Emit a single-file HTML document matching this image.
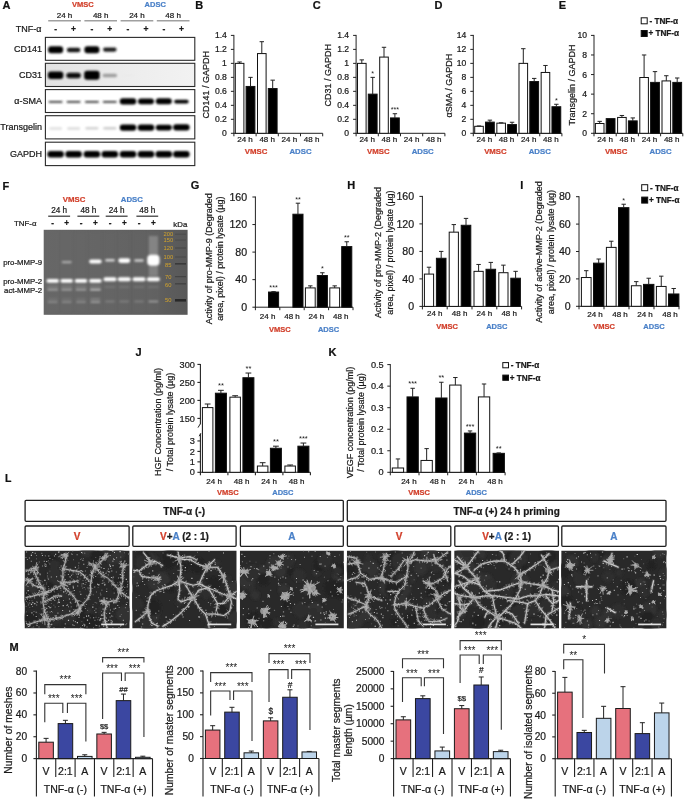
<!DOCTYPE html>
<html><head><meta charset="utf-8"><style>
html,body{margin:0;padding:0;background:#fff;}
svg{display:block;font-family:"Liberation Sans", Arial, sans-serif;}
</style></head><body>
<svg width="685" height="800" viewBox="0 0 685 800">
<defs>
<linearGradient id="gelbg" x1="0" y1="0" x2="1" y2="0"><stop offset="0" stop-color="#666666"/><stop offset="0.75" stop-color="#606060"/><stop offset="1" stop-color="#585858"/></linearGradient>
<filter id="blur1" x="-20%" y="-50%" width="140%" height="200%"><feGaussianBlur stdDeviation="0.9"/></filter>
<filter id="blur2" x="-30%" y="-80%" width="160%" height="260%"><feGaussianBlur stdDeviation="1.2"/></filter>
<filter id="blur05" x="-30%" y="-80%" width="160%" height="260%"><feGaussianBlur stdDeviation="0.5"/></filter>
<linearGradient id="cd31bg" x1="0" y1="0" x2="1" y2="0">
<stop offset="0" stop-color="#e2e2e2"/><stop offset="0.5" stop-color="#ececec"/><stop offset="1" stop-color="#f2f2f2"/></linearGradient>
</defs>
<rect width="685" height="800" fill="#fff"/>
<text x="2.60" y="9.39" font-size="11" text-anchor="start" font-weight="bold" fill="#111" stroke="#111" stroke-width="0.22">A</text>
<text x="82.90" y="6.49" font-size="7.5" text-anchor="middle" font-weight="bold" fill="#d2402c" stroke="#d2402c" stroke-width="0.22">VMSC</text>
<text x="155.20" y="6.49" font-size="7.5" text-anchor="middle" font-weight="bold" fill="#4a80c8" stroke="#4a80c8" stroke-width="0.22">ADSC</text>
<text x="64.55" y="18.16" font-size="8" text-anchor="middle" fill="#1a1a1a" stroke="#1a1a1a" stroke-width="0.22">24 h</text>
<line x1="48.20" y1="20.70" x2="80.90" y2="20.70" stroke="#a0a0a0" stroke-width="1.6"/>
<text x="100.70" y="18.16" font-size="8" text-anchor="middle" fill="#1a1a1a" stroke="#1a1a1a" stroke-width="0.22">48 h</text>
<line x1="84.40" y1="20.70" x2="117.00" y2="20.70" stroke="#a0a0a0" stroke-width="1.6"/>
<text x="136.95" y="18.16" font-size="8" text-anchor="middle" fill="#1a1a1a" stroke="#1a1a1a" stroke-width="0.22">24 h</text>
<line x1="120.60" y1="20.70" x2="153.30" y2="20.70" stroke="#a0a0a0" stroke-width="1.6"/>
<text x="173.15" y="18.16" font-size="8" text-anchor="middle" fill="#1a1a1a" stroke="#1a1a1a" stroke-width="0.22">48 h</text>
<line x1="156.80" y1="20.70" x2="189.50" y2="20.70" stroke="#a0a0a0" stroke-width="1.6"/>
<text x="41.50" y="31.91" font-size="9" text-anchor="end" fill="#1a1a1a" stroke="#1a1a1a" stroke-width="0.22">TNF-α</text>
<text x="55.60" y="31.53" font-size="8.5" text-anchor="middle" font-weight="bold" fill="#1a1a1a" stroke="#1a1a1a" stroke-width="0.22">-</text>
<text x="73.60" y="31.53" font-size="8.5" text-anchor="middle" font-weight="bold" fill="#1a1a1a" stroke="#1a1a1a" stroke-width="0.22">+</text>
<text x="91.90" y="31.53" font-size="8.5" text-anchor="middle" font-weight="bold" fill="#1a1a1a" stroke="#1a1a1a" stroke-width="0.22">-</text>
<text x="109.80" y="31.53" font-size="8.5" text-anchor="middle" font-weight="bold" fill="#1a1a1a" stroke="#1a1a1a" stroke-width="0.22">+</text>
<text x="128.00" y="31.53" font-size="8.5" text-anchor="middle" font-weight="bold" fill="#1a1a1a" stroke="#1a1a1a" stroke-width="0.22">-</text>
<text x="146.00" y="31.53" font-size="8.5" text-anchor="middle" font-weight="bold" fill="#1a1a1a" stroke="#1a1a1a" stroke-width="0.22">+</text>
<text x="163.80" y="31.53" font-size="8.5" text-anchor="middle" font-weight="bold" fill="#1a1a1a" stroke="#1a1a1a" stroke-width="0.22">-</text>
<text x="181.40" y="31.53" font-size="8.5" text-anchor="middle" font-weight="bold" fill="#1a1a1a" stroke="#1a1a1a" stroke-width="0.22">+</text>
<rect x="45.40" y="37.40" width="149.40" height="22.90" fill="#fff"/>
<g filter="url(#blur1)">
<rect x="48.10" y="46.25" width="15.00" height="7.00" rx="3.00" fill="rgb(0,0,0)"/>
<rect x="66.85" y="47.75" width="13.50" height="4.40" rx="2.20" fill="rgb(20,20,20)"/>
<rect x="84.40" y="46.25" width="15.00" height="7.00" rx="3.00" fill="rgb(0,0,0)"/>
<rect x="103.05" y="47.45" width="13.50" height="4.20" rx="2.10" fill="rgb(31,31,31)"/>
</g>
<rect x="45.40" y="37.40" width="149.40" height="22.90" fill="none" stroke="#2a2a2a" stroke-width="1.1"/>
<text x="42.00" y="51.95" font-size="9" text-anchor="end" fill="#1a1a1a" stroke="#1a1a1a" stroke-width="0.22">CD141</text>
<rect x="45.40" y="63.30" width="149.40" height="23.20" fill="#fff"/>
<rect x="45.40" y="63.30" width="149.40" height="23.20" fill="url(#cd31bg)"/>
<g filter="url(#blur1)">
<rect x="47.85" y="71.45" width="15.50" height="7.50" rx="3.00" fill="rgb(0,0,0)"/>
<rect x="66.35" y="72.75" width="14.50" height="5.50" rx="2.75" fill="rgb(13,13,13)"/>
<rect x="84.15" y="70.70" width="15.50" height="9.00" rx="3.00" fill="rgb(0,0,0)"/>
<rect x="102.55" y="73.70" width="14.50" height="3.60" rx="1.80" fill="rgb(158,158,158)"/>
<rect x="122.00" y="73.95" width="12.00" height="2.50" rx="1.25" fill="rgb(235,235,235)"/>
</g>
<rect x="45.40" y="63.30" width="149.40" height="23.20" fill="none" stroke="#2a2a2a" stroke-width="1.1"/>
<text x="42.00" y="78.01" font-size="9" text-anchor="end" fill="#1a1a1a" stroke="#1a1a1a" stroke-width="0.22">CD31</text>
<rect x="45.40" y="89.60" width="149.40" height="22.90" fill="#fff"/>
<g filter="url(#blur1)">
<rect x="48.60" y="101.00" width="14.00" height="1.70" rx="0.85" fill="rgb(51,51,51)"/>
<rect x="66.60" y="101.00" width="14.00" height="1.70" rx="0.85" fill="rgb(51,51,51)"/>
<rect x="84.90" y="101.00" width="14.00" height="1.70" rx="0.85" fill="rgb(51,51,51)"/>
<rect x="102.80" y="101.00" width="14.00" height="1.70" rx="0.85" fill="rgb(51,51,51)"/>
<rect x="119.75" y="98.25" width="16.50" height="6.20" rx="3.00" fill="rgb(0,0,0)"/>
<rect x="138.00" y="98.45" width="16.00" height="5.80" rx="2.90" fill="rgb(0,0,0)"/>
<rect x="155.80" y="98.35" width="16.00" height="6.00" rx="3.00" fill="rgb(0,0,0)"/>
<rect x="174.15" y="99.65" width="14.50" height="3.80" rx="1.90" fill="rgb(0,0,0)"/>
</g>
<rect x="45.40" y="89.60" width="149.40" height="22.90" fill="none" stroke="#2a2a2a" stroke-width="1.1"/>
<text x="42.00" y="104.16" font-size="9" text-anchor="end" fill="#1a1a1a" stroke="#1a1a1a" stroke-width="0.22">α-SMA</text>
<rect x="45.40" y="115.70" width="149.40" height="23.20" fill="#fff"/>
<g filter="url(#blur1)">
<rect x="49.10" y="127.15" width="13.00" height="2.50" rx="1.25" fill="rgb(224,224,224)"/>
<rect x="67.10" y="127.15" width="13.00" height="2.50" rx="1.25" fill="rgb(219,219,219)"/>
<rect x="85.40" y="126.95" width="13.00" height="2.50" rx="1.25" fill="rgb(209,209,209)"/>
<rect x="103.30" y="126.95" width="13.00" height="2.50" rx="1.25" fill="rgb(204,204,204)"/>
<rect x="119.75" y="124.50" width="16.50" height="6.20" rx="3.00" fill="rgb(0,0,0)"/>
<rect x="137.75" y="124.50" width="16.50" height="6.20" rx="3.00" fill="rgb(0,0,0)"/>
<rect x="155.80" y="124.80" width="16.00" height="5.60" rx="2.80" fill="rgb(0,0,0)"/>
<rect x="173.15" y="124.20" width="16.50" height="6.20" rx="3.00" fill="rgb(0,0,0)"/>
</g>
<rect x="45.40" y="115.70" width="149.40" height="23.20" fill="none" stroke="#2a2a2a" stroke-width="1.1"/>
<text x="42.00" y="130.41" font-size="9" text-anchor="end" fill="#1a1a1a" stroke="#1a1a1a" stroke-width="0.22">Transgelin</text>
<rect x="45.40" y="142.20" width="149.40" height="23.40" fill="#fff"/>
<g filter="url(#blur1)">
<rect x="47.35" y="150.90" width="16.50" height="6.60" rx="3.00" fill="rgb(0,0,0)"/>
<rect x="65.35" y="150.90" width="16.50" height="6.60" rx="3.00" fill="rgb(0,0,0)"/>
<rect x="83.65" y="150.90" width="16.50" height="6.60" rx="3.00" fill="rgb(0,0,0)"/>
<rect x="101.55" y="150.90" width="16.50" height="6.60" rx="3.00" fill="rgb(0,0,0)"/>
<rect x="119.75" y="150.90" width="16.50" height="6.60" rx="3.00" fill="rgb(0,0,0)"/>
<rect x="137.75" y="150.90" width="16.50" height="6.60" rx="3.00" fill="rgb(0,0,0)"/>
<rect x="155.55" y="150.90" width="16.50" height="6.60" rx="3.00" fill="rgb(0,0,0)"/>
<rect x="173.15" y="150.90" width="16.50" height="6.60" rx="3.00" fill="rgb(0,0,0)"/>
</g>
<rect x="45.40" y="142.20" width="149.40" height="23.40" fill="none" stroke="#2a2a2a" stroke-width="1.1"/>
<text x="42.00" y="157.00" font-size="9" text-anchor="end" fill="#1a1a1a" stroke="#1a1a1a" stroke-width="0.22">GAPDH</text>
<text x="195.30" y="9.39" font-size="11" text-anchor="start" font-weight="bold" fill="#111" stroke="#111" stroke-width="0.22">B</text>
<text x="312.80" y="9.39" font-size="11" text-anchor="start" font-weight="bold" fill="#111" stroke="#111" stroke-width="0.22">C</text>
<text x="434.60" y="9.39" font-size="11" text-anchor="start" font-weight="bold" fill="#111" stroke="#111" stroke-width="0.22">D</text>
<text x="558.70" y="9.39" font-size="11" text-anchor="start" font-weight="bold" fill="#111" stroke="#111" stroke-width="0.22">E</text>
<line x1="233.90" y1="34.90" x2="233.90" y2="136.30" stroke="#222" stroke-width="1.0"/>
<line x1="230.90" y1="133.30" x2="233.90" y2="133.30" stroke="#222" stroke-width="1.0"/>
<text x="226.90" y="136.27" font-size="8.6" text-anchor="end" fill="#1a1a1a" stroke="#1a1a1a" stroke-width="0.22">0</text>
<line x1="230.90" y1="119.31" x2="233.90" y2="119.31" stroke="#222" stroke-width="1.0"/>
<text x="226.90" y="122.28" font-size="8.6" text-anchor="end" fill="#1a1a1a" stroke="#1a1a1a" stroke-width="0.22">0.2</text>
<line x1="230.90" y1="105.33" x2="233.90" y2="105.33" stroke="#222" stroke-width="1.0"/>
<text x="226.90" y="108.30" font-size="8.6" text-anchor="end" fill="#1a1a1a" stroke="#1a1a1a" stroke-width="0.22">0.4</text>
<line x1="230.90" y1="91.34" x2="233.90" y2="91.34" stroke="#222" stroke-width="1.0"/>
<text x="226.90" y="94.31" font-size="8.6" text-anchor="end" fill="#1a1a1a" stroke="#1a1a1a" stroke-width="0.22">0.6</text>
<line x1="230.90" y1="77.36" x2="233.90" y2="77.36" stroke="#222" stroke-width="1.0"/>
<text x="226.90" y="80.32" font-size="8.6" text-anchor="end" fill="#1a1a1a" stroke="#1a1a1a" stroke-width="0.22">0.8</text>
<line x1="230.90" y1="63.37" x2="233.90" y2="63.37" stroke="#222" stroke-width="1.0"/>
<text x="226.90" y="66.34" font-size="8.6" text-anchor="end" fill="#1a1a1a" stroke="#1a1a1a" stroke-width="0.22">1</text>
<line x1="230.90" y1="49.39" x2="233.90" y2="49.39" stroke="#222" stroke-width="1.0"/>
<text x="226.90" y="52.35" font-size="8.6" text-anchor="end" fill="#1a1a1a" stroke="#1a1a1a" stroke-width="0.22">1.2</text>
<line x1="230.90" y1="35.40" x2="233.90" y2="35.40" stroke="#222" stroke-width="1.0"/>
<text x="226.90" y="38.37" font-size="8.6" text-anchor="end" fill="#1a1a1a" stroke="#1a1a1a" stroke-width="0.22">1.4</text>
<line x1="233.40" y1="133.30" x2="322.70" y2="133.30" stroke="#222" stroke-width="1.0"/>
<line x1="256.10" y1="133.30" x2="256.10" y2="136.30" stroke="#222" stroke-width="1.0"/>
<line x1="278.30" y1="133.30" x2="278.30" y2="136.30" stroke="#222" stroke-width="1.0"/>
<line x1="300.50" y1="133.30" x2="300.50" y2="136.30" stroke="#222" stroke-width="1.0"/>
<line x1="322.70" y1="133.30" x2="322.70" y2="136.30" stroke="#222" stroke-width="1.0"/>
<rect x="235.30" y="63.37" width="8.60" height="69.93" fill="#fff" stroke="#111" stroke-width="1"/>
<line x1="239.60" y1="63.37" x2="239.60" y2="61.97" stroke="#222" stroke-width="1.0"/>
<line x1="237.40" y1="61.97" x2="241.80" y2="61.97" stroke="#222" stroke-width="1.0"/>
<rect x="246.10" y="86.45" width="8.80" height="46.85" fill="#000" stroke="#111" stroke-width="1"/>
<line x1="250.50" y1="86.45" x2="250.50" y2="77.36" stroke="#222" stroke-width="1.0"/>
<line x1="248.30" y1="77.36" x2="252.70" y2="77.36" stroke="#222" stroke-width="1.0"/>
<rect x="257.50" y="53.58" width="8.60" height="79.72" fill="#fff" stroke="#111" stroke-width="1"/>
<line x1="261.80" y1="53.58" x2="261.80" y2="41.69" stroke="#222" stroke-width="1.0"/>
<line x1="259.60" y1="41.69" x2="264.00" y2="41.69" stroke="#222" stroke-width="1.0"/>
<rect x="268.30" y="88.55" width="8.80" height="44.75" fill="#000" stroke="#111" stroke-width="1"/>
<line x1="272.70" y1="88.55" x2="272.70" y2="80.15" stroke="#222" stroke-width="1.0"/>
<line x1="270.50" y1="80.15" x2="274.90" y2="80.15" stroke="#222" stroke-width="1.0"/>
<text transform="translate(205.40,84.80) rotate(-90)" x="0" y="3.10" font-size="9" text-anchor="middle" fill="#1a1a1a" stroke="#1a1a1a" stroke-width="0.22">CD141 / GAPDH</text>
<text x="245.00" y="142.46" font-size="8" text-anchor="middle" fill="#1a1a1a" stroke="#1a1a1a" stroke-width="0.22">24 h</text>
<text x="267.20" y="142.46" font-size="8" text-anchor="middle" fill="#1a1a1a" stroke="#1a1a1a" stroke-width="0.22">48 h</text>
<text x="289.40" y="142.46" font-size="8" text-anchor="middle" fill="#1a1a1a" stroke="#1a1a1a" stroke-width="0.22">24 h</text>
<text x="311.60" y="142.46" font-size="8" text-anchor="middle" fill="#1a1a1a" stroke="#1a1a1a" stroke-width="0.22">48 h</text>
<text x="256.10" y="153.69" font-size="7.8" text-anchor="middle" font-weight="bold" fill="#d2402c" stroke="#d2402c" stroke-width="0.22">VMSC</text>
<text x="300.50" y="153.69" font-size="7.8" text-anchor="middle" font-weight="bold" fill="#4a80c8" stroke="#4a80c8" stroke-width="0.22">ADSC</text>
<line x1="356.10" y1="34.90" x2="356.10" y2="136.30" stroke="#222" stroke-width="1.0"/>
<line x1="353.10" y1="133.30" x2="356.10" y2="133.30" stroke="#222" stroke-width="1.0"/>
<text x="349.10" y="136.27" font-size="8.6" text-anchor="end" fill="#1a1a1a" stroke="#1a1a1a" stroke-width="0.22">0</text>
<line x1="353.10" y1="119.31" x2="356.10" y2="119.31" stroke="#222" stroke-width="1.0"/>
<text x="349.10" y="122.28" font-size="8.6" text-anchor="end" fill="#1a1a1a" stroke="#1a1a1a" stroke-width="0.22">0.2</text>
<line x1="353.10" y1="105.33" x2="356.10" y2="105.33" stroke="#222" stroke-width="1.0"/>
<text x="349.10" y="108.30" font-size="8.6" text-anchor="end" fill="#1a1a1a" stroke="#1a1a1a" stroke-width="0.22">0.4</text>
<line x1="353.10" y1="91.34" x2="356.10" y2="91.34" stroke="#222" stroke-width="1.0"/>
<text x="349.10" y="94.31" font-size="8.6" text-anchor="end" fill="#1a1a1a" stroke="#1a1a1a" stroke-width="0.22">0.6</text>
<line x1="353.10" y1="77.36" x2="356.10" y2="77.36" stroke="#222" stroke-width="1.0"/>
<text x="349.10" y="80.32" font-size="8.6" text-anchor="end" fill="#1a1a1a" stroke="#1a1a1a" stroke-width="0.22">0.8</text>
<line x1="353.10" y1="63.37" x2="356.10" y2="63.37" stroke="#222" stroke-width="1.0"/>
<text x="349.10" y="66.34" font-size="8.6" text-anchor="end" fill="#1a1a1a" stroke="#1a1a1a" stroke-width="0.22">1</text>
<line x1="353.10" y1="49.39" x2="356.10" y2="49.39" stroke="#222" stroke-width="1.0"/>
<text x="349.10" y="52.35" font-size="8.6" text-anchor="end" fill="#1a1a1a" stroke="#1a1a1a" stroke-width="0.22">1.2</text>
<line x1="353.10" y1="35.40" x2="356.10" y2="35.40" stroke="#222" stroke-width="1.0"/>
<text x="349.10" y="38.37" font-size="8.6" text-anchor="end" fill="#1a1a1a" stroke="#1a1a1a" stroke-width="0.22">1.4</text>
<line x1="355.60" y1="133.30" x2="444.90" y2="133.30" stroke="#222" stroke-width="1.0"/>
<line x1="378.30" y1="133.30" x2="378.30" y2="136.30" stroke="#222" stroke-width="1.0"/>
<line x1="400.50" y1="133.30" x2="400.50" y2="136.30" stroke="#222" stroke-width="1.0"/>
<line x1="422.70" y1="133.30" x2="422.70" y2="136.30" stroke="#222" stroke-width="1.0"/>
<line x1="444.90" y1="133.30" x2="444.90" y2="136.30" stroke="#222" stroke-width="1.0"/>
<rect x="357.50" y="63.37" width="8.60" height="69.93" fill="#fff" stroke="#111" stroke-width="1"/>
<line x1="361.80" y1="63.37" x2="361.80" y2="59.88" stroke="#222" stroke-width="1.0"/>
<line x1="359.60" y1="59.88" x2="364.00" y2="59.88" stroke="#222" stroke-width="1.0"/>
<rect x="368.30" y="94.14" width="8.80" height="39.16" fill="#000" stroke="#111" stroke-width="1"/>
<line x1="372.70" y1="94.14" x2="372.70" y2="77.36" stroke="#222" stroke-width="1.0"/>
<line x1="370.50" y1="77.36" x2="374.90" y2="77.36" stroke="#222" stroke-width="1.0"/>
<rect x="379.70" y="57.08" width="8.60" height="76.22" fill="#fff" stroke="#111" stroke-width="1"/>
<line x1="384.00" y1="57.08" x2="384.00" y2="47.29" stroke="#222" stroke-width="1.0"/>
<line x1="381.80" y1="47.29" x2="386.20" y2="47.29" stroke="#222" stroke-width="1.0"/>
<rect x="390.50" y="117.92" width="8.80" height="15.38" fill="#000" stroke="#111" stroke-width="1"/>
<line x1="394.90" y1="117.92" x2="394.90" y2="113.72" stroke="#222" stroke-width="1.0"/>
<line x1="392.70" y1="113.72" x2="397.10" y2="113.72" stroke="#222" stroke-width="1.0"/>
<text x="372.70" y="76.08" font-size="7.2" text-anchor="middle" fill="#1a1a1a">*</text>
<text x="394.90" y="112.45" font-size="7.2" text-anchor="middle" fill="#1a1a1a">***</text>
<text transform="translate(328.00,75.30) rotate(-90)" x="0" y="3.10" font-size="9" text-anchor="middle" fill="#1a1a1a" stroke="#1a1a1a" stroke-width="0.22">CD31 / GAPDH</text>
<text x="367.20" y="142.46" font-size="8" text-anchor="middle" fill="#1a1a1a" stroke="#1a1a1a" stroke-width="0.22">24 h</text>
<text x="389.40" y="142.46" font-size="8" text-anchor="middle" fill="#1a1a1a" stroke="#1a1a1a" stroke-width="0.22">48 h</text>
<text x="411.60" y="142.46" font-size="8" text-anchor="middle" fill="#1a1a1a" stroke="#1a1a1a" stroke-width="0.22">24 h</text>
<text x="433.80" y="142.46" font-size="8" text-anchor="middle" fill="#1a1a1a" stroke="#1a1a1a" stroke-width="0.22">48 h</text>
<text x="378.30" y="153.69" font-size="7.8" text-anchor="middle" font-weight="bold" fill="#d2402c" stroke="#d2402c" stroke-width="0.22">VMSC</text>
<text x="422.70" y="153.69" font-size="7.8" text-anchor="middle" font-weight="bold" fill="#4a80c8" stroke="#4a80c8" stroke-width="0.22">ADSC</text>
<line x1="473.30" y1="34.90" x2="473.30" y2="136.30" stroke="#222" stroke-width="1.0"/>
<line x1="470.30" y1="133.30" x2="473.30" y2="133.30" stroke="#222" stroke-width="1.0"/>
<text x="466.30" y="136.27" font-size="8.6" text-anchor="end" fill="#1a1a1a" stroke="#1a1a1a" stroke-width="0.22">0</text>
<line x1="470.30" y1="119.31" x2="473.30" y2="119.31" stroke="#222" stroke-width="1.0"/>
<text x="466.30" y="122.28" font-size="8.6" text-anchor="end" fill="#1a1a1a" stroke="#1a1a1a" stroke-width="0.22">2</text>
<line x1="470.30" y1="105.33" x2="473.30" y2="105.33" stroke="#222" stroke-width="1.0"/>
<text x="466.30" y="108.30" font-size="8.6" text-anchor="end" fill="#1a1a1a" stroke="#1a1a1a" stroke-width="0.22">4</text>
<line x1="470.30" y1="91.34" x2="473.30" y2="91.34" stroke="#222" stroke-width="1.0"/>
<text x="466.30" y="94.31" font-size="8.6" text-anchor="end" fill="#1a1a1a" stroke="#1a1a1a" stroke-width="0.22">6</text>
<line x1="470.30" y1="77.36" x2="473.30" y2="77.36" stroke="#222" stroke-width="1.0"/>
<text x="466.30" y="80.32" font-size="8.6" text-anchor="end" fill="#1a1a1a" stroke="#1a1a1a" stroke-width="0.22">8</text>
<line x1="470.30" y1="63.37" x2="473.30" y2="63.37" stroke="#222" stroke-width="1.0"/>
<text x="466.30" y="66.34" font-size="8.6" text-anchor="end" fill="#1a1a1a" stroke="#1a1a1a" stroke-width="0.22">10</text>
<line x1="470.30" y1="49.39" x2="473.30" y2="49.39" stroke="#222" stroke-width="1.0"/>
<text x="466.30" y="52.35" font-size="8.6" text-anchor="end" fill="#1a1a1a" stroke="#1a1a1a" stroke-width="0.22">12</text>
<line x1="470.30" y1="35.40" x2="473.30" y2="35.40" stroke="#222" stroke-width="1.0"/>
<text x="466.30" y="38.37" font-size="8.6" text-anchor="end" fill="#1a1a1a" stroke="#1a1a1a" stroke-width="0.22">14</text>
<line x1="472.80" y1="133.30" x2="561.90" y2="133.30" stroke="#222" stroke-width="1.0"/>
<line x1="495.45" y1="133.30" x2="495.45" y2="136.30" stroke="#222" stroke-width="1.0"/>
<line x1="517.60" y1="133.30" x2="517.60" y2="136.30" stroke="#222" stroke-width="1.0"/>
<line x1="539.75" y1="133.30" x2="539.75" y2="136.30" stroke="#222" stroke-width="1.0"/>
<line x1="561.90" y1="133.30" x2="561.90" y2="136.30" stroke="#222" stroke-width="1.0"/>
<rect x="474.70" y="126.31" width="8.60" height="6.99" fill="#fff" stroke="#111" stroke-width="1"/>
<line x1="479.00" y1="126.31" x2="479.00" y2="125.96" stroke="#222" stroke-width="1.0"/>
<line x1="476.80" y1="125.96" x2="481.20" y2="125.96" stroke="#222" stroke-width="1.0"/>
<rect x="485.50" y="122.11" width="8.80" height="11.19" fill="#000" stroke="#111" stroke-width="1"/>
<line x1="489.90" y1="122.11" x2="489.90" y2="120.15" stroke="#222" stroke-width="1.0"/>
<line x1="487.70" y1="120.15" x2="492.10" y2="120.15" stroke="#222" stroke-width="1.0"/>
<rect x="496.85" y="123.16" width="8.60" height="10.14" fill="#fff" stroke="#111" stroke-width="1"/>
<line x1="501.15" y1="123.16" x2="501.15" y2="122.81" stroke="#222" stroke-width="1.0"/>
<line x1="498.95" y1="122.81" x2="503.35" y2="122.81" stroke="#222" stroke-width="1.0"/>
<rect x="507.65" y="124.56" width="8.80" height="8.74" fill="#000" stroke="#111" stroke-width="1"/>
<line x1="512.05" y1="124.56" x2="512.05" y2="122.25" stroke="#222" stroke-width="1.0"/>
<line x1="509.85" y1="122.25" x2="514.25" y2="122.25" stroke="#222" stroke-width="1.0"/>
<rect x="519.00" y="63.37" width="8.60" height="69.93" fill="#fff" stroke="#111" stroke-width="1"/>
<line x1="523.30" y1="63.37" x2="523.30" y2="48.69" stroke="#222" stroke-width="1.0"/>
<line x1="521.10" y1="48.69" x2="525.50" y2="48.69" stroke="#222" stroke-width="1.0"/>
<rect x="529.80" y="81.55" width="8.80" height="51.75" fill="#000" stroke="#111" stroke-width="1"/>
<line x1="534.20" y1="81.55" x2="534.20" y2="78.41" stroke="#222" stroke-width="1.0"/>
<line x1="532.00" y1="78.41" x2="536.40" y2="78.41" stroke="#222" stroke-width="1.0"/>
<rect x="541.15" y="72.46" width="8.60" height="60.84" fill="#fff" stroke="#111" stroke-width="1"/>
<line x1="545.45" y1="72.46" x2="545.45" y2="65.47" stroke="#222" stroke-width="1.0"/>
<line x1="543.25" y1="65.47" x2="547.65" y2="65.47" stroke="#222" stroke-width="1.0"/>
<rect x="551.95" y="106.73" width="8.80" height="26.57" fill="#000" stroke="#111" stroke-width="1"/>
<line x1="556.35" y1="106.73" x2="556.35" y2="104.28" stroke="#222" stroke-width="1.0"/>
<line x1="554.15" y1="104.28" x2="558.55" y2="104.28" stroke="#222" stroke-width="1.0"/>
<text x="556.35" y="103.01" font-size="7.2" text-anchor="middle" fill="#1a1a1a">*</text>
<text transform="translate(449.00,85.70) rotate(-90)" x="0" y="3.10" font-size="9" text-anchor="middle" fill="#1a1a1a" stroke="#1a1a1a" stroke-width="0.22">αSMA / GAPDH</text>
<text x="484.38" y="142.46" font-size="8" text-anchor="middle" fill="#1a1a1a" stroke="#1a1a1a" stroke-width="0.22">24 h</text>
<text x="506.52" y="142.46" font-size="8" text-anchor="middle" fill="#1a1a1a" stroke="#1a1a1a" stroke-width="0.22">48 h</text>
<text x="528.67" y="142.46" font-size="8" text-anchor="middle" fill="#1a1a1a" stroke="#1a1a1a" stroke-width="0.22">24 h</text>
<text x="550.83" y="142.46" font-size="8" text-anchor="middle" fill="#1a1a1a" stroke="#1a1a1a" stroke-width="0.22">48 h</text>
<text x="495.45" y="153.69" font-size="7.8" text-anchor="middle" font-weight="bold" fill="#d2402c" stroke="#d2402c" stroke-width="0.22">VMSC</text>
<text x="539.75" y="153.69" font-size="7.8" text-anchor="middle" font-weight="bold" fill="#4a80c8" stroke="#4a80c8" stroke-width="0.22">ADSC</text>
<line x1="594.00" y1="34.90" x2="594.00" y2="136.30" stroke="#222" stroke-width="1.0"/>
<line x1="591.00" y1="133.30" x2="594.00" y2="133.30" stroke="#222" stroke-width="1.0"/>
<text x="587.00" y="136.27" font-size="8.6" text-anchor="end" fill="#1a1a1a" stroke="#1a1a1a" stroke-width="0.22">0</text>
<line x1="591.00" y1="113.72" x2="594.00" y2="113.72" stroke="#222" stroke-width="1.0"/>
<text x="587.00" y="116.69" font-size="8.6" text-anchor="end" fill="#1a1a1a" stroke="#1a1a1a" stroke-width="0.22">2</text>
<line x1="591.00" y1="94.14" x2="594.00" y2="94.14" stroke="#222" stroke-width="1.0"/>
<text x="587.00" y="97.11" font-size="8.6" text-anchor="end" fill="#1a1a1a" stroke="#1a1a1a" stroke-width="0.22">4</text>
<line x1="591.00" y1="74.56" x2="594.00" y2="74.56" stroke="#222" stroke-width="1.0"/>
<text x="587.00" y="77.53" font-size="8.6" text-anchor="end" fill="#1a1a1a" stroke="#1a1a1a" stroke-width="0.22">6</text>
<line x1="591.00" y1="54.98" x2="594.00" y2="54.98" stroke="#222" stroke-width="1.0"/>
<text x="587.00" y="57.95" font-size="8.6" text-anchor="end" fill="#1a1a1a" stroke="#1a1a1a" stroke-width="0.22">8</text>
<line x1="591.00" y1="35.40" x2="594.00" y2="35.40" stroke="#222" stroke-width="1.0"/>
<text x="587.00" y="38.37" font-size="8.6" text-anchor="end" fill="#1a1a1a" stroke="#1a1a1a" stroke-width="0.22">10</text>
<line x1="593.50" y1="133.30" x2="682.80" y2="133.30" stroke="#222" stroke-width="1.0"/>
<line x1="616.20" y1="133.30" x2="616.20" y2="136.30" stroke="#222" stroke-width="1.0"/>
<line x1="638.40" y1="133.30" x2="638.40" y2="136.30" stroke="#222" stroke-width="1.0"/>
<line x1="660.60" y1="133.30" x2="660.60" y2="136.30" stroke="#222" stroke-width="1.0"/>
<line x1="682.80" y1="133.30" x2="682.80" y2="136.30" stroke="#222" stroke-width="1.0"/>
<rect x="595.40" y="123.51" width="8.60" height="9.79" fill="#fff" stroke="#111" stroke-width="1"/>
<line x1="599.70" y1="123.51" x2="599.70" y2="121.36" stroke="#222" stroke-width="1.0"/>
<line x1="597.50" y1="121.36" x2="601.90" y2="121.36" stroke="#222" stroke-width="1.0"/>
<rect x="606.20" y="118.62" width="8.80" height="14.69" fill="#000" stroke="#111" stroke-width="1"/>
<rect x="617.60" y="117.44" width="8.60" height="15.86" fill="#fff" stroke="#111" stroke-width="1"/>
<line x1="621.90" y1="117.44" x2="621.90" y2="115.48" stroke="#222" stroke-width="1.0"/>
<line x1="619.70" y1="115.48" x2="624.10" y2="115.48" stroke="#222" stroke-width="1.0"/>
<rect x="628.40" y="120.87" width="8.80" height="12.43" fill="#000" stroke="#111" stroke-width="1"/>
<line x1="632.80" y1="120.87" x2="632.80" y2="117.93" stroke="#222" stroke-width="1.0"/>
<line x1="630.60" y1="117.93" x2="635.00" y2="117.93" stroke="#222" stroke-width="1.0"/>
<rect x="639.80" y="77.50" width="8.60" height="55.80" fill="#fff" stroke="#111" stroke-width="1"/>
<line x1="644.10" y1="77.50" x2="644.10" y2="54.98" stroke="#222" stroke-width="1.0"/>
<line x1="641.90" y1="54.98" x2="646.30" y2="54.98" stroke="#222" stroke-width="1.0"/>
<rect x="650.60" y="82.39" width="8.80" height="50.91" fill="#000" stroke="#111" stroke-width="1"/>
<line x1="655.00" y1="82.39" x2="655.00" y2="71.62" stroke="#222" stroke-width="1.0"/>
<line x1="652.80" y1="71.62" x2="657.20" y2="71.62" stroke="#222" stroke-width="1.0"/>
<rect x="662.00" y="80.92" width="8.60" height="52.38" fill="#fff" stroke="#111" stroke-width="1"/>
<line x1="666.30" y1="80.92" x2="666.30" y2="75.73" stroke="#222" stroke-width="1.0"/>
<line x1="664.10" y1="75.73" x2="668.50" y2="75.73" stroke="#222" stroke-width="1.0"/>
<rect x="672.80" y="82.39" width="8.80" height="50.91" fill="#000" stroke="#111" stroke-width="1"/>
<line x1="677.20" y1="82.39" x2="677.20" y2="77.99" stroke="#222" stroke-width="1.0"/>
<line x1="675.00" y1="77.99" x2="679.40" y2="77.99" stroke="#222" stroke-width="1.0"/>
<text transform="translate(572.00,85.00) rotate(-90)" x="0" y="3.10" font-size="9" text-anchor="middle" fill="#1a1a1a" stroke="#1a1a1a" stroke-width="0.22">Transgelin / GAPDH</text>
<text x="605.10" y="142.46" font-size="8" text-anchor="middle" fill="#1a1a1a" stroke="#1a1a1a" stroke-width="0.22">24 h</text>
<text x="627.30" y="142.46" font-size="8" text-anchor="middle" fill="#1a1a1a" stroke="#1a1a1a" stroke-width="0.22">48 h</text>
<text x="649.50" y="142.46" font-size="8" text-anchor="middle" fill="#1a1a1a" stroke="#1a1a1a" stroke-width="0.22">24 h</text>
<text x="671.70" y="142.46" font-size="8" text-anchor="middle" fill="#1a1a1a" stroke="#1a1a1a" stroke-width="0.22">48 h</text>
<text x="616.20" y="153.69" font-size="7.8" text-anchor="middle" font-weight="bold" fill="#d2402c" stroke="#d2402c" stroke-width="0.22">VMSC</text>
<text x="660.60" y="153.69" font-size="7.8" text-anchor="middle" font-weight="bold" fill="#4a80c8" stroke="#4a80c8" stroke-width="0.22">ADSC</text>
<rect x="641.20" y="17.80" width="6.00" height="6.00" fill="#fff" stroke="#111" stroke-width="1"/>
<rect x="641.20" y="30.50" width="6.00" height="6.00" fill="#000" stroke="#111" stroke-width="1"/>
<text x="649.40" y="23.63" font-size="8.2" text-anchor="start" font-weight="bold" fill="#1a1a1a" stroke="#1a1a1a" stroke-width="0.22">- TNF-α</text>
<text x="648.40" y="36.33" font-size="8.2" text-anchor="start" font-weight="bold" fill="#1a1a1a" stroke="#1a1a1a" stroke-width="0.22">+ TNF-α</text>
<text x="2.60" y="189.59" font-size="11" text-anchor="start" font-weight="bold" fill="#111" stroke="#111" stroke-width="0.22">F</text>
<text x="74.00" y="202.29" font-size="7.8" text-anchor="middle" font-weight="bold" fill="#d2402c" stroke="#d2402c" stroke-width="0.22">VMSC</text>
<text x="131.80" y="202.29" font-size="7.8" text-anchor="middle" font-weight="bold" fill="#4a80c8" stroke="#4a80c8" stroke-width="0.22">ADSC</text>
<text x="59.15" y="212.83" font-size="8.2" text-anchor="middle" fill="#1a1a1a" stroke="#1a1a1a" stroke-width="0.22">24 h</text>
<line x1="48.20" y1="216.20" x2="70.10" y2="216.20" stroke="#333" stroke-width="1.2"/>
<text x="88.35" y="212.83" font-size="8.2" text-anchor="middle" fill="#1a1a1a" stroke="#1a1a1a" stroke-width="0.22">48 h</text>
<line x1="77.40" y1="216.20" x2="99.30" y2="216.20" stroke="#333" stroke-width="1.2"/>
<text x="116.65" y="212.83" font-size="8.2" text-anchor="middle" fill="#1a1a1a" stroke="#1a1a1a" stroke-width="0.22">24 h</text>
<line x1="105.70" y1="216.20" x2="127.60" y2="216.20" stroke="#333" stroke-width="1.2"/>
<text x="147.30" y="212.83" font-size="8.2" text-anchor="middle" fill="#1a1a1a" stroke="#1a1a1a" stroke-width="0.22">48 h</text>
<line x1="136.40" y1="216.20" x2="158.20" y2="216.20" stroke="#333" stroke-width="1.2"/>
<text x="36.50" y="226.33" font-size="7.9" text-anchor="end" fill="#1a1a1a" stroke="#1a1a1a" stroke-width="0.22">TNF-α</text>
<text x="52.70" y="226.23" font-size="8.2" text-anchor="middle" font-weight="bold" fill="#1a1a1a" stroke="#1a1a1a" stroke-width="0.22">-</text>
<text x="66.70" y="226.23" font-size="8.2" text-anchor="middle" font-weight="bold" fill="#1a1a1a" stroke="#1a1a1a" stroke-width="0.22">+</text>
<text x="81.00" y="226.23" font-size="8.2" text-anchor="middle" font-weight="bold" fill="#1a1a1a" stroke="#1a1a1a" stroke-width="0.22">-</text>
<text x="95.40" y="226.23" font-size="8.2" text-anchor="middle" font-weight="bold" fill="#1a1a1a" stroke="#1a1a1a" stroke-width="0.22">+</text>
<text x="110.00" y="226.23" font-size="8.2" text-anchor="middle" font-weight="bold" fill="#1a1a1a" stroke="#1a1a1a" stroke-width="0.22">-</text>
<text x="124.30" y="226.23" font-size="8.2" text-anchor="middle" font-weight="bold" fill="#1a1a1a" stroke="#1a1a1a" stroke-width="0.22">+</text>
<text x="139.00" y="226.23" font-size="8.2" text-anchor="middle" font-weight="bold" fill="#1a1a1a" stroke="#1a1a1a" stroke-width="0.22">-</text>
<text x="153.40" y="226.23" font-size="8.2" text-anchor="middle" font-weight="bold" fill="#1a1a1a" stroke="#1a1a1a" stroke-width="0.22">+</text>
<text x="180.30" y="226.69" font-size="7.8" text-anchor="middle" fill="#1a1a1a" stroke="#1a1a1a" stroke-width="0.22">kDa</text>
<rect x="43.70" y="229.80" width="143.90" height="85.00" fill="url(#gelbg)"/>
<g filter="url(#blur2)">
<rect x="46.70" y="231.80" width="12.00" height="81.00" fill="#6a6a6a" opacity="0.18"/>
<rect x="60.70" y="231.80" width="12.00" height="81.00" fill="#6a6a6a" opacity="0.18"/>
<rect x="75.00" y="231.80" width="12.00" height="81.00" fill="#6a6a6a" opacity="0.18"/>
<rect x="89.40" y="231.80" width="12.00" height="81.00" fill="#6a6a6a" opacity="0.18"/>
<rect x="104.00" y="231.80" width="12.00" height="81.00" fill="#6a6a6a" opacity="0.18"/>
<rect x="118.30" y="231.80" width="12.00" height="81.00" fill="#6a6a6a" opacity="0.18"/>
<rect x="133.00" y="231.80" width="12.00" height="81.00" fill="#6a6a6a" opacity="0.18"/>
<rect x="147.40" y="231.80" width="12.00" height="81.00" fill="#6a6a6a" opacity="0.18"/>
</g>
<g filter="url(#blur05)">
<rect x="175" y="233.80" width="11" height="1.00" fill="#222" opacity="0.25"/>
<rect x="175" y="239.70" width="11" height="1.00" fill="#222" opacity="0.25"/>
<rect x="175" y="247.50" width="11" height="1.00" fill="#222" opacity="0.25"/>
<rect x="175" y="256.40" width="11" height="1.20" fill="#222" opacity="0.3"/>
<rect x="175" y="263.00" width="11" height="1.60" fill="#222" opacity="0.55"/>
<rect x="175" y="276.00" width="11" height="1.20" fill="#222" opacity="0.35"/>
<rect x="175" y="283.10" width="11" height="1.20" fill="#222" opacity="0.45"/>
<rect x="175" y="299.00" width="11" height="2.60" fill="#222" opacity="0.85"/>
</g>
<g filter="url(#blur1)">
<rect x="46.45" y="279.10" width="12.50" height="3.60" rx="1.80" fill="#fff" opacity="1.0"/>
<rect x="60.45" y="279.10" width="12.50" height="3.60" rx="1.80" fill="#fff" opacity="1.0"/>
<rect x="74.75" y="279.10" width="12.50" height="3.60" rx="1.80" fill="#fff" opacity="1.0"/>
<rect x="89.15" y="279.10" width="12.50" height="3.60" rx="1.80" fill="#fff" opacity="1.0"/>
<rect x="103.50" y="277.20" width="13.00" height="4.00" rx="2.00" fill="#fff" opacity="1.0"/>
<rect x="117.80" y="277.20" width="13.00" height="4.00" rx="2.00" fill="#fff" opacity="1.0"/>
<rect x="132.50" y="277.20" width="13.00" height="4.00" rx="2.00" fill="#fff" opacity="1.0"/>
<rect x="146.90" y="277.20" width="13.00" height="4.00" rx="2.00" fill="#fff" opacity="1.0"/>
<rect x="61.70" y="261.10" width="10.00" height="2.20" rx="1.10" fill="#fff" opacity="0.45"/>
<rect x="89.15" y="259.60" width="12.50" height="4.00" rx="2.00" fill="#fff" opacity="1.0"/>
<rect x="105.25" y="259.00" width="9.50" height="2.60" rx="1.30" fill="#fff" opacity="0.75"/>
<rect x="118.30" y="258.20" width="12.00" height="4.80" rx="2.40" fill="#fff" opacity="1.0"/>
<rect x="134.25" y="259.20" width="9.50" height="2.60" rx="1.30" fill="#fff" opacity="0.7"/>
<rect x="47.20" y="288.90" width="11.00" height="1.40" rx="0.70" fill="#fff" opacity="0.55"/>
<rect x="47.20" y="286.30" width="11.00" height="1.00" rx="0.50" fill="#fff" opacity="0.3"/>
<rect x="47.70" y="301.20" width="10.00" height="1.60" rx="0.80" fill="#fff" opacity="0.3"/>
<rect x="47.70" y="298.40" width="10.00" height="1.20" rx="0.60" fill="#fff" opacity="0.15"/>
<rect x="61.20" y="288.90" width="11.00" height="1.40" rx="0.70" fill="#fff" opacity="0.55"/>
<rect x="61.20" y="286.30" width="11.00" height="1.00" rx="0.50" fill="#fff" opacity="0.3"/>
<rect x="61.70" y="301.20" width="10.00" height="1.60" rx="0.80" fill="#fff" opacity="0.3"/>
<rect x="61.70" y="298.40" width="10.00" height="1.20" rx="0.60" fill="#fff" opacity="0.15"/>
<rect x="75.50" y="288.90" width="11.00" height="1.40" rx="0.70" fill="#fff" opacity="0.55"/>
<rect x="75.50" y="286.30" width="11.00" height="1.00" rx="0.50" fill="#fff" opacity="0.3"/>
<rect x="76.00" y="301.20" width="10.00" height="1.60" rx="0.80" fill="#fff" opacity="0.3"/>
<rect x="76.00" y="298.40" width="10.00" height="1.20" rx="0.60" fill="#fff" opacity="0.15"/>
<rect x="89.90" y="288.90" width="11.00" height="1.40" rx="0.70" fill="#fff" opacity="0.8"/>
<rect x="89.90" y="286.30" width="11.00" height="1.00" rx="0.50" fill="#fff" opacity="0.3"/>
<rect x="90.40" y="301.20" width="10.00" height="1.60" rx="0.80" fill="#fff" opacity="0.45"/>
<rect x="90.40" y="298.40" width="10.00" height="1.20" rx="0.60" fill="#fff" opacity="0.35"/>
<rect x="104.50" y="286.40" width="11.00" height="1.20" rx="0.60" fill="#fff" opacity="0.2"/>
<rect x="105.00" y="300.80" width="10.00" height="1.40" rx="0.70" fill="#fff" opacity="0.22"/>
<rect x="118.80" y="286.40" width="11.00" height="1.20" rx="0.60" fill="#fff" opacity="0.2"/>
<rect x="119.30" y="300.80" width="10.00" height="1.40" rx="0.70" fill="#fff" opacity="0.22"/>
<rect x="133.50" y="286.40" width="11.00" height="1.20" rx="0.60" fill="#fff" opacity="0.2"/>
<rect x="134.00" y="300.80" width="10.00" height="1.40" rx="0.70" fill="#fff" opacity="0.22"/>
<rect x="147.90" y="286.40" width="11.00" height="1.20" rx="0.60" fill="#fff" opacity="0.2"/>
<rect x="148.40" y="300.80" width="10.00" height="1.40" rx="0.70" fill="#fff" opacity="0.45"/>
<rect x="148.90" y="236" width="9" height="20" fill="#fff" opacity="0.22"/>
<rect x="147.20" y="254.8" width="12.4" height="11" rx="4" fill="#fff"/>
<rect x="148.90" y="266" width="9" height="10" fill="#fff" opacity="0.2"/>
</g>
<text x="168.3" y="236.30" font-size="5.8" text-anchor="middle" fill="#d4a42a">200</text>
<text x="168.3" y="242.20" font-size="5.8" text-anchor="middle" fill="#d4a42a">150</text>
<text x="168.3" y="250.00" font-size="5.8" text-anchor="middle" fill="#d4a42a">120</text>
<text x="168.3" y="259.00" font-size="5.8" text-anchor="middle" fill="#d4a42a">100</text>
<text x="168.3" y="266.90" font-size="5.8" text-anchor="middle" fill="#d4a42a">85</text>
<text x="168.3" y="278.80" font-size="5.8" text-anchor="middle" fill="#d4a42a">70</text>
<text x="168.3" y="286.70" font-size="5.8" text-anchor="middle" fill="#d4a42a">60</text>
<text x="168.3" y="302.30" font-size="5.8" text-anchor="middle" fill="#d4a42a">50</text>
<text x="42.20" y="264.99" font-size="7.8" text-anchor="end" fill="#1a1a1a" stroke="#1a1a1a" stroke-width="0.22">pro-MMP-9</text>
<text x="42.20" y="284.19" font-size="7.8" text-anchor="end" fill="#1a1a1a" stroke="#1a1a1a" stroke-width="0.22">pro-MMP-2</text>
<text x="42.20" y="293.29" font-size="7.8" text-anchor="end" fill="#1a1a1a" stroke="#1a1a1a" stroke-width="0.22">act-MMP-2</text>
<text x="190.80" y="189.29" font-size="11" text-anchor="start" font-weight="bold" fill="#111" stroke="#111" stroke-width="0.22">G</text>
<text x="347.30" y="189.29" font-size="11" text-anchor="start" font-weight="bold" fill="#111" stroke="#111" stroke-width="0.22">H</text>
<text x="520.20" y="189.29" font-size="11" text-anchor="start" font-weight="bold" fill="#111" stroke="#111" stroke-width="0.22">I</text>
<line x1="255.40" y1="196.50" x2="255.40" y2="310.20" stroke="#222" stroke-width="1.0"/>
<line x1="252.40" y1="307.20" x2="255.40" y2="307.20" stroke="#222" stroke-width="1.0"/>
<text x="247.10" y="310.86" font-size="10.6" text-anchor="end" fill="#1a1a1a" stroke="#1a1a1a" stroke-width="0.22">0</text>
<line x1="252.40" y1="279.65" x2="255.40" y2="279.65" stroke="#222" stroke-width="1.0"/>
<text x="247.10" y="283.31" font-size="10.6" text-anchor="end" fill="#1a1a1a" stroke="#1a1a1a" stroke-width="0.22">40</text>
<line x1="252.40" y1="252.10" x2="255.40" y2="252.10" stroke="#222" stroke-width="1.0"/>
<text x="247.10" y="255.76" font-size="10.6" text-anchor="end" fill="#1a1a1a" stroke="#1a1a1a" stroke-width="0.22">80</text>
<line x1="252.40" y1="224.55" x2="255.40" y2="224.55" stroke="#222" stroke-width="1.0"/>
<text x="247.10" y="228.21" font-size="10.6" text-anchor="end" fill="#1a1a1a" stroke="#1a1a1a" stroke-width="0.22">120</text>
<line x1="252.40" y1="197.00" x2="255.40" y2="197.00" stroke="#222" stroke-width="1.0"/>
<text x="247.10" y="200.66" font-size="10.6" text-anchor="end" fill="#1a1a1a" stroke="#1a1a1a" stroke-width="0.22">160</text>
<line x1="254.90" y1="307.20" x2="353.00" y2="307.20" stroke="#222" stroke-width="1.0"/>
<line x1="279.80" y1="307.20" x2="279.80" y2="310.20" stroke="#222" stroke-width="1.0"/>
<line x1="304.20" y1="307.20" x2="304.20" y2="310.20" stroke="#222" stroke-width="1.0"/>
<line x1="328.60" y1="307.20" x2="328.60" y2="310.20" stroke="#222" stroke-width="1.0"/>
<line x1="353.00" y1="307.20" x2="353.00" y2="310.20" stroke="#222" stroke-width="1.0"/>
<rect x="268.50" y="292.05" width="10.10" height="15.15" fill="#000" stroke="#111" stroke-width="1"/>
<line x1="273.55" y1="292.05" x2="273.55" y2="291.63" stroke="#222" stroke-width="1.0"/>
<line x1="271.35" y1="291.63" x2="275.75" y2="291.63" stroke="#222" stroke-width="1.0"/>
<rect x="292.90" y="214.22" width="10.10" height="92.98" fill="#000" stroke="#111" stroke-width="1"/>
<line x1="297.95" y1="214.22" x2="297.95" y2="203.20" stroke="#222" stroke-width="1.0"/>
<line x1="295.75" y1="203.20" x2="300.15" y2="203.20" stroke="#222" stroke-width="1.0"/>
<rect x="305.40" y="287.91" width="9.80" height="19.29" fill="#fff" stroke="#111" stroke-width="1"/>
<line x1="310.30" y1="287.91" x2="310.30" y2="285.85" stroke="#222" stroke-width="1.0"/>
<line x1="308.10" y1="285.85" x2="312.50" y2="285.85" stroke="#222" stroke-width="1.0"/>
<rect x="317.30" y="275.52" width="10.10" height="31.68" fill="#000" stroke="#111" stroke-width="1"/>
<line x1="322.35" y1="275.52" x2="322.35" y2="272.76" stroke="#222" stroke-width="1.0"/>
<line x1="320.15" y1="272.76" x2="324.55" y2="272.76" stroke="#222" stroke-width="1.0"/>
<rect x="329.80" y="287.91" width="9.80" height="19.29" fill="#fff" stroke="#111" stroke-width="1"/>
<line x1="334.70" y1="287.91" x2="334.70" y2="285.85" stroke="#222" stroke-width="1.0"/>
<line x1="332.50" y1="285.85" x2="336.90" y2="285.85" stroke="#222" stroke-width="1.0"/>
<rect x="341.70" y="246.59" width="10.10" height="60.61" fill="#000" stroke="#111" stroke-width="1"/>
<line x1="346.75" y1="246.59" x2="346.75" y2="241.77" stroke="#222" stroke-width="1.0"/>
<line x1="344.55" y1="241.77" x2="348.95" y2="241.77" stroke="#222" stroke-width="1.0"/>
<text x="273.55" y="290.06" font-size="7.2" text-anchor="middle" fill="#1a1a1a">***</text>
<text x="297.95" y="201.62" font-size="7.2" text-anchor="middle" fill="#1a1a1a">**</text>
<text x="322.35" y="271.19" font-size="7.2" text-anchor="middle" fill="#1a1a1a">*</text>
<text x="346.75" y="240.19" font-size="7.2" text-anchor="middle" fill="#1a1a1a">**</text>
<text transform="translate(208.60,258.70) rotate(-90)" x="0" y="3.10" font-size="9" text-anchor="middle" fill="#1a1a1a" stroke="#1a1a1a" stroke-width="0.22">Activity of pro-MMP-9 (Degraded</text>
<text transform="translate(220.20,258.70) rotate(-90)" x="0" y="3.10" font-size="9" text-anchor="middle" fill="#1a1a1a" stroke="#1a1a1a" stroke-width="0.22">area, pixel) / protein lysate (µg)</text>
<text x="267.60" y="319.06" font-size="8" text-anchor="middle" fill="#1a1a1a" stroke="#1a1a1a" stroke-width="0.22">24 h</text>
<text x="292.00" y="319.06" font-size="8" text-anchor="middle" fill="#1a1a1a" stroke="#1a1a1a" stroke-width="0.22">48 h</text>
<text x="316.40" y="319.06" font-size="8" text-anchor="middle" fill="#1a1a1a" stroke="#1a1a1a" stroke-width="0.22">24 h</text>
<text x="340.80" y="319.06" font-size="8" text-anchor="middle" fill="#1a1a1a" stroke="#1a1a1a" stroke-width="0.22">48 h</text>
<text x="279.80" y="331.59" font-size="7.5" text-anchor="middle" font-weight="bold" fill="#d2402c" stroke="#d2402c" stroke-width="0.22">VMSC</text>
<text x="328.60" y="331.59" font-size="7.5" text-anchor="middle" font-weight="bold" fill="#4a80c8" stroke="#4a80c8" stroke-width="0.22">ADSC</text>
<line x1="422.40" y1="195.90" x2="422.40" y2="309.40" stroke="#222" stroke-width="1.0"/>
<line x1="419.40" y1="306.40" x2="422.40" y2="306.40" stroke="#222" stroke-width="1.0"/>
<text x="414.10" y="310.06" font-size="10.6" text-anchor="end" fill="#1a1a1a" stroke="#1a1a1a" stroke-width="0.22">0</text>
<line x1="419.40" y1="278.90" x2="422.40" y2="278.90" stroke="#222" stroke-width="1.0"/>
<text x="414.10" y="282.56" font-size="10.6" text-anchor="end" fill="#1a1a1a" stroke="#1a1a1a" stroke-width="0.22">40</text>
<line x1="419.40" y1="251.40" x2="422.40" y2="251.40" stroke="#222" stroke-width="1.0"/>
<text x="414.10" y="255.06" font-size="10.6" text-anchor="end" fill="#1a1a1a" stroke="#1a1a1a" stroke-width="0.22">80</text>
<line x1="419.40" y1="223.90" x2="422.40" y2="223.90" stroke="#222" stroke-width="1.0"/>
<text x="414.10" y="227.56" font-size="10.6" text-anchor="end" fill="#1a1a1a" stroke="#1a1a1a" stroke-width="0.22">120</text>
<line x1="419.40" y1="196.40" x2="422.40" y2="196.40" stroke="#222" stroke-width="1.0"/>
<text x="414.10" y="200.06" font-size="10.6" text-anchor="end" fill="#1a1a1a" stroke="#1a1a1a" stroke-width="0.22">160</text>
<line x1="421.90" y1="306.40" x2="521.60" y2="306.40" stroke="#222" stroke-width="1.0"/>
<line x1="447.20" y1="306.40" x2="447.20" y2="309.40" stroke="#222" stroke-width="1.0"/>
<line x1="472.00" y1="306.40" x2="472.00" y2="309.40" stroke="#222" stroke-width="1.0"/>
<line x1="496.80" y1="306.40" x2="496.80" y2="309.40" stroke="#222" stroke-width="1.0"/>
<line x1="521.60" y1="306.40" x2="521.60" y2="309.40" stroke="#222" stroke-width="1.0"/>
<rect x="424.40" y="274.09" width="9.20" height="32.31" fill="#fff" stroke="#111" stroke-width="1"/>
<line x1="429.00" y1="274.09" x2="429.00" y2="267.21" stroke="#222" stroke-width="1.0"/>
<line x1="426.80" y1="267.21" x2="431.20" y2="267.21" stroke="#222" stroke-width="1.0"/>
<rect x="436.40" y="258.27" width="9.60" height="48.12" fill="#000" stroke="#111" stroke-width="1"/>
<line x1="441.20" y1="258.27" x2="441.20" y2="251.40" stroke="#222" stroke-width="1.0"/>
<line x1="439.00" y1="251.40" x2="443.40" y2="251.40" stroke="#222" stroke-width="1.0"/>
<rect x="449.20" y="232.15" width="9.20" height="74.25" fill="#fff" stroke="#111" stroke-width="1"/>
<line x1="453.80" y1="232.15" x2="453.80" y2="224.59" stroke="#222" stroke-width="1.0"/>
<line x1="451.60" y1="224.59" x2="456.00" y2="224.59" stroke="#222" stroke-width="1.0"/>
<rect x="461.20" y="225.28" width="9.60" height="81.12" fill="#000" stroke="#111" stroke-width="1"/>
<line x1="466.00" y1="225.28" x2="466.00" y2="218.40" stroke="#222" stroke-width="1.0"/>
<line x1="463.80" y1="218.40" x2="468.20" y2="218.40" stroke="#222" stroke-width="1.0"/>
<rect x="474.00" y="271.34" width="9.20" height="35.06" fill="#fff" stroke="#111" stroke-width="1"/>
<line x1="478.60" y1="271.34" x2="478.60" y2="264.46" stroke="#222" stroke-width="1.0"/>
<line x1="476.40" y1="264.46" x2="480.80" y2="264.46" stroke="#222" stroke-width="1.0"/>
<rect x="486.00" y="269.27" width="9.60" height="37.12" fill="#000" stroke="#111" stroke-width="1"/>
<line x1="490.80" y1="269.27" x2="490.80" y2="262.40" stroke="#222" stroke-width="1.0"/>
<line x1="488.60" y1="262.40" x2="493.00" y2="262.40" stroke="#222" stroke-width="1.0"/>
<rect x="498.80" y="272.71" width="9.20" height="33.69" fill="#fff" stroke="#111" stroke-width="1"/>
<line x1="503.40" y1="272.71" x2="503.40" y2="265.15" stroke="#222" stroke-width="1.0"/>
<line x1="501.20" y1="265.15" x2="505.60" y2="265.15" stroke="#222" stroke-width="1.0"/>
<rect x="510.80" y="278.21" width="9.60" height="28.19" fill="#000" stroke="#111" stroke-width="1"/>
<line x1="515.60" y1="278.21" x2="515.60" y2="271.34" stroke="#222" stroke-width="1.0"/>
<line x1="513.40" y1="271.34" x2="517.80" y2="271.34" stroke="#222" stroke-width="1.0"/>
<text transform="translate(378.00,252.50) rotate(-90)" x="0" y="3.10" font-size="9" text-anchor="middle" fill="#1a1a1a" stroke="#1a1a1a" stroke-width="0.22">Activity of pro-MMP-2 (Degraded</text>
<text transform="translate(389.60,252.50) rotate(-90)" x="0" y="3.10" font-size="9" text-anchor="middle" fill="#1a1a1a" stroke="#1a1a1a" stroke-width="0.22">area, pixel) / protein lysate (µg)</text>
<text x="434.80" y="316.06" font-size="8" text-anchor="middle" fill="#1a1a1a" stroke="#1a1a1a" stroke-width="0.22">24 h</text>
<text x="459.60" y="316.06" font-size="8" text-anchor="middle" fill="#1a1a1a" stroke="#1a1a1a" stroke-width="0.22">48 h</text>
<text x="484.40" y="316.06" font-size="8" text-anchor="middle" fill="#1a1a1a" stroke="#1a1a1a" stroke-width="0.22">24 h</text>
<text x="509.20" y="316.06" font-size="8" text-anchor="middle" fill="#1a1a1a" stroke="#1a1a1a" stroke-width="0.22">48 h</text>
<text x="447.20" y="329.09" font-size="7.5" text-anchor="middle" font-weight="bold" fill="#d2402c" stroke="#d2402c" stroke-width="0.22">VMSC</text>
<text x="496.80" y="329.09" font-size="7.5" text-anchor="middle" font-weight="bold" fill="#4a80c8" stroke="#4a80c8" stroke-width="0.22">ADSC</text>
<line x1="579.00" y1="196.20" x2="579.00" y2="309.30" stroke="#222" stroke-width="1.0"/>
<line x1="576.00" y1="306.30" x2="579.00" y2="306.30" stroke="#222" stroke-width="1.0"/>
<text x="570.70" y="309.96" font-size="10.6" text-anchor="end" fill="#1a1a1a" stroke="#1a1a1a" stroke-width="0.22">0</text>
<line x1="576.00" y1="278.90" x2="579.00" y2="278.90" stroke="#222" stroke-width="1.0"/>
<text x="570.70" y="282.56" font-size="10.6" text-anchor="end" fill="#1a1a1a" stroke="#1a1a1a" stroke-width="0.22">20</text>
<line x1="576.00" y1="251.50" x2="579.00" y2="251.50" stroke="#222" stroke-width="1.0"/>
<text x="570.70" y="255.16" font-size="10.6" text-anchor="end" fill="#1a1a1a" stroke="#1a1a1a" stroke-width="0.22">40</text>
<line x1="576.00" y1="224.10" x2="579.00" y2="224.10" stroke="#222" stroke-width="1.0"/>
<text x="570.70" y="227.76" font-size="10.6" text-anchor="end" fill="#1a1a1a" stroke="#1a1a1a" stroke-width="0.22">60</text>
<line x1="576.00" y1="196.70" x2="579.00" y2="196.70" stroke="#222" stroke-width="1.0"/>
<text x="570.70" y="200.36" font-size="10.6" text-anchor="end" fill="#1a1a1a" stroke="#1a1a1a" stroke-width="0.22">80</text>
<line x1="578.50" y1="306.30" x2="679.00" y2="306.30" stroke="#222" stroke-width="1.0"/>
<line x1="604.00" y1="306.30" x2="604.00" y2="309.30" stroke="#222" stroke-width="1.0"/>
<line x1="629.00" y1="306.30" x2="629.00" y2="309.30" stroke="#222" stroke-width="1.0"/>
<line x1="654.00" y1="306.30" x2="654.00" y2="309.30" stroke="#222" stroke-width="1.0"/>
<line x1="679.00" y1="306.30" x2="679.00" y2="309.30" stroke="#222" stroke-width="1.0"/>
<rect x="581.40" y="277.53" width="9.70" height="28.77" fill="#fff" stroke="#111" stroke-width="1"/>
<line x1="586.25" y1="277.53" x2="586.25" y2="270.68" stroke="#222" stroke-width="1.0"/>
<line x1="584.05" y1="270.68" x2="588.45" y2="270.68" stroke="#222" stroke-width="1.0"/>
<rect x="593.50" y="263.14" width="10.40" height="43.16" fill="#000" stroke="#111" stroke-width="1"/>
<line x1="598.70" y1="263.14" x2="598.70" y2="259.03" stroke="#222" stroke-width="1.0"/>
<line x1="596.50" y1="259.03" x2="600.90" y2="259.03" stroke="#222" stroke-width="1.0"/>
<rect x="606.40" y="247.39" width="9.70" height="58.91" fill="#fff" stroke="#111" stroke-width="1"/>
<line x1="611.25" y1="247.39" x2="611.25" y2="241.22" stroke="#222" stroke-width="1.0"/>
<line x1="609.05" y1="241.22" x2="613.45" y2="241.22" stroke="#222" stroke-width="1.0"/>
<rect x="618.50" y="207.66" width="10.40" height="98.64" fill="#000" stroke="#111" stroke-width="1"/>
<line x1="623.70" y1="207.66" x2="623.70" y2="204.23" stroke="#222" stroke-width="1.0"/>
<line x1="621.50" y1="204.23" x2="625.90" y2="204.23" stroke="#222" stroke-width="1.0"/>
<rect x="631.40" y="285.75" width="9.70" height="20.55" fill="#fff" stroke="#111" stroke-width="1"/>
<line x1="636.25" y1="285.75" x2="636.25" y2="281.64" stroke="#222" stroke-width="1.0"/>
<line x1="634.05" y1="281.64" x2="638.45" y2="281.64" stroke="#222" stroke-width="1.0"/>
<rect x="643.50" y="284.38" width="10.40" height="21.92" fill="#000" stroke="#111" stroke-width="1"/>
<line x1="648.70" y1="284.38" x2="648.70" y2="278.22" stroke="#222" stroke-width="1.0"/>
<line x1="646.50" y1="278.22" x2="650.90" y2="278.22" stroke="#222" stroke-width="1.0"/>
<rect x="656.40" y="286.44" width="9.70" height="19.87" fill="#fff" stroke="#111" stroke-width="1"/>
<line x1="661.25" y1="286.44" x2="661.25" y2="276.16" stroke="#222" stroke-width="1.0"/>
<line x1="659.05" y1="276.16" x2="663.45" y2="276.16" stroke="#222" stroke-width="1.0"/>
<rect x="668.50" y="293.97" width="10.40" height="12.33" fill="#000" stroke="#111" stroke-width="1"/>
<line x1="673.70" y1="293.97" x2="673.70" y2="288.49" stroke="#222" stroke-width="1.0"/>
<line x1="671.50" y1="288.49" x2="675.90" y2="288.49" stroke="#222" stroke-width="1.0"/>
<text x="623.70" y="202.66" font-size="7.2" text-anchor="middle" fill="#1a1a1a">*</text>
<text transform="translate(539.30,252.00) rotate(-90)" x="0" y="3.10" font-size="9" text-anchor="middle" fill="#1a1a1a" stroke="#1a1a1a" stroke-width="0.22">Activity of active-MMP-2 (Degraded</text>
<text transform="translate(551.30,252.00) rotate(-90)" x="0" y="3.10" font-size="9" text-anchor="middle" fill="#1a1a1a" stroke="#1a1a1a" stroke-width="0.22">area, pixel) / protein lysate (µg)</text>
<text x="595.00" y="317.06" font-size="8" text-anchor="middle" fill="#1a1a1a" stroke="#1a1a1a" stroke-width="0.22">24 h</text>
<text x="620.00" y="317.06" font-size="8" text-anchor="middle" fill="#1a1a1a" stroke="#1a1a1a" stroke-width="0.22">48 h</text>
<text x="645.00" y="317.06" font-size="8" text-anchor="middle" fill="#1a1a1a" stroke="#1a1a1a" stroke-width="0.22">24 h</text>
<text x="670.00" y="317.06" font-size="8" text-anchor="middle" fill="#1a1a1a" stroke="#1a1a1a" stroke-width="0.22">48 h</text>
<text x="604.00" y="329.39" font-size="7.5" text-anchor="middle" font-weight="bold" fill="#d2402c" stroke="#d2402c" stroke-width="0.22">VMSC</text>
<text x="654.00" y="329.39" font-size="7.5" text-anchor="middle" font-weight="bold" fill="#4a80c8" stroke="#4a80c8" stroke-width="0.22">ADSC</text>
<rect x="641.70" y="184.70" width="6.00" height="6.00" fill="#fff" stroke="#111" stroke-width="1"/>
<rect x="641.70" y="197.10" width="6.00" height="6.00" fill="#000" stroke="#111" stroke-width="1"/>
<text x="649.90" y="190.53" font-size="8.2" text-anchor="start" font-weight="bold" fill="#1a1a1a" stroke="#1a1a1a" stroke-width="0.22">- TNF-α</text>
<text x="648.90" y="202.93" font-size="8.2" text-anchor="start" font-weight="bold" fill="#1a1a1a" stroke="#1a1a1a" stroke-width="0.22">+ TNF-α</text>
<text x="135.40" y="355.60" font-size="11" text-anchor="start" font-weight="bold" fill="#111" stroke="#111" stroke-width="0.22">J</text>
<text x="328.40" y="355.60" font-size="11" text-anchor="start" font-weight="bold" fill="#111" stroke="#111" stroke-width="0.22">K</text>
<line x1="200.40" y1="364.00" x2="200.40" y2="424.20" stroke="#222" stroke-width="1.1"/>
<line x1="200.40" y1="433.40" x2="200.40" y2="475.30" stroke="#222" stroke-width="1.1"/>
<line x1="200.20" y1="424.00" x2="198.00" y2="427.60" stroke="#222" stroke-width="1.0"/>
<line x1="200.80" y1="433.40" x2="199.20" y2="436.20" stroke="#222" stroke-width="1.0"/>
<line x1="197.40" y1="364.40" x2="200.40" y2="364.40" stroke="#222" stroke-width="1.1"/>
<text x="194.90" y="367.57" font-size="9.2" text-anchor="end" fill="#1a1a1a" stroke="#1a1a1a" stroke-width="0.22">300</text>
<line x1="197.40" y1="382.40" x2="200.40" y2="382.40" stroke="#222" stroke-width="1.1"/>
<text x="194.90" y="385.57" font-size="9.2" text-anchor="end" fill="#1a1a1a" stroke="#1a1a1a" stroke-width="0.22">250</text>
<line x1="197.40" y1="400.40" x2="200.40" y2="400.40" stroke="#222" stroke-width="1.1"/>
<text x="194.90" y="403.57" font-size="9.2" text-anchor="end" fill="#1a1a1a" stroke="#1a1a1a" stroke-width="0.22">200</text>
<line x1="197.40" y1="418.40" x2="200.40" y2="418.40" stroke="#222" stroke-width="1.1"/>
<text x="194.90" y="421.57" font-size="9.2" text-anchor="end" fill="#1a1a1a" stroke="#1a1a1a" stroke-width="0.22">150</text>
<line x1="197.40" y1="440.95" x2="200.40" y2="440.95" stroke="#222" stroke-width="1.1"/>
<text x="194.90" y="444.12" font-size="9.2" text-anchor="end" fill="#1a1a1a" stroke="#1a1a1a" stroke-width="0.22">3</text>
<line x1="197.40" y1="451.40" x2="200.40" y2="451.40" stroke="#222" stroke-width="1.1"/>
<text x="194.90" y="454.57" font-size="9.2" text-anchor="end" fill="#1a1a1a" stroke="#1a1a1a" stroke-width="0.22">2</text>
<line x1="197.40" y1="461.85" x2="200.40" y2="461.85" stroke="#222" stroke-width="1.1"/>
<text x="194.90" y="465.02" font-size="9.2" text-anchor="end" fill="#1a1a1a" stroke="#1a1a1a" stroke-width="0.22">1</text>
<line x1="197.40" y1="472.30" x2="200.40" y2="472.30" stroke="#222" stroke-width="1.1"/>
<text x="194.90" y="475.47" font-size="9.2" text-anchor="end" fill="#1a1a1a" stroke="#1a1a1a" stroke-width="0.22">0</text>
<line x1="199.90" y1="472.30" x2="310.40" y2="472.30" stroke="#222" stroke-width="1.1"/>
<line x1="227.90" y1="472.30" x2="227.90" y2="475.30" stroke="#222" stroke-width="1.1"/>
<line x1="255.40" y1="472.30" x2="255.40" y2="475.30" stroke="#222" stroke-width="1.1"/>
<line x1="282.90" y1="472.30" x2="282.90" y2="475.30" stroke="#222" stroke-width="1.1"/>
<line x1="310.40" y1="472.30" x2="310.40" y2="475.30" stroke="#222" stroke-width="1.1"/>
<rect x="202.40" y="407.60" width="10.50" height="64.70" fill="#fff" stroke="#111" stroke-width="1"/>
<line x1="207.65" y1="407.60" x2="207.65" y2="404.00" stroke="#222" stroke-width="1.0"/>
<line x1="204.75" y1="404.00" x2="210.55" y2="404.00" stroke="#222" stroke-width="1.0"/>
<rect x="215.40" y="393.20" width="11.00" height="79.10" fill="#000" stroke="#111" stroke-width="1"/>
<line x1="220.90" y1="393.20" x2="220.90" y2="390.32" stroke="#222" stroke-width="1.0"/>
<line x1="218.00" y1="390.32" x2="223.80" y2="390.32" stroke="#222" stroke-width="1.0"/>
<text x="220.90" y="387.90" font-size="7.5" text-anchor="middle" fill="#1a1a1a">**</text>
<rect x="229.90" y="397.16" width="10.50" height="75.14" fill="#fff" stroke="#111" stroke-width="1"/>
<line x1="235.15" y1="397.16" x2="235.15" y2="395.72" stroke="#222" stroke-width="1.0"/>
<line x1="232.25" y1="395.72" x2="238.05" y2="395.72" stroke="#222" stroke-width="1.0"/>
<rect x="242.90" y="377.72" width="11.00" height="94.58" fill="#000" stroke="#111" stroke-width="1"/>
<line x1="248.40" y1="377.72" x2="248.40" y2="373.04" stroke="#222" stroke-width="1.0"/>
<line x1="245.50" y1="373.04" x2="251.30" y2="373.04" stroke="#222" stroke-width="1.0"/>
<text x="248.40" y="370.62" font-size="7.5" text-anchor="middle" fill="#1a1a1a">**</text>
<rect x="257.40" y="466.03" width="10.50" height="6.27" fill="#fff" stroke="#111" stroke-width="1"/>
<line x1="262.65" y1="466.03" x2="262.65" y2="462.69" stroke="#222" stroke-width="1.0"/>
<line x1="259.75" y1="462.69" x2="265.55" y2="462.69" stroke="#222" stroke-width="1.0"/>
<rect x="270.40" y="448.26" width="11.00" height="24.04" fill="#000" stroke="#111" stroke-width="1"/>
<line x1="275.90" y1="448.26" x2="275.90" y2="446.18" stroke="#222" stroke-width="1.0"/>
<line x1="273.00" y1="446.18" x2="278.80" y2="446.18" stroke="#222" stroke-width="1.0"/>
<text x="275.90" y="443.76" font-size="7.5" text-anchor="middle" fill="#1a1a1a">**</text>
<rect x="284.90" y="466.03" width="10.50" height="6.27" fill="#fff" stroke="#111" stroke-width="1"/>
<line x1="290.15" y1="466.03" x2="290.15" y2="464.99" stroke="#222" stroke-width="1.0"/>
<line x1="287.25" y1="464.99" x2="293.05" y2="464.99" stroke="#222" stroke-width="1.0"/>
<rect x="297.90" y="446.18" width="11.00" height="26.12" fill="#000" stroke="#111" stroke-width="1"/>
<line x1="303.40" y1="446.18" x2="303.40" y2="443.04" stroke="#222" stroke-width="1.0"/>
<line x1="300.50" y1="443.04" x2="306.30" y2="443.04" stroke="#222" stroke-width="1.0"/>
<text x="303.40" y="440.62" font-size="7.5" text-anchor="middle" fill="#1a1a1a">***</text>
<text transform="translate(157.70,422.00) rotate(-90)" x="0" y="3.10" font-size="9" text-anchor="middle" fill="#1a1a1a" stroke="#1a1a1a" stroke-width="0.22">HGF Concentration (pg/ml)</text>
<text transform="translate(169.60,422.00) rotate(-90)" x="0" y="3.10" font-size="9" text-anchor="middle" fill="#1a1a1a" stroke="#1a1a1a" stroke-width="0.22">/ Total protein lysate (µg)</text>
<text x="214.15" y="484.16" font-size="8" text-anchor="middle" fill="#1a1a1a" stroke="#1a1a1a" stroke-width="0.22">24 h</text>
<text x="241.65" y="484.16" font-size="8" text-anchor="middle" fill="#1a1a1a" stroke="#1a1a1a" stroke-width="0.22">48 h</text>
<text x="269.15" y="484.16" font-size="8" text-anchor="middle" fill="#1a1a1a" stroke="#1a1a1a" stroke-width="0.22">24 h</text>
<text x="296.65" y="484.16" font-size="8" text-anchor="middle" fill="#1a1a1a" stroke="#1a1a1a" stroke-width="0.22">48 h</text>
<text x="227.90" y="494.79" font-size="7.5" text-anchor="middle" font-weight="bold" fill="#d2402c" stroke="#d2402c" stroke-width="0.22">VMSC</text>
<text x="282.90" y="494.79" font-size="7.5" text-anchor="middle" font-weight="bold" fill="#4a80c8" stroke="#4a80c8" stroke-width="0.22">ADSC</text>
<line x1="390.30" y1="364.10" x2="390.30" y2="475.30" stroke="#222" stroke-width="1.0"/>
<line x1="387.30" y1="472.30" x2="390.30" y2="472.30" stroke="#222" stroke-width="1.0"/>
<text x="383.70" y="475.47" font-size="9.2" text-anchor="end" fill="#1a1a1a" stroke="#1a1a1a" stroke-width="0.22">0</text>
<line x1="387.30" y1="450.76" x2="390.30" y2="450.76" stroke="#222" stroke-width="1.0"/>
<text x="383.70" y="453.93" font-size="9.2" text-anchor="end" fill="#1a1a1a" stroke="#1a1a1a" stroke-width="0.22">0.1</text>
<line x1="387.30" y1="429.22" x2="390.30" y2="429.22" stroke="#222" stroke-width="1.0"/>
<text x="383.70" y="432.39" font-size="9.2" text-anchor="end" fill="#1a1a1a" stroke="#1a1a1a" stroke-width="0.22">0.2</text>
<line x1="387.30" y1="407.68" x2="390.30" y2="407.68" stroke="#222" stroke-width="1.0"/>
<text x="383.70" y="410.85" font-size="9.2" text-anchor="end" fill="#1a1a1a" stroke="#1a1a1a" stroke-width="0.22">0.3</text>
<line x1="387.30" y1="386.14" x2="390.30" y2="386.14" stroke="#222" stroke-width="1.0"/>
<text x="383.70" y="389.31" font-size="9.2" text-anchor="end" fill="#1a1a1a" stroke="#1a1a1a" stroke-width="0.22">0.4</text>
<line x1="387.30" y1="364.60" x2="390.30" y2="364.60" stroke="#222" stroke-width="1.0"/>
<text x="383.70" y="367.77" font-size="9.2" text-anchor="end" fill="#1a1a1a" stroke="#1a1a1a" stroke-width="0.22">0.5</text>
<line x1="389.80" y1="472.30" x2="505.10" y2="472.30" stroke="#222" stroke-width="1.0"/>
<line x1="419.00" y1="472.30" x2="419.00" y2="475.30" stroke="#222" stroke-width="1.0"/>
<line x1="447.70" y1="472.30" x2="447.70" y2="475.30" stroke="#222" stroke-width="1.0"/>
<line x1="476.40" y1="472.30" x2="476.40" y2="475.30" stroke="#222" stroke-width="1.0"/>
<line x1="505.10" y1="472.30" x2="505.10" y2="475.30" stroke="#222" stroke-width="1.0"/>
<rect x="392.30" y="467.99" width="11.30" height="4.31" fill="#fff" stroke="#111" stroke-width="1"/>
<line x1="397.95" y1="467.99" x2="397.95" y2="458.95" stroke="#222" stroke-width="1.0"/>
<line x1="395.75" y1="458.95" x2="400.15" y2="458.95" stroke="#222" stroke-width="1.0"/>
<rect x="407.00" y="396.91" width="11.30" height="75.39" fill="#000" stroke="#111" stroke-width="1"/>
<line x1="412.65" y1="396.91" x2="412.65" y2="388.29" stroke="#222" stroke-width="1.0"/>
<line x1="410.45" y1="388.29" x2="414.85" y2="388.29" stroke="#222" stroke-width="1.0"/>
<rect x="421.00" y="460.45" width="11.30" height="11.85" fill="#fff" stroke="#111" stroke-width="1"/>
<line x1="426.65" y1="460.45" x2="426.65" y2="448.61" stroke="#222" stroke-width="1.0"/>
<line x1="424.45" y1="448.61" x2="428.85" y2="448.61" stroke="#222" stroke-width="1.0"/>
<rect x="435.70" y="397.99" width="11.30" height="74.31" fill="#000" stroke="#111" stroke-width="1"/>
<line x1="441.35" y1="397.99" x2="441.35" y2="382.26" stroke="#222" stroke-width="1.0"/>
<line x1="439.15" y1="382.26" x2="443.55" y2="382.26" stroke="#222" stroke-width="1.0"/>
<rect x="449.70" y="385.06" width="11.30" height="87.24" fill="#fff" stroke="#111" stroke-width="1"/>
<line x1="455.35" y1="385.06" x2="455.35" y2="377.52" stroke="#222" stroke-width="1.0"/>
<line x1="453.15" y1="377.52" x2="457.55" y2="377.52" stroke="#222" stroke-width="1.0"/>
<rect x="464.40" y="433.10" width="11.30" height="39.20" fill="#000" stroke="#111" stroke-width="1"/>
<line x1="470.05" y1="433.10" x2="470.05" y2="430.94" stroke="#222" stroke-width="1.0"/>
<line x1="467.85" y1="430.94" x2="472.25" y2="430.94" stroke="#222" stroke-width="1.0"/>
<rect x="478.40" y="396.91" width="11.30" height="75.39" fill="#fff" stroke="#111" stroke-width="1"/>
<line x1="484.05" y1="396.91" x2="484.05" y2="383.99" stroke="#222" stroke-width="1.0"/>
<line x1="481.85" y1="383.99" x2="486.25" y2="383.99" stroke="#222" stroke-width="1.0"/>
<rect x="493.10" y="453.34" width="11.30" height="18.96" fill="#000" stroke="#111" stroke-width="1"/>
<line x1="498.75" y1="453.34" x2="498.75" y2="452.91" stroke="#222" stroke-width="1.0"/>
<line x1="496.55" y1="452.91" x2="500.95" y2="452.91" stroke="#222" stroke-width="1.0"/>
<text x="412.65" y="385.88" font-size="7.5" text-anchor="middle" fill="#1a1a1a">***</text>
<text x="441.35" y="379.84" font-size="7.5" text-anchor="middle" fill="#1a1a1a">**</text>
<text x="470.05" y="428.52" font-size="7.5" text-anchor="middle" fill="#1a1a1a">***</text>
<text x="498.75" y="450.50" font-size="7.5" text-anchor="middle" fill="#1a1a1a">**</text>
<text transform="translate(349.40,422.50) rotate(-90)" x="0" y="3.10" font-size="9" text-anchor="middle" fill="#1a1a1a" stroke="#1a1a1a" stroke-width="0.22">VEGF concentration (pg/ml)</text>
<text transform="translate(360.70,422.50) rotate(-90)" x="0" y="3.10" font-size="9" text-anchor="middle" fill="#1a1a1a" stroke="#1a1a1a" stroke-width="0.22">/ Total protein lysate (µg)</text>
<text x="408.95" y="483.96" font-size="8" text-anchor="middle" fill="#1a1a1a" stroke="#1a1a1a" stroke-width="0.22">24 h</text>
<text x="437.65" y="483.96" font-size="8" text-anchor="middle" fill="#1a1a1a" stroke="#1a1a1a" stroke-width="0.22">48 h</text>
<text x="466.35" y="483.96" font-size="8" text-anchor="middle" fill="#1a1a1a" stroke="#1a1a1a" stroke-width="0.22">24 h</text>
<text x="495.05" y="483.96" font-size="8" text-anchor="middle" fill="#1a1a1a" stroke="#1a1a1a" stroke-width="0.22">48 h</text>
<text x="419.00" y="494.79" font-size="7.5" text-anchor="middle" font-weight="bold" fill="#d2402c" stroke="#d2402c" stroke-width="0.22">VMSC</text>
<text x="476.40" y="494.79" font-size="7.5" text-anchor="middle" font-weight="bold" fill="#4a80c8" stroke="#4a80c8" stroke-width="0.22">ADSC</text>
<rect x="502.80" y="362.60" width="5.70" height="5.20" fill="#fff" stroke="#111" stroke-width="1"/>
<rect x="502.80" y="375.10" width="5.70" height="5.20" fill="#000" stroke="#111" stroke-width="1"/>
<text x="510.70" y="368.03" font-size="8.2" text-anchor="start" font-weight="bold" fill="#1a1a1a" stroke="#1a1a1a" stroke-width="0.22">- TNF-α</text>
<text x="509.70" y="380.53" font-size="8.2" text-anchor="start" font-weight="bold" fill="#1a1a1a" stroke="#1a1a1a" stroke-width="0.22">+ TNF-α</text>
<text x="5.00" y="481.82" font-size="10.5" text-anchor="start" font-weight="bold" fill="#111" stroke="#111" stroke-width="0.22">L</text>
<rect x="25.10" y="500.30" width="318.20" height="21.00" rx="1" fill="#fff" stroke="#1e1e1e" stroke-width="1.3"/>
<rect x="347.30" y="500.30" width="318.70" height="21.00" rx="1" fill="#fff" stroke="#1e1e1e" stroke-width="1.3"/>
<text x="184.20" y="514.65" font-size="10" text-anchor="middle" font-weight="bold" fill="#1a1a1a" stroke="#1a1a1a" stroke-width="0.22">TNF-α (-)</text>
<text x="506.60" y="514.65" font-size="10" text-anchor="middle" font-weight="bold" fill="#1a1a1a" stroke="#1a1a1a" stroke-width="0.22">TNF-α (+) 24 h priming</text>
<rect x="25.10" y="526.00" width="104.00" height="20.30" rx="1" fill="#fff" stroke="#1e1e1e" stroke-width="1.3"/>
<text x="77.10" y="539.85" font-size="10" text-anchor="middle" font-weight="bold" fill="#d2402c" stroke="#d2402c" stroke-width="0.22">V</text>
<clipPath id="cp1"><rect x="24.50" y="550.50" width="105.20" height="78.00"/></clipPath>
<g clip-path="url(#cp1)">
<rect x="24.50" y="550.50" width="105.20" height="78.00" fill="#292929"/>
<g filter="url(#blur2)"><path d="M112.2 554.3a6.2 6.2 0 1 0 12.5 0a6.2 6.2 0 1 0 -12.5 0M116.0 613.9a8.7 8.7 0 1 0 17.4 0a8.7 8.7 0 1 0 -17.4 0M106.4 559.3a5.4 5.4 0 1 0 10.9 0a5.4 5.4 0 1 0 -10.9 0M101.9 601.9a4.0 4.0 0 1 0 8.0 0a4.0 4.0 0 1 0 -8.0 0M114.1 560.9a3.1 3.1 0 1 0 6.2 0a3.1 3.1 0 1 0 -6.2 0M23.7 617.8a7.7 7.7 0 1 0 15.5 0a7.7 7.7 0 1 0 -15.5 0M39.8 592.3a5.4 5.4 0 1 0 10.9 0a5.4 5.4 0 1 0 -10.9 0M88.7 551.1a3.1 3.1 0 1 0 6.2 0a3.1 3.1 0 1 0 -6.2 0M20.9 589.4a8.2 8.2 0 1 0 16.4 0a8.2 8.2 0 1 0 -16.4 0M80.3 550.5a6.9 6.9 0 1 0 13.9 0a6.9 6.9 0 1 0 -13.9 0M62.2 586.2a3.8 3.8 0 1 0 7.6 0a3.8 3.8 0 1 0 -7.6 0M77.5 616.0a8.5 8.5 0 1 0 17.0 0a8.5 8.5 0 1 0 -17.0 0" fill="#303030"/><path d="M83.4 625.2a8.4 8.4 0 1 0 16.7 0a8.4 8.4 0 1 0 -16.7 0M118.1 584.5a3.1 3.1 0 1 0 6.1 0a3.1 3.1 0 1 0 -6.1 0M44.1 592.6a5.3 5.3 0 1 0 10.6 0a5.3 5.3 0 1 0 -10.6 0M72.6 609.8a6.9 6.9 0 1 0 13.8 0a6.9 6.9 0 1 0 -13.8 0M46.1 561.6a6.2 6.2 0 1 0 12.3 0a6.2 6.2 0 1 0 -12.3 0M90.2 556.9a6.8 6.8 0 1 0 13.7 0a6.8 6.8 0 1 0 -13.7 0M112.5 586.3a8.3 8.3 0 1 0 16.6 0a8.3 8.3 0 1 0 -16.6 0M76.8 616.3a4.4 4.4 0 1 0 8.9 0a4.4 4.4 0 1 0 -8.9 0M59.3 617.9a6.4 6.4 0 1 0 12.8 0a6.4 6.4 0 1 0 -12.8 0M24.4 618.5a6.9 6.9 0 1 0 13.8 0a6.9 6.9 0 1 0 -13.8 0M44.6 589.8a6.4 6.4 0 1 0 12.7 0a6.4 6.4 0 1 0 -12.7 0M83.1 620.0a6.9 6.9 0 1 0 13.8 0a6.9 6.9 0 1 0 -13.8 0M89.1 581.3a5.4 5.4 0 1 0 10.8 0a5.4 5.4 0 1 0 -10.8 0M19.2 596.5a6.2 6.2 0 1 0 12.4 0a6.2 6.2 0 1 0 -12.4 0" fill="#222222"/><path d="M60.7 593.9a6.2 6.2 0 1 0 12.4 0a6.2 6.2 0 1 0 -12.4 0M75.0 575.5a3.2 3.2 0 1 0 6.3 0a3.2 3.2 0 1 0 -6.3 0M61.2 616.0a7.2 7.2 0 1 0 14.3 0a7.2 7.2 0 1 0 -14.3 0M52.5 580.6a6.1 6.1 0 1 0 12.2 0a6.1 6.1 0 1 0 -12.2 0M47.0 574.7a7.1 7.1 0 1 0 14.1 0a7.1 7.1 0 1 0 -14.1 0M49.7 564.3a4.5 4.5 0 1 0 8.9 0a4.5 4.5 0 1 0 -8.9 0M102.5 551.3a3.2 3.2 0 1 0 6.5 0a3.2 3.2 0 1 0 -6.5 0M48.3 616.8a8.2 8.2 0 1 0 16.4 0a8.2 8.2 0 1 0 -16.4 0M98.3 610.5a5.7 5.7 0 1 0 11.4 0a5.7 5.7 0 1 0 -11.4 0" fill="#2e2e2e"/></g>
<g filter="url(#blur05)">
<path d="M26.0 570.2L33.7 570.2L38.3 567.2M33.7 570.2L38.3 580.8L42.9 588.4L44.5 592.9M44.5 592.9L55.2 588.4L61.4 585.3L62.9 577.8L62.9 568.7L65.2 562.6L66.0 555.0M61.4 585.3L70.6 592.9L76.7 600.5L79.8 608.1L78.3 614.1M44.5 592.9L42.9 602.0L44.5 611.1L47.5 618.7L49.1 627.7M44.5 592.9L33.7 595.9L26.0 597.5M47.5 618.7L36.8 621.7L27.6 624.7M79.8 608.1L87.5 599.0L90.5 592.9L90.5 583.8L92.1 574.7L95.1 567.2M95.1 567.2L104.4 558.1L107.4 553.5M95.1 567.2L89.0 562.6M95.1 567.2L101.3 574.7L107.4 577.8L113.6 583.8L119.7 591.4M119.7 591.4L125.9 595.9L129.7 599.0M119.7 591.4L116.6 600.5L107.4 602.0L101.3 600.5M107.4 602.0L104.4 611.1L104.4 620.2L107.4 627.7M79.8 608.1L70.6 614.1L61.4 617.1L49.1 620.2M62.9 568.7L70.6 570.2L79.8 571.7L89.0 580.8M119.7 591.4L122.8 580.8L122.8 568.7L125.9 565.6M29.1 580.8L33.7 585.3L42.9 588.4M62.9 582.3L70.6 582.3L78.3 580.8M44.5 602.0L55.2 595.9L61.4 595.9" fill="none" stroke="#7a7a7a" stroke-width="2.8" stroke-linejoin="round" stroke-linecap="round" opacity="0.35"/>
<path d="M26.0 570.2L33.7 570.2L38.3 567.2M33.7 570.2L38.3 580.8L42.9 588.4L44.5 592.9M44.5 592.9L55.2 588.4L61.4 585.3L62.9 577.8L62.9 568.7L65.2 562.6L66.0 555.0M61.4 585.3L70.6 592.9L76.7 600.5L79.8 608.1L78.3 614.1M44.5 592.9L42.9 602.0L44.5 611.1L47.5 618.7L49.1 627.7M44.5 592.9L33.7 595.9L26.0 597.5M47.5 618.7L36.8 621.7L27.6 624.7M79.8 608.1L87.5 599.0L90.5 592.9L90.5 583.8L92.1 574.7L95.1 567.2M95.1 567.2L104.4 558.1L107.4 553.5M95.1 567.2L89.0 562.6M95.1 567.2L101.3 574.7L107.4 577.8L113.6 583.8L119.7 591.4M119.7 591.4L125.9 595.9L129.7 599.0M119.7 591.4L116.6 600.5L107.4 602.0L101.3 600.5M107.4 602.0L104.4 611.1L104.4 620.2L107.4 627.7M79.8 608.1L70.6 614.1L61.4 617.1L49.1 620.2M62.9 568.7L70.6 570.2L79.8 571.7L89.0 580.8M119.7 591.4L122.8 580.8L122.8 568.7L125.9 565.6M29.1 580.8L33.7 585.3L42.9 588.4M62.9 582.3L70.6 582.3L78.3 580.8M44.5 602.0L55.2 595.9L61.4 595.9" fill="none" stroke="#cccccc" stroke-width="0.81" stroke-linejoin="round" stroke-linecap="round"/>
<path d="M31.5 570.2l-0.2 -2.4M32.0 570.2l-0.1 1.3M29.2 570.2l1.1 -2.3M29.8 570.2l0.3 -1.4M31.5 570.2l0.1 -1.1M36.4 568.4l-0.6 -2.4M37.3 567.8l1.4 2.7M35.0 569.3l2.9 0.8M37.7 579.3l-0.7 1.2M37.5 578.9l-0.8 1.7M36.4 576.4l-1.2 2.5M37.9 579.9l1.5 -0.3M35.6 574.4l2.6 -0.1M36.9 577.5l1.4 -0.2M38.0 580.1l3.5 0.8M41.8 586.5l2.5 -1.8M42.3 587.3l3.4 -0.1M39.5 582.8l-0.7 1.4M40.0 583.6l-2.5 1.8M38.5 581.1l-0.7 2.7M42.8 588.1l0.9 -0.5M43.0 588.5l3.3 0.3M43.8 591.1l-1.8 1.8M44.3 592.4l-0.6 1.2M51.7 589.9l0.1 -2.4M53.5 589.1l-0.1 -2.8M45.8 592.3l2.4 2.4M53.3 589.2l1.3 3.2M44.5 592.9l1.0 -3.3M48.4 591.2l0.2 -1.4M54.1 588.8l0.8 1.0M55.7 588.1l-1.6 -2.5M58.4 586.8l0.7 0.8M56.3 587.9l-0.2 -2.9M59.9 586.1l0.7 1.6M62.4 580.0l2.3 -0.3M62.2 581.1l-1.4 -0.4M62.3 580.9l1.0 0.0M61.6 584.3l3.2 -0.8M62.9 577.9l1.4 0.3M62.9 568.8l-1.2 -0.6M62.9 573.5l3.1 -1.5M62.9 577.1l-2.6 -0.3M62.9 571.1l-2.0 -0.5M62.9 576.9l-2.1 -1.5M62.9 577.0l-2.7 -1.8M65.1 562.9l-2.3 -2.8M63.3 567.5l3.2 0.4M62.9 568.6l1.7 0.5M63.8 566.3l3.4 0.1M65.6 558.6l-2.7 -1.4M65.2 562.3l1.8 -0.7M65.7 557.4l-2.1 -0.1M65.2 562.3l-2.1 -1.9M65.8 556.6l2.2 -0.3M66.6 589.7l-1.5 2.2M61.7 585.6l2.4 -0.7M68.0 590.8l1.6 -1.5M65.6 588.8l1.5 -0.7M69.5 592.0l0.1 2.8M70.1 592.5l-0.0 2.0M61.9 585.8l2.8 -0.4M65.4 588.6l0.1 3.0M71.7 594.2l2.7 -0.4M76.4 600.1l-0.5 2.6M71.1 593.5l-1.7 1.3M74.7 598.0l-2.6 1.9M73.0 595.9l1.1 -0.4M76.1 599.8l-1.2 3.0M79.1 606.3l2.9 -1.6M76.7 600.6l1.3 -0.1M78.1 603.8l1.0 0.1M77.0 601.2l3.2 -0.6M77.8 603.1l-1.5 2.7M79.5 609.4l1.5 1.9M79.2 610.4l-1.5 0.6M79.5 609.2l2.3 1.0M79.3 609.9l-2.2 0.8M43.7 597.2l2.8 0.8M44.0 595.6l-3.0 -0.3M44.2 594.3l-2.4 -0.1M43.6 598.1l2.7 0.9M43.7 597.4l-2.9 -0.2M43.4 599.1l-2.0 -0.2M42.9 602.1l-2.5 1.8M44.2 609.6l1.8 -0.5M43.4 604.7l3.6 -0.4M44.4 610.5l-0.9 1.0M44.4 611.0l1.5 -0.4M44.0 608.6l-2.8 0.3M47.3 618.1l1.5 -0.4M45.1 612.6l3.1 -1.3M45.2 612.8l3.0 0.1M46.6 616.3l2.9 -0.1M46.6 616.3l-1.6 1.4M47.7 619.6l-2.2 0.2M48.6 624.8l-1.6 1.9M48.4 624.0l3.4 1.0M48.5 624.1l1.1 0.3M48.8 626.4l-1.9 1.1M48.1 621.8l2.6 -0.7M38.3 594.6l-1.6 -2.2M43.4 593.2l0.1 1.1M38.9 594.5l0.1 1.4M34.0 595.9l-1.3 -3.0M36.6 595.1l-2.0 -2.6M35.5 595.4l-0.8 -2.1M34.4 595.7l0.3 3.1M30.8 596.5l-1.1 1.9M30.6 596.6l-2.3 -2.6M30.6 596.6l0.5 1.8M27.1 597.2l0.5 2.7M27.5 597.2l-0.5 1.3M42.8 620.0l-1.5 -1.3M40.3 620.7l0.1 1.6M40.0 620.8l-0.9 -2.1M41.5 620.3l1.1 3.4M42.9 620.0l-0.9 1.9M46.0 619.1l-1.7 -1.1M40.2 620.7l-0.5 -1.0M36.6 621.7l-1.8 -1.2M34.6 622.4l-0.5 -1.9M35.4 622.1l-0.5 1.4M30.4 623.8l-1.3 -2.5M29.4 624.1l0.2 2.1M30.7 623.7l-0.4 2.5M80.1 607.7l1.8 0.6M83.3 603.9l1.2 1.0M82.9 604.4l2.5 2.5M81.7 605.7l-0.6 -1.6M84.7 602.2l-0.9 -0.8M87.0 599.5l-0.9 -0.7M86.9 599.7l0.9 0.9M81.2 606.4l-2.1 -2.1M89.5 594.9l1.6 0.9M90.1 593.8l1.5 0.4M87.8 598.3l2.5 1.2M88.0 597.9l-1.5 -3.0M90.5 592.0l-1.3 0.1M90.5 583.9l2.0 -0.9M90.5 592.0l1.5 -0.9M90.5 591.7l-1.6 -0.9M90.5 588.4l-3.3 -0.5M90.5 587.4l-1.0 -0.2M91.7 577.0l2.8 -1.8M91.1 580.6l-2.7 -1.2M91.8 576.2l-2.4 -0.5M91.9 575.9l-1.7 -1.5M91.9 575.6l-2.7 -1.2M90.9 581.7l-2.0 -0.1M93.3 571.7l-3.1 -1.3M92.6 573.5l-2.4 -1.8M94.8 567.9l-1.1 -0.5M93.4 571.5l2.8 1.3M92.6 573.5l-1.5 -0.4M100.2 562.1l1.5 1.3M98.4 564.0l1.6 1.1M95.5 566.8l3.4 0.4M99.6 562.7l-0.4 -3.2M98.1 564.2l2.3 2.4M103.4 559.0l2.5 1.5M100.6 561.8l-1.5 -2.9M99.7 562.7l-2.0 -2.3M106.2 555.4l2.1 0.8M106.4 555.0l-1.1 -2.2M106.9 554.3l-1.4 -1.5M92.2 565.0l-1.5 0.7M90.6 563.8l-1.8 1.6M90.0 563.4l-2.5 2.2M90.2 563.5l-2.2 0.5M92.2 565.0l-3.0 0.5M99.5 572.6l-2.1 2.1M97.3 569.8l2.8 -0.3M99.5 572.6l3.0 -0.8M95.8 568.0l1.8 -1.6M97.8 570.4l2.3 -1.1M99.2 572.1l-0.5 1.3M103.7 575.9l-0.5 2.2M103.7 575.9l0.5 -1.1M105.2 576.6l-1.3 2.7M102.9 575.6l1.9 -1.9M111.1 581.4l2.7 -0.2M112.8 583.1l-1.1 3.1M109.4 579.7l-0.9 3.1M112.3 582.6l-1.1 1.8M112.4 582.7l-0.7 1.6M118.7 590.1l1.5 -1.3M118.8 590.2l-0.6 1.5M117.7 588.9l2.3 -1.3M119.4 591.0l1.6 -0.6M119.1 590.6l-0.7 1.4M114.5 585.0l3.3 0.0M119.8 591.4l-0.9 2.1M123.6 594.3l-0.5 1.6M122.0 593.1l1.2 -0.3M123.1 593.9l1.8 -2.3M125.6 595.7l-0.1 3.4M127.2 597.0l2.0 -0.5M128.1 597.7l2.1 -1.3M128.3 597.9l1.5 -0.5M118.2 596.0l2.3 2.4M117.5 597.8l1.7 1.2M117.3 598.5l-1.5 0.3M119.3 592.6l-2.3 -0.3M117.0 599.3l1.2 1.7M119.2 592.8l-1.8 0.3M116.2 600.6l-0.3 3.2M115.1 600.7l-1.1 2.8M114.3 600.9l-1.1 -2.4M114.1 600.9l-0.5 2.7M113.0 601.1l-0.9 -1.5M115.5 600.7l-0.6 0.9M106.8 601.8l-0.5 3.1M106.7 601.8l-0.9 1.8M103.2 601.0l-2.2 2.3M104.3 601.2l-1.0 -2.7M105.2 608.7l1.3 1.3M106.7 604.0l-3.1 -1.2M107.0 603.4l-2.8 -0.7M106.9 603.5l2.8 0.6M106.7 604.1l1.6 1.3M107.2 602.7l-3.0 -0.9M104.4 615.4l-3.6 0.2M104.4 616.9l2.5 0.9M104.4 615.4l1.2 0.5M104.4 618.3l-3.4 0.6M104.4 614.2l-2.8 1.3M104.4 612.5l1.2 0.2M104.7 621.0l3.1 0.8M104.6 620.9l1.5 -0.6M105.2 622.2l2.2 -1.2M105.1 622.0l1.7 -0.9M107.4 627.5l-1.7 1.1M76.3 610.4l-1.1 -1.5M72.5 612.8l-0.1 1.5M72.5 612.8l0.6 2.1M71.3 613.6l0.9 3.2M73.8 612.0l0.8 2.1M76.0 610.5l-3.1 -1.1M71.7 613.3l0.8 2.2M62.1 616.9l0.6 2.8M64.9 616.0l0.3 1.2M62.6 616.7l-0.4 1.0M67.9 615.0l-1.0 -1.1M62.5 616.8l-2.3 -1.3M70.5 614.1l-0.6 1.5M58.0 618.0l0.4 1.5M60.8 617.3l-0.9 2.2M56.5 618.3l-2.1 -2.9M50.7 619.8l-0.7 2.4M60.0 617.5l-0.1 2.5M52.2 619.4l-2.2 -1.9M53.0 619.2l-1.1 -1.7M58.2 617.9l-1.7 -1.2M68.2 569.7l1.1 -0.8M64.7 569.0l1.2 -2.7M64.6 569.0l-0.6 2.5M69.2 569.9l0.3 2.4M70.3 570.1l1.0 -1.2M73.0 570.6l1.0 2.2M72.5 570.5l0.4 2.0M79.6 571.7l0.8 -1.4M76.2 571.1l0.9 -0.9M78.0 571.4l0.3 3.5M75.5 571.0l2.3 -2.4M84.5 576.4l-0.2 2.1M87.1 578.9l-1.9 1.8M85.0 576.9l-1.1 2.1M82.0 573.9l0.9 -0.4M82.4 574.3l-1.3 1.5M83.9 575.8l2.4 -1.2M81.2 573.1l-0.6 3.2M86.2 578.0l2.1 -2.2M121.9 583.8l-1.4 -0.5M120.1 590.2l-2.1 -2.6M121.2 586.4l-2.0 -2.5M121.9 583.8l-1.7 -1.0M120.3 589.5l-3.2 -0.9M121.6 585.0l-1.5 -2.4M121.5 585.1l-1.3 -1.8M122.8 576.8l-1.9 -1.5M122.8 571.1l-2.0 -0.4M122.8 577.5l-3.0 0.1M122.8 570.9l1.5 -0.6M122.8 575.5l1.6 -0.2M122.8 578.6l1.9 -0.9M122.8 578.3l-1.7 -0.8M122.8 576.9l1.4 -1.2M124.2 567.2l-1.4 -1.1M123.2 568.3l2.6 2.0M32.0 583.7l-0.6 1.9M33.5 585.1l-1.2 2.2M30.1 581.8l2.9 -0.4M32.3 583.9l1.0 -0.4M42.3 588.2l1.3 -1.7M41.2 587.8l-0.1 2.5M41.2 587.8l0.7 -0.9M37.4 586.5l1.8 -2.8M39.0 587.1l1.0 -2.5M37.0 586.4l0.9 2.3M63.9 582.3l1.0 1.1M68.7 582.3l0.4 1.8M68.4 582.3l1.4 -1.9M69.9 582.3l0.7 2.5M66.2 582.3l2.4 2.5M72.3 582.0l1.6 -2.9M76.6 581.1l0.7 -1.7M70.8 582.3l-0.6 -1.9M72.3 582.0l0.9 0.8M76.7 581.1l2.1 2.2M45.5 601.4l2.0 2.4M48.6 599.7l1.4 1.0M44.5 602.0l-0.1 -1.0M48.2 599.9l-0.7 -2.3M51.3 598.1l1.6 1.1M49.2 599.3l2.8 1.6M54.1 596.6l-0.6 -1.7M53.7 596.8l2.0 1.1M55.4 595.9l0.2 1.0M58.5 595.9l-0.3 -2.6M59.3 595.9l-0.0 1.3M61.0 595.9l0.7 0.9" stroke="#a8a8a8" stroke-width="0.55" fill="none"/>
<path d="M27.8 571.3h0.9v0.9h-0.9zM25.9 571.1h0.9v0.9h-0.9zM31.2 571.6h0.9v0.9h-0.9zM31.0 568.9h0.9v0.9h-0.9zM34.5 568.4h0.9v0.9h-0.9zM37.8 567.4h0.9v0.9h-0.9zM35.2 567.9h0.9v0.9h-0.9zM32.4 571.3h0.9v0.9h-0.9zM37.7 579.8h0.9v0.9h-0.9zM34.5 576.2h0.9v0.9h-0.9zM33.5 572.1h0.9v0.9h-0.9zM38.2 577.5h0.9v0.9h-0.9zM35.3 572.7h0.9v0.9h-0.9zM34.0 571.5h0.9v0.9h-0.9zM39.4 581.9h0.9v0.9h-0.9zM41.0 587.1h0.9v0.9h-0.9zM42.2 587.3h0.9v0.9h-0.9zM40.5 586.2h0.9v0.9h-0.9zM42.8 588.0h0.9v0.9h-0.9zM44.9 591.9h0.9v0.9h-0.9zM43.9 591.0h0.9v0.9h-0.9zM52.9 587.8h0.9v0.9h-0.9zM51.8 590.1h0.9v0.9h-0.9zM50.6 591.0h0.9v0.9h-0.9zM53.7 589.1h0.9v0.9h-0.9zM51.9 588.8h0.9v0.9h-0.9zM50.4 591.9h0.9v0.9h-0.9zM51.1 590.5h0.9v0.9h-0.9zM56.5 589.1h0.9v0.9h-0.9zM59.9 588.0h0.9v0.9h-0.9zM56.9 589.2h0.9v0.9h-0.9zM57.3 588.1h0.9v0.9h-0.9zM62.7 577.2h0.9v0.9h-0.9zM62.5 583.6h0.9v0.9h-0.9zM62.3 584.0h0.9v0.9h-0.9zM61.7 578.9h0.9v0.9h-0.9zM61.8 567.5h0.9v0.9h-0.9zM63.2 576.3h0.9v0.9h-0.9zM64.4 574.5h0.9v0.9h-0.9zM62.5 569.0h0.9v0.9h-0.9zM61.7 569.7h0.9v0.9h-0.9zM63.8 568.5h0.9v0.9h-0.9zM63.3 565.2h0.9v0.9h-0.9zM63.8 564.5h0.9v0.9h-0.9zM64.1 564.5h0.9v0.9h-0.9zM65.5 556.6h0.9v0.9h-0.9zM65.1 556.1h0.9v0.9h-0.9zM65.6 557.6h0.9v0.9h-0.9zM65.3 560.0h0.9v0.9h-0.9zM62.4 585.1h0.9v0.9h-0.9zM67.9 588.0h0.9v0.9h-0.9zM70.6 591.6h0.9v0.9h-0.9zM62.6 586.4h0.9v0.9h-0.9zM67.0 591.4h0.9v0.9h-0.9zM63.3 588.4h0.9v0.9h-0.9zM64.0 586.8h0.9v0.9h-0.9zM72.2 596.4h0.9v0.9h-0.9zM74.9 598.4h0.9v0.9h-0.9zM74.3 595.6h0.9v0.9h-0.9zM75.0 601.5h0.9v0.9h-0.9zM73.2 595.7h0.9v0.9h-0.9zM74.8 599.5h0.9v0.9h-0.9zM79.4 605.7h0.9v0.9h-0.9zM79.0 606.2h0.9v0.9h-0.9zM77.1 604.7h0.9v0.9h-0.9zM77.9 606.6h0.9v0.9h-0.9zM78.3 600.6h0.9v0.9h-0.9zM79.8 612.3h0.9v0.9h-0.9zM79.3 607.6h0.9v0.9h-0.9zM80.7 609.8h0.9v0.9h-0.9zM43.2 592.1h0.9v0.9h-0.9zM42.7 596.9h0.9v0.9h-0.9zM43.7 600.3h0.9v0.9h-0.9zM45.3 593.6h0.9v0.9h-0.9zM42.5 598.4h0.9v0.9h-0.9zM44.0 611.3h0.9v0.9h-0.9zM42.8 610.6h0.9v0.9h-0.9zM42.7 610.4h0.9v0.9h-0.9zM44.5 606.9h0.9v0.9h-0.9zM44.5 609.5h0.9v0.9h-0.9zM46.3 614.5h0.9v0.9h-0.9zM44.1 612.2h0.9v0.9h-0.9zM46.4 615.1h0.9v0.9h-0.9zM46.3 617.5h0.9v0.9h-0.9zM47.9 616.5h0.9v0.9h-0.9zM48.6 620.8h0.9v0.9h-0.9zM47.3 623.9h0.9v0.9h-0.9zM49.1 622.7h0.9v0.9h-0.9zM48.5 623.2h0.9v0.9h-0.9zM49.1 619.1h0.9v0.9h-0.9zM37.7 594.3h0.9v0.9h-0.9zM37.4 593.8h0.9v0.9h-0.9zM36.2 594.5h0.9v0.9h-0.9zM37.4 593.5h0.9v0.9h-0.9zM39.2 595.6h0.9v0.9h-0.9zM42.7 593.0h0.9v0.9h-0.9zM32.1 595.9h0.9v0.9h-0.9zM29.9 595.8h0.9v0.9h-0.9zM27.5 595.9h0.9v0.9h-0.9zM34.0 595.0h0.9v0.9h-0.9zM39.7 621.0h0.9v0.9h-0.9zM45.0 619.8h0.9v0.9h-0.9zM47.9 617.9h0.9v0.9h-0.9zM44.8 619.2h0.9v0.9h-0.9zM43.7 619.3h0.9v0.9h-0.9zM43.0 619.4h0.9v0.9h-0.9zM36.3 623.4h0.9v0.9h-0.9zM36.9 622.8h0.9v0.9h-0.9zM27.4 623.6h0.9v0.9h-0.9zM28.6 626.1h0.9v0.9h-0.9zM27.9 626.1h0.9v0.9h-0.9zM29.1 624.5h0.9v0.9h-0.9zM80.4 606.3h0.9v0.9h-0.9zM82.6 602.3h0.9v0.9h-0.9zM80.1 607.1h0.9v0.9h-0.9zM82.7 603.7h0.9v0.9h-0.9zM82.6 604.7h0.9v0.9h-0.9zM82.2 605.0h0.9v0.9h-0.9zM79.8 607.5h0.9v0.9h-0.9zM89.1 595.1h0.9v0.9h-0.9zM87.7 599.2h0.9v0.9h-0.9zM88.0 594.8h0.9v0.9h-0.9zM88.4 597.4h0.9v0.9h-0.9zM89.5 585.0h0.9v0.9h-0.9zM90.6 589.6h0.9v0.9h-0.9zM90.1 584.2h0.9v0.9h-0.9zM91.1 587.7h0.9v0.9h-0.9zM90.5 589.6h0.9v0.9h-0.9zM91.4 579.7h0.9v0.9h-0.9zM91.0 580.9h0.9v0.9h-0.9zM93.0 577.3h0.9v0.9h-0.9zM91.3 581.6h0.9v0.9h-0.9zM91.2 580.1h0.9v0.9h-0.9zM91.1 575.7h0.9v0.9h-0.9zM91.3 571.7h0.9v0.9h-0.9zM95.3 570.6h0.9v0.9h-0.9zM94.6 567.5h0.9v0.9h-0.9zM91.6 572.5h0.9v0.9h-0.9zM97.6 564.9h0.9v0.9h-0.9zM101.3 561.3h0.9v0.9h-0.9zM96.7 567.5h0.9v0.9h-0.9zM100.7 564.2h0.9v0.9h-0.9zM96.0 566.2h0.9v0.9h-0.9zM102.9 558.1h0.9v0.9h-0.9zM99.9 563.1h0.9v0.9h-0.9zM99.9 561.3h0.9v0.9h-0.9zM106.1 556.5h0.9v0.9h-0.9zM105.8 555.9h0.9v0.9h-0.9zM104.1 556.8h0.9v0.9h-0.9zM92.2 565.9h0.9v0.9h-0.9zM94.4 566.2h0.9v0.9h-0.9zM93.3 565.4h0.9v0.9h-0.9zM95.4 566.8h0.9v0.9h-0.9zM94.2 567.3h0.9v0.9h-0.9zM98.0 570.2h0.9v0.9h-0.9zM97.7 569.8h0.9v0.9h-0.9zM100.6 573.2h0.9v0.9h-0.9zM95.2 568.1h0.9v0.9h-0.9zM100.1 570.8h0.9v0.9h-0.9zM101.5 573.5h0.9v0.9h-0.9zM100.7 576.6h0.9v0.9h-0.9zM101.8 576.3h0.9v0.9h-0.9zM103.5 573.9h0.9v0.9h-0.9zM112.8 584.1h0.9v0.9h-0.9zM111.5 579.9h0.9v0.9h-0.9zM113.5 581.9h0.9v0.9h-0.9zM112.2 583.8h0.9v0.9h-0.9zM113.0 584.7h0.9v0.9h-0.9zM119.2 588.9h0.9v0.9h-0.9zM117.6 590.7h0.9v0.9h-0.9zM115.2 585.3h0.9v0.9h-0.9zM113.8 585.3h0.9v0.9h-0.9zM116.7 589.6h0.9v0.9h-0.9zM114.6 586.7h0.9v0.9h-0.9zM120.4 591.6h0.9v0.9h-0.9zM121.8 592.8h0.9v0.9h-0.9zM124.9 594.5h0.9v0.9h-0.9zM123.3 595.9h0.9v0.9h-0.9zM127.6 597.0h0.9v0.9h-0.9zM127.7 597.1h0.9v0.9h-0.9zM129.2 598.5h0.9v0.9h-0.9zM120.4 593.4h0.9v0.9h-0.9zM118.3 598.3h0.9v0.9h-0.9zM119.8 591.1h0.9v0.9h-0.9zM115.7 598.8h0.9v0.9h-0.9zM117.6 598.2h0.9v0.9h-0.9zM114.8 601.8h0.9v0.9h-0.9zM111.2 600.3h0.9v0.9h-0.9zM116.6 600.8h0.9v0.9h-0.9zM113.5 602.3h0.9v0.9h-0.9zM113.2 602.0h0.9v0.9h-0.9zM104.7 601.8h0.9v0.9h-0.9zM107.9 601.9h0.9v0.9h-0.9zM105.6 600.9h0.9v0.9h-0.9zM106.4 606.6h0.9v0.9h-0.9zM108.3 603.7h0.9v0.9h-0.9zM104.8 607.5h0.9v0.9h-0.9zM107.3 603.5h0.9v0.9h-0.9zM108.5 602.4h0.9v0.9h-0.9zM103.2 612.6h0.9v0.9h-0.9zM104.8 619.6h0.9v0.9h-0.9zM105.9 613.2h0.9v0.9h-0.9zM105.2 620.3h0.9v0.9h-0.9zM105.7 617.8h0.9v0.9h-0.9zM105.9 627.0h0.9v0.9h-0.9zM104.0 619.8h0.9v0.9h-0.9zM104.6 621.3h0.9v0.9h-0.9zM105.7 625.3h0.9v0.9h-0.9zM106.3 622.7h0.9v0.9h-0.9zM77.0 609.9h0.9v0.9h-0.9zM72.5 612.8h0.9v0.9h-0.9zM80.1 609.2h0.9v0.9h-0.9zM71.6 613.1h0.9v0.9h-0.9zM74.7 610.5h0.9v0.9h-0.9zM74.4 613.3h0.9v0.9h-0.9zM62.8 617.1h0.9v0.9h-0.9zM64.8 615.0h0.9v0.9h-0.9zM67.8 614.9h0.9v0.9h-0.9zM65.7 614.3h0.9v0.9h-0.9zM62.0 615.0h0.9v0.9h-0.9zM61.3 618.0h0.9v0.9h-0.9zM60.2 617.7h0.9v0.9h-0.9zM58.7 616.7h0.9v0.9h-0.9zM53.7 619.8h0.9v0.9h-0.9zM55.7 619.0h0.9v0.9h-0.9zM55.6 618.7h0.9v0.9h-0.9zM56.2 617.3h0.9v0.9h-0.9zM56.6 619.2h0.9v0.9h-0.9zM63.7 570.3h0.9v0.9h-0.9zM66.7 568.9h0.9v0.9h-0.9zM71.2 570.4h0.9v0.9h-0.9zM63.4 569.7h0.9v0.9h-0.9zM76.0 570.6h0.9v0.9h-0.9zM73.3 570.3h0.9v0.9h-0.9zM70.0 568.8h0.9v0.9h-0.9zM80.4 570.3h0.9v0.9h-0.9zM79.5 572.5h0.9v0.9h-0.9zM87.9 581.0h0.9v0.9h-0.9zM87.5 577.7h0.9v0.9h-0.9zM83.8 576.9h0.9v0.9h-0.9zM84.4 575.3h0.9v0.9h-0.9zM86.4 578.0h0.9v0.9h-0.9zM84.7 575.7h0.9v0.9h-0.9zM81.3 570.3h0.9v0.9h-0.9zM83.1 574.0h0.9v0.9h-0.9zM121.4 587.5h0.9v0.9h-0.9zM119.9 590.8h0.9v0.9h-0.9zM119.0 589.5h0.9v0.9h-0.9zM121.1 583.5h0.9v0.9h-0.9zM119.3 590.2h0.9v0.9h-0.9zM121.4 587.1h0.9v0.9h-0.9zM121.8 578.4h0.9v0.9h-0.9zM121.7 576.8h0.9v0.9h-0.9zM122.1 574.5h0.9v0.9h-0.9zM121.7 574.8h0.9v0.9h-0.9zM122.5 581.2h0.9v0.9h-0.9zM121.2 572.3h0.9v0.9h-0.9zM124.1 572.1h0.9v0.9h-0.9zM124.8 565.3h0.9v0.9h-0.9zM125.4 564.3h0.9v0.9h-0.9zM33.0 584.0h0.9v0.9h-0.9zM30.0 581.5h0.9v0.9h-0.9zM29.5 583.2h0.9v0.9h-0.9zM32.0 585.3h0.9v0.9h-0.9zM42.5 589.2h0.9v0.9h-0.9zM39.8 586.1h0.9v0.9h-0.9zM43.8 588.9h0.9v0.9h-0.9zM39.2 586.6h0.9v0.9h-0.9zM40.2 588.3h0.9v0.9h-0.9zM37.3 586.4h0.9v0.9h-0.9zM63.0 583.9h0.9v0.9h-0.9zM65.6 581.3h0.9v0.9h-0.9zM69.0 583.9h0.9v0.9h-0.9zM64.8 582.9h0.9v0.9h-0.9zM73.9 580.3h0.9v0.9h-0.9zM69.5 583.6h0.9v0.9h-0.9zM77.4 582.1h0.9v0.9h-0.9zM73.3 580.8h0.9v0.9h-0.9zM44.7 602.0h0.9v0.9h-0.9zM45.3 599.4h0.9v0.9h-0.9zM55.7 596.7h0.9v0.9h-0.9zM45.1 600.7h0.9v0.9h-0.9zM51.2 596.9h0.9v0.9h-0.9zM55.2 597.5h0.9v0.9h-0.9zM47.6 601.3h0.9v0.9h-0.9zM60.2 595.8h0.9v0.9h-0.9zM57.0 597.1h0.9v0.9h-0.9zM61.1 596.2h0.9v0.9h-0.9z" fill="#b5b5b5"/>
<path d="M32.7 568.7a2.6 2.6 0 1 0 5.2 0a2.6 2.6 0 1 0 -5.2 0M63.4 555.0a2.6 2.6 0 1 0 5.2 0a2.6 2.6 0 1 0 -5.2 0M101.8 558.1a2.6 2.6 0 1 0 5.2 0a2.6 2.6 0 1 0 -5.2 0M120.2 565.6a2.6 2.6 0 1 0 5.2 0a2.6 2.6 0 1 0 -5.2 0M117.1 591.4a2.6 2.6 0 1 0 5.2 0a2.6 2.6 0 1 0 -5.2 0M101.8 602.0a2.6 2.6 0 1 0 5.2 0a2.6 2.6 0 1 0 -5.2 0M41.9 618.7a2.6 2.6 0 1 0 5.2 0a2.6 2.6 0 1 0 -5.2 0M75.7 611.1a2.6 2.6 0 1 0 5.2 0a2.6 2.6 0 1 0 -5.2 0M41.9 592.9a2.6 2.6 0 1 0 5.2 0a2.6 2.6 0 1 0 -5.2 0M92.5 567.2a2.6 2.6 0 1 0 5.2 0a2.6 2.6 0 1 0 -5.2 0M60.3 583.8a2.6 2.6 0 1 0 5.2 0a2.6 2.6 0 1 0 -5.2 0M26.5 580.8a2.6 2.6 0 1 0 5.2 0a2.6 2.6 0 1 0 -5.2 0" fill="#8a8a8a" opacity="0.8"/>
<path d="M35.3 568.7l2.7 -5.0M35.3 568.7l-1.8 6.4M35.3 568.7l-4.0 -0.6M35.3 568.7l3.2 3.7M35.3 568.7l-3.1 -2.7M35.3 568.7l3.9 4.7M35.3 568.7l-5.2 -0.5M35.3 568.7l1.5 -6.6M35.3 568.7l-2.6 -0.2M66.0 555.0l-5.3 -0.7M66.0 555.0l-5.3 0.5M66.0 555.0l-2.1 1.5M66.0 555.0l2.4 1.0M66.0 555.0l3.2 -2.9M66.0 555.0l-0.2 3.9M66.0 555.0l-3.0 -1.1M66.0 555.0l1.1 4.5M66.0 555.0l-5.6 2.9M104.4 558.1l5.1 -2.8M104.4 558.1l-5.3 0.1M104.4 558.1l-3.2 3.3M104.4 558.1l0.1 -3.6M104.4 558.1l1.7 -3.8M104.4 558.1l-2.7 -0.2M104.4 558.1l-3.5 0.0M104.4 558.1l-2.3 -1.8M104.4 558.1l4.0 -1.2M122.8 565.6l1.1 4.2M122.8 565.6l-2.9 -4.5M122.8 565.6l2.2 2.6M122.8 565.6l-3.3 2.0M122.8 565.6l-3.9 -2.6M122.8 565.6l2.1 -5.3M122.8 565.6l3.0 1.6M122.8 565.6l-3.2 1.2M122.8 565.6l6.8 -0.8M119.7 591.4l4.5 2.7M119.7 591.4l-0.7 -3.9M119.7 591.4l-1.9 -3.8M119.7 591.4l1.9 5.4M119.7 591.4l3.8 -5.6M119.7 591.4l4.1 -1.7M119.7 591.4l-1.2 2.4M119.7 591.4l-1.9 -2.2M119.7 591.4l1.5 2.8M104.4 602.0l-4.0 2.1M104.4 602.0l2.7 -1.2M104.4 602.0l-5.3 -0.8M104.4 602.0l-2.8 -2.0M104.4 602.0l-4.1 -1.4M104.4 602.0l-2.0 -1.9M104.4 602.0l3.2 4.9M104.4 602.0l1.4 3.9M104.4 602.0l-0.4 -4.9M44.5 618.7l-4.1 1.0M44.5 618.7l2.2 2.8M44.5 618.7l-0.8 -3.4M44.5 618.7l-1.1 -6.4M44.5 618.7l0.5 6.5M44.5 618.7l0.4 -4.1M44.5 618.7l2.4 2.3M44.5 618.7l-4.4 -5.1M44.5 618.7l6.9 -0.0M78.3 611.1l-1.4 4.9M78.3 611.1l-2.9 3.5M78.3 611.1l4.2 0.1M78.3 611.1l-1.6 3.2M78.3 611.1l3.3 -3.3M78.3 611.1l-4.0 3.7M78.3 611.1l-4.4 5.2M78.3 611.1l1.3 5.2M78.3 611.1l0.8 -2.6M44.5 592.9l-1.8 5.7M44.5 592.9l4.6 -0.7M44.5 592.9l4.5 -2.4M44.5 592.9l2.2 -1.5M44.5 592.9l5.6 -0.3M44.5 592.9l2.5 1.4M44.5 592.9l3.9 2.4M44.5 592.9l0.5 2.5M44.5 592.9l-5.2 2.5M95.1 567.2l1.4 -4.6M95.1 567.2l-2.4 2.3M95.1 567.2l3.8 3.0M95.1 567.2l-4.1 5.5M95.1 567.2l1.1 3.7M95.1 567.2l0.4 -2.6M95.1 567.2l-0.6 -3.1M95.1 567.2l-2.6 -3.9M95.1 567.2l-1.3 -3.7M62.9 583.8l2.6 1.6M62.9 583.8l4.6 1.9M62.9 583.8l1.7 -4.3M62.9 583.8l2.7 -4.8M62.9 583.8l1.8 -2.4M62.9 583.8l5.3 2.9M62.9 583.8l-5.9 -3.3M62.9 583.8l-2.9 -2.5M62.9 583.8l-3.1 -0.2M29.1 580.8l-4.4 -2.2M29.1 580.8l3.8 -3.0M29.1 580.8l-2.2 3.4M29.1 580.8l-4.7 -0.2M29.1 580.8l-3.3 4.6M29.1 580.8l-3.2 -2.7M29.1 580.8l4.5 -2.1M29.1 580.8l3.8 -2.7M29.1 580.8l-2.1 -3.9" stroke="#b0b0b0" stroke-width="0.8" fill="none"/>
</g>
<path d="M47.1 575.6h0.8v0.8h-0.8zM25.7 605.9h0.8v0.8h-0.8zM70.5 602.8h1.0v1.0h-1.0zM118.7 606.9h1.0v1.0h-1.0zM27.4 602.5h0.8v0.8h-0.8zM121.3 573.5h1.0v1.0h-1.0zM65.4 555.3h0.8v0.8h-0.8zM79.9 607.3h0.8v0.8h-0.8zM87.0 610.0h0.8v0.8h-0.8zM71.4 578.5h0.8v0.8h-0.8zM98.3 584.8h1.0v1.0h-1.0zM124.3 564.1h1.0v1.0h-1.0zM126.2 623.2h1.0v1.0h-1.0zM39.6 573.4h1.2v1.2h-1.2zM54.1 599.8h1.2v1.2h-1.2zM83.1 558.3h0.8v0.8h-0.8zM36.8 572.4h0.8v0.8h-0.8zM121.6 564.0h0.8v0.8h-0.8zM64.7 623.3h1.2v1.2h-1.2zM122.1 572.7h0.8v0.8h-0.8zM74.8 621.0h1.2v1.2h-1.2zM49.3 557.9h1.2v1.2h-1.2zM112.4 627.3h1.0v1.0h-1.0zM82.3 559.7h1.2v1.2h-1.2zM47.9 578.6h1.2v1.2h-1.2zM67.6 560.2h0.8v0.8h-0.8zM121.9 564.7h1.2v1.2h-1.2zM120.7 560.7h1.2v1.2h-1.2zM74.1 625.0h0.8v0.8h-0.8zM122.8 619.7h1.2v1.2h-1.2zM58.3 556.3h1.0v1.0h-1.0zM128.4 553.3h1.0v1.0h-1.0zM60.1 587.8h1.2v1.2h-1.2zM105.0 556.6h1.2v1.2h-1.2zM95.4 556.9h0.8v0.8h-0.8zM50.9 603.3h0.8v0.8h-0.8zM38.3 580.4h0.8v0.8h-0.8zM72.4 550.6h0.8v0.8h-0.8zM109.8 554.9h1.2v1.2h-1.2zM81.5 585.6h0.8v0.8h-0.8zM126.7 586.3h1.2v1.2h-1.2zM98.1 597.3h1.0v1.0h-1.0zM45.5 603.8h0.8v0.8h-0.8zM125.9 593.3h0.8v0.8h-0.8zM103.1 555.6h0.8v0.8h-0.8zM95.3 611.7h1.2v1.2h-1.2zM84.2 625.9h0.8v0.8h-0.8zM68.0 606.3h1.0v1.0h-1.0zM95.3 561.8h1.2v1.2h-1.2zM29.3 600.2h0.8v0.8h-0.8zM43.7 560.7h1.2v1.2h-1.2zM85.8 604.1h1.0v1.0h-1.0zM100.6 567.0h1.2v1.2h-1.2zM112.3 577.4h1.0v1.0h-1.0zM92.7 566.7h1.0v1.0h-1.0zM101.0 611.3h0.8v0.8h-0.8zM127.5 611.0h1.0v1.0h-1.0zM106.0 554.5h1.0v1.0h-1.0zM98.4 617.2h0.8v0.8h-0.8zM69.5 593.2h1.2v1.2h-1.2zM76.9 576.4h1.2v1.2h-1.2zM78.4 562.5h1.0v1.0h-1.0zM78.4 567.6h0.8v0.8h-0.8zM102.3 582.8h1.0v1.0h-1.0zM59.4 555.6h1.2v1.2h-1.2zM38.5 626.4h1.0v1.0h-1.0zM36.2 604.4h1.0v1.0h-1.0zM26.0 592.6h1.0v1.0h-1.0zM29.9 572.8h0.8v0.8h-0.8zM64.8 615.5h1.2v1.2h-1.2zM80.4 559.1h0.8v0.8h-0.8zM46.1 595.4h0.8v0.8h-0.8zM69.8 601.8h1.2v1.2h-1.2zM29.2 602.4h1.2v1.2h-1.2zM124.3 586.9h1.0v1.0h-1.0zM117.6 586.7h0.8v0.8h-0.8zM86.5 626.4h1.0v1.0h-1.0zM25.5 557.0h1.0v1.0h-1.0zM57.3 612.6h1.2v1.2h-1.2zM42.0 565.6h1.0v1.0h-1.0zM47.9 624.3h1.2v1.2h-1.2zM53.9 555.2h1.0v1.0h-1.0zM92.7 562.3h1.0v1.0h-1.0zM70.1 613.8h0.8v0.8h-0.8zM86.5 566.9h1.2v1.2h-1.2zM112.3 560.6h1.2v1.2h-1.2zM96.0 591.6h0.8v0.8h-0.8zM36.3 601.2h1.0v1.0h-1.0zM36.1 558.4h0.8v0.8h-0.8zM83.7 586.9h1.0v1.0h-1.0zM102.2 604.1h1.2v1.2h-1.2zM64.0 586.2h1.0v1.0h-1.0zM112.7 576.6h1.2v1.2h-1.2zM94.2 586.7h0.8v0.8h-0.8zM63.0 599.9h1.0v1.0h-1.0zM53.7 589.1h1.0v1.0h-1.0zM112.4 611.0h0.8v0.8h-0.8zM101.3 567.4h0.8v0.8h-0.8zM108.0 619.6h1.2v1.2h-1.2zM84.3 598.3h0.8v0.8h-0.8zM53.5 604.7h0.8v0.8h-0.8zM84.9 608.0h1.0v1.0h-1.0zM72.2 554.2h0.8v0.8h-0.8zM34.3 569.1h0.8v0.8h-0.8zM121.8 583.5h1.0v1.0h-1.0zM84.9 570.4h1.0v1.0h-1.0zM24.9 571.4h0.8v0.8h-0.8zM89.1 593.1h1.2v1.2h-1.2zM119.5 581.6h1.2v1.2h-1.2zM111.1 622.8h1.2v1.2h-1.2z" fill="#8a8a8a"/>
<path d="M76.6 554.2h1.0v1.0h-1.0zM90.6 563.3h1.2v1.2h-1.2zM52.6 597.4h0.8v0.8h-0.8zM29.4 570.0h1.0v1.0h-1.0zM78.1 628.1h0.8v0.8h-0.8zM45.3 609.1h0.8v0.8h-0.8zM26.1 551.5h1.0v1.0h-1.0zM72.9 620.3h1.0v1.0h-1.0zM119.6 615.8h1.0v1.0h-1.0zM44.1 565.5h0.8v0.8h-0.8zM102.6 571.8h1.2v1.2h-1.2zM32.1 606.2h0.8v0.8h-0.8zM63.9 553.2h1.2v1.2h-1.2zM117.4 582.4h0.8v0.8h-0.8zM30.8 560.8h1.0v1.0h-1.0zM73.2 581.2h1.0v1.0h-1.0zM57.9 601.5h1.2v1.2h-1.2zM27.8 573.6h1.2v1.2h-1.2zM79.6 591.4h0.8v0.8h-0.8zM111.1 615.6h1.0v1.0h-1.0zM36.8 602.1h0.8v0.8h-0.8zM129.1 605.2h0.8v0.8h-0.8zM70.4 595.2h0.8v0.8h-0.8zM40.6 591.1h1.2v1.2h-1.2zM28.9 557.4h1.0v1.0h-1.0zM90.1 584.2h0.8v0.8h-0.8zM108.1 571.0h1.2v1.2h-1.2zM104.5 608.4h1.0v1.0h-1.0zM89.8 617.5h0.8v0.8h-0.8zM44.4 563.4h1.2v1.2h-1.2zM38.2 592.0h1.2v1.2h-1.2zM93.2 563.3h1.0v1.0h-1.0zM82.1 624.9h1.0v1.0h-1.0zM114.0 559.1h0.8v0.8h-0.8zM74.8 566.7h1.2v1.2h-1.2zM93.0 627.6h0.8v0.8h-0.8zM102.5 608.5h1.2v1.2h-1.2zM69.5 576.3h1.2v1.2h-1.2zM66.5 555.8h0.8v0.8h-0.8zM35.7 611.7h1.0v1.0h-1.0zM91.5 571.8h1.2v1.2h-1.2zM111.7 621.2h1.2v1.2h-1.2zM33.1 614.4h0.8v0.8h-0.8zM67.9 573.9h1.0v1.0h-1.0zM105.8 554.7h1.2v1.2h-1.2zM120.3 626.0h0.8v0.8h-0.8zM106.3 597.7h1.2v1.2h-1.2zM52.4 619.2h1.0v1.0h-1.0zM103.1 625.5h1.2v1.2h-1.2zM109.9 609.5h1.0v1.0h-1.0zM36.5 625.1h1.0v1.0h-1.0zM58.1 599.3h1.2v1.2h-1.2zM109.2 564.6h0.8v0.8h-0.8zM77.2 585.5h1.0v1.0h-1.0zM58.3 551.2h1.2v1.2h-1.2zM93.0 560.4h1.0v1.0h-1.0zM118.6 601.1h1.0v1.0h-1.0zM36.4 580.3h1.2v1.2h-1.2zM116.1 557.3h1.0v1.0h-1.0zM82.6 583.0h1.2v1.2h-1.2zM26.9 559.1h0.8v0.8h-0.8zM30.0 571.6h1.2v1.2h-1.2zM80.5 600.9h0.8v0.8h-0.8zM99.9 592.8h0.8v0.8h-0.8zM43.5 600.5h1.0v1.0h-1.0zM50.8 576.6h1.0v1.0h-1.0zM126.2 593.2h0.8v0.8h-0.8zM86.1 616.1h1.0v1.0h-1.0zM88.9 622.8h1.2v1.2h-1.2zM53.6 627.2h0.8v0.8h-0.8zM109.1 571.4h1.0v1.0h-1.0zM61.0 614.8h0.8v0.8h-0.8zM84.7 584.2h0.8v0.8h-0.8zM115.0 607.8h1.2v1.2h-1.2zM68.0 594.2h1.0v1.0h-1.0zM55.6 586.4h1.2v1.2h-1.2zM101.1 614.2h1.2v1.2h-1.2zM129.0 572.5h0.8v0.8h-0.8zM72.2 613.1h1.2v1.2h-1.2zM98.2 584.0h1.2v1.2h-1.2zM25.7 621.3h0.8v0.8h-0.8zM45.5 564.4h1.2v1.2h-1.2zM39.6 586.3h0.8v0.8h-0.8zM83.4 623.8h1.0v1.0h-1.0zM46.1 607.8h1.2v1.2h-1.2zM32.2 602.0h1.2v1.2h-1.2zM52.6 616.9h1.2v1.2h-1.2zM116.2 601.3h1.2v1.2h-1.2zM129.3 556.7h0.8v0.8h-0.8zM71.0 574.8h1.0v1.0h-1.0zM42.4 600.4h1.2v1.2h-1.2zM33.6 610.9h0.8v0.8h-0.8zM77.8 573.6h1.2v1.2h-1.2zM82.3 587.7h0.8v0.8h-0.8zM82.6 580.0h0.8v0.8h-0.8zM78.5 617.0h1.0v1.0h-1.0zM55.0 553.7h1.2v1.2h-1.2zM102.3 580.2h1.0v1.0h-1.0zM59.8 569.2h0.8v0.8h-0.8zM117.7 598.6h0.8v0.8h-0.8zM71.2 553.6h1.0v1.0h-1.0zM49.6 599.7h1.0v1.0h-1.0zM125.3 624.3h1.0v1.0h-1.0zM66.2 604.9h0.8v0.8h-0.8zM47.5 614.1h0.8v0.8h-0.8zM80.2 627.6h1.0v1.0h-1.0zM31.3 612.3h1.2v1.2h-1.2zM82.2 571.0h1.0v1.0h-1.0zM112.4 565.1h1.2v1.2h-1.2zM78.2 565.5h0.8v0.8h-0.8zM127.3 596.4h1.2v1.2h-1.2zM127.1 584.3h1.0v1.0h-1.0zM98.8 625.6h1.0v1.0h-1.0zM51.1 623.8h1.2v1.2h-1.2zM39.6 574.2h1.0v1.0h-1.0zM120.3 624.9h1.2v1.2h-1.2zM86.0 614.9h0.8v0.8h-0.8zM107.9 568.4h1.0v1.0h-1.0zM95.2 576.0h1.0v1.0h-1.0zM80.2 593.7h1.2v1.2h-1.2zM94.3 609.9h0.8v0.8h-0.8zM81.9 552.8h0.8v0.8h-0.8zM76.1 573.7h0.8v0.8h-0.8zM36.1 555.2h0.8v0.8h-0.8zM117.9 577.5h1.0v1.0h-1.0zM60.6 565.4h1.2v1.2h-1.2zM62.0 609.9h1.2v1.2h-1.2z" fill="#a5a5a5"/>
<path d="M26.5 580.2h1.0v1.0h-1.0zM47.9 560.3h1.0v1.0h-1.0zM110.2 567.8h1.2v1.2h-1.2zM94.3 619.8h1.2v1.2h-1.2zM124.9 607.0h1.2v1.2h-1.2zM118.3 627.1h1.2v1.2h-1.2zM120.9 584.5h1.2v1.2h-1.2zM111.6 582.3h1.2v1.2h-1.2zM104.7 583.7h1.0v1.0h-1.0zM47.1 626.4h0.8v0.8h-0.8zM109.6 616.6h1.2v1.2h-1.2zM31.5 600.2h1.0v1.0h-1.0zM96.2 602.5h1.0v1.0h-1.0zM85.5 581.9h1.2v1.2h-1.2zM118.7 563.2h1.0v1.0h-1.0zM87.8 589.4h0.8v0.8h-0.8zM106.3 588.5h1.0v1.0h-1.0zM26.6 627.2h0.8v0.8h-0.8zM63.7 579.3h1.2v1.2h-1.2zM79.5 578.4h1.0v1.0h-1.0zM99.7 619.1h1.2v1.2h-1.2zM128.3 553.8h1.2v1.2h-1.2zM108.9 606.6h0.8v0.8h-0.8zM25.9 601.1h1.0v1.0h-1.0zM41.8 618.8h0.8v0.8h-0.8zM49.2 563.4h1.2v1.2h-1.2zM95.5 616.8h1.0v1.0h-1.0zM120.9 614.1h0.8v0.8h-0.8zM121.7 627.9h0.8v0.8h-0.8zM113.6 592.6h1.2v1.2h-1.2zM90.9 589.6h0.8v0.8h-0.8zM112.4 561.1h0.8v0.8h-0.8zM99.2 560.0h0.8v0.8h-0.8zM102.5 612.9h1.2v1.2h-1.2zM81.1 606.6h1.2v1.2h-1.2zM85.1 588.7h0.8v0.8h-0.8zM42.9 584.5h1.0v1.0h-1.0zM83.4 617.0h1.2v1.2h-1.2zM49.8 625.8h1.0v1.0h-1.0zM113.4 588.5h0.8v0.8h-0.8zM91.8 581.7h1.2v1.2h-1.2zM102.4 572.4h0.8v0.8h-0.8zM120.1 556.6h1.2v1.2h-1.2zM27.9 605.0h0.8v0.8h-0.8zM26.2 611.5h0.8v0.8h-0.8zM98.9 599.5h1.0v1.0h-1.0zM64.7 557.3h0.8v0.8h-0.8zM54.6 606.4h1.2v1.2h-1.2zM127.1 581.3h1.0v1.0h-1.0zM65.4 570.4h1.2v1.2h-1.2zM94.2 586.4h1.2v1.2h-1.2zM92.7 604.0h0.8v0.8h-0.8zM42.0 581.5h0.8v0.8h-0.8zM118.0 585.3h1.0v1.0h-1.0zM72.4 590.7h0.8v0.8h-0.8zM81.3 558.3h0.8v0.8h-0.8zM90.9 568.7h0.8v0.8h-0.8zM57.2 602.6h1.0v1.0h-1.0zM75.3 572.4h1.2v1.2h-1.2zM47.3 577.5h1.0v1.0h-1.0zM76.2 605.3h1.0v1.0h-1.0zM28.1 603.7h1.0v1.0h-1.0zM97.3 619.2h1.0v1.0h-1.0zM59.1 567.1h1.2v1.2h-1.2zM81.3 583.4h1.0v1.0h-1.0zM120.7 591.4h1.0v1.0h-1.0zM46.0 583.8h0.8v0.8h-0.8zM110.1 565.5h1.0v1.0h-1.0zM81.4 621.3h0.8v0.8h-0.8zM129.4 583.9h1.2v1.2h-1.2zM124.6 560.9h1.0v1.0h-1.0zM62.4 615.6h1.2v1.2h-1.2zM29.4 607.0h0.8v0.8h-0.8zM105.7 571.8h1.0v1.0h-1.0zM112.2 615.8h1.0v1.0h-1.0zM123.9 552.2h1.0v1.0h-1.0zM33.2 626.4h1.0v1.0h-1.0zM47.9 586.0h1.0v1.0h-1.0zM94.7 602.0h1.0v1.0h-1.0zM52.9 621.2h0.8v0.8h-0.8zM110.3 619.7h1.2v1.2h-1.2zM100.2 594.2h1.2v1.2h-1.2zM92.3 588.1h0.8v0.8h-0.8zM38.7 561.4h1.2v1.2h-1.2zM74.4 613.6h1.2v1.2h-1.2zM41.2 552.7h1.2v1.2h-1.2zM126.6 590.2h0.8v0.8h-0.8zM28.5 573.8h1.2v1.2h-1.2zM72.6 624.7h1.2v1.2h-1.2zM73.0 559.2h1.0v1.0h-1.0zM48.2 588.0h1.2v1.2h-1.2zM46.0 582.4h0.8v0.8h-0.8zM76.1 606.1h1.2v1.2h-1.2zM52.3 558.9h0.8v0.8h-0.8zM49.5 570.8h0.8v0.8h-0.8zM54.0 556.1h0.8v0.8h-0.8zM44.8 602.5h1.0v1.0h-1.0zM31.2 553.6h0.8v0.8h-0.8zM107.7 574.3h1.2v1.2h-1.2zM78.3 606.1h1.2v1.2h-1.2zM52.1 611.9h0.8v0.8h-0.8zM105.1 616.3h1.0v1.0h-1.0zM115.8 571.4h1.2v1.2h-1.2zM112.6 579.5h0.8v0.8h-0.8zM95.4 608.2h1.2v1.2h-1.2zM60.5 589.7h1.0v1.0h-1.0zM125.3 603.8h0.8v0.8h-0.8zM58.8 587.5h1.0v1.0h-1.0zM48.4 562.4h0.8v0.8h-0.8zM92.7 594.3h1.0v1.0h-1.0zM25.0 599.0h1.2v1.2h-1.2zM72.1 624.0h1.2v1.2h-1.2zM91.8 564.2h1.2v1.2h-1.2zM51.1 606.8h0.8v0.8h-0.8zM26.4 585.2h1.0v1.0h-1.0zM57.6 619.9h0.8v0.8h-0.8zM106.8 570.4h1.2v1.2h-1.2zM97.7 586.9h0.8v0.8h-0.8zM104.2 610.4h1.2v1.2h-1.2zM59.3 597.2h0.8v0.8h-0.8z" fill="#6e6e6e"/>
<path d="M69.1 610.6h1.2v1.2h-1.2zM102.8 572.6h0.8v0.8h-0.8zM38.7 590.3h1.2v1.2h-1.2zM37.7 586.9h1.2v1.2h-1.2zM51.3 611.1h0.8v0.8h-0.8zM32.2 551.9h1.0v1.0h-1.0zM44.9 555.5h0.8v0.8h-0.8zM46.2 561.0h1.0v1.0h-1.0zM67.9 619.7h1.2v1.2h-1.2zM65.9 592.7h0.8v0.8h-0.8zM34.2 603.1h1.2v1.2h-1.2zM114.0 552.0h1.0v1.0h-1.0zM72.8 613.9h1.0v1.0h-1.0zM119.7 573.9h1.2v1.2h-1.2zM92.2 606.6h1.2v1.2h-1.2zM105.2 608.3h0.8v0.8h-0.8zM117.4 605.1h0.8v0.8h-0.8zM72.1 595.2h0.8v0.8h-0.8zM109.1 612.8h1.2v1.2h-1.2zM128.9 597.0h1.0v1.0h-1.0zM111.4 620.2h0.8v0.8h-0.8zM30.8 554.7h1.2v1.2h-1.2zM80.6 604.0h0.8v0.8h-0.8zM73.8 590.0h1.0v1.0h-1.0zM30.9 603.8h1.2v1.2h-1.2zM72.8 587.2h1.2v1.2h-1.2zM110.6 621.8h1.0v1.0h-1.0zM109.4 564.5h0.8v0.8h-0.8zM125.7 578.7h1.2v1.2h-1.2zM61.7 557.5h1.2v1.2h-1.2zM72.5 573.8h0.8v0.8h-0.8zM63.1 591.3h1.2v1.2h-1.2zM94.6 566.7h0.8v0.8h-0.8zM96.4 625.1h0.8v0.8h-0.8zM99.7 556.1h0.8v0.8h-0.8zM90.6 571.8h0.8v0.8h-0.8zM105.6 573.1h0.8v0.8h-0.8zM37.1 572.5h1.2v1.2h-1.2zM34.7 552.7h1.0v1.0h-1.0zM41.3 613.6h1.2v1.2h-1.2zM27.6 590.1h1.2v1.2h-1.2zM48.3 555.6h1.0v1.0h-1.0zM70.8 606.4h0.8v0.8h-0.8zM40.3 601.6h1.0v1.0h-1.0zM102.6 621.4h1.2v1.2h-1.2zM39.6 585.9h1.2v1.2h-1.2zM62.6 605.0h1.2v1.2h-1.2zM112.3 550.8h1.0v1.0h-1.0zM26.8 615.1h1.0v1.0h-1.0zM83.3 563.7h1.0v1.0h-1.0zM97.5 562.5h0.8v0.8h-0.8zM41.9 555.0h1.0v1.0h-1.0zM58.4 606.0h0.8v0.8h-0.8zM56.1 576.3h1.0v1.0h-1.0zM126.0 603.9h1.0v1.0h-1.0zM66.9 604.4h1.2v1.2h-1.2zM49.7 611.8h0.8v0.8h-0.8zM72.7 585.7h1.0v1.0h-1.0zM109.8 565.8h1.2v1.2h-1.2zM54.6 585.6h1.0v1.0h-1.0zM35.8 582.4h1.0v1.0h-1.0zM42.2 591.6h0.8v0.8h-0.8zM48.4 606.1h1.0v1.0h-1.0zM98.5 566.2h1.2v1.2h-1.2zM58.3 552.2h0.8v0.8h-0.8zM110.9 577.0h1.0v1.0h-1.0zM95.3 624.7h0.8v0.8h-0.8zM31.6 627.8h1.0v1.0h-1.0zM75.4 611.8h1.0v1.0h-1.0zM76.8 622.0h1.2v1.2h-1.2zM97.0 583.8h1.0v1.0h-1.0zM113.6 608.6h1.0v1.0h-1.0zM79.6 608.3h1.2v1.2h-1.2zM68.9 598.5h1.0v1.0h-1.0zM48.1 624.0h0.8v0.8h-0.8zM106.2 590.9h1.0v1.0h-1.0zM27.6 586.3h0.8v0.8h-0.8zM64.3 627.3h1.0v1.0h-1.0zM84.4 552.7h0.8v0.8h-0.8zM81.0 551.9h1.2v1.2h-1.2zM26.0 622.8h1.0v1.0h-1.0zM104.1 584.2h1.2v1.2h-1.2zM126.7 602.3h0.8v0.8h-0.8zM38.1 583.7h1.0v1.0h-1.0zM120.5 577.8h0.8v0.8h-0.8zM74.1 581.9h0.8v0.8h-0.8zM113.0 558.4h1.0v1.0h-1.0zM86.9 619.6h1.2v1.2h-1.2zM52.8 598.2h1.2v1.2h-1.2zM55.4 616.5h1.2v1.2h-1.2zM101.5 589.7h0.8v0.8h-0.8zM108.0 620.0h0.8v0.8h-0.8zM35.7 615.9h1.0v1.0h-1.0zM58.7 601.8h1.2v1.2h-1.2zM104.8 621.9h1.2v1.2h-1.2zM88.0 615.2h1.2v1.2h-1.2zM61.7 577.7h0.8v0.8h-0.8zM45.3 566.0h1.0v1.0h-1.0zM109.9 598.6h1.0v1.0h-1.0zM47.2 572.8h0.8v0.8h-0.8zM108.8 604.6h1.0v1.0h-1.0zM125.7 563.0h1.0v1.0h-1.0zM101.7 582.9h0.8v0.8h-0.8zM33.5 620.8h0.8v0.8h-0.8zM119.5 551.1h1.2v1.2h-1.2zM49.5 607.0h1.2v1.2h-1.2zM111.3 570.6h1.0v1.0h-1.0zM44.3 579.7h1.2v1.2h-1.2zM36.4 572.3h1.2v1.2h-1.2zM100.1 618.1h1.2v1.2h-1.2zM119.0 628.4h0.8v0.8h-0.8zM104.5 553.6h1.0v1.0h-1.0zM46.5 596.2h0.8v0.8h-0.8zM99.3 619.6h1.2v1.2h-1.2zM129.7 606.8h1.2v1.2h-1.2zM84.1 624.5h1.2v1.2h-1.2zM91.0 573.1h1.2v1.2h-1.2zM93.2 617.2h1.0v1.0h-1.0zM103.7 582.5h0.8v0.8h-0.8zM55.5 615.0h1.0v1.0h-1.0zM103.4 567.9h1.2v1.2h-1.2zM63.7 588.3h1.0v1.0h-1.0zM88.3 597.1h1.0v1.0h-1.0z" fill="#c0c0c0"/>
</g>
<line x1="101.20" y1="624.40" x2="124.20" y2="624.40" stroke="#e4e4e4" stroke-width="1.7"/>
<rect x="132.80" y="526.00" width="103.30" height="20.30" rx="1" fill="#fff" stroke="#1e1e1e" stroke-width="1.3"/>
<text x="184.45" y="539.85" font-size="10" font-weight="bold" text-anchor="middle" fill="#1a1a1a" stroke="#1a1a1a" stroke-width="0.22"><tspan fill="#d2402c" stroke="#d2402c">V</tspan>+<tspan fill="#4a80c8" stroke="#4a80c8">A</tspan> (2 : 1)</text>
<clipPath id="cp2"><rect x="132.20" y="550.50" width="104.50" height="78.00"/></clipPath>
<g clip-path="url(#cp2)">
<rect x="132.20" y="550.50" width="104.50" height="78.00" fill="#292929"/>
<g filter="url(#blur2)"><path d="M148.9 560.0a4.9 4.9 0 1 0 9.9 0a4.9 4.9 0 1 0 -9.9 0M227.7 617.6a6.6 6.6 0 1 0 13.2 0a6.6 6.6 0 1 0 -13.2 0M154.0 580.0a7.9 7.9 0 1 0 15.9 0a7.9 7.9 0 1 0 -15.9 0M126.0 577.0a8.3 8.3 0 1 0 16.6 0a8.3 8.3 0 1 0 -16.6 0M214.2 563.2a3.0 3.0 0 1 0 6.1 0a3.0 3.0 0 1 0 -6.1 0M225.2 591.1a4.3 4.3 0 1 0 8.6 0a4.3 4.3 0 1 0 -8.6 0M226.0 589.4a7.4 7.4 0 1 0 14.7 0a7.4 7.4 0 1 0 -14.7 0M147.0 556.3a3.7 3.7 0 1 0 7.5 0a3.7 3.7 0 1 0 -7.5 0M153.4 610.5a3.9 3.9 0 1 0 7.8 0a3.9 3.9 0 1 0 -7.8 0M141.8 615.2a8.9 8.9 0 1 0 17.8 0a8.9 8.9 0 1 0 -17.8 0M205.2 627.2a3.8 3.8 0 1 0 7.6 0a3.8 3.8 0 1 0 -7.6 0M147.8 583.3a6.8 6.8 0 1 0 13.6 0a6.8 6.8 0 1 0 -13.6 0" fill="#303030"/><path d="M166.1 558.4a8.0 8.0 0 1 0 16.1 0a8.0 8.0 0 1 0 -16.1 0M180.6 567.3a4.2 4.2 0 1 0 8.4 0a4.2 4.2 0 1 0 -8.4 0M162.3 556.8a8.2 8.2 0 1 0 16.5 0a8.2 8.2 0 1 0 -16.5 0M189.7 565.4a7.6 7.6 0 1 0 15.2 0a7.6 7.6 0 1 0 -15.2 0M163.3 562.5a5.4 5.4 0 1 0 10.7 0a5.4 5.4 0 1 0 -10.7 0M137.5 559.0a6.6 6.6 0 1 0 13.1 0a6.6 6.6 0 1 0 -13.1 0M205.6 584.7a7.9 7.9 0 1 0 15.9 0a7.9 7.9 0 1 0 -15.9 0M145.8 607.7a7.8 7.8 0 1 0 15.6 0a7.8 7.8 0 1 0 -15.6 0M165.8 587.3a4.8 4.8 0 1 0 9.7 0a4.8 4.8 0 1 0 -9.7 0M217.6 609.8a7.0 7.0 0 1 0 14.0 0a7.0 7.0 0 1 0 -14.0 0" fill="#222222"/><path d="M141.0 624.3a6.9 6.9 0 1 0 13.7 0a6.9 6.9 0 1 0 -13.7 0M128.7 596.3a4.3 4.3 0 1 0 8.6 0a4.3 4.3 0 1 0 -8.6 0M223.2 603.0a5.1 5.1 0 1 0 10.3 0a5.1 5.1 0 1 0 -10.3 0M224.3 579.0a3.3 3.3 0 1 0 6.5 0a3.3 3.3 0 1 0 -6.5 0M199.8 617.2a3.1 3.1 0 1 0 6.2 0a3.1 3.1 0 1 0 -6.2 0M135.5 561.8a6.6 6.6 0 1 0 13.1 0a6.6 6.6 0 1 0 -13.1 0M202.3 594.5a4.2 4.2 0 1 0 8.3 0a4.2 4.2 0 1 0 -8.3 0M143.7 562.6a4.2 4.2 0 1 0 8.4 0a4.2 4.2 0 1 0 -8.4 0M192.5 590.4a5.8 5.8 0 1 0 11.5 0a5.8 5.8 0 1 0 -11.5 0M174.8 584.6a6.4 6.4 0 1 0 12.7 0a6.4 6.4 0 1 0 -12.7 0M174.8 601.9a4.5 4.5 0 1 0 9.0 0a4.5 4.5 0 1 0 -9.0 0M227.8 626.6a3.2 3.2 0 1 0 6.4 0a3.2 3.2 0 1 0 -6.4 0M128.6 603.8a7.1 7.1 0 1 0 14.3 0a7.1 7.1 0 1 0 -14.3 0" fill="#2e2e2e"/></g>
<g filter="url(#blur05)">
<path d="M133.7 570.2L139.1 570.9L149.0 563.4L155.1 561.1L162.7 565.6M143.6 552.8L150.5 561.1L155.1 561.9M139.1 570.9L141.4 576.2L150.5 577.8L158.9 578.5L160.4 577.0M178.0 552.0L179.5 559.6L181.0 567.2L180.3 574.7L179.5 580.8M167.3 555.0L179.5 558.1L190.2 556.6L196.3 559.6M179.5 559.6L190.2 559.6L197.8 564.1L207.0 567.2M207.0 567.2L202.4 576.2L199.3 583.8M207.0 567.2L217.6 567.2L223.7 576.2M207.0 567.2L214.6 559.6M179.5 580.8L171.9 585.3L162.7 588.4L155.1 591.4L150.5 595.9L148.2 603.5L147.5 611.1L149.0 617.1M179.5 580.8L185.6 583.1L193.2 585.3L199.3 583.8L205.4 586.8L213.1 589.9L223.7 594.4L229.8 595.9M179.5 580.8L179.5 589.9L178.0 599.0L181.0 602.0L193.2 597.5M193.2 597.5L185.6 585.3M193.2 597.5L199.3 608.1L205.4 614.1L208.5 623.2L209.2 628.5M193.2 597.5L187.1 606.5L179.5 614.1L170.3 621.7L162.7 626.2M193.2 597.5L199.3 589.9L208.5 587.6M223.7 576.2L226.8 585.3L229.8 595.9L231.4 602.0L229.8 611.1L223.7 615.6L214.6 614.1L205.4 614.1M208.5 588.4L213.1 595.9L217.6 603.5L223.7 603.5L229.8 595.9M229.8 595.9L236.7 591.4M229.8 595.9L236.7 599.0M217.6 603.5L216.1 611.1M148.2 611.1L141.4 617.1L135.3 621.7M149.0 617.1L152.0 623.2L158.1 626.2" fill="none" stroke="#7a7a7a" stroke-width="3.0" stroke-linejoin="round" stroke-linecap="round" opacity="0.35"/>
<path d="M133.7 570.2L139.1 570.9L149.0 563.4L155.1 561.1L162.7 565.6M143.6 552.8L150.5 561.1L155.1 561.9M139.1 570.9L141.4 576.2L150.5 577.8L158.9 578.5L160.4 577.0M178.0 552.0L179.5 559.6L181.0 567.2L180.3 574.7L179.5 580.8M167.3 555.0L179.5 558.1L190.2 556.6L196.3 559.6M179.5 559.6L190.2 559.6L197.8 564.1L207.0 567.2M207.0 567.2L202.4 576.2L199.3 583.8M207.0 567.2L217.6 567.2L223.7 576.2M207.0 567.2L214.6 559.6M179.5 580.8L171.9 585.3L162.7 588.4L155.1 591.4L150.5 595.9L148.2 603.5L147.5 611.1L149.0 617.1M179.5 580.8L185.6 583.1L193.2 585.3L199.3 583.8L205.4 586.8L213.1 589.9L223.7 594.4L229.8 595.9M179.5 580.8L179.5 589.9L178.0 599.0L181.0 602.0L193.2 597.5M193.2 597.5L185.6 585.3M193.2 597.5L199.3 608.1L205.4 614.1L208.5 623.2L209.2 628.5M193.2 597.5L187.1 606.5L179.5 614.1L170.3 621.7L162.7 626.2M193.2 597.5L199.3 589.9L208.5 587.6M223.7 576.2L226.8 585.3L229.8 595.9L231.4 602.0L229.8 611.1L223.7 615.6L214.6 614.1L205.4 614.1M208.5 588.4L213.1 595.9L217.6 603.5L223.7 603.5L229.8 595.9M229.8 595.9L236.7 591.4M229.8 595.9L236.7 599.0M217.6 603.5L216.1 611.1M148.2 611.1L141.4 617.1L135.3 621.7M149.0 617.1L152.0 623.2L158.1 626.2" fill="none" stroke="#cccccc" stroke-width="1.02" stroke-linejoin="round" stroke-linecap="round"/>
<path d="M136.9 570.6l0.7 1.0M134.4 570.3l0.5 2.8M146.9 565.0l-2.2 -2.4M145.7 565.9l1.9 2.3M143.0 567.9l-0.9 -1.6M140.7 569.7l0.5 0.9M144.5 566.8l1.1 0.4M153.5 561.7l1.7 3.1M152.7 562.0l0.9 0.7M160.5 564.3l0.5 3.3M157.2 562.4l-1.3 3.0M161.5 565.0l0.1 2.9M155.3 561.2l-0.9 1.9M147.8 557.8l1.2 -0.7M150.2 560.8l1.1 -0.5M149.0 559.3l1.5 -1.4M150.0 560.4l0.8 -0.8M152.3 561.4l1.4 -1.8M153.5 561.6l-0.4 3.3M141.1 575.7l1.8 0.6M141.2 575.9l3.2 0.9M142.0 576.4l1.0 2.0M143.3 576.6l-0.8 3.3M142.7 576.5l-0.3 2.3M148.4 577.4l0.6 1.9M152.8 578.0l1.6 -2.7M150.8 577.8l1.5 -2.6M153.3 578.0l0.2 -1.2M178.4 554.3l-2.0 0.7M178.8 556.1l1.0 0.4M178.6 555.3l2.6 1.6M180.7 565.4l2.9 0.4M179.6 560.4l1.6 0.4M180.8 566.1l-1.1 0.1M180.9 568.7l1.5 1.3M180.5 572.4l2.1 0.6M180.7 570.4l-3.4 -0.0M179.9 577.5l2.5 0.1M179.9 577.9l-0.9 0.7M176.6 557.3l0.2 -1.3M171.2 556.0l-0.6 2.4M169.1 555.5l2.5 -1.6M178.7 557.9l1.4 -2.7M176.1 557.2l-0.3 1.4M189.9 556.6l1.7 2.1M184.7 557.3l-0.0 -3.0M186.0 557.2l0.5 2.7M182.2 557.7l0.4 1.3M193.0 558.0l2.1 -2.5M191.2 557.1l-0.5 2.0M193.6 558.2l0.4 1.8M183.4 559.6l-0.0 -3.0M189.7 559.6l-0.1 2.3M187.2 559.6l0.7 -0.9M189.4 559.6l0.5 -1.6M195.4 562.7l1.6 -2.8M196.9 563.6l2.3 -1.4M191.2 560.2l1.5 -2.0M195.1 562.6l0.6 -0.9M203.6 566.1l-0.4 1.6M202.3 565.6l0.9 3.0M203.3 565.9l0.1 2.5M204.1 566.2l0.9 3.0M203.5 573.9l1.0 2.2M206.2 568.7l0.9 2.2M202.5 576.1l-1.0 -0.3M204.6 571.8l1.2 0.5M199.8 582.5l1.8 0.8M200.3 581.4l-1.7 0.0M199.3 583.8l-2.9 -1.5M209.8 567.2l1.9 2.1M210.4 567.2l0.5 -3.3M208.0 567.2l0.8 2.4M212.3 567.2l0.8 2.5M219.0 569.2l3.1 -1.5M219.1 569.3l-0.6 1.5M218.8 569.0l-2.1 1.7M223.3 575.6l1.6 -0.9M210.6 563.5l-1.6 -1.7M208.2 566.0l1.6 1.3M208.8 565.3l-0.9 -2.9M213.1 561.1l3.0 1.9M178.4 581.5l-1.1 -0.5M174.7 583.7l-0.8 -1.4M176.8 582.4l-3.1 -1.5M173.8 584.2l1.4 2.0M166.4 587.1l-1.1 -2.0M165.8 587.3l-0.7 2.1M167.1 586.9l1.1 2.6M163.6 588.1l-1.6 -3.1M159.9 589.5l-1.3 -2.2M159.8 589.5l-2.1 -2.9M161.6 588.8l0.6 1.3M153.3 593.1l-2.8 -1.2M152.6 593.9l-3.3 -1.3M148.9 601.3l1.7 1.3M150.1 597.4l-3.3 0.8M149.2 600.2l1.2 0.9M147.8 607.7l-2.4 -0.4M148.0 605.9l-1.7 -0.1M147.8 608.0l-1.5 0.5M148.0 613.0l-2.6 0.4M148.2 614.0l3.0 -0.5M184.9 582.8l1.3 -2.2M181.8 581.7l-1.0 2.0M185.7 583.1l1.0 -2.4M189.6 584.2l0.5 1.7M187.5 583.6l0.4 -1.0M197.7 584.2l0.6 -3.4M198.8 583.9l1.6 -3.1M199.5 583.9l0.0 1.3M199.9 584.1l2.7 -2.2M202.2 585.3l-0.7 3.3M207.0 587.5l-1.1 2.3M208.2 588.0l2.9 -1.8M206.0 587.1l1.0 -1.5M221.7 593.6l0.5 3.1M219.0 592.4l1.1 3.1M216.3 591.3l-0.0 1.1M216.2 591.2l2.2 -1.7M214.7 590.6l2.1 -1.1M227.2 595.3l1.4 -3.2M225.8 594.9l1.5 2.9M179.5 582.8l-3.1 1.3M179.5 583.4l-2.1 1.9M179.5 584.0l-1.4 0.8M179.5 588.7l-2.1 1.8M178.6 595.2l1.5 1.9M179.0 592.8l1.5 1.4M179.4 590.7l1.1 0.7M179.5 590.0l2.0 0.3M180.6 601.6l2.4 -1.7M184.7 600.6l-0.3 -2.7M189.4 598.9l2.2 1.5M189.4 598.9l-0.2 -1.2M181.6 601.8l0.7 -3.3M182.7 601.4l0.1 -1.9M190.6 593.2l-2.8 1.0M191.1 594.0l1.9 -2.3M188.0 589.1l1.7 -1.4M191.7 595.1l2.1 -2.2M192.5 596.3l1.0 -2.2M185.9 585.9l-1.0 0.5M196.6 603.4l-1.9 1.2M198.7 606.9l-1.1 1.9M195.3 601.0l-1.2 2.8M197.3 604.6l2.5 -0.5M199.0 607.5l3.0 0.1M202.8 611.5l-2.2 2.7M200.4 609.1l-1.2 1.8M199.5 608.2l1.5 -0.6M206.5 617.3l1.6 0.0M208.1 622.1l3.5 -0.5M207.9 621.6l1.3 0.4M208.2 622.3l3.3 0.9M208.6 624.1l2.2 -0.5M208.6 623.9l-1.1 0.1M192.4 598.7l-1.0 -0.1M191.5 600.0l1.4 1.4M192.4 598.7l-2.7 -0.7M189.6 602.9l-2.3 0.4M181.4 612.2l1.4 2.6M180.9 612.7l-1.5 -0.7M184.4 609.2l-2.3 -0.1M183.8 609.9l-2.7 -0.5M171.0 621.1l0.5 1.8M172.2 620.1l-3.0 -0.9M176.1 616.9l-0.0 1.6M171.1 621.1l-2.0 -2.0M177.0 616.2l-1.6 -1.2M163.1 626.0l0.4 1.4M164.1 625.4l1.7 2.8M169.7 622.0l-3.3 -1.1M165.8 624.4l1.7 2.3M199.2 590.0l-0.3 -1.4M198.9 590.4l3.1 1.0M197.8 591.8l3.5 0.5M198.2 591.3l1.7 1.1M202.4 589.1l1.0 1.2M200.9 589.5l0.8 -2.7M208.2 587.7l1.6 1.6M207.6 587.8l1.5 -3.1M225.1 580.2l2.7 1.2M224.8 579.4l-1.1 0.8M226.7 585.2l-2.1 1.1M225.8 582.4l1.1 0.4M226.9 585.7l1.9 0.1M227.3 587.2l-2.0 2.1M229.5 594.9l2.2 0.3M228.6 591.6l1.8 -0.0M227.7 588.5l-1.4 2.4M230.1 596.8l1.9 -0.6M230.5 598.5l-2.5 2.3M230.7 606.0l1.5 1.5M231.2 603.1l1.6 0.2M231.1 603.7l2.8 2.0M230.2 609.1l1.0 0.4M226.3 613.7l1.2 3.4M228.1 612.4l0.5 0.9M228.8 611.8l-2.3 -2.1M220.7 615.1l-0.2 -1.4M216.0 614.4l-0.7 -2.4M218.9 614.8l-1.8 -3.1M219.1 614.9l0.1 -1.2M212.4 614.1l0.2 2.4M211.5 614.1l0.0 3.5M213.2 614.1l-1.2 -2.9M205.9 614.1l-1.1 -1.4M212.0 594.2l1.2 -0.7M210.8 592.2l1.8 -0.3M212.8 595.6l-1.6 1.1M212.8 595.6l1.0 -0.5M215.1 599.3l-2.4 2.3M217.6 603.4l3.3 -0.0M217.0 602.4l-1.8 1.7M217.4 603.1l-2.5 1.3M222.6 603.5l1.4 -2.6M222.1 603.5l1.3 -3.3M226.0 600.8l2.4 0.1M223.9 603.3l-1.1 -1.0M228.8 597.3l-0.9 -1.8M226.3 600.3l2.2 1.5M234.4 592.9l-0.8 -1.8M233.0 593.9l3.1 1.5M231.6 594.8l-0.5 -2.7M235.4 598.4l0.7 -0.8M233.3 597.4l-0.2 1.2M232.8 597.3l1.4 -1.4M216.7 608.2l3.0 0.6M217.2 605.7l2.7 0.4M217.0 606.8l-3.4 0.5M142.0 616.5l0.5 2.4M145.9 613.1l-3.0 -0.3M145.2 613.8l-1.1 -1.1M141.9 616.7l-1.5 -2.2M139.4 618.6l0.2 3.1M138.3 619.4l1.2 2.4M136.7 620.6l0.6 1.2M149.7 618.7l1.3 -0.3M151.9 622.9l-1.9 2.3M151.5 622.1l1.1 -0.3M156.4 625.3l1.1 -2.8M157.1 625.7l-0.5 2.3M152.2 623.3l1.8 -0.8" stroke="#a8a8a8" stroke-width="0.55" fill="none"/>
<path d="M134.0 571.7h0.9v0.9h-0.9zM134.5 571.3h0.9v0.9h-0.9zM133.3 571.9h0.9v0.9h-0.9zM146.3 567.2h0.9v0.9h-0.9zM143.6 568.6h0.9v0.9h-0.9zM141.0 567.8h0.9v0.9h-0.9zM141.2 569.9h0.9v0.9h-0.9zM148.6 565.4h0.9v0.9h-0.9zM144.3 567.5h0.9v0.9h-0.9zM141.7 568.9h0.9v0.9h-0.9zM152.1 563.9h0.9v0.9h-0.9zM151.9 562.2h0.9v0.9h-0.9zM154.0 560.2h0.9v0.9h-0.9zM149.0 562.5h0.9v0.9h-0.9zM161.6 564.5h0.9v0.9h-0.9zM159.2 561.7h0.9v0.9h-0.9zM155.5 563.0h0.9v0.9h-0.9zM158.2 562.7h0.9v0.9h-0.9zM155.3 561.2h0.9v0.9h-0.9zM147.7 558.5h0.9v0.9h-0.9zM150.1 560.3h0.9v0.9h-0.9zM149.8 560.6h0.9v0.9h-0.9zM146.2 557.8h0.9v0.9h-0.9zM142.8 551.6h0.9v0.9h-0.9zM148.2 557.6h0.9v0.9h-0.9zM151.6 563.0h0.9v0.9h-0.9zM152.8 562.6h0.9v0.9h-0.9zM140.6 572.0h0.9v0.9h-0.9zM139.3 573.8h0.9v0.9h-0.9zM142.5 574.0h0.9v0.9h-0.9zM142.0 575.8h0.9v0.9h-0.9zM147.8 576.6h0.9v0.9h-0.9zM144.0 575.6h0.9v0.9h-0.9zM143.6 576.8h0.9v0.9h-0.9zM146.2 577.6h0.9v0.9h-0.9zM155.1 577.9h0.9v0.9h-0.9zM154.9 576.7h0.9v0.9h-0.9zM159.2 577.5h0.9v0.9h-0.9zM151.3 579.2h0.9v0.9h-0.9zM152.0 576.4h0.9v0.9h-0.9zM159.6 577.2h0.9v0.9h-0.9zM179.0 555.5h0.9v0.9h-0.9zM180.0 559.3h0.9v0.9h-0.9zM180.6 558.0h0.9v0.9h-0.9zM178.0 552.1h0.9v0.9h-0.9zM179.1 562.7h0.9v0.9h-0.9zM180.9 561.5h0.9v0.9h-0.9zM179.1 561.3h0.9v0.9h-0.9zM180.5 563.7h0.9v0.9h-0.9zM181.3 571.9h0.9v0.9h-0.9zM180.6 571.2h0.9v0.9h-0.9zM180.7 572.5h0.9v0.9h-0.9zM181.3 570.0h0.9v0.9h-0.9zM181.5 576.0h0.9v0.9h-0.9zM181.1 574.2h0.9v0.9h-0.9zM180.7 576.8h0.9v0.9h-0.9zM174.4 556.9h0.9v0.9h-0.9zM173.2 555.7h0.9v0.9h-0.9zM172.1 555.3h0.9v0.9h-0.9zM171.8 555.2h0.9v0.9h-0.9zM175.6 556.0h0.9v0.9h-0.9zM179.7 557.9h0.9v0.9h-0.9zM170.3 554.2h0.9v0.9h-0.9zM188.5 557.2h0.9v0.9h-0.9zM188.7 556.4h0.9v0.9h-0.9zM189.7 556.9h0.9v0.9h-0.9zM187.0 556.6h0.9v0.9h-0.9zM181.9 558.5h0.9v0.9h-0.9zM183.9 557.3h0.9v0.9h-0.9zM196.5 559.4h0.9v0.9h-0.9zM190.9 559.1h0.9v0.9h-0.9zM190.3 557.2h0.9v0.9h-0.9zM197.1 558.4h0.9v0.9h-0.9zM187.6 558.9h0.9v0.9h-0.9zM179.4 558.1h0.9v0.9h-0.9zM189.6 559.4h0.9v0.9h-0.9zM180.8 559.2h0.9v0.9h-0.9zM188.5 559.9h0.9v0.9h-0.9zM181.0 559.1h0.9v0.9h-0.9zM191.6 560.2h0.9v0.9h-0.9zM197.9 562.3h0.9v0.9h-0.9zM191.2 560.7h0.9v0.9h-0.9zM194.7 560.6h0.9v0.9h-0.9zM197.0 563.5h0.9v0.9h-0.9zM204.9 565.8h0.9v0.9h-0.9zM199.5 565.8h0.9v0.9h-0.9zM205.3 566.3h0.9v0.9h-0.9zM199.8 565.2h0.9v0.9h-0.9zM205.0 566.3h0.9v0.9h-0.9zM205.8 567.9h0.9v0.9h-0.9zM203.1 572.9h0.9v0.9h-0.9zM205.0 567.7h0.9v0.9h-0.9zM204.9 568.3h0.9v0.9h-0.9zM202.6 575.2h0.9v0.9h-0.9zM205.4 569.9h0.9v0.9h-0.9zM205.4 569.8h0.9v0.9h-0.9zM202.4 578.3h0.9v0.9h-0.9zM199.5 581.9h0.9v0.9h-0.9zM199.1 582.0h0.9v0.9h-0.9zM198.0 583.3h0.9v0.9h-0.9zM202.3 576.7h0.9v0.9h-0.9zM206.3 568.4h0.9v0.9h-0.9zM208.8 567.9h0.9v0.9h-0.9zM208.6 568.0h0.9v0.9h-0.9zM218.2 566.5h0.9v0.9h-0.9zM217.2 567.2h0.9v0.9h-0.9zM214.8 568.6h0.9v0.9h-0.9zM217.3 568.2h0.9v0.9h-0.9zM224.0 575.2h0.9v0.9h-0.9zM219.9 570.1h0.9v0.9h-0.9zM219.2 571.8h0.9v0.9h-0.9zM223.8 573.6h0.9v0.9h-0.9zM219.6 571.1h0.9v0.9h-0.9zM210.1 566.1h0.9v0.9h-0.9zM208.7 566.0h0.9v0.9h-0.9zM211.5 563.0h0.9v0.9h-0.9zM209.0 567.1h0.9v0.9h-0.9zM210.1 565.1h0.9v0.9h-0.9zM207.9 564.1h0.9v0.9h-0.9zM175.4 583.8h0.9v0.9h-0.9zM176.4 584.2h0.9v0.9h-0.9zM174.4 583.0h0.9v0.9h-0.9zM174.5 583.5h0.9v0.9h-0.9zM174.7 585.4h0.9v0.9h-0.9zM163.0 589.6h0.9v0.9h-0.9zM169.5 586.1h0.9v0.9h-0.9zM163.5 586.4h0.9v0.9h-0.9zM171.4 585.8h0.9v0.9h-0.9zM168.8 587.5h0.9v0.9h-0.9zM162.7 587.5h0.9v0.9h-0.9zM156.7 589.3h0.9v0.9h-0.9zM162.0 587.5h0.9v0.9h-0.9zM155.0 592.3h0.9v0.9h-0.9zM159.4 591.3h0.9v0.9h-0.9zM160.5 591.0h0.9v0.9h-0.9zM153.4 591.1h0.9v0.9h-0.9zM153.1 593.3h0.9v0.9h-0.9zM153.0 593.7h0.9v0.9h-0.9zM152.9 593.4h0.9v0.9h-0.9zM147.9 601.1h0.9v0.9h-0.9zM150.0 597.5h0.9v0.9h-0.9zM148.5 601.9h0.9v0.9h-0.9zM150.3 596.4h0.9v0.9h-0.9zM147.7 609.0h0.9v0.9h-0.9zM147.8 609.2h0.9v0.9h-0.9zM147.2 604.5h0.9v0.9h-0.9zM147.4 608.7h0.9v0.9h-0.9zM147.2 612.9h0.9v0.9h-0.9zM147.6 615.6h0.9v0.9h-0.9zM148.2 612.6h0.9v0.9h-0.9zM183.9 583.5h0.9v0.9h-0.9zM182.5 582.6h0.9v0.9h-0.9zM180.7 581.8h0.9v0.9h-0.9zM184.3 582.2h0.9v0.9h-0.9zM192.1 585.6h0.9v0.9h-0.9zM187.4 584.4h0.9v0.9h-0.9zM192.7 586.6h0.9v0.9h-0.9zM186.0 584.3h0.9v0.9h-0.9zM199.7 585.7h0.9v0.9h-0.9zM198.3 583.2h0.9v0.9h-0.9zM197.4 585.9h0.9v0.9h-0.9zM202.8 585.7h0.9v0.9h-0.9zM203.9 586.4h0.9v0.9h-0.9zM199.8 586.1h0.9v0.9h-0.9zM202.6 585.6h0.9v0.9h-0.9zM206.7 587.8h0.9v0.9h-0.9zM207.2 586.7h0.9v0.9h-0.9zM209.3 590.3h0.9v0.9h-0.9zM207.1 588.5h0.9v0.9h-0.9zM205.1 586.6h0.9v0.9h-0.9zM216.7 590.1h0.9v0.9h-0.9zM213.0 591.6h0.9v0.9h-0.9zM217.9 592.1h0.9v0.9h-0.9zM215.4 590.9h0.9v0.9h-0.9zM220.5 593.6h0.9v0.9h-0.9zM224.1 593.2h0.9v0.9h-0.9zM219.9 592.2h0.9v0.9h-0.9zM225.8 595.4h0.9v0.9h-0.9zM228.8 595.1h0.9v0.9h-0.9zM227.0 594.0h0.9v0.9h-0.9zM180.6 583.4h0.9v0.9h-0.9zM179.3 590.3h0.9v0.9h-0.9zM178.5 584.3h0.9v0.9h-0.9zM179.7 587.7h0.9v0.9h-0.9zM179.2 584.5h0.9v0.9h-0.9zM177.4 599.5h0.9v0.9h-0.9zM178.6 593.6h0.9v0.9h-0.9zM179.1 594.1h0.9v0.9h-0.9zM177.3 595.8h0.9v0.9h-0.9zM177.9 596.6h0.9v0.9h-0.9zM178.7 600.4h0.9v0.9h-0.9zM180.1 600.3h0.9v0.9h-0.9zM184.0 601.7h0.9v0.9h-0.9zM181.1 600.7h0.9v0.9h-0.9zM189.4 599.7h0.9v0.9h-0.9zM188.8 599.0h0.9v0.9h-0.9zM190.8 599.6h0.9v0.9h-0.9zM185.3 601.9h0.9v0.9h-0.9zM186.8 598.3h0.9v0.9h-0.9zM183.9 603.0h0.9v0.9h-0.9zM192.0 598.8h0.9v0.9h-0.9zM193.0 594.4h0.9v0.9h-0.9zM186.8 585.5h0.9v0.9h-0.9zM188.6 593.3h0.9v0.9h-0.9zM186.6 587.1h0.9v0.9h-0.9zM189.4 591.5h0.9v0.9h-0.9zM188.5 593.0h0.9v0.9h-0.9zM188.5 591.4h0.9v0.9h-0.9zM199.4 607.1h0.9v0.9h-0.9zM192.8 599.7h0.9v0.9h-0.9zM196.1 601.5h0.9v0.9h-0.9zM194.2 596.9h0.9v0.9h-0.9zM195.4 602.2h0.9v0.9h-0.9zM197.8 605.2h0.9v0.9h-0.9zM194.4 600.7h0.9v0.9h-0.9zM201.0 609.7h0.9v0.9h-0.9zM205.4 614.8h0.9v0.9h-0.9zM200.1 609.1h0.9v0.9h-0.9zM206.1 612.1h0.9v0.9h-0.9zM199.2 610.7h0.9v0.9h-0.9zM206.9 620.3h0.9v0.9h-0.9zM206.6 615.8h0.9v0.9h-0.9zM206.9 616.8h0.9v0.9h-0.9zM205.1 614.7h0.9v0.9h-0.9zM205.2 614.7h0.9v0.9h-0.9zM207.2 624.6h0.9v0.9h-0.9zM207.2 624.3h0.9v0.9h-0.9zM210.3 627.7h0.9v0.9h-0.9zM188.6 606.0h0.9v0.9h-0.9zM192.1 599.9h0.9v0.9h-0.9zM190.1 599.0h0.9v0.9h-0.9zM187.6 606.3h0.9v0.9h-0.9zM188.4 606.6h0.9v0.9h-0.9zM191.6 599.9h0.9v0.9h-0.9zM180.6 613.3h0.9v0.9h-0.9zM186.0 608.9h0.9v0.9h-0.9zM181.8 614.5h0.9v0.9h-0.9zM183.9 610.9h0.9v0.9h-0.9zM182.9 608.2h0.9v0.9h-0.9zM182.1 610.4h0.9v0.9h-0.9zM173.1 619.9h0.9v0.9h-0.9zM171.1 620.6h0.9v0.9h-0.9zM172.2 619.2h0.9v0.9h-0.9zM174.8 619.6h0.9v0.9h-0.9zM177.9 615.4h0.9v0.9h-0.9zM174.5 617.3h0.9v0.9h-0.9zM176.8 616.2h0.9v0.9h-0.9zM164.7 625.1h0.9v0.9h-0.9zM164.1 624.1h0.9v0.9h-0.9zM170.3 621.3h0.9v0.9h-0.9zM169.5 622.1h0.9v0.9h-0.9zM169.9 623.2h0.9v0.9h-0.9zM197.0 591.1h0.9v0.9h-0.9zM197.3 590.6h0.9v0.9h-0.9zM197.6 590.1h0.9v0.9h-0.9zM196.4 594.7h0.9v0.9h-0.9zM195.4 594.4h0.9v0.9h-0.9zM197.2 591.3h0.9v0.9h-0.9zM208.9 588.8h0.9v0.9h-0.9zM200.0 589.4h0.9v0.9h-0.9zM205.5 588.8h0.9v0.9h-0.9zM199.8 588.9h0.9v0.9h-0.9zM201.1 589.5h0.9v0.9h-0.9zM224.6 576.9h0.9v0.9h-0.9zM223.4 580.0h0.9v0.9h-0.9zM226.5 584.8h0.9v0.9h-0.9zM226.7 583.2h0.9v0.9h-0.9zM225.6 582.9h0.9v0.9h-0.9zM228.1 595.0h0.9v0.9h-0.9zM228.6 586.9h0.9v0.9h-0.9zM229.2 591.2h0.9v0.9h-0.9zM230.8 595.0h0.9v0.9h-0.9zM227.9 588.1h0.9v0.9h-0.9zM227.3 589.2h0.9v0.9h-0.9zM229.1 597.5h0.9v0.9h-0.9zM230.2 597.1h0.9v0.9h-0.9zM230.5 600.2h0.9v0.9h-0.9zM230.5 608.1h0.9v0.9h-0.9zM231.2 607.7h0.9v0.9h-0.9zM229.3 610.3h0.9v0.9h-0.9zM231.0 603.1h0.9v0.9h-0.9zM231.0 607.2h0.9v0.9h-0.9zM227.8 613.4h0.9v0.9h-0.9zM225.6 615.2h0.9v0.9h-0.9zM225.5 613.6h0.9v0.9h-0.9zM228.5 613.5h0.9v0.9h-0.9zM224.8 616.6h0.9v0.9h-0.9zM217.2 613.0h0.9v0.9h-0.9zM217.0 613.9h0.9v0.9h-0.9zM217.3 614.7h0.9v0.9h-0.9zM218.3 614.4h0.9v0.9h-0.9zM209.6 614.3h0.9v0.9h-0.9zM215.1 615.7h0.9v0.9h-0.9zM214.9 612.9h0.9v0.9h-0.9zM208.6 615.0h0.9v0.9h-0.9zM211.4 614.6h0.9v0.9h-0.9zM208.2 590.3h0.9v0.9h-0.9zM212.1 593.5h0.9v0.9h-0.9zM213.8 596.4h0.9v0.9h-0.9zM214.0 594.5h0.9v0.9h-0.9zM209.8 589.5h0.9v0.9h-0.9zM214.9 597.1h0.9v0.9h-0.9zM215.6 603.4h0.9v0.9h-0.9zM218.4 604.7h0.9v0.9h-0.9zM211.9 596.8h0.9v0.9h-0.9zM215.9 596.7h0.9v0.9h-0.9zM221.8 603.7h0.9v0.9h-0.9zM221.6 602.7h0.9v0.9h-0.9zM220.2 604.2h0.9v0.9h-0.9zM230.7 596.6h0.9v0.9h-0.9zM230.3 597.5h0.9v0.9h-0.9zM226.2 602.4h0.9v0.9h-0.9zM229.8 597.7h0.9v0.9h-0.9zM224.5 603.1h0.9v0.9h-0.9zM227.9 600.3h0.9v0.9h-0.9zM231.8 594.1h0.9v0.9h-0.9zM231.7 594.1h0.9v0.9h-0.9zM232.7 593.7h0.9v0.9h-0.9zM234.1 593.9h0.9v0.9h-0.9zM230.4 593.6h0.9v0.9h-0.9zM230.6 597.9h0.9v0.9h-0.9zM233.0 598.0h0.9v0.9h-0.9zM236.1 598.5h0.9v0.9h-0.9zM231.7 596.6h0.9v0.9h-0.9zM217.5 607.1h0.9v0.9h-0.9zM217.2 611.7h0.9v0.9h-0.9zM216.2 603.8h0.9v0.9h-0.9zM216.7 607.5h0.9v0.9h-0.9zM147.8 612.7h0.9v0.9h-0.9zM142.5 617.5h0.9v0.9h-0.9zM146.4 611.8h0.9v0.9h-0.9zM147.5 612.5h0.9v0.9h-0.9zM148.7 612.1h0.9v0.9h-0.9zM138.3 620.3h0.9v0.9h-0.9zM138.0 618.4h0.9v0.9h-0.9zM139.1 617.7h0.9v0.9h-0.9zM135.1 621.3h0.9v0.9h-0.9zM150.5 622.2h0.9v0.9h-0.9zM149.2 618.0h0.9v0.9h-0.9zM148.9 620.1h0.9v0.9h-0.9zM151.1 619.2h0.9v0.9h-0.9zM157.0 626.5h0.9v0.9h-0.9zM156.1 623.4h0.9v0.9h-0.9zM157.0 625.1h0.9v0.9h-0.9zM158.5 625.3h0.9v0.9h-0.9z" fill="#b5b5b5"/>
<path d="M147.9 562.6a2.6 2.6 0 1 0 5.2 0a2.6 2.6 0 1 0 -5.2 0M176.9 558.8a2.6 2.6 0 1 0 5.2 0a2.6 2.6 0 1 0 -5.2 0M204.4 567.2a2.6 2.6 0 1 0 5.2 0a2.6 2.6 0 1 0 -5.2 0M221.1 576.2a2.6 2.6 0 1 0 5.2 0a2.6 2.6 0 1 0 -5.2 0M227.2 595.9a2.6 2.6 0 1 0 5.2 0a2.6 2.6 0 1 0 -5.2 0M190.6 597.5a2.6 2.6 0 1 0 5.2 0a2.6 2.6 0 1 0 -5.2 0M176.9 580.8a2.6 2.6 0 1 0 5.2 0a2.6 2.6 0 1 0 -5.2 0M154.0 578.5a2.6 2.6 0 1 0 5.2 0a2.6 2.6 0 1 0 -5.2 0M145.6 611.1a2.6 2.6 0 1 0 5.2 0a2.6 2.6 0 1 0 -5.2 0" fill="#8a8a8a" opacity="0.8"/>
<path d="M150.5 562.6l0.8 4.1M150.5 562.6l-6.4 -2.5M150.5 562.6l0.5 -2.6M150.5 562.6l-5.3 4.0M150.5 562.6l2.4 -3.4M150.5 562.6l-4.0 -4.4M150.5 562.6l-2.5 -5.6M150.5 562.6l-2.0 5.0M150.5 562.6l-3.4 -5.8M179.5 558.8l2.6 -0.9M179.5 558.8l-1.0 -3.4M179.5 558.8l-5.4 -2.4M179.5 558.8l-2.3 6.4M179.5 558.8l-4.9 2.4M179.5 558.8l-1.0 -5.1M179.5 558.8l3.6 0.2M179.5 558.8l-4.4 -2.7M179.5 558.8l3.7 -3.9M207.0 567.2l2.1 -4.7M207.0 567.2l-5.1 2.4M207.0 567.2l-1.1 -3.7M207.0 567.2l3.4 -5.3M207.0 567.2l3.3 2.7M207.0 567.2l-0.2 5.4M207.0 567.2l-2.1 -3.8M207.0 567.2l-4.0 -2.2M207.0 567.2l0.8 4.3M223.7 576.2l1.6 -2.2M223.7 576.2l-3.7 -3.7M223.7 576.2l-2.8 -1.9M223.7 576.2l-0.7 6.9M223.7 576.2l2.6 0.2M223.7 576.2l-5.6 -0.8M223.7 576.2l-4.9 3.8M223.7 576.2l1.2 -4.0M223.7 576.2l-0.3 6.9M229.8 595.9l-0.2 -5.2M229.8 595.9l-3.3 -2.3M229.8 595.9l4.6 2.2M229.8 595.9l5.3 -1.6M229.8 595.9l-3.8 1.5M229.8 595.9l1.3 -2.9M229.8 595.9l-1.4 3.2M229.8 595.9l0.5 -5.8M229.8 595.9l3.6 1.4M193.2 597.5l6.1 -2.1M193.2 597.5l-4.9 2.2M193.2 597.5l-6.0 -0.1M193.2 597.5l-4.1 -0.9M193.2 597.5l-3.3 -3.2M193.2 597.5l-3.9 1.8M193.2 597.5l3.4 0.6M193.2 597.5l-2.3 -2.1M193.2 597.5l2.8 2.4M179.5 580.8l-2.0 5.2M179.5 580.8l-3.1 0.6M179.5 580.8l4.7 -3.3M179.5 580.8l-1.2 2.3M179.5 580.8l-2.1 -5.3M179.5 580.8l-2.0 -4.6M179.5 580.8l2.5 0.6M179.5 580.8l-1.4 5.3M179.5 580.8l-0.3 2.8M156.6 578.5l-3.1 -2.2M156.6 578.5l4.0 1.1M156.6 578.5l2.2 1.7M156.6 578.5l3.9 3.1M156.6 578.5l2.9 -4.6M156.6 578.5l2.9 0.2M156.6 578.5l3.1 4.2M156.6 578.5l-3.5 2.3M156.6 578.5l5.2 0.9M148.2 611.1l-2.8 2.6M148.2 611.1l1.8 6.0M148.2 611.1l-2.7 -0.2M148.2 611.1l-0.6 -3.6M148.2 611.1l2.6 0.7M148.2 611.1l2.2 3.6M148.2 611.1l-3.5 -2.5M148.2 611.1l-4.3 4.2M148.2 611.1l-5.9 1.1" stroke="#b0b0b0" stroke-width="0.8" fill="none"/>
</g>
<path d="M184.2 559.9h1.2v1.2h-1.2zM184.4 596.7h1.2v1.2h-1.2zM224.1 581.6h1.2v1.2h-1.2zM158.7 576.3h1.0v1.0h-1.0zM215.9 606.8h0.8v0.8h-0.8zM138.6 595.0h1.0v1.0h-1.0zM135.7 609.7h1.2v1.2h-1.2zM155.5 594.7h0.8v0.8h-0.8zM207.9 602.1h1.0v1.0h-1.0zM227.2 617.5h1.0v1.0h-1.0zM135.8 596.9h1.0v1.0h-1.0zM184.5 569.9h1.2v1.2h-1.2zM198.9 616.6h1.2v1.2h-1.2zM137.8 585.1h1.2v1.2h-1.2zM177.2 606.3h1.0v1.0h-1.0zM140.4 573.3h0.8v0.8h-0.8zM140.9 626.4h1.2v1.2h-1.2zM143.6 616.4h1.2v1.2h-1.2zM143.5 565.9h1.2v1.2h-1.2zM148.7 572.7h1.0v1.0h-1.0zM203.2 614.5h0.8v0.8h-0.8zM153.5 583.7h1.0v1.0h-1.0zM181.5 569.0h1.2v1.2h-1.2zM155.2 612.7h1.2v1.2h-1.2zM210.3 603.1h1.0v1.0h-1.0zM136.7 582.4h1.2v1.2h-1.2zM148.1 579.7h1.0v1.0h-1.0zM214.2 604.2h0.8v0.8h-0.8z" fill="#8a8a8a"/>
<path d="M149.2 596.2h0.8v0.8h-0.8zM149.2 564.2h0.8v0.8h-0.8zM202.0 583.8h1.2v1.2h-1.2zM208.5 550.7h1.0v1.0h-1.0zM187.9 606.5h1.2v1.2h-1.2zM158.4 610.6h0.8v0.8h-0.8zM211.0 613.4h0.8v0.8h-0.8zM160.2 562.0h0.8v0.8h-0.8zM152.7 577.2h1.0v1.0h-1.0zM236.4 610.2h1.2v1.2h-1.2zM149.2 557.1h1.0v1.0h-1.0zM136.0 569.3h1.2v1.2h-1.2zM231.9 581.1h0.8v0.8h-0.8zM175.5 616.2h1.0v1.0h-1.0zM147.6 608.7h1.0v1.0h-1.0zM214.6 563.8h1.2v1.2h-1.2zM142.0 580.9h1.2v1.2h-1.2zM152.1 570.3h1.2v1.2h-1.2zM196.9 581.2h1.2v1.2h-1.2zM135.0 550.5h0.8v0.8h-0.8zM190.8 563.9h1.2v1.2h-1.2zM197.1 591.8h1.2v1.2h-1.2zM163.2 591.7h1.2v1.2h-1.2zM144.3 584.1h0.8v0.8h-0.8zM195.8 598.9h1.2v1.2h-1.2zM176.3 584.6h1.0v1.0h-1.0zM164.2 584.1h1.2v1.2h-1.2z" fill="#a5a5a5"/>
<path d="M144.0 614.6h1.2v1.2h-1.2zM219.1 586.1h0.8v0.8h-0.8zM185.0 556.7h1.0v1.0h-1.0zM163.1 623.6h0.8v0.8h-0.8zM162.5 552.5h1.0v1.0h-1.0zM187.6 588.2h1.0v1.0h-1.0zM136.2 585.5h1.2v1.2h-1.2zM145.0 595.9h1.0v1.0h-1.0zM210.2 604.6h0.8v0.8h-0.8zM166.5 587.0h1.0v1.0h-1.0zM210.4 584.8h1.0v1.0h-1.0zM148.5 565.6h1.2v1.2h-1.2zM235.8 580.8h1.2v1.2h-1.2zM136.6 582.8h1.2v1.2h-1.2zM216.0 622.7h0.8v0.8h-0.8zM203.0 577.1h1.2v1.2h-1.2zM217.4 607.6h0.8v0.8h-0.8zM214.0 626.1h1.0v1.0h-1.0zM179.0 577.5h0.8v0.8h-0.8zM169.1 599.9h0.8v0.8h-0.8zM211.1 615.5h1.2v1.2h-1.2zM133.5 576.4h0.8v0.8h-0.8zM197.0 551.7h1.0v1.0h-1.0zM132.2 624.8h1.0v1.0h-1.0zM173.0 572.9h1.2v1.2h-1.2z" fill="#6e6e6e"/>
<path d="M198.3 616.2h1.2v1.2h-1.2zM198.3 584.5h1.2v1.2h-1.2zM215.2 588.6h1.0v1.0h-1.0zM210.5 570.1h1.2v1.2h-1.2zM156.3 617.5h0.8v0.8h-0.8zM205.4 609.8h1.0v1.0h-1.0zM207.2 589.4h1.0v1.0h-1.0zM223.0 552.4h1.0v1.0h-1.0zM189.1 620.0h1.0v1.0h-1.0zM191.3 577.7h1.2v1.2h-1.2zM142.2 623.5h1.0v1.0h-1.0zM184.8 567.1h1.2v1.2h-1.2zM172.9 614.0h0.8v0.8h-0.8zM156.6 623.1h1.0v1.0h-1.0zM145.5 564.2h1.2v1.2h-1.2zM182.6 616.4h1.0v1.0h-1.0zM157.6 582.6h1.0v1.0h-1.0zM224.9 584.8h0.8v0.8h-0.8zM197.4 606.4h1.0v1.0h-1.0zM151.3 624.9h1.2v1.2h-1.2zM208.8 560.9h0.8v0.8h-0.8zM146.4 600.5h1.2v1.2h-1.2zM153.4 575.0h0.8v0.8h-0.8zM209.1 586.2h1.0v1.0h-1.0zM165.5 616.5h1.2v1.2h-1.2zM213.9 587.9h1.2v1.2h-1.2zM172.7 561.7h0.8v0.8h-0.8zM137.3 569.1h0.8v0.8h-0.8zM201.7 609.0h0.8v0.8h-0.8zM206.3 577.9h1.2v1.2h-1.2z" fill="#c0c0c0"/>
</g>
<line x1="208.20" y1="624.40" x2="231.20" y2="624.40" stroke="#e4e4e4" stroke-width="1.7"/>
<rect x="240.40" y="526.00" width="102.90" height="20.30" rx="1" fill="#fff" stroke="#1e1e1e" stroke-width="1.3"/>
<text x="291.85" y="539.85" font-size="10" text-anchor="middle" font-weight="bold" fill="#4a80c8" stroke="#4a80c8" stroke-width="0.22">A</text>
<clipPath id="cp3"><rect x="239.80" y="550.50" width="104.10" height="78.00"/></clipPath>
<g clip-path="url(#cp3)">
<rect x="239.80" y="550.50" width="104.10" height="78.00" fill="#292929"/>
<g filter="url(#blur2)"><path d="M255.8 622.9a3.4 3.4 0 1 0 6.8 0a3.4 3.4 0 1 0 -6.8 0M312.5 571.9a4.3 4.3 0 1 0 8.6 0a4.3 4.3 0 1 0 -8.6 0M317.0 619.7a6.2 6.2 0 1 0 12.5 0a6.2 6.2 0 1 0 -12.5 0M332.4 575.2a8.1 8.1 0 1 0 16.1 0a8.1 8.1 0 1 0 -16.1 0M311.7 625.2a5.0 5.0 0 1 0 9.9 0a5.0 5.0 0 1 0 -9.9 0M278.0 589.8a6.1 6.1 0 1 0 12.2 0a6.1 6.1 0 1 0 -12.2 0M306.2 610.8a8.5 8.5 0 1 0 17.0 0a8.5 8.5 0 1 0 -17.0 0M338.8 579.6a3.6 3.6 0 1 0 7.1 0a3.6 3.6 0 1 0 -7.1 0M266.4 563.9a8.2 8.2 0 1 0 16.5 0a8.2 8.2 0 1 0 -16.5 0M274.7 571.1a5.9 5.9 0 1 0 11.7 0a5.9 5.9 0 1 0 -11.7 0M239.0 581.0a8.0 8.0 0 1 0 16.0 0a8.0 8.0 0 1 0 -16.0 0M302.5 589.5a5.8 5.8 0 1 0 11.7 0a5.8 5.8 0 1 0 -11.7 0M318.9 564.9a4.8 4.8 0 1 0 9.7 0a4.8 4.8 0 1 0 -9.7 0M257.5 570.7a4.8 4.8 0 1 0 9.5 0a4.8 4.8 0 1 0 -9.5 0M250.4 595.2a4.8 4.8 0 1 0 9.6 0a4.8 4.8 0 1 0 -9.6 0" fill="#303030"/><path d="M246.2 620.2a7.7 7.7 0 1 0 15.3 0a7.7 7.7 0 1 0 -15.3 0M333.3 570.0a6.4 6.4 0 1 0 12.8 0a6.4 6.4 0 1 0 -12.8 0M313.3 565.7a6.2 6.2 0 1 0 12.5 0a6.2 6.2 0 1 0 -12.5 0M257.3 579.5a6.1 6.1 0 1 0 12.3 0a6.1 6.1 0 1 0 -12.3 0M283.1 605.1a3.2 3.2 0 1 0 6.5 0a3.2 3.2 0 1 0 -6.5 0M333.3 590.6a8.5 8.5 0 1 0 17.0 0a8.5 8.5 0 1 0 -17.0 0M323.6 588.3a8.7 8.7 0 1 0 17.5 0a8.7 8.7 0 1 0 -17.5 0M261.3 623.6a5.4 5.4 0 1 0 10.8 0a5.4 5.4 0 1 0 -10.8 0M286.3 571.8a4.1 4.1 0 1 0 8.2 0a4.1 4.1 0 1 0 -8.2 0" fill="#222222"/><path d="M280.5 560.5a7.1 7.1 0 1 0 14.3 0a7.1 7.1 0 1 0 -14.3 0M273.6 622.3a3.5 3.5 0 1 0 6.9 0a3.5 3.5 0 1 0 -6.9 0M242.7 573.5a8.4 8.4 0 1 0 16.8 0a8.4 8.4 0 1 0 -16.8 0M310.3 611.6a3.2 3.2 0 1 0 6.4 0a3.2 3.2 0 1 0 -6.4 0M297.6 625.1a5.0 5.0 0 1 0 10.0 0a5.0 5.0 0 1 0 -10.0 0M317.8 561.3a6.9 6.9 0 1 0 13.7 0a6.9 6.9 0 1 0 -13.7 0M292.9 609.9a7.7 7.7 0 1 0 15.5 0a7.7 7.7 0 1 0 -15.5 0M247.5 588.6a3.7 3.7 0 1 0 7.4 0a3.7 3.7 0 1 0 -7.4 0M333.1 571.1a4.6 4.6 0 1 0 9.2 0a4.6 4.6 0 1 0 -9.2 0M292.1 575.4a6.6 6.6 0 1 0 13.2 0a6.6 6.6 0 1 0 -13.2 0M311.6 620.4a7.9 7.9 0 1 0 15.8 0a7.9 7.9 0 1 0 -15.8 0" fill="#2e2e2e"/></g>
<g filter="url(#blur05)">
<ellipse cx="268.7" cy="573.2" rx="2.7" ry="2.4" fill="#949494"/>
<ellipse cx="274.0" cy="567.9" rx="3.0" ry="2.1" fill="#949494"/>
<ellipse cx="279.3" cy="563.4" rx="2.7" ry="2.1" fill="#949494"/>
<ellipse cx="282.4" cy="556.6" rx="1.5" ry="2.7" fill="#949494"/>
<ellipse cx="244.4" cy="571.7" rx="4.3" ry="2.1" fill="#949494"/>
<ellipse cx="309.7" cy="587.6" rx="6.4" ry="4.2" fill="#949494"/>
<ellipse cx="285.4" cy="595.9" rx="4.3" ry="3.9" fill="#949494"/>
<ellipse cx="242.1" cy="595.9" rx="3.3" ry="3.0" fill="#949494"/>
<ellipse cx="264.1" cy="611.1" rx="4.0" ry="3.3" fill="#949494"/>
<ellipse cx="252.0" cy="621.7" rx="4.0" ry="2.7" fill="#949494"/>
<ellipse cx="332.5" cy="617.1" rx="3.6" ry="3.3" fill="#949494"/>
<ellipse cx="282.4" cy="626.2" rx="4.0" ry="2.1" fill="#949494"/>
<ellipse cx="324.1" cy="600.5" rx="1.8" ry="1.8" fill="#949494"/>
<ellipse cx="340.1" cy="589.9" rx="1.5" ry="2.4" fill="#949494"/>
<ellipse cx="334.0" cy="565.6" rx="1.8" ry="1.5" fill="#949494"/>
<ellipse cx="327.9" cy="553.5" rx="1.8" ry="1.5" fill="#949494"/>
<ellipse cx="308.2" cy="618.7" rx="1.2" ry="2.7" fill="#949494"/>
<ellipse cx="291.5" cy="588.4" rx="1.5" ry="1.2" fill="#949494"/>
<ellipse cx="268.7" cy="595.9" rx="1.2" ry="1.2" fill="#949494"/>
<ellipse cx="315.8" cy="592.9" rx="2.7" ry="1.8" fill="#949494"/>
<path d="M268.7 573.2l-3.2 3.5M268.7 573.2l-2.3 2.1M268.7 573.2l-1.7 -1.9M268.7 573.2l-3.4 2.9M268.7 573.2l1.9 3.2M268.7 573.2l3.4 3.5M268.7 573.2l3.8 1.5M268.7 573.2l-1.2 2.6M268.7 573.2l1.9 1.7M268.7 573.2l1.3 -4.7M268.7 573.2l-2.7 -2.2M268.7 573.2l2.3 -1.3M274.0 567.9l-3.1 -2.3M274.0 567.9l-4.9 -0.9M274.0 567.9l-0.8 3.0M274.0 567.9l-2.4 2.6M274.0 567.9l-2.6 -3.4M274.0 567.9l-0.6 2.9M274.0 567.9l5.2 1.1M274.0 567.9l3.8 1.4M274.0 567.9l3.9 0.0M274.0 567.9l1.0 2.8M274.0 567.9l-1.0 -3.4M274.0 567.9l3.8 -0.5M279.3 563.4l4.6 1.7M279.3 563.4l-0.1 4.0M279.3 563.4l-3.7 -2.7M279.3 563.4l4.1 -1.8M279.3 563.4l-2.2 3.5M279.3 563.4l-0.2 -3.2M279.3 563.4l-1.4 -2.5M279.3 563.4l-0.3 2.6M279.3 563.4l1.5 -3.4M279.3 563.4l1.9 3.1M279.3 563.4l-2.8 -0.8M279.3 563.4l-4.5 1.0M282.4 556.6l-2.9 0.9M282.4 556.6l0.7 -3.0M282.4 556.6l-2.5 -1.6M282.4 556.6l1.0 3.2M282.4 556.6l-3.1 -0.1M282.4 556.6l-1.6 3.0M282.4 556.6l2.7 -2.7M282.4 556.6l2.2 -2.1M282.4 556.6l4.4 -0.7M282.4 556.6l-4.3 0.0M282.4 556.6l-3.0 1.3M244.4 571.7l3.4 6.0M244.4 571.7l1.9 4.0M244.4 571.7l-6.3 -3.1M244.4 571.7l-4.8 -1.7M244.4 571.7l-4.5 5.7M244.4 571.7l-3.9 -0.2M244.4 571.7l3.6 -2.8M244.4 571.7l-5.0 -2.4M244.4 571.7l-0.7 -4.6M244.4 571.7l-6.2 2.0M244.4 571.7l-4.3 4.1M244.4 571.7l6.4 -2.3M244.4 571.7l4.8 1.8M244.4 571.7l-3.9 -4.8M309.7 587.6l-2.0 7.6M309.7 587.6l-2.7 -7.9M309.7 587.6l4.7 -4.3M309.7 587.6l-3.2 -6.1M309.7 587.6l-9.1 4.6M309.7 587.6l-5.4 -6.3M309.7 587.6l-8.2 4.4M309.7 587.6l0.2 10.4M309.7 587.6l0.8 6.2M309.7 587.6l-5.3 -6.7M309.7 587.6l-1.2 6.7M309.7 587.6l-0.1 6.4M309.7 587.6l-0.1 10.9M309.7 587.6l1.9 -7.4M309.7 587.6l-9.9 2.6M309.7 587.6l5.8 8.8M309.7 587.6l3.7 8.2M309.7 587.6l10.0 -5.5M309.7 587.6l-6.0 -2.6M309.7 587.6l-5.8 2.1M285.4 595.9l-0.9 4.4M285.4 595.9l0.9 3.8M285.4 595.9l-5.5 0.5M285.4 595.9l2.0 6.2M285.4 595.9l3.7 3.1M285.4 595.9l2.0 -4.6M285.4 595.9l-4.6 1.8M285.4 595.9l-5.3 4.2M285.4 595.9l-3.2 -3.9M285.4 595.9l-3.3 -4.0M285.4 595.9l4.7 -3.4M285.4 595.9l7.3 -1.8M285.4 595.9l3.3 -2.4M285.4 595.9l-4.5 3.3M285.4 595.9l5.4 -4.2M285.4 595.9l-1.7 4.4M242.1 595.9l-0.6 -3.4M242.1 595.9l2.1 -3.7M242.1 595.9l3.7 -2.7M242.1 595.9l-3.0 1.2M242.1 595.9l-3.7 4.1M242.1 595.9l3.9 1.0M242.1 595.9l-4.0 1.5M242.1 595.9l-3.5 0.8M242.1 595.9l5.1 -1.7M242.1 595.9l0.3 4.1M242.1 595.9l-3.2 -4.6M242.1 595.9l1.1 -5.1M242.1 595.9l3.0 1.4M242.1 595.9l-0.2 3.5M264.1 611.1l5.9 3.2M264.1 611.1l-0.2 6.4M264.1 611.1l6.2 1.7M264.1 611.1l4.9 -4.4M264.1 611.1l4.2 -3.3M264.1 611.1l3.5 -6.1M264.1 611.1l6.2 -2.9M264.1 611.1l2.3 -3.2M264.1 611.1l4.1 -1.7M264.1 611.1l-0.5 6.9M264.1 611.1l0.4 6.5M264.1 611.1l-3.2 -3.1M264.1 611.1l1.4 6.1M264.1 611.1l6.1 -2.6M264.1 611.1l2.8 6.2M252.0 621.7l-0.7 7.0M252.0 621.7l6.5 -1.2M252.0 621.7l5.1 2.9M252.0 621.7l-4.3 1.4M252.0 621.7l2.0 -6.0M252.0 621.7l3.8 3.1M252.0 621.7l-3.6 -1.5M252.0 621.7l4.5 -1.5M252.0 621.7l-5.4 -2.4M252.0 621.7l5.3 4.3M252.0 621.7l4.6 -1.7M252.0 621.7l-1.6 6.9M252.0 621.7l3.0 4.9M252.0 621.7l-0.4 4.5M332.5 617.1l-0.9 -4.6M332.5 617.1l5.8 0.6M332.5 617.1l4.5 -2.5M332.5 617.1l-0.7 3.7M332.5 617.1l-0.4 -4.0M332.5 617.1l3.8 2.3M332.5 617.1l-3.0 -3.1M332.5 617.1l3.0 5.4M332.5 617.1l-2.0 3.8M332.5 617.1l1.9 -4.3M332.5 617.1l-5.4 1.0M332.5 617.1l4.2 -3.1M332.5 617.1l1.1 3.5M332.5 617.1l-2.7 -5.9M332.5 617.1l-4.4 -2.2M282.4 626.2l-1.2 -4.4M282.4 626.2l4.9 3.2M282.4 626.2l0.4 3.9M282.4 626.2l0.4 -4.7M282.4 626.2l-4.4 0.5M282.4 626.2l1.4 -5.4M282.4 626.2l0.1 5.8M282.4 626.2l-3.3 -4.7M282.4 626.2l-3.4 -1.7M282.4 626.2l4.9 -3.0M282.4 626.2l3.8 1.3M282.4 626.2l2.2 4.5M282.4 626.2l1.4 4.0M282.4 626.2l-4.5 -0.1M324.1 600.5l-0.4 -2.4M324.1 600.5l1.5 -1.6M324.1 600.5l2.1 -0.7M324.1 600.5l0.3 -2.5M324.1 600.5l-1.7 -2.4M324.1 600.5l2.6 -0.2M324.1 600.5l-1.2 -1.9M324.1 600.5l-1.4 2.0M324.1 600.5l-1.6 1.2M324.1 600.5l2.0 -2.1M340.1 589.9l-3.4 -1.4M340.1 589.9l-2.9 -0.3M340.1 589.9l0.5 -2.9M340.1 589.9l2.9 -0.0M340.1 589.9l-3.5 2.4M340.1 589.9l1.1 -3.2M340.1 589.9l2.1 3.6M340.1 589.9l0.1 3.0M340.1 589.9l0.3 3.4M340.1 589.9l1.3 -2.5M340.1 589.9l-2.9 -2.7M334.0 565.6l0.5 -2.1M334.0 565.6l0.0 2.6M334.0 565.6l-1.6 -1.5M334.0 565.6l-2.2 -0.2M334.0 565.6l2.1 1.9M334.0 565.6l2.0 0.5M334.0 565.6l1.4 2.5M334.0 565.6l-0.2 2.8M334.0 565.6l-2.9 0.9M334.0 565.6l0.3 2.6M327.9 553.5l-1.2 -2.0M327.9 553.5l1.8 0.2M327.9 553.5l2.0 -0.9M327.9 553.5l1.5 -1.4M327.9 553.5l-2.0 -1.0M327.9 553.5l1.2 2.3M327.9 553.5l2.2 0.7M327.9 553.5l2.4 1.5M327.9 553.5l2.5 0.1M327.9 553.5l-0.9 -2.1M308.2 618.7l2.6 -3.3M308.2 618.7l-4.0 2.8M308.2 618.7l2.3 1.2M308.2 618.7l2.5 1.0M308.2 618.7l1.9 2.1M308.2 618.7l-3.4 2.6M308.2 618.7l3.5 3.3M308.2 618.7l1.1 -3.3M308.2 618.7l3.2 2.3M308.2 618.7l0.4 -4.1M308.2 618.7l3.8 2.3M291.5 588.4l-1.5 -0.9M291.5 588.4l0.3 1.7M291.5 588.4l-1.4 1.4M291.5 588.4l-0.9 -1.1M291.5 588.4l1.0 2.5M291.5 588.4l-1.1 0.8M291.5 588.4l0.3 1.7M291.5 588.4l-1.7 1.5M291.5 588.4l-1.5 -1.4M268.7 595.9l-1.0 -1.3M268.7 595.9l-0.9 1.6M268.7 595.9l0.8 -0.9M268.7 595.9l1.0 1.8M268.7 595.9l-1.0 -0.9M268.7 595.9l-0.6 -1.3M268.7 595.9l1.0 0.8M268.7 595.9l-0.2 -1.6M268.7 595.9l1.3 1.0M315.8 592.9l-4.4 -1.5M315.8 592.9l-2.0 2.0M315.8 592.9l1.4 2.9M315.8 592.9l-2.0 1.9M315.8 592.9l1.2 -2.2M315.8 592.9l2.8 0.8M315.8 592.9l1.1 -2.4M315.8 592.9l1.0 -3.1M315.8 592.9l4.6 1.4M315.8 592.9l0.2 -3.5M315.8 592.9l-2.3 -3.2M315.8 592.9l-1.2 -4.2" stroke="#aaaaaa" stroke-width="1.0" fill="none"/>
</g>
<path d="M247.5 570.4h1.2v1.2h-1.2zM288.5 555.8h0.8v0.8h-0.8zM306.2 585.6h1.0v1.0h-1.0zM321.6 606.6h1.2v1.2h-1.2zM261.2 613.3h1.0v1.0h-1.0zM315.9 573.1h1.2v1.2h-1.2zM289.8 603.3h0.8v0.8h-0.8zM290.5 567.7h0.8v0.8h-0.8zM295.9 587.2h0.8v0.8h-0.8zM301.7 602.5h1.0v1.0h-1.0zM314.6 550.9h1.2v1.2h-1.2zM288.7 608.6h0.8v0.8h-0.8zM242.6 614.0h1.2v1.2h-1.2zM302.2 603.4h0.8v0.8h-0.8zM337.7 579.4h1.2v1.2h-1.2zM302.4 597.4h1.0v1.0h-1.0zM288.5 600.1h1.0v1.0h-1.0zM334.7 613.5h0.8v0.8h-0.8zM260.5 628.0h1.2v1.2h-1.2zM297.6 625.6h0.8v0.8h-0.8zM311.5 555.8h1.0v1.0h-1.0zM274.2 576.6h1.2v1.2h-1.2zM287.5 557.8h0.8v0.8h-0.8zM278.3 584.2h1.2v1.2h-1.2zM310.8 625.3h1.0v1.0h-1.0zM320.9 563.4h1.0v1.0h-1.0zM269.4 555.0h1.2v1.2h-1.2zM306.3 618.0h1.2v1.2h-1.2zM271.7 570.0h1.2v1.2h-1.2zM282.9 611.2h1.2v1.2h-1.2zM314.1 620.8h0.8v0.8h-0.8zM268.6 562.1h1.2v1.2h-1.2zM304.2 601.9h1.2v1.2h-1.2zM287.3 605.9h1.2v1.2h-1.2zM273.3 553.2h1.0v1.0h-1.0zM258.4 569.5h0.8v0.8h-0.8zM324.5 565.6h1.2v1.2h-1.2zM290.4 611.7h1.2v1.2h-1.2zM241.9 561.2h1.0v1.0h-1.0zM327.0 557.0h0.8v0.8h-0.8zM262.4 600.8h1.2v1.2h-1.2zM287.4 566.4h1.2v1.2h-1.2zM337.4 593.9h1.2v1.2h-1.2zM333.1 617.4h0.8v0.8h-0.8z" fill="#8a8a8a"/>
<path d="M299.6 564.0h1.0v1.0h-1.0zM277.9 582.8h1.2v1.2h-1.2zM263.2 620.2h1.0v1.0h-1.0zM252.1 578.0h1.2v1.2h-1.2zM311.9 591.4h1.2v1.2h-1.2zM339.5 578.7h1.0v1.0h-1.0zM319.7 555.9h1.2v1.2h-1.2zM292.7 625.8h1.2v1.2h-1.2zM247.8 621.8h0.8v0.8h-0.8zM317.3 604.2h1.2v1.2h-1.2zM277.9 555.3h1.2v1.2h-1.2zM292.9 594.8h1.0v1.0h-1.0zM257.5 569.1h1.0v1.0h-1.0zM334.0 584.7h1.2v1.2h-1.2zM331.7 595.6h1.0v1.0h-1.0zM244.1 555.9h1.2v1.2h-1.2zM308.2 551.3h1.0v1.0h-1.0zM291.1 559.1h1.0v1.0h-1.0zM295.1 559.2h1.0v1.0h-1.0zM241.3 553.7h1.2v1.2h-1.2zM323.9 576.8h0.8v0.8h-0.8zM263.1 565.6h1.2v1.2h-1.2zM314.9 620.3h1.2v1.2h-1.2zM302.0 628.0h0.8v0.8h-0.8zM296.1 581.6h0.8v0.8h-0.8zM340.5 576.2h0.8v0.8h-0.8zM282.2 615.6h1.2v1.2h-1.2zM330.2 591.4h1.0v1.0h-1.0zM341.6 601.6h0.8v0.8h-0.8zM240.0 565.2h0.8v0.8h-0.8zM259.2 573.7h1.0v1.0h-1.0zM304.0 556.8h1.0v1.0h-1.0zM256.6 607.4h1.2v1.2h-1.2zM313.7 569.9h1.0v1.0h-1.0zM248.9 625.1h0.8v0.8h-0.8zM323.3 612.2h1.2v1.2h-1.2zM325.7 611.3h1.2v1.2h-1.2zM250.4 566.0h1.2v1.2h-1.2z" fill="#a5a5a5"/>
<path d="M269.5 558.2h0.8v0.8h-0.8zM329.1 610.3h0.8v0.8h-0.8zM243.5 590.5h1.0v1.0h-1.0zM330.8 616.1h1.2v1.2h-1.2zM265.0 571.8h0.8v0.8h-0.8zM255.6 561.7h0.8v0.8h-0.8zM342.0 599.3h1.2v1.2h-1.2zM270.1 589.7h1.2v1.2h-1.2zM258.1 573.1h1.2v1.2h-1.2zM338.1 574.0h0.8v0.8h-0.8zM336.4 581.8h0.8v0.8h-0.8zM327.4 580.1h1.2v1.2h-1.2zM324.9 622.2h0.8v0.8h-0.8zM339.0 554.6h0.8v0.8h-0.8zM257.9 581.8h1.0v1.0h-1.0zM311.0 600.0h0.8v0.8h-0.8zM342.7 579.5h1.0v1.0h-1.0zM317.4 571.0h1.0v1.0h-1.0zM249.0 584.8h0.8v0.8h-0.8zM285.3 583.6h1.0v1.0h-1.0zM248.2 613.1h1.2v1.2h-1.2zM325.6 603.8h0.8v0.8h-0.8zM333.0 609.1h1.0v1.0h-1.0zM303.0 550.7h0.8v0.8h-0.8zM249.4 560.7h1.0v1.0h-1.0zM285.4 599.6h0.8v0.8h-0.8zM307.6 587.7h0.8v0.8h-0.8zM308.3 606.3h1.2v1.2h-1.2zM246.4 562.7h0.8v0.8h-0.8zM325.5 613.1h1.2v1.2h-1.2zM275.8 560.8h0.8v0.8h-0.8zM258.4 617.7h1.2v1.2h-1.2zM280.0 555.2h1.0v1.0h-1.0zM273.9 609.8h1.2v1.2h-1.2zM336.8 573.4h0.8v0.8h-0.8zM279.8 585.0h1.0v1.0h-1.0z" fill="#6e6e6e"/>
<path d="M251.4 579.6h0.8v0.8h-0.8zM322.6 600.2h1.0v1.0h-1.0zM248.2 608.5h0.8v0.8h-0.8zM334.4 556.1h1.0v1.0h-1.0zM256.8 625.9h1.2v1.2h-1.2zM308.5 587.6h1.0v1.0h-1.0zM283.7 615.7h0.8v0.8h-0.8zM294.1 603.7h1.0v1.0h-1.0zM280.1 577.8h0.8v0.8h-0.8zM256.3 568.1h1.2v1.2h-1.2zM253.9 568.2h0.8v0.8h-0.8zM319.4 563.6h1.2v1.2h-1.2zM280.0 616.0h1.0v1.0h-1.0zM285.2 577.5h1.0v1.0h-1.0zM311.7 601.9h1.2v1.2h-1.2zM302.5 579.4h1.2v1.2h-1.2zM242.9 608.0h1.0v1.0h-1.0zM285.0 621.7h1.2v1.2h-1.2zM284.6 599.0h0.8v0.8h-0.8zM251.9 619.8h1.2v1.2h-1.2zM316.8 581.4h1.0v1.0h-1.0zM293.6 624.4h1.0v1.0h-1.0zM282.5 576.5h1.0v1.0h-1.0zM343.0 561.8h1.0v1.0h-1.0zM280.9 606.0h1.0v1.0h-1.0zM278.0 579.4h0.8v0.8h-0.8zM251.9 628.3h1.2v1.2h-1.2zM296.0 577.9h1.0v1.0h-1.0zM286.3 623.8h0.8v0.8h-0.8zM329.4 617.9h0.8v0.8h-0.8zM292.9 592.4h0.8v0.8h-0.8zM329.0 617.6h1.0v1.0h-1.0zM324.8 617.5h1.2v1.2h-1.2zM320.1 612.4h1.2v1.2h-1.2zM290.0 602.9h1.0v1.0h-1.0zM280.6 567.8h0.8v0.8h-0.8zM323.9 614.0h1.0v1.0h-1.0zM320.4 619.5h1.0v1.0h-1.0zM248.3 627.3h0.8v0.8h-0.8zM312.9 616.7h1.2v1.2h-1.2zM243.8 585.0h0.8v0.8h-0.8zM266.5 569.2h1.0v1.0h-1.0z" fill="#c0c0c0"/>
</g>
<line x1="315.40" y1="624.40" x2="338.40" y2="624.40" stroke="#e4e4e4" stroke-width="1.7"/>
<rect x="347.40" y="526.00" width="103.40" height="20.30" rx="1" fill="#fff" stroke="#1e1e1e" stroke-width="1.3"/>
<text x="399.10" y="539.85" font-size="10" text-anchor="middle" font-weight="bold" fill="#d2402c" stroke="#d2402c" stroke-width="0.22">V</text>
<clipPath id="cp4"><rect x="346.80" y="550.50" width="104.60" height="78.00"/></clipPath>
<g clip-path="url(#cp4)">
<rect x="346.80" y="550.50" width="104.60" height="78.00" fill="#292929"/>
<g filter="url(#blur2)"><path d="M413.8 567.7a6.9 6.9 0 1 0 13.7 0a6.9 6.9 0 1 0 -13.7 0M355.5 612.7a8.9 8.9 0 1 0 17.8 0a8.9 8.9 0 1 0 -17.8 0M360.9 568.6a9.0 9.0 0 1 0 18.0 0a9.0 9.0 0 1 0 -18.0 0M351.0 606.3a4.3 4.3 0 1 0 8.7 0a4.3 4.3 0 1 0 -8.7 0M400.2 589.0a5.6 5.6 0 1 0 11.1 0a5.6 5.6 0 1 0 -11.1 0M356.8 581.2a3.9 3.9 0 1 0 7.8 0a3.9 3.9 0 1 0 -7.8 0M432.2 605.4a4.2 4.2 0 1 0 8.5 0a4.2 4.2 0 1 0 -8.5 0M347.3 626.8a4.3 4.3 0 1 0 8.6 0a4.3 4.3 0 1 0 -8.6 0M378.7 587.8a8.8 8.8 0 1 0 17.7 0a8.8 8.8 0 1 0 -17.7 0M349.7 621.9a6.7 6.7 0 1 0 13.4 0a6.7 6.7 0 1 0 -13.4 0M421.1 552.9a7.8 7.8 0 1 0 15.5 0a7.8 7.8 0 1 0 -15.5 0M397.2 578.0a4.1 4.1 0 1 0 8.2 0a4.1 4.1 0 1 0 -8.2 0M390.7 598.9a8.3 8.3 0 1 0 16.7 0a8.3 8.3 0 1 0 -16.7 0" fill="#303030"/><path d="M349.4 613.0a5.1 5.1 0 1 0 10.2 0a5.1 5.1 0 1 0 -10.2 0M426.0 592.4a7.4 7.4 0 1 0 14.8 0a7.4 7.4 0 1 0 -14.8 0M387.1 557.3a7.9 7.9 0 1 0 15.9 0a7.9 7.9 0 1 0 -15.9 0M385.1 588.8a8.7 8.7 0 1 0 17.5 0a8.7 8.7 0 1 0 -17.5 0M403.9 621.6a8.2 8.2 0 1 0 16.4 0a8.2 8.2 0 1 0 -16.4 0M390.5 621.8a3.6 3.6 0 1 0 7.1 0a3.6 3.6 0 1 0 -7.1 0M344.2 567.0a6.2 6.2 0 1 0 12.5 0a6.2 6.2 0 1 0 -12.5 0M435.4 605.8a3.8 3.8 0 1 0 7.6 0a3.8 3.8 0 1 0 -7.6 0M360.3 576.2a4.3 4.3 0 1 0 8.6 0a4.3 4.3 0 1 0 -8.6 0M441.8 578.7a5.2 5.2 0 1 0 10.3 0a5.2 5.2 0 1 0 -10.3 0" fill="#222222"/><path d="M422.4 616.6a6.0 6.0 0 1 0 11.9 0a6.0 6.0 0 1 0 -11.9 0M404.6 556.7a4.7 4.7 0 1 0 9.4 0a4.7 4.7 0 1 0 -9.4 0M422.6 605.1a7.3 7.3 0 1 0 14.6 0a7.3 7.3 0 1 0 -14.6 0M428.1 563.7a8.2 8.2 0 1 0 16.5 0a8.2 8.2 0 1 0 -16.5 0M437.4 621.7a6.5 6.5 0 1 0 13.0 0a6.5 6.5 0 1 0 -13.0 0M407.7 578.5a4.1 4.1 0 1 0 8.3 0a4.1 4.1 0 1 0 -8.3 0M391.7 560.7a7.3 7.3 0 1 0 14.5 0a7.3 7.3 0 1 0 -14.5 0M364.5 557.8a3.5 3.5 0 1 0 7.1 0a3.5 3.5 0 1 0 -7.1 0M429.8 616.5a3.8 3.8 0 1 0 7.5 0a3.8 3.8 0 1 0 -7.5 0M378.4 557.6a4.2 4.2 0 1 0 8.4 0a4.2 4.2 0 1 0 -8.4 0M346.5 614.0a6.3 6.3 0 1 0 12.6 0a6.3 6.3 0 1 0 -12.6 0M438.0 619.7a7.6 7.6 0 1 0 15.1 0a7.6 7.6 0 1 0 -15.1 0" fill="#2e2e2e"/></g>
<g filter="url(#blur05)">
<path d="M348.3 564.1L356.0 562.6L359.0 567.2L360.5 573.2L356.0 577.8L349.9 579.3L346.8 580.8M346.8 556.6L356.0 558.1L359.0 562.6M360.5 573.2L369.7 579.3L380.4 577.8L383.4 570.2L385.0 559.6L386.5 553.5M380.4 577.8L389.6 580.8L397.2 582.3M356.0 582.3L365.1 583.8L369.7 595.9L372.8 597.5L381.9 600.5M369.7 595.9L366.7 605.0L356.0 600.5L346.8 597.5M366.7 605.0L365.1 608.1L369.7 614.1L377.3 620.2L381.9 628.5M366.7 605.0L356.0 611.1L348.3 614.1M397.2 582.3L406.4 576.2L407.9 568.7L407.9 562.6L412.5 556.6L414.0 552.0M407.9 562.6L415.5 559.6L426.2 561.1L435.4 561.1L441.5 556.6L447.6 552.0M404.8 559.6L397.2 570.2L391.1 576.2M398.7 591.4L395.7 597.5L394.1 605.0L395.7 611.1L400.2 617.1L404.8 623.2L407.9 628.5M398.7 591.4L404.8 585.3L406.4 576.2M388.0 591.4L398.7 591.4M394.1 605.0L406.4 603.5L415.5 606.5L423.2 608.1L429.3 605.0L436.9 599.0L444.5 592.9L451.4 589.9M429.3 585.3L436.9 591.4L438.4 599.0M423.2 580.8L429.3 585.3L435.4 582.3L443.0 577.8L447.6 568.7L451.4 565.6M415.5 606.5L417.0 614.1L418.6 621.7L423.2 626.2M436.9 599.0L441.5 608.1L447.6 612.6L451.4 614.1M423.2 608.1L426.2 617.1L429.3 621.7L438.4 621.7L446.1 618.7M435.4 561.1L444.5 570.2L447.6 580.8" fill="none" stroke="#7a7a7a" stroke-width="2.9" stroke-linejoin="round" stroke-linecap="round" opacity="0.35"/>
<path d="M348.3 564.1L356.0 562.6L359.0 567.2L360.5 573.2L356.0 577.8L349.9 579.3L346.8 580.8M346.8 556.6L356.0 558.1L359.0 562.6M360.5 573.2L369.7 579.3L380.4 577.8L383.4 570.2L385.0 559.6L386.5 553.5M380.4 577.8L389.6 580.8L397.2 582.3M356.0 582.3L365.1 583.8L369.7 595.9L372.8 597.5L381.9 600.5M369.7 595.9L366.7 605.0L356.0 600.5L346.8 597.5M366.7 605.0L365.1 608.1L369.7 614.1L377.3 620.2L381.9 628.5M366.7 605.0L356.0 611.1L348.3 614.1M397.2 582.3L406.4 576.2L407.9 568.7L407.9 562.6L412.5 556.6L414.0 552.0M407.9 562.6L415.5 559.6L426.2 561.1L435.4 561.1L441.5 556.6L447.6 552.0M404.8 559.6L397.2 570.2L391.1 576.2M398.7 591.4L395.7 597.5L394.1 605.0L395.7 611.1L400.2 617.1L404.8 623.2L407.9 628.5M398.7 591.4L404.8 585.3L406.4 576.2M388.0 591.4L398.7 591.4M394.1 605.0L406.4 603.5L415.5 606.5L423.2 608.1L429.3 605.0L436.9 599.0L444.5 592.9L451.4 589.9M429.3 585.3L436.9 591.4L438.4 599.0M423.2 580.8L429.3 585.3L435.4 582.3L443.0 577.8L447.6 568.7L451.4 565.6M415.5 606.5L417.0 614.1L418.6 621.7L423.2 626.2M436.9 599.0L441.5 608.1L447.6 612.6L451.4 614.1M423.2 608.1L426.2 617.1L429.3 621.7L438.4 621.7L446.1 618.7M435.4 561.1L444.5 570.2L447.6 580.8" fill="none" stroke="#cccccc" stroke-width="0.89" stroke-linejoin="round" stroke-linecap="round"/>
<path d="M351.2 563.6l1.4 2.7M354.2 563.0l0.9 -1.6M348.4 564.1l0.7 -1.5M349.7 563.8l-0.6 -3.4M356.5 563.4l-2.2 1.5M358.4 566.2l-1.5 1.1M357.2 564.4l1.2 -0.6M360.2 571.9l-2.4 0.6M359.9 570.8l-0.8 1.2M359.3 568.4l2.3 0.1M358.6 575.1l0.8 2.9M357.0 576.7l1.3 1.7M356.9 576.9l0.5 2.5M355.2 577.9l0.3 1.6M352.7 578.6l-0.6 2.4M350.6 579.1l-0.2 -1.0M348.5 579.9l-0.9 -0.6M352.6 557.5l1.2 -1.6M348.9 556.9l-0.8 3.5M349.3 557.0l0.1 -1.8M349.8 557.1l1.8 -1.9M354.3 557.8l0.6 2.0M358.1 561.3l1.5 -0.0M357.4 560.2l3.2 -0.2M359.0 562.5l1.4 -0.3M365.2 576.3l1.5 -2.1M363.7 575.3l-1.6 2.5M366.9 577.4l-0.2 2.9M364.9 576.1l1.7 -0.7M363.7 575.3l0.4 3.2M368.4 578.4l-0.2 2.5M372.8 578.8l0.3 -1.2M377.4 578.2l-0.6 -3.0M372.5 578.9l1.9 2.1M377.3 578.2l2.2 1.8M378.9 578.0l1.4 1.8M375.4 578.5l-0.7 -3.5M380.8 576.7l1.5 0.5M380.9 576.4l2.2 0.3M382.6 572.3l-2.3 -1.6M383.2 570.9l-0.8 -1.2M384.8 560.6l3.3 -0.0M383.7 568.5l-0.9 -0.6M384.2 565.0l3.0 -1.7M384.3 564.1l3.5 -0.3M384.4 563.7l1.8 -1.0M383.9 566.9l2.6 -1.4M386.1 555.1l1.0 -0.5M385.9 555.9l3.3 -0.9M386.3 554.2l-3.2 -1.0M385.5 579.4l0.7 -1.7M380.8 577.9l0.2 2.2M383.1 578.7l-1.0 3.2M389.5 580.8l-0.1 3.0M386.1 579.6l0.5 1.4M395.7 582.0l2.0 -2.2M390.5 581.0l1.8 -1.4M391.3 581.1l1.9 3.0M391.6 581.2l0.5 -2.6M362.4 583.4l0.1 2.9M364.2 583.7l0.9 -2.4M356.6 582.4l0.1 2.9M364.5 583.7l0.8 -1.2M364.0 583.6l0.4 -3.1M367.2 589.4l1.0 -0.5M365.8 585.5l-2.7 1.5M366.2 586.6l1.2 0.3M368.2 591.8l2.7 0.6M368.6 593.0l-1.1 1.1M369.3 594.8l1.8 -0.9M368.2 592.0l3.3 -0.8M370.7 596.4l-0.4 1.2M377.8 599.1l2.9 -1.7M373.2 597.6l1.8 -1.3M381.4 600.3l-0.0 1.2M376.6 598.7l2.1 -1.7M377.8 599.1l0.6 1.9M367.8 601.7l3.2 0.8M367.2 603.4l-2.7 -1.2M368.9 598.3l2.4 0.8M368.3 600.1l0.9 0.5M369.5 596.6l-3.1 1.2M358.7 601.7l-2.3 2.2M358.8 601.7l0.5 -2.9M364.7 604.2l-0.8 0.7M359.4 602.0l-0.5 -3.1M359.3 601.9l-2.7 1.6M356.1 600.5l0.3 -2.6M352.5 599.3l-0.7 1.5M352.8 599.4l-1.0 0.5M351.9 599.1l-1.5 0.9M355.3 600.3l-0.1 -3.5M348.2 597.9l-0.3 -2.7M365.7 606.9l0.9 1.0M365.8 609.0l-1.5 0.9M367.1 610.7l-1.9 1.7M365.3 608.2l3.3 -1.4M367.1 610.6l3.5 -0.9M375.7 618.9l1.3 -1.4M374.5 617.9l0.1 1.7M374.9 618.2l1.1 -1.6M376.3 619.4l-0.2 2.5M369.9 614.2l1.7 -1.1M379.4 624.0l1.2 0.1M380.6 626.2l-2.5 2.0M380.4 625.8l1.0 -0.5M380.3 625.5l-1.0 2.1M380.5 626.0l-1.6 1.2M364.4 606.3l0.1 2.3M358.5 609.6l-1.0 -1.8M359.5 609.1l-1.9 -0.8M356.7 610.7l-2.5 -1.5M366.3 605.2l0.3 1.9M363.5 606.8l-0.9 -1.1M353.7 612.0l-0.5 2.3M354.1 611.8l-0.9 -1.7M355.4 611.3l-0.6 -2.2M349.9 613.5l-0.5 1.7M403.8 577.9l3.1 0.7M405.8 576.6l-1.1 -1.7M399.9 580.5l-0.5 -0.9M398.8 581.3l0.3 -2.1M405.6 576.7l-1.8 -2.3M405.7 576.7l1.6 1.2M406.7 574.5l2.0 -0.8M406.7 574.3l2.1 -0.3M406.4 576.1l2.2 0.6M406.4 576.1l1.7 -1.0M407.9 563.9l-1.7 -0.0M407.9 564.8l-1.0 -0.3M407.9 565.6l-1.5 -0.3M412.3 556.7l-0.6 -3.0M411.9 557.3l-1.8 -2.9M409.0 561.2l-1.5 -1.6M411.3 558.1l2.4 2.3M413.8 552.6l1.2 0.3M413.0 554.9l2.3 0.8M410.8 561.5l0.4 1.3M409.2 562.1l2.1 1.4M409.9 561.8l1.0 2.7M409.0 562.2l0.9 1.9M419.1 560.1l0.7 3.2M424.5 560.9l2.4 -2.3M421.6 560.4l0.5 -1.4M417.3 559.8l0.3 -2.8M415.6 559.6l1.8 -1.7M418.0 559.9l-0.2 1.3M427.4 561.1l0.6 -1.1M434.9 561.1l0.2 1.1M434.0 561.1l1.7 -2.5M426.3 561.1l1.7 -3.1M426.5 561.1l-0.3 -3.4M435.6 560.9l-0.5 -3.0M437.8 559.3l1.2 0.2M439.2 558.2l1.9 1.9M440.2 557.5l1.3 2.2M444.5 554.3l2.0 2.1M447.2 552.3l1.4 0.9M442.7 555.7l-1.0 -3.3M443.5 555.1l-1.7 -2.2M398.7 568.1l0.7 1.2M397.5 569.8l-2.1 0.2M399.7 566.7l-1.7 -0.0M397.8 569.3l2.2 1.3M399.8 566.6l1.8 1.4M401.4 564.4l-2.2 -0.2M398.4 568.5l-1.2 -0.6M394.5 572.9l-1.1 -0.1M393.7 573.7l-2.9 -1.0M395.1 572.3l-3.1 -1.4M391.4 575.9l-3.4 -0.8M398.6 591.6l-1.2 -0.7M396.3 596.1l1.8 2.6M398.3 592.3l1.3 0.7M394.4 603.5l2.7 0.7M394.6 602.5l1.2 1.4M394.4 603.8l2.7 0.9M394.2 604.6l-2.8 0.6M395.1 608.7l-2.1 0.6M395.4 610.0l1.1 -0.3M394.2 605.3l3.2 0.8M400.1 616.9l-0.5 1.1M395.7 611.1l2.3 -1.7M396.8 612.5l2.0 -0.5M397.7 613.7l-0.5 1.5M400.6 617.5l-0.8 0.8M404.5 622.7l1.1 0.1M403.5 621.5l-1.2 1.4M401.7 619.1l2.1 -1.6M406.9 626.7l1.8 0.4M406.3 625.8l-1.0 3.3M406.5 626.1l2.8 -0.6M400.0 590.1l-0.4 -1.2M403.6 586.5l-1.0 -1.0M399.2 590.9l1.0 0.6M399.1 591.0l-0.1 -3.2M405.1 583.4l3.0 -1.1M405.6 580.9l2.3 -0.7M405.2 583.2l2.5 0.6M406.1 577.6l-1.5 -0.6M404.9 584.7l3.4 1.0M390.8 591.4l0.6 -2.1M392.9 591.4l0.2 2.8M389.8 591.4l0.4 0.9M389.3 591.4l0.7 1.6M398.1 591.4l-0.2 2.4M392.0 591.4l1.0 -1.8M397.6 604.6l0.7 -1.1M395.7 604.8l2.3 2.7M398.3 604.5l-0.1 -1.2M404.2 603.8l0.9 -2.9M401.7 604.1l1.1 2.0M406.3 603.5l1.6 1.6M414.9 606.3l1.4 -1.4M409.1 604.4l1.6 -1.4M408.4 604.2l1.1 -2.5M408.9 604.4l0.2 2.1M410.5 604.9l2.8 -1.6M418.4 607.1l0.8 -0.7M420.0 607.4l0.6 -0.8M417.1 606.9l0.4 -3.2M421.1 607.6l0.8 -1.4M428.3 605.5l1.8 1.0M423.6 607.8l0.7 -2.6M426.8 606.3l1.0 1.5M434.7 600.7l-2.2 -2.8M429.7 604.7l-0.5 -3.2M436.5 599.3l-1.4 -2.6M434.1 601.2l-0.9 -1.1M435.2 600.3l1.1 0.6M437.1 598.8l-0.4 -1.6M437.9 598.2l1.4 0.6M437.8 598.3l2.2 1.8M443.7 593.5l-0.5 -2.1M441.6 595.3l-0.4 -3.4M448.7 591.1l0.4 -1.6M444.9 592.7l0.1 -2.5M449.1 590.9l-0.4 -1.2M446.5 592.0l1.4 2.0M433.7 588.8l2.2 -2.2M432.6 588.0l1.9 -1.0M433.8 588.9l-0.2 1.1M434.7 589.6l1.3 -1.9M431.5 587.1l1.7 -1.6M437.0 592.0l1.2 0.7M437.7 595.4l3.5 -0.1M438.0 596.7l-3.0 0.9M438.1 597.5l-1.7 0.6M428.6 584.9l1.7 -2.3M426.5 583.3l1.1 -1.6M425.9 582.9l-0.1 2.2M423.3 580.9l-0.4 1.1M432.7 583.6l-0.6 -1.6M432.9 583.5l2.2 1.9M435.3 582.3l3.0 1.6M436.4 581.7l2.6 1.7M435.7 582.1l-1.5 -2.2M437.6 580.9l-0.4 -1.5M439.2 580.0l1.3 0.4M439.3 580.0l2.7 1.5M443.2 577.3l2.9 0.9M444.0 575.8l1.3 0.6M447.4 568.9l-2.7 -2.0M447.5 568.8l1.5 -0.4M446.9 570.0l-2.5 -2.1M449.5 567.1l1.4 1.4M449.6 567.1l-0.6 -1.6M415.9 608.3l2.3 0.8M416.1 609.3l1.5 -0.3M416.8 613.1l2.3 0.6M416.0 608.7l1.9 -0.6M417.5 616.3l3.3 0.6M418.4 620.7l-1.5 0.5M418.3 620.3l-1.5 0.8M418.0 618.7l-1.9 1.2M419.8 622.9l2.1 -1.7M420.1 623.2l-0.8 2.1M419.3 622.5l-0.5 1.9M437.7 600.5l2.9 -0.8M440.7 606.5l-2.1 2.1M440.6 606.2l-1.4 1.0M438.4 601.9l0.9 -0.5M439.5 604.2l3.4 0.3M441.8 608.3l0.3 2.6M443.6 609.6l1.7 -0.6M444.0 610.0l3.1 -1.2M443.1 609.2l0.0 2.4M448.0 612.8l0.1 1.4M450.5 613.8l1.7 -0.8M425.4 614.7l1.5 0.5M424.0 610.6l-1.2 1.1M425.0 613.4l-2.6 0.6M425.5 615.1l-3.3 1.3M425.8 616.0l2.4 -0.3M428.1 619.9l3.2 -1.3M426.7 617.9l2.3 0.3M426.3 617.3l-1.4 3.0M437.2 621.7l0.7 -0.8M432.2 621.7l0.3 1.3M435.0 621.7l1.4 -2.4M433.8 621.7l0.4 -2.4M434.0 621.7l0.3 -3.2M439.7 621.2l2.4 2.4M438.9 621.5l-1.0 -2.3M439.4 621.3l1.5 1.7M438.6 621.6l3.1 1.4M440.2 565.8l2.7 -0.3M441.5 567.1l2.6 -1.3M435.4 561.2l2.7 -1.1M439.9 565.6l1.3 -0.3M436.0 561.7l1.4 -0.6M440.7 566.3l2.9 -1.4M439.9 565.6l-0.9 0.9M444.9 571.6l-2.1 2.5M445.6 574.0l-2.7 1.0M446.2 575.9l-1.3 0.8M446.6 577.3l2.1 0.4M444.5 570.2l-2.7 1.0M445.0 571.8l-2.1 2.4" stroke="#a8a8a8" stroke-width="0.55" fill="none"/>
<path d="M356.1 563.0h0.9v0.9h-0.9zM351.4 564.1h0.9v0.9h-0.9zM349.2 564.0h0.9v0.9h-0.9zM355.9 564.2h0.9v0.9h-0.9zM357.4 564.5h0.9v0.9h-0.9zM358.2 567.0h0.9v0.9h-0.9zM358.3 564.3h0.9v0.9h-0.9zM358.1 569.3h0.9v0.9h-0.9zM361.3 573.2h0.9v0.9h-0.9zM360.1 571.4h0.9v0.9h-0.9zM356.6 576.1h0.9v0.9h-0.9zM359.6 575.2h0.9v0.9h-0.9zM358.0 575.3h0.9v0.9h-0.9zM358.0 577.9h0.9v0.9h-0.9zM352.4 578.5h0.9v0.9h-0.9zM353.6 576.7h0.9v0.9h-0.9zM352.1 578.3h0.9v0.9h-0.9zM349.4 581.2h0.9v0.9h-0.9zM350.1 578.9h0.9v0.9h-0.9zM352.3 556.8h0.9v0.9h-0.9zM348.9 555.7h0.9v0.9h-0.9zM353.9 556.4h0.9v0.9h-0.9zM350.8 556.3h0.9v0.9h-0.9zM353.3 558.4h0.9v0.9h-0.9zM357.2 561.2h0.9v0.9h-0.9zM357.4 557.4h0.9v0.9h-0.9zM356.6 560.4h0.9v0.9h-0.9zM364.7 574.9h0.9v0.9h-0.9zM363.5 573.4h0.9v0.9h-0.9zM368.2 580.3h0.9v0.9h-0.9zM362.8 576.4h0.9v0.9h-0.9zM369.7 579.5h0.9v0.9h-0.9zM366.1 578.9h0.9v0.9h-0.9zM374.2 578.0h0.9v0.9h-0.9zM373.4 578.8h0.9v0.9h-0.9zM373.7 579.1h0.9v0.9h-0.9zM371.0 580.1h0.9v0.9h-0.9zM374.3 578.9h0.9v0.9h-0.9zM377.2 578.2h0.9v0.9h-0.9zM385.0 570.2h0.9v0.9h-0.9zM384.5 571.3h0.9v0.9h-0.9zM381.0 576.1h0.9v0.9h-0.9zM380.2 576.8h0.9v0.9h-0.9zM382.5 573.6h0.9v0.9h-0.9zM384.2 569.2h0.9v0.9h-0.9zM384.8 561.8h0.9v0.9h-0.9zM383.2 564.1h0.9v0.9h-0.9zM385.7 560.6h0.9v0.9h-0.9zM384.5 562.7h0.9v0.9h-0.9zM383.5 561.9h0.9v0.9h-0.9zM386.7 557.6h0.9v0.9h-0.9zM387.2 554.1h0.9v0.9h-0.9zM386.7 559.5h0.9v0.9h-0.9zM384.1 579.7h0.9v0.9h-0.9zM387.6 579.8h0.9v0.9h-0.9zM388.7 580.4h0.9v0.9h-0.9zM380.7 577.6h0.9v0.9h-0.9zM383.9 580.6h0.9v0.9h-0.9zM383.7 578.3h0.9v0.9h-0.9zM389.9 579.3h0.9v0.9h-0.9zM396.0 583.2h0.9v0.9h-0.9zM389.7 581.1h0.9v0.9h-0.9zM395.6 582.9h0.9v0.9h-0.9zM361.3 584.2h0.9v0.9h-0.9zM363.6 582.6h0.9v0.9h-0.9zM363.7 582.7h0.9v0.9h-0.9zM364.3 583.6h0.9v0.9h-0.9zM361.9 581.9h0.9v0.9h-0.9zM366.2 586.6h0.9v0.9h-0.9zM367.7 591.6h0.9v0.9h-0.9zM367.7 591.1h0.9v0.9h-0.9zM367.3 594.5h0.9v0.9h-0.9zM364.8 584.1h0.9v0.9h-0.9zM369.5 594.6h0.9v0.9h-0.9zM366.7 589.2h0.9v0.9h-0.9zM366.7 587.4h0.9v0.9h-0.9zM368.5 594.6h0.9v0.9h-0.9zM368.8 595.8h0.9v0.9h-0.9zM376.2 598.0h0.9v0.9h-0.9zM376.6 599.1h0.9v0.9h-0.9zM380.9 598.9h0.9v0.9h-0.9zM375.0 597.0h0.9v0.9h-0.9zM374.5 597.0h0.9v0.9h-0.9zM374.1 598.9h0.9v0.9h-0.9zM368.7 599.8h0.9v0.9h-0.9zM367.9 601.9h0.9v0.9h-0.9zM365.3 604.8h0.9v0.9h-0.9zM369.3 598.2h0.9v0.9h-0.9zM365.6 605.6h0.9v0.9h-0.9zM364.4 604.0h0.9v0.9h-0.9zM365.0 604.3h0.9v0.9h-0.9zM357.0 600.6h0.9v0.9h-0.9zM356.7 601.5h0.9v0.9h-0.9zM366.9 605.3h0.9v0.9h-0.9zM359.0 600.1h0.9v0.9h-0.9zM359.2 601.6h0.9v0.9h-0.9zM354.5 598.6h0.9v0.9h-0.9zM351.5 597.6h0.9v0.9h-0.9zM349.8 598.7h0.9v0.9h-0.9zM351.4 599.6h0.9v0.9h-0.9zM348.2 597.4h0.9v0.9h-0.9zM352.8 600.1h0.9v0.9h-0.9zM366.1 608.3h0.9v0.9h-0.9zM365.8 604.3h0.9v0.9h-0.9zM371.0 615.1h0.9v0.9h-0.9zM367.8 611.3h0.9v0.9h-0.9zM368.7 609.6h0.9v0.9h-0.9zM366.5 608.7h0.9v0.9h-0.9zM373.8 619.5h0.9v0.9h-0.9zM371.6 615.0h0.9v0.9h-0.9zM374.4 618.3h0.9v0.9h-0.9zM374.3 615.7h0.9v0.9h-0.9zM372.9 617.2h0.9v0.9h-0.9zM374.8 617.4h0.9v0.9h-0.9zM379.9 620.8h0.9v0.9h-0.9zM377.8 621.4h0.9v0.9h-0.9zM377.4 619.9h0.9v0.9h-0.9zM377.3 620.8h0.9v0.9h-0.9zM382.0 624.7h0.9v0.9h-0.9zM362.8 607.1h0.9v0.9h-0.9zM361.7 606.4h0.9v0.9h-0.9zM355.5 611.8h0.9v0.9h-0.9zM359.2 609.2h0.9v0.9h-0.9zM359.1 610.5h0.9v0.9h-0.9zM365.0 605.5h0.9v0.9h-0.9zM358.9 610.9h0.9v0.9h-0.9zM352.5 612.6h0.9v0.9h-0.9zM354.2 610.9h0.9v0.9h-0.9zM350.0 614.7h0.9v0.9h-0.9zM350.7 613.8h0.9v0.9h-0.9zM351.4 613.0h0.9v0.9h-0.9zM404.2 577.3h0.9v0.9h-0.9zM399.9 579.6h0.9v0.9h-0.9zM398.4 581.4h0.9v0.9h-0.9zM407.0 575.5h0.9v0.9h-0.9zM404.2 579.2h0.9v0.9h-0.9zM401.1 578.0h0.9v0.9h-0.9zM406.4 570.0h0.9v0.9h-0.9zM408.6 571.3h0.9v0.9h-0.9zM407.3 574.9h0.9v0.9h-0.9zM407.3 568.5h0.9v0.9h-0.9zM408.4 564.4h0.9v0.9h-0.9zM409.3 562.9h0.9v0.9h-0.9zM408.6 565.6h0.9v0.9h-0.9zM411.4 557.2h0.9v0.9h-0.9zM409.5 560.6h0.9v0.9h-0.9zM408.4 561.2h0.9v0.9h-0.9zM412.2 557.1h0.9v0.9h-0.9zM414.4 553.8h0.9v0.9h-0.9zM414.7 553.5h0.9v0.9h-0.9zM408.4 561.6h0.9v0.9h-0.9zM411.2 560.4h0.9v0.9h-0.9zM415.3 559.3h0.9v0.9h-0.9zM410.9 562.8h0.9v0.9h-0.9zM411.4 561.6h0.9v0.9h-0.9zM424.1 561.5h0.9v0.9h-0.9zM416.6 560.0h0.9v0.9h-0.9zM422.6 560.1h0.9v0.9h-0.9zM425.5 560.5h0.9v0.9h-0.9zM422.3 561.2h0.9v0.9h-0.9zM422.1 561.5h0.9v0.9h-0.9zM426.4 562.5h0.9v0.9h-0.9zM428.1 559.6h0.9v0.9h-0.9zM431.2 562.4h0.9v0.9h-0.9zM429.4 561.2h0.9v0.9h-0.9zM427.1 561.8h0.9v0.9h-0.9zM434.9 560.6h0.9v0.9h-0.9zM441.4 559.0h0.9v0.9h-0.9zM440.7 557.0h0.9v0.9h-0.9zM437.9 560.8h0.9v0.9h-0.9zM445.9 553.3h0.9v0.9h-0.9zM446.8 553.0h0.9v0.9h-0.9zM443.3 556.1h0.9v0.9h-0.9zM445.4 555.4h0.9v0.9h-0.9zM398.8 567.3h0.9v0.9h-0.9zM404.6 560.3h0.9v0.9h-0.9zM401.9 560.3h0.9v0.9h-0.9zM400.7 565.8h0.9v0.9h-0.9zM399.0 569.6h0.9v0.9h-0.9zM398.7 568.2h0.9v0.9h-0.9zM398.5 569.8h0.9v0.9h-0.9zM398.1 568.8h0.9v0.9h-0.9zM391.3 576.6h0.9v0.9h-0.9zM390.1 575.6h0.9v0.9h-0.9zM394.8 573.6h0.9v0.9h-0.9zM393.6 570.9h0.9v0.9h-0.9zM392.3 575.4h0.9v0.9h-0.9zM396.2 594.9h0.9v0.9h-0.9zM394.2 596.5h0.9v0.9h-0.9zM397.0 593.4h0.9v0.9h-0.9zM399.0 592.3h0.9v0.9h-0.9zM395.3 603.3h0.9v0.9h-0.9zM395.1 597.6h0.9v0.9h-0.9zM394.7 603.2h0.9v0.9h-0.9zM394.6 600.9h0.9v0.9h-0.9zM394.0 609.9h0.9v0.9h-0.9zM393.1 604.2h0.9v0.9h-0.9zM394.8 609.1h0.9v0.9h-0.9zM397.7 612.7h0.9v0.9h-0.9zM397.0 616.3h0.9v0.9h-0.9zM398.8 613.4h0.9v0.9h-0.9zM396.3 611.1h0.9v0.9h-0.9zM404.5 622.4h0.9v0.9h-0.9zM406.2 623.7h0.9v0.9h-0.9zM403.4 620.8h0.9v0.9h-0.9zM402.4 620.7h0.9v0.9h-0.9zM408.1 624.7h0.9v0.9h-0.9zM403.8 623.4h0.9v0.9h-0.9zM403.8 623.7h0.9v0.9h-0.9zM404.0 586.7h0.9v0.9h-0.9zM399.9 589.2h0.9v0.9h-0.9zM402.1 586.6h0.9v0.9h-0.9zM402.7 588.6h0.9v0.9h-0.9zM399.3 589.0h0.9v0.9h-0.9zM407.5 576.8h0.9v0.9h-0.9zM404.5 584.1h0.9v0.9h-0.9zM407.7 576.6h0.9v0.9h-0.9zM406.0 577.2h0.9v0.9h-0.9zM404.4 583.6h0.9v0.9h-0.9zM397.4 592.3h0.9v0.9h-0.9zM396.8 590.9h0.9v0.9h-0.9zM398.1 593.0h0.9v0.9h-0.9zM392.8 592.0h0.9v0.9h-0.9zM395.7 593.0h0.9v0.9h-0.9zM394.9 590.4h0.9v0.9h-0.9zM395.4 604.6h0.9v0.9h-0.9zM396.9 605.3h0.9v0.9h-0.9zM403.0 602.7h0.9v0.9h-0.9zM398.0 602.9h0.9v0.9h-0.9zM399.0 604.7h0.9v0.9h-0.9zM403.3 604.9h0.9v0.9h-0.9zM395.0 604.8h0.9v0.9h-0.9zM413.3 606.3h0.9v0.9h-0.9zM410.4 605.0h0.9v0.9h-0.9zM414.7 606.1h0.9v0.9h-0.9zM412.8 607.2h0.9v0.9h-0.9zM408.0 604.4h0.9v0.9h-0.9zM407.7 605.1h0.9v0.9h-0.9zM423.6 608.7h0.9v0.9h-0.9zM419.7 605.8h0.9v0.9h-0.9zM415.0 608.2h0.9v0.9h-0.9zM421.0 607.5h0.9v0.9h-0.9zM425.7 605.3h0.9v0.9h-0.9zM427.7 606.0h0.9v0.9h-0.9zM423.2 608.9h0.9v0.9h-0.9zM424.0 607.9h0.9v0.9h-0.9zM432.4 603.2h0.9v0.9h-0.9zM434.7 600.3h0.9v0.9h-0.9zM432.1 602.9h0.9v0.9h-0.9zM437.0 600.3h0.9v0.9h-0.9zM432.1 603.8h0.9v0.9h-0.9zM433.4 600.4h0.9v0.9h-0.9zM438.6 595.2h0.9v0.9h-0.9zM444.0 595.0h0.9v0.9h-0.9zM440.1 595.9h0.9v0.9h-0.9zM443.4 593.5h0.9v0.9h-0.9zM439.5 596.6h0.9v0.9h-0.9zM438.5 598.4h0.9v0.9h-0.9zM448.4 590.5h0.9v0.9h-0.9zM447.4 592.1h0.9v0.9h-0.9zM444.6 592.8h0.9v0.9h-0.9zM446.6 590.9h0.9v0.9h-0.9zM430.2 585.0h0.9v0.9h-0.9zM430.3 586.4h0.9v0.9h-0.9zM432.1 588.3h0.9v0.9h-0.9zM431.2 587.6h0.9v0.9h-0.9zM436.4 590.4h0.9v0.9h-0.9zM431.0 588.1h0.9v0.9h-0.9zM436.8 599.1h0.9v0.9h-0.9zM436.6 595.9h0.9v0.9h-0.9zM438.0 597.2h0.9v0.9h-0.9zM437.2 598.3h0.9v0.9h-0.9zM425.9 583.2h0.9v0.9h-0.9zM427.8 582.9h0.9v0.9h-0.9zM428.0 583.1h0.9v0.9h-0.9zM426.7 585.0h0.9v0.9h-0.9zM430.7 584.9h0.9v0.9h-0.9zM430.1 584.9h0.9v0.9h-0.9zM431.4 583.4h0.9v0.9h-0.9zM429.8 583.2h0.9v0.9h-0.9zM439.5 579.5h0.9v0.9h-0.9zM437.9 580.5h0.9v0.9h-0.9zM443.3 577.1h0.9v0.9h-0.9zM438.1 581.6h0.9v0.9h-0.9zM440.8 580.8h0.9v0.9h-0.9zM447.4 571.6h0.9v0.9h-0.9zM444.8 575.0h0.9v0.9h-0.9zM442.2 576.4h0.9v0.9h-0.9zM448.0 571.0h0.9v0.9h-0.9zM446.0 571.1h0.9v0.9h-0.9zM444.9 577.5h0.9v0.9h-0.9zM450.0 566.9h0.9v0.9h-0.9zM450.4 565.8h0.9v0.9h-0.9zM448.4 566.0h0.9v0.9h-0.9zM417.1 609.9h0.9v0.9h-0.9zM415.4 610.0h0.9v0.9h-0.9zM416.1 606.2h0.9v0.9h-0.9zM416.9 608.7h0.9v0.9h-0.9zM416.6 616.5h0.9v0.9h-0.9zM418.9 620.9h0.9v0.9h-0.9zM417.3 616.0h0.9v0.9h-0.9zM416.4 615.6h0.9v0.9h-0.9zM420.6 622.5h0.9v0.9h-0.9zM418.5 621.1h0.9v0.9h-0.9zM421.8 622.8h0.9v0.9h-0.9zM419.2 620.7h0.9v0.9h-0.9zM440.0 603.4h0.9v0.9h-0.9zM436.2 601.7h0.9v0.9h-0.9zM439.2 604.7h0.9v0.9h-0.9zM441.2 608.3h0.9v0.9h-0.9zM441.1 606.0h0.9v0.9h-0.9zM436.3 599.7h0.9v0.9h-0.9zM443.1 609.5h0.9v0.9h-0.9zM447.1 611.5h0.9v0.9h-0.9zM440.8 608.1h0.9v0.9h-0.9zM443.7 610.0h0.9v0.9h-0.9zM451.8 613.0h0.9v0.9h-0.9zM450.4 613.5h0.9v0.9h-0.9zM425.4 613.3h0.9v0.9h-0.9zM424.0 615.8h0.9v0.9h-0.9zM424.4 616.6h0.9v0.9h-0.9zM424.4 616.3h0.9v0.9h-0.9zM422.5 610.0h0.9v0.9h-0.9zM425.7 617.2h0.9v0.9h-0.9zM428.3 620.8h0.9v0.9h-0.9zM429.5 620.7h0.9v0.9h-0.9zM439.1 620.1h0.9v0.9h-0.9zM433.9 621.7h0.9v0.9h-0.9zM433.8 621.2h0.9v0.9h-0.9zM432.1 621.8h0.9v0.9h-0.9zM430.3 623.0h0.9v0.9h-0.9zM438.8 621.1h0.9v0.9h-0.9zM437.4 619.9h0.9v0.9h-0.9zM439.2 619.8h0.9v0.9h-0.9zM446.6 617.5h0.9v0.9h-0.9zM439.9 620.8h0.9v0.9h-0.9zM435.7 561.4h0.9v0.9h-0.9zM444.4 568.7h0.9v0.9h-0.9zM439.7 564.0h0.9v0.9h-0.9zM441.9 565.6h0.9v0.9h-0.9zM439.4 564.3h0.9v0.9h-0.9zM444.3 569.4h0.9v0.9h-0.9zM434.5 562.5h0.9v0.9h-0.9zM445.5 570.7h0.9v0.9h-0.9zM445.7 572.6h0.9v0.9h-0.9zM447.4 576.8h0.9v0.9h-0.9zM444.6 572.2h0.9v0.9h-0.9zM445.7 572.6h0.9v0.9h-0.9zM447.5 575.6h0.9v0.9h-0.9zM447.2 578.3h0.9v0.9h-0.9z" fill="#b5b5b5"/>
<path d="M379.3 577.8a2.6 2.6 0 1 0 5.2 0a2.6 2.6 0 1 0 -5.2 0M405.3 561.1a2.6 2.6 0 1 0 5.2 0a2.6 2.6 0 1 0 -5.2 0M432.8 559.6a2.6 2.6 0 1 0 5.2 0a2.6 2.6 0 1 0 -5.2 0M367.1 595.9a2.6 2.6 0 1 0 5.2 0a2.6 2.6 0 1 0 -5.2 0M364.1 606.5a2.6 2.6 0 1 0 5.2 0a2.6 2.6 0 1 0 -5.2 0M403.8 603.5a2.6 2.6 0 1 0 5.2 0a2.6 2.6 0 1 0 -5.2 0M434.3 595.9a2.6 2.6 0 1 0 5.2 0a2.6 2.6 0 1 0 -5.2 0M382.4 556.6a2.6 2.6 0 1 0 5.2 0a2.6 2.6 0 1 0 -5.2 0M353.4 562.6a2.6 2.6 0 1 0 5.2 0a2.6 2.6 0 1 0 -5.2 0M426.7 583.8a2.6 2.6 0 1 0 5.2 0a2.6 2.6 0 1 0 -5.2 0" fill="#8a8a8a" opacity="0.8"/>
<path d="M381.9 577.8l2.8 5.8M381.9 577.8l3.6 1.6M381.9 577.8l2.5 1.9M381.9 577.8l2.8 4.7M381.9 577.8l-4.0 1.5M381.9 577.8l6.7 1.7M381.9 577.8l1.0 -6.3M381.9 577.8l-1.6 3.6M381.9 577.8l-6.7 -0.1M407.9 561.1l-0.2 -3.2M407.9 561.1l-0.7 3.5M407.9 561.1l-0.3 -2.5M407.9 561.1l2.4 -5.1M407.9 561.1l5.4 -0.5M407.9 561.1l-0.5 -5.1M407.9 561.1l2.9 -1.8M407.9 561.1l-4.2 5.4M407.9 561.1l-5.4 -3.5M435.4 559.6l-2.2 -5.5M435.4 559.6l-5.7 -0.7M435.4 559.6l-1.7 -5.8M435.4 559.6l2.5 5.2M435.4 559.6l1.5 4.9M435.4 559.6l-6.4 0.9M435.4 559.6l0.0 4.8M435.4 559.6l-1.8 -3.4M435.4 559.6l5.8 0.6M369.7 595.9l-3.3 -1.6M369.7 595.9l-4.2 1.6M369.7 595.9l-4.1 5.7M369.7 595.9l-5.2 -1.3M369.7 595.9l-5.0 1.6M369.7 595.9l2.9 4.6M369.7 595.9l-3.0 -5.2M369.7 595.9l-4.7 1.0M369.7 595.9l1.5 -6.4M366.7 606.5l1.7 2.8M366.7 606.5l-0.1 -5.2M366.7 606.5l-0.4 4.2M366.7 606.5l-0.1 -4.0M366.7 606.5l-5.3 1.2M366.7 606.5l4.3 2.4M366.7 606.5l-1.5 -5.4M366.7 606.5l-5.4 2.0M366.7 606.5l-1.3 4.7M406.4 603.5l-1.1 2.9M406.4 603.5l-0.1 -4.2M406.4 603.5l-1.5 -3.0M406.4 603.5l0.2 4.5M406.4 603.5l-0.5 6.0M406.4 603.5l-0.6 3.0M406.4 603.5l-5.4 -0.2M406.4 603.5l4.4 -4.7M406.4 603.5l0.4 2.6M436.9 595.9l-6.6 -2.0M436.9 595.9l4.1 3.5M436.9 595.9l1.7 -2.4M436.9 595.9l-3.5 -2.4M436.9 595.9l-2.9 -2.4M436.9 595.9l-2.4 5.4M436.9 595.9l-1.6 -4.8M436.9 595.9l6.3 1.1M436.9 595.9l4.9 2.1M385.0 556.6l-5.1 0.8M385.0 556.6l-1.3 3.7M385.0 556.6l4.7 -0.1M385.0 556.6l0.2 3.8M385.0 556.6l-2.7 6.2M385.0 556.6l6.0 -2.4M385.0 556.6l-2.6 3.5M385.0 556.6l4.7 4.9M385.0 556.6l-2.4 -3.1M356.0 562.6l-4.6 -3.6M356.0 562.6l3.7 0.6M356.0 562.6l3.8 3.5M356.0 562.6l5.3 -0.7M356.0 562.6l1.1 -6.2M356.0 562.6l2.7 -0.0M356.0 562.6l6.3 1.3M356.0 562.6l3.3 -3.1M356.0 562.6l-3.1 1.1M429.3 583.8l-3.7 -3.8M429.3 583.8l-3.4 5.0M429.3 583.8l4.1 5.3M429.3 583.8l3.2 -0.6M429.3 583.8l0.0 -7.0M429.3 583.8l-6.3 -0.8M429.3 583.8l-6.3 -2.8M429.3 583.8l0.2 5.2M429.3 583.8l-2.1 -5.1" stroke="#b0b0b0" stroke-width="0.8" fill="none"/>
</g>
<path d="M422.6 578.2h0.8v0.8h-0.8zM352.9 571.9h1.2v1.2h-1.2zM404.1 588.5h1.0v1.0h-1.0zM445.2 594.5h1.0v1.0h-1.0zM417.5 624.3h1.0v1.0h-1.0zM374.8 625.7h1.2v1.2h-1.2zM437.4 556.9h0.8v0.8h-0.8zM373.2 601.0h1.0v1.0h-1.0zM423.3 605.3h1.2v1.2h-1.2zM447.5 581.2h1.0v1.0h-1.0zM428.0 620.1h1.0v1.0h-1.0zM401.7 552.5h1.0v1.0h-1.0zM370.0 560.9h0.8v0.8h-0.8zM375.6 608.9h1.0v1.0h-1.0zM394.8 551.5h1.0v1.0h-1.0zM349.0 617.0h1.0v1.0h-1.0zM405.7 598.1h1.2v1.2h-1.2zM351.1 599.1h1.2v1.2h-1.2zM433.7 619.7h1.0v1.0h-1.0zM446.9 625.0h1.0v1.0h-1.0zM432.4 600.8h0.8v0.8h-0.8zM421.9 616.3h0.8v0.8h-0.8zM368.4 595.4h1.0v1.0h-1.0zM404.3 580.0h1.0v1.0h-1.0zM363.5 585.4h1.2v1.2h-1.2zM361.2 576.3h1.2v1.2h-1.2zM431.6 564.6h1.2v1.2h-1.2zM425.4 586.6h1.2v1.2h-1.2zM379.0 606.2h1.2v1.2h-1.2zM450.3 624.1h0.8v0.8h-0.8zM446.3 559.6h1.2v1.2h-1.2zM397.7 625.5h0.8v0.8h-0.8zM447.1 602.8h0.8v0.8h-0.8zM377.1 567.2h1.2v1.2h-1.2zM412.8 598.9h1.2v1.2h-1.2zM378.7 568.7h1.0v1.0h-1.0zM443.8 609.7h1.0v1.0h-1.0zM433.8 554.8h1.2v1.2h-1.2zM351.8 573.7h1.2v1.2h-1.2zM413.7 579.4h0.8v0.8h-0.8zM381.3 607.1h1.2v1.2h-1.2zM379.7 594.3h1.0v1.0h-1.0zM378.0 620.8h1.0v1.0h-1.0zM401.8 613.4h1.0v1.0h-1.0zM431.6 570.9h0.8v0.8h-0.8zM424.3 620.1h1.0v1.0h-1.0zM417.6 575.3h1.2v1.2h-1.2zM367.9 628.3h1.0v1.0h-1.0zM419.8 612.7h1.0v1.0h-1.0zM428.7 594.6h0.8v0.8h-0.8z" fill="#8a8a8a"/>
<path d="M443.5 578.9h1.0v1.0h-1.0zM390.1 560.5h1.0v1.0h-1.0zM448.7 601.1h1.2v1.2h-1.2zM447.2 572.3h1.2v1.2h-1.2zM425.6 624.6h1.0v1.0h-1.0zM368.3 567.6h1.2v1.2h-1.2zM390.3 563.3h0.8v0.8h-0.8zM424.9 591.5h0.8v0.8h-0.8zM360.4 592.6h1.0v1.0h-1.0zM399.1 606.4h1.0v1.0h-1.0zM350.2 581.2h0.8v0.8h-0.8zM362.0 611.4h1.2v1.2h-1.2zM395.9 584.3h1.0v1.0h-1.0zM413.7 622.8h1.2v1.2h-1.2zM354.4 573.1h0.8v0.8h-0.8zM380.8 613.5h1.2v1.2h-1.2zM364.8 608.4h1.2v1.2h-1.2zM385.2 599.4h1.0v1.0h-1.0zM423.3 616.9h1.0v1.0h-1.0zM413.5 597.4h0.8v0.8h-0.8zM411.9 609.5h1.0v1.0h-1.0zM451.0 602.3h0.8v0.8h-0.8zM448.0 566.6h0.8v0.8h-0.8zM398.0 598.6h0.8v0.8h-0.8zM434.5 562.5h1.0v1.0h-1.0zM381.1 564.7h1.0v1.0h-1.0zM410.3 585.5h1.0v1.0h-1.0zM407.6 566.4h0.8v0.8h-0.8zM395.4 613.2h1.0v1.0h-1.0zM351.8 621.0h1.2v1.2h-1.2zM425.2 616.7h1.0v1.0h-1.0zM351.2 606.7h0.8v0.8h-0.8zM402.5 560.0h1.0v1.0h-1.0zM403.1 581.8h0.8v0.8h-0.8zM374.6 625.7h1.0v1.0h-1.0zM354.5 605.5h0.8v0.8h-0.8zM413.5 554.4h1.2v1.2h-1.2zM402.8 617.5h0.8v0.8h-0.8zM411.4 614.0h0.8v0.8h-0.8zM437.3 556.8h1.0v1.0h-1.0zM380.8 576.8h0.8v0.8h-0.8zM407.1 617.3h1.0v1.0h-1.0zM419.5 608.3h1.2v1.2h-1.2zM382.3 617.1h1.2v1.2h-1.2zM355.8 614.9h0.8v0.8h-0.8zM416.2 573.2h0.8v0.8h-0.8zM422.8 558.4h1.0v1.0h-1.0zM377.6 599.3h1.0v1.0h-1.0zM349.7 561.8h1.0v1.0h-1.0zM404.1 583.3h1.0v1.0h-1.0zM426.2 619.5h1.2v1.2h-1.2zM352.8 607.7h1.0v1.0h-1.0zM429.7 576.6h1.0v1.0h-1.0zM410.6 574.8h1.2v1.2h-1.2zM397.0 620.1h0.8v0.8h-0.8zM352.4 611.9h1.0v1.0h-1.0zM395.0 594.8h1.0v1.0h-1.0zM362.3 563.6h1.0v1.0h-1.0zM379.7 577.3h1.0v1.0h-1.0z" fill="#a5a5a5"/>
<path d="M401.4 570.3h0.8v0.8h-0.8zM393.9 592.5h1.2v1.2h-1.2zM348.3 601.4h0.8v0.8h-0.8zM366.2 551.7h1.0v1.0h-1.0zM413.0 565.9h1.2v1.2h-1.2zM450.9 625.2h0.8v0.8h-0.8zM389.4 564.6h1.2v1.2h-1.2zM442.5 564.6h0.8v0.8h-0.8zM413.1 559.0h0.8v0.8h-0.8zM385.2 607.6h0.8v0.8h-0.8zM436.4 558.0h0.8v0.8h-0.8zM353.5 615.4h1.2v1.2h-1.2zM426.7 553.3h1.2v1.2h-1.2zM407.7 567.4h0.8v0.8h-0.8zM425.6 554.2h0.8v0.8h-0.8zM374.0 588.9h1.2v1.2h-1.2zM353.4 603.9h0.8v0.8h-0.8zM371.3 623.5h0.8v0.8h-0.8zM383.6 561.2h1.0v1.0h-1.0zM418.3 609.4h1.0v1.0h-1.0zM407.5 573.4h0.8v0.8h-0.8zM427.5 619.8h1.0v1.0h-1.0zM446.0 605.1h1.2v1.2h-1.2zM416.0 599.1h1.0v1.0h-1.0zM444.3 620.1h1.2v1.2h-1.2zM431.5 618.9h1.2v1.2h-1.2zM418.3 615.5h1.2v1.2h-1.2zM378.5 573.4h1.0v1.0h-1.0zM355.8 610.8h0.8v0.8h-0.8zM442.8 584.9h1.2v1.2h-1.2zM382.6 615.1h1.2v1.2h-1.2zM363.9 598.6h1.0v1.0h-1.0zM409.0 559.6h1.2v1.2h-1.2zM401.6 594.1h0.8v0.8h-0.8zM354.4 613.9h0.8v0.8h-0.8zM421.7 597.9h0.8v0.8h-0.8zM397.2 562.3h1.0v1.0h-1.0zM384.6 563.7h0.8v0.8h-0.8zM379.8 607.7h1.2v1.2h-1.2zM387.8 580.2h1.2v1.2h-1.2zM411.0 593.8h0.8v0.8h-0.8zM443.9 555.6h0.8v0.8h-0.8zM377.0 582.0h0.8v0.8h-0.8zM437.8 593.1h1.2v1.2h-1.2zM423.6 558.8h1.2v1.2h-1.2zM368.8 617.8h1.2v1.2h-1.2zM390.6 568.0h1.0v1.0h-1.0zM355.6 564.7h1.0v1.0h-1.0zM402.3 621.2h1.2v1.2h-1.2zM366.6 610.6h1.0v1.0h-1.0zM375.0 551.6h1.0v1.0h-1.0zM391.0 581.7h1.2v1.2h-1.2zM395.1 614.0h1.2v1.2h-1.2zM350.5 595.0h0.8v0.8h-0.8z" fill="#6e6e6e"/>
<path d="M440.5 617.0h1.2v1.2h-1.2zM347.8 628.1h0.8v0.8h-0.8zM438.1 551.9h1.0v1.0h-1.0zM396.2 610.0h1.0v1.0h-1.0zM380.0 565.4h1.0v1.0h-1.0zM366.6 608.5h0.8v0.8h-0.8zM350.9 577.8h0.8v0.8h-0.8zM373.4 595.9h1.2v1.2h-1.2zM362.5 585.6h1.2v1.2h-1.2zM349.9 551.2h0.8v0.8h-0.8zM420.7 592.8h1.0v1.0h-1.0zM383.1 596.9h0.8v0.8h-0.8zM395.2 621.7h1.2v1.2h-1.2zM389.6 599.2h1.2v1.2h-1.2zM420.7 567.7h0.8v0.8h-0.8zM430.0 626.7h1.0v1.0h-1.0zM411.0 561.4h1.2v1.2h-1.2zM391.6 614.0h0.8v0.8h-0.8zM387.4 610.2h1.0v1.0h-1.0zM432.8 624.9h1.2v1.2h-1.2zM355.5 605.3h0.8v0.8h-0.8zM432.0 559.0h1.2v1.2h-1.2zM443.1 575.7h1.0v1.0h-1.0zM376.5 612.8h1.0v1.0h-1.0zM439.3 565.4h1.0v1.0h-1.0zM446.1 592.7h1.2v1.2h-1.2zM365.1 605.7h1.0v1.0h-1.0zM426.4 556.8h1.0v1.0h-1.0zM433.5 574.0h0.8v0.8h-0.8zM356.0 619.8h1.0v1.0h-1.0zM434.8 609.7h0.8v0.8h-0.8zM450.5 600.8h1.0v1.0h-1.0zM387.0 603.3h1.0v1.0h-1.0zM370.0 615.3h1.2v1.2h-1.2zM450.6 578.2h1.0v1.0h-1.0zM365.2 618.9h0.8v0.8h-0.8zM390.1 594.0h1.2v1.2h-1.2zM438.7 578.8h1.0v1.0h-1.0zM407.0 615.3h1.0v1.0h-1.0zM350.7 559.7h0.8v0.8h-0.8zM426.0 602.7h1.2v1.2h-1.2zM369.0 593.4h1.2v1.2h-1.2zM424.0 555.1h1.2v1.2h-1.2zM391.2 628.3h0.8v0.8h-0.8zM411.5 615.1h0.8v0.8h-0.8zM406.3 597.7h0.8v0.8h-0.8zM430.9 572.3h1.0v1.0h-1.0zM405.9 562.3h1.0v1.0h-1.0zM403.9 579.6h0.8v0.8h-0.8zM373.9 611.9h1.0v1.0h-1.0zM427.6 551.8h1.2v1.2h-1.2zM444.6 604.6h1.2v1.2h-1.2zM428.3 587.9h1.2v1.2h-1.2zM372.6 562.8h1.2v1.2h-1.2zM379.8 586.9h1.0v1.0h-1.0zM417.8 588.0h1.0v1.0h-1.0zM420.6 596.8h1.0v1.0h-1.0z" fill="#c0c0c0"/>
</g>
<line x1="422.90" y1="624.40" x2="445.90" y2="624.40" stroke="#e4e4e4" stroke-width="1.7"/>
<rect x="454.80" y="526.00" width="103.60" height="20.30" rx="1" fill="#fff" stroke="#1e1e1e" stroke-width="1.3"/>
<text x="506.60" y="539.85" font-size="10" font-weight="bold" text-anchor="middle" fill="#1a1a1a" stroke="#1a1a1a" stroke-width="0.22"><tspan fill="#d2402c" stroke="#d2402c">V</tspan>+<tspan fill="#4a80c8" stroke="#4a80c8">A</tspan> (2 : 1)</text>
<clipPath id="cp5"><rect x="454.20" y="550.50" width="104.80" height="78.00"/></clipPath>
<g clip-path="url(#cp5)">
<rect x="454.20" y="550.50" width="104.80" height="78.00" fill="#292929"/>
<g filter="url(#blur2)"><path d="M471.6 580.1a7.5 7.5 0 1 0 15.0 0a7.5 7.5 0 1 0 -15.0 0M477.4 554.3a4.3 4.3 0 1 0 8.7 0a4.3 4.3 0 1 0 -8.7 0M463.3 567.0a6.1 6.1 0 1 0 12.3 0a6.1 6.1 0 1 0 -12.3 0M543.4 565.1a7.2 7.2 0 1 0 14.3 0a7.2 7.2 0 1 0 -14.3 0M499.2 553.0a8.3 8.3 0 1 0 16.5 0a8.3 8.3 0 1 0 -16.5 0M455.5 553.9a8.4 8.4 0 1 0 16.8 0a8.4 8.4 0 1 0 -16.8 0M468.7 600.1a6.6 6.6 0 1 0 13.2 0a6.6 6.6 0 1 0 -13.2 0M455.9 614.0a4.8 4.8 0 1 0 9.6 0a4.8 4.8 0 1 0 -9.6 0M511.4 581.1a9.0 9.0 0 1 0 18.0 0a9.0 9.0 0 1 0 -18.0 0M481.9 578.7a5.3 5.3 0 1 0 10.7 0a5.3 5.3 0 1 0 -10.7 0M515.0 588.3a8.4 8.4 0 1 0 16.7 0a8.4 8.4 0 1 0 -16.7 0" fill="#303030"/><path d="M504.5 557.6a6.4 6.4 0 1 0 12.8 0a6.4 6.4 0 1 0 -12.8 0M510.1 602.7a4.2 4.2 0 1 0 8.4 0a4.2 4.2 0 1 0 -8.4 0M543.6 623.7a4.6 4.6 0 1 0 9.1 0a4.6 4.6 0 1 0 -9.1 0M454.8 588.4a3.4 3.4 0 1 0 6.8 0a3.4 3.4 0 1 0 -6.8 0M512.3 586.4a3.1 3.1 0 1 0 6.3 0a3.1 3.1 0 1 0 -6.3 0M477.9 594.2a4.0 4.0 0 1 0 8.0 0a4.0 4.0 0 1 0 -8.0 0M486.3 587.4a4.1 4.1 0 1 0 8.1 0a4.1 4.1 0 1 0 -8.1 0M540.0 555.7a8.0 8.0 0 1 0 16.0 0a8.0 8.0 0 1 0 -16.0 0M494.2 618.8a6.1 6.1 0 1 0 12.2 0a6.1 6.1 0 1 0 -12.2 0M522.3 567.7a3.0 3.0 0 1 0 6.0 0a3.0 3.0 0 1 0 -6.0 0M471.1 622.8a6.9 6.9 0 1 0 13.7 0a6.9 6.9 0 1 0 -13.7 0" fill="#222222"/><path d="M510.0 620.1a5.0 5.0 0 1 0 10.0 0a5.0 5.0 0 1 0 -10.0 0M510.9 613.1a8.6 8.6 0 1 0 17.3 0a8.6 8.6 0 1 0 -17.3 0M539.4 606.8a7.2 7.2 0 1 0 14.3 0a7.2 7.2 0 1 0 -14.3 0M485.1 585.5a5.4 5.4 0 1 0 10.7 0a5.4 5.4 0 1 0 -10.7 0M462.6 588.9a8.7 8.7 0 1 0 17.5 0a8.7 8.7 0 1 0 -17.5 0M506.3 564.4a5.2 5.2 0 1 0 10.3 0a5.2 5.2 0 1 0 -10.3 0M550.6 586.8a4.6 4.6 0 1 0 9.2 0a4.6 4.6 0 1 0 -9.2 0M463.9 585.8a4.4 4.4 0 1 0 8.7 0a4.4 4.4 0 1 0 -8.7 0M503.5 589.7a5.0 5.0 0 1 0 10.0 0a5.0 5.0 0 1 0 -10.0 0M501.8 593.4a5.1 5.1 0 1 0 10.1 0a5.1 5.1 0 1 0 -10.1 0M509.2 558.2a8.9 8.9 0 1 0 17.8 0a8.9 8.9 0 1 0 -17.8 0M524.0 607.9a8.2 8.2 0 1 0 16.4 0a8.2 8.2 0 1 0 -16.4 0M461.5 550.8a6.3 6.3 0 1 0 12.6 0a6.3 6.3 0 1 0 -12.6 0" fill="#2e2e2e"/></g>
<g filter="url(#blur05)">
<path d="M454.2 559.6L466.4 567.2L477.1 579.3L480.2 585.3L484.8 591.4L492.4 595.9M466.4 567.2L474.1 556.6L478.7 550.5M466.4 567.2L457.3 556.6M466.4 567.2L455.7 573.2M474.1 570.2L481.7 564.1L494.0 561.1L504.7 561.1L513.9 567.2L520.0 574.7M504.7 561.1L503.2 553.5L500.1 550.5M520.0 574.7L527.6 570.2L536.8 564.1L542.9 559.6L549.1 553.5M520.0 574.7L521.5 582.3L520.0 589.9L516.9 595.9L512.3 603.5L504.7 611.1L498.6 617.1L495.5 628.5M521.5 582.3L530.7 583.8L542.9 585.3L552.1 589.9L559.0 591.4M542.9 585.3L547.5 577.8L549.1 570.2L546.0 562.6L541.4 555.0M549.1 570.2L559.0 567.2M542.9 585.3L539.9 594.4L535.3 600.5L527.6 603.5L518.5 602.0L507.7 600.5M484.8 591.4L500.1 589.9L512.3 585.3L521.5 582.3M474.1 597.5L484.8 595.9L495.5 595.9L507.7 597.5L518.5 599.0L527.6 595.9L536.8 595.9L546.0 594.4L559.0 595.9M474.1 597.5L463.4 595.9L457.3 594.4L454.2 592.9M474.1 597.5L469.5 603.5L463.4 611.1L457.3 617.1M474.1 597.5L478.7 605.0L487.9 611.1L497.0 617.1L506.2 620.2L515.4 623.2L521.5 628.5M497.0 617.1L490.9 623.2L487.9 628.5M535.3 600.5L539.9 608.1L546.0 615.6L552.1 623.2L555.2 628.5M527.6 603.5L526.1 614.1L524.6 623.2M546.0 615.6L553.6 611.1L559.0 608.1M458.8 580.8L463.4 588.4L474.1 597.5M477.1 579.3L463.4 583.8L454.2 586.8M492.4 595.9L494.0 605.0L497.0 617.1M458.8 597.5L460.3 608.1L463.4 611.1M512.3 564.1L520.0 556.6L524.6 550.5M460.3 611.1L457.3 621.7L454.2 626.2M546.0 615.6L544.5 628.5M454.2 573.2L463.4 576.2L469.5 580.8M463.4 588.4L469.5 580.8L480.2 585.3M454.2 603.5L463.4 605.0L469.5 603.5M484.8 617.1L487.9 611.1M504.7 611.1L512.3 614.1L518.5 623.2M546.0 595.9L552.1 603.5L559.0 600.5M552.1 589.9L553.6 600.5L552.1 611.1" fill="none" stroke="#7a7a7a" stroke-width="3.0" stroke-linejoin="round" stroke-linecap="round" opacity="0.35"/>
<path d="M454.2 559.6L466.4 567.2L477.1 579.3L480.2 585.3L484.8 591.4L492.4 595.9M466.4 567.2L474.1 556.6L478.7 550.5M466.4 567.2L457.3 556.6M466.4 567.2L455.7 573.2M474.1 570.2L481.7 564.1L494.0 561.1L504.7 561.1L513.9 567.2L520.0 574.7M504.7 561.1L503.2 553.5L500.1 550.5M520.0 574.7L527.6 570.2L536.8 564.1L542.9 559.6L549.1 553.5M520.0 574.7L521.5 582.3L520.0 589.9L516.9 595.9L512.3 603.5L504.7 611.1L498.6 617.1L495.5 628.5M521.5 582.3L530.7 583.8L542.9 585.3L552.1 589.9L559.0 591.4M542.9 585.3L547.5 577.8L549.1 570.2L546.0 562.6L541.4 555.0M549.1 570.2L559.0 567.2M542.9 585.3L539.9 594.4L535.3 600.5L527.6 603.5L518.5 602.0L507.7 600.5M484.8 591.4L500.1 589.9L512.3 585.3L521.5 582.3M474.1 597.5L484.8 595.9L495.5 595.9L507.7 597.5L518.5 599.0L527.6 595.9L536.8 595.9L546.0 594.4L559.0 595.9M474.1 597.5L463.4 595.9L457.3 594.4L454.2 592.9M474.1 597.5L469.5 603.5L463.4 611.1L457.3 617.1M474.1 597.5L478.7 605.0L487.9 611.1L497.0 617.1L506.2 620.2L515.4 623.2L521.5 628.5M497.0 617.1L490.9 623.2L487.9 628.5M535.3 600.5L539.9 608.1L546.0 615.6L552.1 623.2L555.2 628.5M527.6 603.5L526.1 614.1L524.6 623.2M546.0 615.6L553.6 611.1L559.0 608.1M458.8 580.8L463.4 588.4L474.1 597.5M477.1 579.3L463.4 583.8L454.2 586.8M492.4 595.9L494.0 605.0L497.0 617.1M458.8 597.5L460.3 608.1L463.4 611.1M512.3 564.1L520.0 556.6L524.6 550.5M460.3 611.1L457.3 621.7L454.2 626.2M546.0 615.6L544.5 628.5M454.2 573.2L463.4 576.2L469.5 580.8M463.4 588.4L469.5 580.8L480.2 585.3M454.2 603.5L463.4 605.0L469.5 603.5M484.8 617.1L487.9 611.1M504.7 611.1L512.3 614.1L518.5 623.2M546.0 595.9L552.1 603.5L559.0 600.5M552.1 589.9L553.6 600.5L552.1 611.1" fill="none" stroke="#cccccc" stroke-width="1.06" stroke-linejoin="round" stroke-linecap="round"/>
<path d="M463.0 565.1l0.3 3.5M465.4 566.5l-0.3 0.9M462.8 564.9l0.4 2.8M462.3 564.6l1.1 -2.1M456.2 560.8l2.1 -0.8M459.2 562.7l-0.3 1.0M457.8 561.8l-0.8 3.1M456.7 561.2l1.9 -1.5M467.5 568.3l-0.4 1.1M472.2 573.6l1.3 -0.1M468.1 569.0l2.3 -0.1M470.2 571.4l-0.8 1.7M477.1 579.2l-0.7 0.9M472.6 574.2l1.9 -1.1M473.7 575.4l-1.0 0.7M474.9 576.7l-0.7 2.9M476.3 578.3l-1.1 2.8M478.5 582.0l1.6 -0.2M477.5 580.0l2.8 -1.7M478.9 582.7l1.7 -0.7M483.9 590.2l-1.8 2.2M481.8 587.5l2.2 -1.4M480.7 586.0l-0.8 3.0M482.8 588.8l-1.0 1.4M485.8 592.0l0.9 -1.6M489.3 594.1l1.0 -1.4M489.0 593.9l-0.9 2.9M492.3 595.9l1.4 -1.4M488.3 593.5l-1.1 2.1M472.9 558.3l-1.3 -1.3M471.7 559.9l-0.9 -0.6M472.7 558.5l-1.9 -1.5M467.5 565.8l1.5 0.6M474.0 556.7l2.4 1.1M468.8 563.9l-1.2 -1.5M467.9 565.1l-2.9 -1.6M474.9 555.5l-1.2 -1.4M476.4 553.5l-0.9 -1.0M475.5 554.6l-2.4 -2.0M477.6 551.9l2.5 1.5M466.3 567.0l1.3 -2.0M460.0 559.7l2.4 -2.2M461.3 561.3l-1.9 0.8M462.0 562.0l1.3 -2.6M461.9 561.9l-1.3 0.2M457.8 557.2l-3.1 1.8M461.0 560.9l-3.4 0.6M464.9 568.0l-1.2 -2.5M457.5 572.2l0.1 3.1M464.8 568.1l-1.6 -2.5M459.6 571.1l-0.9 -2.3M460.4 570.6l1.4 2.8M458.0 571.9l-1.3 -1.9M474.9 569.6l-0.3 -1.1M476.4 568.4l1.6 1.5M480.1 565.4l-2.3 -2.3M480.9 564.8l-0.7 -2.1M478.9 566.4l-0.2 -1.8M488.4 562.5l0.9 0.7M489.5 562.2l2.2 2.6M490.6 561.9l0.0 -2.7M483.8 563.6l1.2 -2.4M489.5 562.2l1.7 2.1M491.9 561.6l2.2 2.2M488.4 562.5l-0.2 -1.5M500.3 561.1l1.3 -2.6M501.7 561.1l1.2 -2.2M500.0 561.1l2.0 -2.8M501.6 561.1l0.2 -2.6M496.1 561.1l1.3 1.7M496.5 561.1l0.3 -1.7M510.9 565.2l0.3 1.7M507.5 563.0l2.3 -0.8M510.2 564.7l2.0 -1.9M505.3 561.5l0.9 -0.7M512.8 566.5l2.0 -0.5M510.1 564.7l1.7 -1.5M516.4 570.4l2.4 0.1M519.5 574.2l-0.5 1.0M517.2 571.2l-0.4 2.3M515.1 568.7l-0.2 1.6M518.4 572.8l-2.2 2.5M504.6 560.4l-2.1 -1.3M504.4 559.8l-1.3 0.2M503.6 556.0l1.2 -1.7M504.1 558.2l1.0 -0.8M500.9 551.3l0.8 -1.5M500.8 551.1l-1.7 0.2M525.5 571.4l1.6 1.3M520.9 574.2l0.2 -1.0M523.3 572.8l2.4 1.4M521.7 573.7l0.7 1.5M523.0 573.0l-0.7 -1.9M534.5 565.7l-0.1 -2.6M533.5 566.4l-0.4 -1.0M530.6 568.2l1.3 0.4M533.8 566.1l-0.6 -1.0M528.6 569.5l1.6 1.5M534.3 565.8l1.4 0.4M541.8 560.4l2.0 1.0M542.8 559.7l-0.8 -1.5M538.3 563.0l0.0 -2.0M538.3 563.1l-0.8 -1.8M547.8 554.8l3.5 0.3M543.7 558.9l2.1 0.5M547.7 554.9l-1.1 -2.6M544.4 558.1l-1.7 -3.1M520.1 575.2l2.7 0.2M521.3 581.1l-2.4 1.9M520.8 578.8l-1.4 0.9M521.3 581.2l-1.9 2.5M521.2 583.9l2.6 0.2M520.7 586.2l-2.5 0.9M521.5 582.4l1.7 0.1M520.7 586.5l1.7 2.0M518.7 592.5l-3.0 0.1M517.2 595.4l-2.2 0.5M519.2 591.5l0.8 0.6M512.4 603.4l-2.5 -1.2M516.3 597.0l0.8 2.2M513.9 600.9l1.3 0.9M515.0 599.1l-2.4 0.1M515.9 597.7l-3.2 0.4M506.1 609.7l1.6 2.4M506.5 609.3l1.0 0.8M505.1 610.6l1.9 2.7M506.0 609.8l-1.3 -1.3M508.2 607.6l-2.3 -0.1M505.1 610.6l-2.2 -0.6M501.2 614.5l1.7 3.1M498.8 616.9l-1.7 -0.3M503.8 612.0l-1.8 -1.7M501.1 614.6l-3.0 -0.5M498.1 618.9l3.3 0.7M498.2 618.5l1.5 2.3M495.8 627.3l-2.2 -0.1M495.7 627.6l2.6 0.9M496.0 626.5l3.1 1.2M496.7 623.9l1.3 1.7M526.2 583.1l1.4 -2.4M525.5 583.0l1.0 1.9M528.9 583.5l0.6 -1.9M528.8 583.5l1.3 -2.1M530.7 583.8l-0.2 3.3M536.7 584.6l1.9 -1.7M535.1 584.4l-0.3 1.4M541.0 585.1l0.7 -0.9M537.6 584.7l1.7 -2.3M540.5 585.0l-0.9 3.4M533.9 584.2l0.3 -2.2M539.2 584.9l0.8 -0.9M544.7 586.2l-0.1 2.1M551.0 589.3l2.3 -2.6M551.8 589.7l-0.6 1.1M549.0 588.3l-1.0 3.2M545.4 586.5l-0.8 2.9M558.5 591.3l-0.0 1.2M556.8 590.9l1.2 3.3M552.8 590.0l1.7 -1.9M558.0 591.2l0.1 1.0M547.2 578.3l2.0 1.0M546.3 579.8l2.1 0.7M546.0 580.3l-1.5 -0.7M544.2 583.3l-1.6 -1.5M546.0 580.2l2.4 1.1M548.5 573.0l1.5 -0.1M547.8 576.4l1.7 -0.9M548.5 572.9l-1.1 -0.1M548.2 574.4l-1.2 -0.3M548.2 568.1l-1.3 0.5M546.4 563.6l1.7 -1.6M548.7 569.3l1.4 -2.7M547.3 565.8l1.8 -0.6M544.5 560.1l-1.3 0.6M543.5 558.4l-2.0 1.2M545.7 562.1l2.7 -1.9M542.3 556.6l2.9 -1.5M542.6 557.1l1.2 -1.2M553.2 568.9l1.6 1.0M557.7 567.6l1.5 2.3M553.0 569.0l0.7 3.4M550.0 569.9l0.7 -1.6M550.2 569.8l1.3 1.7M541.1 590.9l-3.1 0.7M541.9 588.3l3.2 0.9M542.8 585.6l-1.9 -0.5M542.2 587.6l-2.5 -0.6M541.1 590.7l-1.9 -0.6M539.2 595.4l-2.9 -2.0M537.6 597.4l1.4 2.3M539.4 595.0l-1.3 -1.2M538.2 596.6l-1.4 -1.3M535.0 600.6l-0.7 -1.3M529.4 602.8l-1.6 -2.8M531.8 601.9l-0.7 2.2M534.0 601.0l-0.4 1.0M526.8 603.4l-1.3 1.5M523.0 602.7l0.2 -1.1M522.8 602.7l0.4 -2.2M520.7 602.4l0.3 -1.5M523.4 602.8l-0.8 -1.5M517.1 601.8l0.2 -1.1M511.2 601.0l-0.7 -1.8M516.8 601.8l-0.6 -0.9M514.2 601.4l-1.3 -3.0M512.6 601.2l0.5 -2.7M508.3 600.6l-0.9 1.1M493.6 590.5l1.7 1.9M485.2 591.4l0.1 1.9M492.8 590.6l-0.2 -1.0M486.0 591.3l-0.1 -3.5M491.7 590.7l0.8 -3.0M489.0 591.0l1.4 -2.8M485.4 591.3l1.6 -2.4M490.5 590.8l0.7 -2.7M505.8 587.8l2.8 2.1M509.0 586.6l-1.0 -2.7M511.4 585.7l0.4 -2.5M511.8 585.5l1.7 1.6M511.6 585.6l0.0 -2.9M509.0 586.6l0.8 -3.0M506.3 587.6l-0.2 -3.4M518.7 583.2l2.7 1.9M513.4 585.0l-0.5 -2.6M519.7 582.9l0.8 1.5M512.4 585.3l2.4 1.7M518.5 583.3l0.0 -2.4M474.3 597.4l1.3 -3.1M481.6 596.4l1.3 2.1M482.0 596.3l0.9 1.4M476.4 597.1l0.6 3.4M484.8 595.9l2.1 1.6M484.4 596.0l0.1 1.9M487.7 595.9l0.2 2.8M492.2 595.9l-0.0 -1.4M485.4 595.9l0.4 -1.9M486.9 595.9l0.6 -1.1M492.7 595.9l0.5 1.8M494.8 595.9l-0.3 -2.6M502.9 596.9l-0.3 2.6M504.9 597.1l0.4 1.9M505.0 597.1l-0.1 1.7M507.0 597.4l-0.6 2.7M499.5 596.4l0.0 -1.9M506.3 597.3l0.2 1.2M496.4 596.1l0.3 -1.0M517.8 598.9l-0.0 1.1M515.9 598.6l-0.3 1.1M518.4 599.0l0.2 -3.5M509.7 597.7l1.0 -0.8M517.2 598.8l1.7 -3.2M508.3 597.5l0.9 -0.9M521.0 598.1l0.9 0.5M521.7 597.9l0.5 1.3M523.2 597.4l0.1 -1.7M518.5 599.0l1.1 -3.0M519.7 598.5l0.2 -1.3M536.2 595.9l1.4 -2.4M534.2 595.9l1.2 -2.1M533.5 595.9l1.1 -2.8M531.2 595.9l1.0 1.5M534.8 595.9l0.5 -2.7M545.4 594.5l-0.0 -1.0M538.7 595.6l-0.1 -1.6M543.6 594.8l0.4 3.4M545.6 594.5l0.7 -1.8M538.9 595.6l-0.0 -1.0M550.3 594.9l1.8 -2.6M551.4 595.1l-0.1 1.8M558.2 595.8l1.0 3.4M548.7 594.7l1.0 -1.6M558.5 595.9l0.2 1.0M554.6 595.4l0.8 1.5M558.4 595.9l0.3 3.5M463.4 595.9l0.7 -3.3M466.5 596.4l-0.4 2.6M466.7 596.4l-1.4 -2.3M469.9 596.9l-0.1 1.1M465.2 596.2l-0.2 1.5M471.8 597.1l-1.1 -3.2M462.2 595.6l-0.5 -2.3M462.7 595.8l-0.2 -1.6M458.7 594.8l-1.1 1.6M455.7 593.6l-0.4 -2.5M469.6 603.4l0.7 1.7M470.6 602.1l-1.9 -1.5M472.3 599.8l2.5 2.3M471.3 601.2l-2.5 0.1M466.7 607.0l-3.5 0.2M465.0 609.1l1.7 2.1M467.0 606.6l-3.5 -0.4M466.0 607.8l1.3 1.8M466.2 607.6l1.1 0.9M462.2 612.2l-3.1 -0.1M459.7 614.7l-2.4 -1.8M462.4 612.0l-2.7 -1.1M460.1 614.4l-2.6 -1.3M476.2 601.0l2.8 0.5M477.3 602.7l3.6 0.1M478.3 604.4l-1.7 1.7M477.6 603.2l2.8 -1.5M474.3 597.9l2.8 0.3M478.7 605.1l2.2 -1.1M479.7 605.7l1.0 -1.1M487.3 610.7l2.1 -1.1M484.0 608.5l1.0 -1.3M484.8 609.1l1.9 -3.0M482.9 607.8l2.1 -1.6M493.1 614.5l0.7 -0.8M496.6 616.8l-0.3 1.1M491.9 613.7l2.3 -1.6M493.6 614.9l1.3 -1.9M489.5 612.2l1.4 -2.3M488.7 611.6l0.1 2.6M502.3 618.9l0.2 1.4M499.8 618.1l0.3 -1.6M502.1 618.8l1.0 3.4M500.6 618.3l1.4 -0.8M500.4 618.2l-0.2 1.0M513.8 622.7l0.9 -2.4M510.7 621.7l0.9 -0.7M511.7 622.0l1.1 2.5M509.9 621.4l-0.5 3.0M510.8 621.7l-0.3 2.3M516.0 623.7l-1.0 0.9M521.2 628.2l-0.2 3.4M517.7 625.2l1.8 -1.4M516.4 624.1l1.4 -1.9M494.7 619.4l-1.0 -1.0M493.2 621.0l0.7 1.0M496.4 617.8l-2.6 -1.8M493.0 621.1l-2.3 -2.6M489.6 625.6l0.9 2.4M489.7 625.3l2.5 1.1M489.7 625.3l2.0 2.3M539.3 607.1l-1.0 0.4M537.8 604.7l-1.8 2.0M539.1 606.8l-1.1 3.0M537.5 604.1l1.2 -0.2M536.3 602.1l-1.9 2.9M540.6 608.9l2.8 -1.7M540.1 608.3l-1.1 3.1M544.4 613.6l1.4 -0.0M540.9 609.4l1.6 -1.2M541.2 609.7l1.5 -1.1M551.4 622.3l-1.0 0.8M547.2 617.2l2.0 -0.2M549.1 619.4l2.6 0.2M548.1 618.3l-0.6 2.0M551.8 622.8l-0.6 1.3M552.3 623.5l-0.6 1.7M552.3 623.6l3.0 0.6M552.3 623.5l-1.8 1.5M526.7 610.2l-1.8 0.3M526.8 609.5l2.9 0.3M527.6 604.0l3.0 1.9M526.6 610.9l-2.5 1.0M526.3 612.9l1.4 1.2M526.5 611.1l1.4 0.8M525.2 619.7l2.4 0.5M525.2 619.4l-1.1 -0.2M525.5 617.9l1.8 0.2M525.4 618.5l-1.2 0.8M524.7 622.7l-2.0 -0.2M553.4 611.2l0.5 0.9M550.6 612.9l1.9 2.9M551.5 612.4l0.4 -2.8M548.2 614.3l-0.1 -2.4M549.9 613.3l0.1 -1.6M556.7 609.4l-0.9 -1.3M555.9 609.8l-0.7 -1.9M556.9 609.2l1.6 2.2M461.2 584.7l2.2 -0.7M460.7 583.9l-0.4 1.3M459.1 581.2l2.6 0.5M462.0 586.0l2.8 -0.6M460.0 582.8l2.5 -0.8M472.6 596.2l-0.6 1.5M471.1 595.0l1.1 -1.3M469.5 593.6l-0.1 3.0M469.1 593.2l1.5 -1.0M473.0 596.5l1.8 -1.1M470.5 594.4l2.3 -0.8M470.3 594.2l2.5 -1.5M475.5 579.8l-2.1 -1.6M471.0 581.3l-0.6 1.2M470.5 581.5l-0.2 1.6M471.4 581.2l-0.6 1.9M471.5 581.1l0.1 1.1M469.6 581.8l0.0 1.5M473.1 580.6l-0.9 -2.5M467.3 582.5l-0.2 3.0M457.9 585.6l-1.6 -1.4M459.1 585.2l0.2 1.1M454.8 586.6l-1.0 -1.3M460.2 584.9l0.2 2.7M455.5 586.4l0.1 2.4M492.5 596.2l2.0 1.2M492.7 597.2l-0.8 0.8M493.2 600.3l-2.5 1.4M493.7 603.6l-2.3 0.9M493.2 600.1l1.6 0.4M495.7 611.9l2.8 -0.6M494.1 605.4l-1.7 0.7M495.2 610.0l1.3 -0.2M496.7 615.7l1.9 0.9M494.9 608.9l-3.0 0.7M495.5 610.9l-1.4 2.0M496.1 613.4l-2.1 2.2M459.7 603.4l1.4 0.7M458.9 598.1l-2.5 2.4M459.3 600.8l1.5 -0.0M460.0 605.6l3.0 0.7M460.0 605.5l-0.8 0.8M458.9 598.3l1.5 0.5M461.7 609.4l1.5 -0.9M462.4 610.1l1.3 -0.5M518.3 558.2l-0.2 -1.6M519.1 557.4l2.3 2.7M519.3 557.2l1.7 0.4M519.7 556.8l1.8 1.7M515.5 561.0l-1.0 -1.6M515.1 561.4l0.9 0.8M522.9 552.7l1.0 0.4M523.5 551.9l-1.6 -1.9M522.0 553.9l1.3 -0.0M522.1 553.7l-0.7 -3.1M458.5 617.5l1.1 1.3M460.1 611.8l-3.4 0.1M457.9 619.5l1.4 1.5M460.3 611.2l1.1 0.6M458.1 618.7l-2.3 0.0M459.7 613.4l2.6 1.6M455.2 624.7l-3.5 -0.9M456.0 623.6l-1.4 -1.1M455.7 624.0l0.6 1.8M545.7 617.9l1.6 0.9M545.0 623.9l1.7 2.0M545.0 623.9l-3.0 -0.7M544.9 624.8l0.7 0.7M544.9 625.2l-2.6 0.5M545.7 618.1l-2.9 -0.5M544.6 627.7l-1.9 0.8M460.2 575.2l1.1 -3.1M459.2 574.9l-0.3 2.8M457.2 574.2l0.6 -2.0M455.1 573.5l0.6 -2.6M455.4 573.6l0.3 -1.1M466.5 578.6l0.6 -0.8M468.8 580.3l1.8 -2.5M468.4 580.0l-0.6 0.9M467.6 579.4l1.0 -0.7M469.3 581.1l2.9 1.7M465.8 585.3l-1.6 -1.5M466.9 584.1l3.1 -0.1M465.9 585.3l2.2 1.9M469.4 580.9l1.1 0.6M471.0 581.4l-1.5 2.8M470.8 581.3l0.7 3.2M477.1 584.0l2.8 -1.7M470.5 581.2l0.7 -0.8M470.3 581.1l1.0 -2.9M472.8 582.2l-0.0 2.4M459.7 604.4l0.5 1.2M455.5 603.7l0.6 1.1M462.1 604.8l1.2 -1.8M456.2 603.8l0.1 1.1M456.3 603.8l1.0 -0.8M467.3 604.0l0.5 1.5M464.7 604.7l0.2 1.6M464.6 604.7l0.0 -2.5M486.5 613.7l1.8 0.6M487.6 611.6l-1.2 -0.7M487.6 611.6l-1.4 -3.0M505.4 611.4l1.8 -2.6M510.8 613.5l0.3 2.8M507.1 612.0l0.3 1.4M509.0 612.8l0.5 -1.6M517.7 622.0l1.5 -0.4M514.2 616.8l3.3 -0.8M517.0 621.1l-0.5 1.1M513.1 615.2l-0.8 3.2M513.8 616.3l2.9 0.5M515.2 618.4l-1.4 1.6M546.5 596.5l-1.5 2.9M547.9 598.3l-0.3 1.1M546.0 596.0l-2.8 1.7M549.4 600.1l-0.3 1.4M550.8 601.8l1.6 -1.5M558.7 600.6l3.2 1.6M555.8 601.9l0.9 0.7M553.0 603.1l-1.7 -3.0M555.7 601.9l1.6 1.4M553.2 597.6l-1.7 1.0M553.2 597.7l1.6 -0.1M553.5 599.6l2.7 0.2M552.4 591.5l2.6 1.2M552.6 593.2l2.6 1.8M552.5 592.8l2.0 0.6M552.8 606.3l2.1 1.4M553.0 604.9l2.8 1.2M552.9 605.8l-2.1 -0.3M552.9 605.6l-2.6 0.8M553.4 602.4l1.9 1.2M552.5 608.5l-1.4 -0.0" stroke="#a8a8a8" stroke-width="0.55" fill="none"/>
<path d="M465.9 566.3h0.9v0.9h-0.9zM460.1 563.6h0.9v0.9h-0.9zM466.5 566.4h0.9v0.9h-0.9zM455.4 561.4h0.9v0.9h-0.9zM459.6 563.0h0.9v0.9h-0.9zM455.6 562.1h0.9v0.9h-0.9zM458.6 563.0h0.9v0.9h-0.9zM453.4 560.7h0.9v0.9h-0.9zM467.5 567.7h0.9v0.9h-0.9zM468.5 571.5h0.9v0.9h-0.9zM471.3 571.7h0.9v0.9h-0.9zM472.2 572.4h0.9v0.9h-0.9zM474.7 575.6h0.9v0.9h-0.9zM472.6 572.8h0.9v0.9h-0.9zM470.7 572.6h0.9v0.9h-0.9zM477.0 579.4h0.9v0.9h-0.9zM475.3 577.9h0.9v0.9h-0.9zM474.3 575.2h0.9v0.9h-0.9zM479.2 585.7h0.9v0.9h-0.9zM478.1 579.9h0.9v0.9h-0.9zM479.7 580.9h0.9v0.9h-0.9zM479.4 582.8h0.9v0.9h-0.9zM482.6 591.0h0.9v0.9h-0.9zM484.0 591.3h0.9v0.9h-0.9zM484.5 587.5h0.9v0.9h-0.9zM483.6 590.1h0.9v0.9h-0.9zM491.5 596.2h0.9v0.9h-0.9zM485.8 592.9h0.9v0.9h-0.9zM487.8 594.3h0.9v0.9h-0.9zM487.0 592.8h0.9v0.9h-0.9zM486.3 593.0h0.9v0.9h-0.9zM469.2 562.7h0.9v0.9h-0.9zM472.0 561.0h0.9v0.9h-0.9zM466.1 566.3h0.9v0.9h-0.9zM474.6 558.4h0.9v0.9h-0.9zM469.9 562.5h0.9v0.9h-0.9zM467.5 565.6h0.9v0.9h-0.9zM467.9 566.5h0.9v0.9h-0.9zM472.2 559.5h0.9v0.9h-0.9zM475.4 553.8h0.9v0.9h-0.9zM477.2 552.4h0.9v0.9h-0.9zM477.7 552.4h0.9v0.9h-0.9zM475.8 552.9h0.9v0.9h-0.9zM464.4 563.5h0.9v0.9h-0.9zM463.5 562.0h0.9v0.9h-0.9zM460.9 561.9h0.9v0.9h-0.9zM459.1 557.7h0.9v0.9h-0.9zM467.4 566.4h0.9v0.9h-0.9zM464.3 563.5h0.9v0.9h-0.9zM463.9 565.1h0.9v0.9h-0.9zM465.1 566.5h0.9v0.9h-0.9zM457.1 573.1h0.9v0.9h-0.9zM463.5 568.1h0.9v0.9h-0.9zM456.2 572.6h0.9v0.9h-0.9zM458.1 572.7h0.9v0.9h-0.9zM456.3 572.8h0.9v0.9h-0.9zM456.0 571.6h0.9v0.9h-0.9zM456.8 570.3h0.9v0.9h-0.9zM480.7 566.8h0.9v0.9h-0.9zM473.8 570.3h0.9v0.9h-0.9zM480.5 565.9h0.9v0.9h-0.9zM474.7 568.6h0.9v0.9h-0.9zM477.7 566.6h0.9v0.9h-0.9zM480.9 564.8h0.9v0.9h-0.9zM487.4 564.1h0.9v0.9h-0.9zM483.4 564.0h0.9v0.9h-0.9zM485.5 562.4h0.9v0.9h-0.9zM483.0 562.8h0.9v0.9h-0.9zM488.4 564.1h0.9v0.9h-0.9zM489.3 561.0h0.9v0.9h-0.9zM489.7 561.2h0.9v0.9h-0.9zM498.0 560.7h0.9v0.9h-0.9zM495.7 562.4h0.9v0.9h-0.9zM503.6 560.3h0.9v0.9h-0.9zM496.7 561.4h0.9v0.9h-0.9zM497.5 559.9h0.9v0.9h-0.9zM495.3 561.5h0.9v0.9h-0.9zM503.7 562.4h0.9v0.9h-0.9zM508.4 562.7h0.9v0.9h-0.9zM510.8 563.4h0.9v0.9h-0.9zM507.1 564.5h0.9v0.9h-0.9zM515.0 566.8h0.9v0.9h-0.9zM510.3 566.4h0.9v0.9h-0.9zM516.9 571.3h0.9v0.9h-0.9zM517.5 571.9h0.9v0.9h-0.9zM513.8 570.1h0.9v0.9h-0.9zM516.1 569.6h0.9v0.9h-0.9zM517.2 569.8h0.9v0.9h-0.9zM518.1 572.4h0.9v0.9h-0.9zM504.4 560.4h0.9v0.9h-0.9zM503.3 559.2h0.9v0.9h-0.9zM503.6 559.6h0.9v0.9h-0.9zM505.9 559.5h0.9v0.9h-0.9zM501.9 551.0h0.9v0.9h-0.9zM503.5 554.1h0.9v0.9h-0.9zM519.8 574.2h0.9v0.9h-0.9zM521.5 574.6h0.9v0.9h-0.9zM525.1 573.7h0.9v0.9h-0.9zM522.1 573.0h0.9v0.9h-0.9zM525.2 572.5h0.9v0.9h-0.9zM532.1 566.1h0.9v0.9h-0.9zM534.9 567.3h0.9v0.9h-0.9zM535.6 565.7h0.9v0.9h-0.9zM529.7 569.6h0.9v0.9h-0.9zM532.5 568.2h0.9v0.9h-0.9zM529.3 567.5h0.9v0.9h-0.9zM537.5 562.9h0.9v0.9h-0.9zM538.1 562.5h0.9v0.9h-0.9zM538.3 564.6h0.9v0.9h-0.9zM539.4 561.5h0.9v0.9h-0.9zM545.9 557.0h0.9v0.9h-0.9zM545.8 554.3h0.9v0.9h-0.9zM547.4 555.7h0.9v0.9h-0.9zM548.5 554.7h0.9v0.9h-0.9zM542.6 559.4h0.9v0.9h-0.9zM520.8 575.8h0.9v0.9h-0.9zM520.1 580.5h0.9v0.9h-0.9zM520.4 581.1h0.9v0.9h-0.9zM520.5 575.3h0.9v0.9h-0.9zM521.5 584.6h0.9v0.9h-0.9zM522.3 582.9h0.9v0.9h-0.9zM521.3 587.1h0.9v0.9h-0.9zM521.6 586.5h0.9v0.9h-0.9zM517.3 594.0h0.9v0.9h-0.9zM519.5 590.0h0.9v0.9h-0.9zM517.9 595.4h0.9v0.9h-0.9zM516.8 593.5h0.9v0.9h-0.9zM518.2 596.6h0.9v0.9h-0.9zM512.5 603.2h0.9v0.9h-0.9zM513.2 600.7h0.9v0.9h-0.9zM511.4 602.9h0.9v0.9h-0.9zM514.3 601.5h0.9v0.9h-0.9zM508.3 608.7h0.9v0.9h-0.9zM510.6 605.7h0.9v0.9h-0.9zM510.2 606.3h0.9v0.9h-0.9zM506.3 609.5h0.9v0.9h-0.9zM505.5 609.3h0.9v0.9h-0.9zM510.3 605.2h0.9v0.9h-0.9zM501.3 614.2h0.9v0.9h-0.9zM505.3 613.1h0.9v0.9h-0.9zM499.7 615.8h0.9v0.9h-0.9zM500.7 614.8h0.9v0.9h-0.9zM502.9 612.7h0.9v0.9h-0.9zM496.3 622.9h0.9v0.9h-0.9zM498.5 618.9h0.9v0.9h-0.9zM495.8 625.7h0.9v0.9h-0.9zM497.7 619.7h0.9v0.9h-0.9zM498.0 621.2h0.9v0.9h-0.9zM495.6 626.2h0.9v0.9h-0.9zM497.2 619.8h0.9v0.9h-0.9zM525.5 581.8h0.9v0.9h-0.9zM521.1 583.5h0.9v0.9h-0.9zM524.2 581.4h0.9v0.9h-0.9zM529.7 582.8h0.9v0.9h-0.9zM522.3 581.4h0.9v0.9h-0.9zM539.7 585.3h0.9v0.9h-0.9zM530.7 585.5h0.9v0.9h-0.9zM533.6 582.8h0.9v0.9h-0.9zM536.3 583.7h0.9v0.9h-0.9zM538.3 584.7h0.9v0.9h-0.9zM533.2 584.3h0.9v0.9h-0.9zM542.7 584.5h0.9v0.9h-0.9zM543.1 584.4h0.9v0.9h-0.9zM542.1 584.6h0.9v0.9h-0.9zM550.6 588.4h0.9v0.9h-0.9zM552.0 589.8h0.9v0.9h-0.9zM544.2 585.3h0.9v0.9h-0.9zM545.2 587.0h0.9v0.9h-0.9zM554.8 590.2h0.9v0.9h-0.9zM555.7 589.9h0.9v0.9h-0.9zM557.2 592.3h0.9v0.9h-0.9zM551.1 590.1h0.9v0.9h-0.9zM546.2 580.9h0.9v0.9h-0.9zM547.1 580.7h0.9v0.9h-0.9zM544.8 585.9h0.9v0.9h-0.9zM546.0 582.4h0.9v0.9h-0.9zM543.0 584.7h0.9v0.9h-0.9zM549.7 571.8h0.9v0.9h-0.9zM550.3 571.7h0.9v0.9h-0.9zM547.9 571.5h0.9v0.9h-0.9zM546.6 575.3h0.9v0.9h-0.9zM546.9 567.6h0.9v0.9h-0.9zM545.6 562.4h0.9v0.9h-0.9zM548.3 568.5h0.9v0.9h-0.9zM546.4 564.9h0.9v0.9h-0.9zM549.0 566.6h0.9v0.9h-0.9zM541.6 555.9h0.9v0.9h-0.9zM543.7 559.8h0.9v0.9h-0.9zM542.4 557.3h0.9v0.9h-0.9zM545.5 563.4h0.9v0.9h-0.9zM545.1 563.3h0.9v0.9h-0.9zM549.3 568.1h0.9v0.9h-0.9zM557.5 568.6h0.9v0.9h-0.9zM549.8 569.4h0.9v0.9h-0.9zM558.7 566.2h0.9v0.9h-0.9zM548.6 571.0h0.9v0.9h-0.9zM557.3 569.5h0.9v0.9h-0.9zM540.7 590.1h0.9v0.9h-0.9zM542.4 586.6h0.9v0.9h-0.9zM541.1 593.5h0.9v0.9h-0.9zM542.0 586.6h0.9v0.9h-0.9zM541.4 589.0h0.9v0.9h-0.9zM538.2 595.6h0.9v0.9h-0.9zM538.8 596.8h0.9v0.9h-0.9zM538.7 597.0h0.9v0.9h-0.9zM536.4 599.8h0.9v0.9h-0.9zM532.5 601.6h0.9v0.9h-0.9zM535.2 600.7h0.9v0.9h-0.9zM534.5 601.4h0.9v0.9h-0.9zM527.9 603.5h0.9v0.9h-0.9zM531.4 601.2h0.9v0.9h-0.9zM519.0 601.4h0.9v0.9h-0.9zM522.8 601.8h0.9v0.9h-0.9zM521.7 603.9h0.9v0.9h-0.9zM524.6 602.7h0.9v0.9h-0.9zM525.7 603.0h0.9v0.9h-0.9zM509.2 599.8h0.9v0.9h-0.9zM506.8 601.3h0.9v0.9h-0.9zM519.1 603.0h0.9v0.9h-0.9zM512.0 601.8h0.9v0.9h-0.9zM507.8 600.2h0.9v0.9h-0.9zM511.4 599.8h0.9v0.9h-0.9zM488.9 590.1h0.9v0.9h-0.9zM486.8 592.0h0.9v0.9h-0.9zM497.9 590.3h0.9v0.9h-0.9zM484.9 591.2h0.9v0.9h-0.9zM497.8 589.4h0.9v0.9h-0.9zM495.0 589.7h0.9v0.9h-0.9zM488.8 591.4h0.9v0.9h-0.9zM496.9 589.7h0.9v0.9h-0.9zM488.2 589.8h0.9v0.9h-0.9zM509.0 587.4h0.9v0.9h-0.9zM501.1 588.4h0.9v0.9h-0.9zM507.2 586.4h0.9v0.9h-0.9zM503.3 590.1h0.9v0.9h-0.9zM503.6 586.4h0.9v0.9h-0.9zM506.9 586.5h0.9v0.9h-0.9zM510.8 585.0h0.9v0.9h-0.9zM509.2 587.2h0.9v0.9h-0.9zM521.0 582.9h0.9v0.9h-0.9zM516.5 582.7h0.9v0.9h-0.9zM518.1 584.5h0.9v0.9h-0.9zM516.5 582.9h0.9v0.9h-0.9zM518.4 584.9h0.9v0.9h-0.9zM518.8 584.3h0.9v0.9h-0.9zM478.8 597.7h0.9v0.9h-0.9zM479.4 597.2h0.9v0.9h-0.9zM480.2 597.2h0.9v0.9h-0.9zM481.8 595.0h0.9v0.9h-0.9zM476.6 596.4h0.9v0.9h-0.9zM479.8 597.8h0.9v0.9h-0.9zM493.7 596.4h0.9v0.9h-0.9zM488.7 595.7h0.9v0.9h-0.9zM489.3 595.2h0.9v0.9h-0.9zM490.0 594.7h0.9v0.9h-0.9zM489.5 595.9h0.9v0.9h-0.9zM493.5 596.5h0.9v0.9h-0.9zM504.9 597.9h0.9v0.9h-0.9zM506.0 597.9h0.9v0.9h-0.9zM496.4 596.5h0.9v0.9h-0.9zM497.0 597.0h0.9v0.9h-0.9zM499.6 596.3h0.9v0.9h-0.9zM502.7 596.8h0.9v0.9h-0.9zM499.7 597.9h0.9v0.9h-0.9zM516.2 597.4h0.9v0.9h-0.9zM513.8 597.8h0.9v0.9h-0.9zM519.3 600.3h0.9v0.9h-0.9zM515.9 599.6h0.9v0.9h-0.9zM510.6 596.9h0.9v0.9h-0.9zM513.2 597.0h0.9v0.9h-0.9zM521.1 597.3h0.9v0.9h-0.9zM524.3 595.9h0.9v0.9h-0.9zM519.2 598.3h0.9v0.9h-0.9zM522.0 596.7h0.9v0.9h-0.9zM518.8 598.7h0.9v0.9h-0.9zM526.3 596.9h0.9v0.9h-0.9zM531.5 595.5h0.9v0.9h-0.9zM531.1 596.1h0.9v0.9h-0.9zM530.7 594.3h0.9v0.9h-0.9zM530.1 597.4h0.9v0.9h-0.9zM527.6 595.4h0.9v0.9h-0.9zM539.6 596.0h0.9v0.9h-0.9zM542.2 595.9h0.9v0.9h-0.9zM539.8 595.6h0.9v0.9h-0.9zM539.9 596.7h0.9v0.9h-0.9zM542.6 594.1h0.9v0.9h-0.9zM554.9 594.0h0.9v0.9h-0.9zM547.5 594.7h0.9v0.9h-0.9zM559.8 595.3h0.9v0.9h-0.9zM559.3 595.3h0.9v0.9h-0.9zM554.5 596.2h0.9v0.9h-0.9zM552.2 595.3h0.9v0.9h-0.9zM549.2 593.4h0.9v0.9h-0.9zM552.9 594.3h0.9v0.9h-0.9zM471.7 598.1h0.9v0.9h-0.9zM472.2 596.4h0.9v0.9h-0.9zM469.9 595.2h0.9v0.9h-0.9zM464.9 594.9h0.9v0.9h-0.9zM473.0 598.5h0.9v0.9h-0.9zM471.3 597.3h0.9v0.9h-0.9zM460.2 595.8h0.9v0.9h-0.9zM460.1 595.0h0.9v0.9h-0.9zM462.1 595.1h0.9v0.9h-0.9zM456.9 593.1h0.9v0.9h-0.9zM455.4 594.1h0.9v0.9h-0.9zM471.0 601.6h0.9v0.9h-0.9zM471.2 603.0h0.9v0.9h-0.9zM471.6 600.7h0.9v0.9h-0.9zM470.8 603.4h0.9v0.9h-0.9zM464.9 609.1h0.9v0.9h-0.9zM464.6 612.0h0.9v0.9h-0.9zM465.6 608.2h0.9v0.9h-0.9zM468.4 604.6h0.9v0.9h-0.9zM463.9 609.7h0.9v0.9h-0.9zM463.3 610.3h0.9v0.9h-0.9zM460.2 615.3h0.9v0.9h-0.9zM458.6 615.3h0.9v0.9h-0.9zM461.3 612.0h0.9v0.9h-0.9zM462.0 613.2h0.9v0.9h-0.9zM458.6 614.0h0.9v0.9h-0.9zM473.0 597.2h0.9v0.9h-0.9zM473.8 597.9h0.9v0.9h-0.9zM472.9 598.1h0.9v0.9h-0.9zM474.1 598.0h0.9v0.9h-0.9zM477.0 602.9h0.9v0.9h-0.9zM479.2 607.6h0.9v0.9h-0.9zM479.8 606.5h0.9v0.9h-0.9zM482.7 607.8h0.9v0.9h-0.9zM480.5 608.2h0.9v0.9h-0.9zM483.9 609.4h0.9v0.9h-0.9zM478.6 604.8h0.9v0.9h-0.9zM493.7 615.1h0.9v0.9h-0.9zM494.6 615.8h0.9v0.9h-0.9zM492.2 611.7h0.9v0.9h-0.9zM496.7 614.6h0.9v0.9h-0.9zM488.6 609.9h0.9v0.9h-0.9zM488.8 613.3h0.9v0.9h-0.9zM503.8 618.6h0.9v0.9h-0.9zM497.1 617.9h0.9v0.9h-0.9zM502.4 617.2h0.9v0.9h-0.9zM500.5 618.1h0.9v0.9h-0.9zM498.2 617.5h0.9v0.9h-0.9zM502.7 619.1h0.9v0.9h-0.9zM514.8 623.8h0.9v0.9h-0.9zM515.1 624.0h0.9v0.9h-0.9zM509.5 620.2h0.9v0.9h-0.9zM511.6 622.4h0.9v0.9h-0.9zM506.4 619.7h0.9v0.9h-0.9zM508.6 622.2h0.9v0.9h-0.9zM519.2 625.3h0.9v0.9h-0.9zM517.2 626.5h0.9v0.9h-0.9zM519.2 626.4h0.9v0.9h-0.9zM519.0 626.3h0.9v0.9h-0.9zM518.2 626.2h0.9v0.9h-0.9zM496.8 617.3h0.9v0.9h-0.9zM491.3 622.2h0.9v0.9h-0.9zM490.5 623.6h0.9v0.9h-0.9zM496.4 618.2h0.9v0.9h-0.9zM492.6 620.9h0.9v0.9h-0.9zM491.0 626.0h0.9v0.9h-0.9zM490.1 625.4h0.9v0.9h-0.9zM489.6 627.0h0.9v0.9h-0.9zM538.8 603.3h0.9v0.9h-0.9zM538.5 607.2h0.9v0.9h-0.9zM537.0 604.0h0.9v0.9h-0.9zM537.6 604.2h0.9v0.9h-0.9zM539.1 603.3h0.9v0.9h-0.9zM541.6 609.7h0.9v0.9h-0.9zM540.2 607.5h0.9v0.9h-0.9zM540.5 607.6h0.9v0.9h-0.9zM540.8 612.3h0.9v0.9h-0.9zM545.6 615.8h0.9v0.9h-0.9zM545.0 612.8h0.9v0.9h-0.9zM547.2 616.5h0.9v0.9h-0.9zM549.8 619.6h0.9v0.9h-0.9zM546.6 618.2h0.9v0.9h-0.9zM550.0 622.7h0.9v0.9h-0.9zM550.3 621.5h0.9v0.9h-0.9zM552.1 623.0h0.9v0.9h-0.9zM555.1 626.4h0.9v0.9h-0.9zM552.3 626.2h0.9v0.9h-0.9zM555.0 624.2h0.9v0.9h-0.9zM526.4 604.5h0.9v0.9h-0.9zM528.1 610.5h0.9v0.9h-0.9zM526.8 610.9h0.9v0.9h-0.9zM525.1 614.8h0.9v0.9h-0.9zM528.0 602.8h0.9v0.9h-0.9zM527.6 605.7h0.9v0.9h-0.9zM525.1 614.5h0.9v0.9h-0.9zM525.5 617.5h0.9v0.9h-0.9zM526.9 614.3h0.9v0.9h-0.9zM524.7 617.1h0.9v0.9h-0.9zM526.9 617.0h0.9v0.9h-0.9zM548.4 614.4h0.9v0.9h-0.9zM547.7 614.4h0.9v0.9h-0.9zM549.7 612.4h0.9v0.9h-0.9zM547.5 615.4h0.9v0.9h-0.9zM553.6 613.1h0.9v0.9h-0.9zM559.1 608.1h0.9v0.9h-0.9zM554.6 611.2h0.9v0.9h-0.9zM554.8 612.0h0.9v0.9h-0.9zM462.1 584.4h0.9v0.9h-0.9zM459.8 582.5h0.9v0.9h-0.9zM460.0 582.4h0.9v0.9h-0.9zM464.0 588.1h0.9v0.9h-0.9zM463.8 587.0h0.9v0.9h-0.9zM465.0 588.7h0.9v0.9h-0.9zM469.3 594.5h0.9v0.9h-0.9zM466.3 590.8h0.9v0.9h-0.9zM467.4 591.0h0.9v0.9h-0.9zM467.6 590.1h0.9v0.9h-0.9zM474.2 595.8h0.9v0.9h-0.9zM468.1 590.6h0.9v0.9h-0.9zM471.3 596.8h0.9v0.9h-0.9zM472.2 582.9h0.9v0.9h-0.9zM477.3 580.0h0.9v0.9h-0.9zM470.6 581.7h0.9v0.9h-0.9zM475.2 578.7h0.9v0.9h-0.9zM476.2 577.8h0.9v0.9h-0.9zM475.5 578.7h0.9v0.9h-0.9zM477.8 578.9h0.9v0.9h-0.9zM468.2 582.6h0.9v0.9h-0.9zM466.8 583.4h0.9v0.9h-0.9zM461.0 583.7h0.9v0.9h-0.9zM458.7 586.3h0.9v0.9h-0.9zM458.0 587.3h0.9v0.9h-0.9zM455.1 587.8h0.9v0.9h-0.9zM464.3 584.1h0.9v0.9h-0.9zM462.0 582.7h0.9v0.9h-0.9zM491.2 597.1h0.9v0.9h-0.9zM491.5 597.4h0.9v0.9h-0.9zM492.8 603.1h0.9v0.9h-0.9zM493.0 596.2h0.9v0.9h-0.9zM494.2 599.4h0.9v0.9h-0.9zM495.0 613.0h0.9v0.9h-0.9zM494.9 610.0h0.9v0.9h-0.9zM498.5 617.4h0.9v0.9h-0.9zM497.7 614.0h0.9v0.9h-0.9zM495.6 609.3h0.9v0.9h-0.9zM495.8 618.1h0.9v0.9h-0.9zM496.0 613.9h0.9v0.9h-0.9zM460.0 601.8h0.9v0.9h-0.9zM460.0 605.1h0.9v0.9h-0.9zM460.0 606.6h0.9v0.9h-0.9zM459.2 598.1h0.9v0.9h-0.9zM458.4 598.4h0.9v0.9h-0.9zM458.9 598.6h0.9v0.9h-0.9zM461.8 608.1h0.9v0.9h-0.9zM461.4 607.6h0.9v0.9h-0.9zM518.2 557.7h0.9v0.9h-0.9zM518.6 558.4h0.9v0.9h-0.9zM513.7 563.1h0.9v0.9h-0.9zM514.8 562.8h0.9v0.9h-0.9zM517.7 558.3h0.9v0.9h-0.9zM512.6 564.2h0.9v0.9h-0.9zM520.3 554.7h0.9v0.9h-0.9zM521.5 553.2h0.9v0.9h-0.9zM521.5 551.7h0.9v0.9h-0.9zM519.5 556.7h0.9v0.9h-0.9zM458.7 621.1h0.9v0.9h-0.9zM458.6 619.4h0.9v0.9h-0.9zM458.5 614.5h0.9v0.9h-0.9zM459.9 612.4h0.9v0.9h-0.9zM459.2 613.4h0.9v0.9h-0.9zM458.0 616.3h0.9v0.9h-0.9zM454.9 626.3h0.9v0.9h-0.9zM456.2 622.8h0.9v0.9h-0.9zM455.5 626.0h0.9v0.9h-0.9zM545.7 621.0h0.9v0.9h-0.9zM545.8 619.3h0.9v0.9h-0.9zM544.7 625.8h0.9v0.9h-0.9zM547.0 617.0h0.9v0.9h-0.9zM545.5 622.0h0.9v0.9h-0.9zM546.8 622.4h0.9v0.9h-0.9zM545.7 620.8h0.9v0.9h-0.9zM546.7 616.8h0.9v0.9h-0.9zM455.0 572.7h0.9v0.9h-0.9zM455.8 572.0h0.9v0.9h-0.9zM462.4 577.8h0.9v0.9h-0.9zM463.1 576.9h0.9v0.9h-0.9zM458.8 576.0h0.9v0.9h-0.9zM458.6 574.3h0.9v0.9h-0.9zM464.8 577.6h0.9v0.9h-0.9zM466.6 580.0h0.9v0.9h-0.9zM467.3 580.6h0.9v0.9h-0.9zM465.8 578.5h0.9v0.9h-0.9zM468.9 581.5h0.9v0.9h-0.9zM470.2 581.8h0.9v0.9h-0.9zM467.0 583.8h0.9v0.9h-0.9zM464.2 584.5h0.9v0.9h-0.9zM467.2 584.0h0.9v0.9h-0.9zM462.4 587.4h0.9v0.9h-0.9zM480.1 584.5h0.9v0.9h-0.9zM474.3 583.5h0.9v0.9h-0.9zM472.1 581.1h0.9v0.9h-0.9zM471.1 582.4h0.9v0.9h-0.9zM472.1 581.3h0.9v0.9h-0.9zM478.8 585.4h0.9v0.9h-0.9zM474.0 582.0h0.9v0.9h-0.9zM460.2 603.0h0.9v0.9h-0.9zM460.6 602.9h0.9v0.9h-0.9zM456.3 603.4h0.9v0.9h-0.9zM457.5 605.3h0.9v0.9h-0.9zM454.7 604.6h0.9v0.9h-0.9zM466.8 603.8h0.9v0.9h-0.9zM466.5 602.9h0.9v0.9h-0.9zM464.1 605.0h0.9v0.9h-0.9zM485.0 616.2h0.9v0.9h-0.9zM484.6 617.3h0.9v0.9h-0.9zM485.1 613.6h0.9v0.9h-0.9zM486.3 613.8h0.9v0.9h-0.9zM504.9 613.2h0.9v0.9h-0.9zM509.4 612.4h0.9v0.9h-0.9zM509.6 614.1h0.9v0.9h-0.9zM513.2 615.5h0.9v0.9h-0.9zM504.2 611.9h0.9v0.9h-0.9zM517.3 622.1h0.9v0.9h-0.9zM513.8 616.6h0.9v0.9h-0.9zM511.9 613.9h0.9v0.9h-0.9zM516.5 621.0h0.9v0.9h-0.9zM519.0 621.9h0.9v0.9h-0.9zM515.8 618.6h0.9v0.9h-0.9zM547.7 597.3h0.9v0.9h-0.9zM549.1 596.7h0.9v0.9h-0.9zM549.6 600.3h0.9v0.9h-0.9zM545.8 598.1h0.9v0.9h-0.9zM545.7 597.2h0.9v0.9h-0.9zM548.4 598.7h0.9v0.9h-0.9zM556.6 600.5h0.9v0.9h-0.9zM557.2 601.7h0.9v0.9h-0.9zM555.7 602.9h0.9v0.9h-0.9zM557.2 600.6h0.9v0.9h-0.9zM554.6 599.1h0.9v0.9h-0.9zM552.7 598.0h0.9v0.9h-0.9zM554.1 596.5h0.9v0.9h-0.9zM554.3 596.6h0.9v0.9h-0.9zM553.0 597.1h0.9v0.9h-0.9zM554.5 600.3h0.9v0.9h-0.9zM552.6 607.2h0.9v0.9h-0.9zM553.2 605.0h0.9v0.9h-0.9zM551.7 611.4h0.9v0.9h-0.9zM553.3 600.2h0.9v0.9h-0.9zM551.4 605.3h0.9v0.9h-0.9zM552.0 606.3h0.9v0.9h-0.9z" fill="#b5b5b5"/>
<path d="M463.8 567.2a2.6 2.6 0 1 0 5.2 0a2.6 2.6 0 1 0 -5.2 0M474.5 579.3a2.6 2.6 0 1 0 5.2 0a2.6 2.6 0 1 0 -5.2 0M471.5 597.5a2.6 2.6 0 1 0 5.2 0a2.6 2.6 0 1 0 -5.2 0M517.4 574.7a2.6 2.6 0 1 0 5.2 0a2.6 2.6 0 1 0 -5.2 0M518.9 582.3a2.6 2.6 0 1 0 5.2 0a2.6 2.6 0 1 0 -5.2 0M540.3 585.3a2.6 2.6 0 1 0 5.2 0a2.6 2.6 0 1 0 -5.2 0M494.4 617.1a2.6 2.6 0 1 0 5.2 0a2.6 2.6 0 1 0 -5.2 0M544.9 570.2a2.6 2.6 0 1 0 5.2 0a2.6 2.6 0 1 0 -5.2 0M456.2 597.5a2.6 2.6 0 1 0 5.2 0a2.6 2.6 0 1 0 -5.2 0M460.8 611.1a2.6 2.6 0 1 0 5.2 0a2.6 2.6 0 1 0 -5.2 0" fill="#8a8a8a" opacity="0.8"/>
<path d="M466.4 567.2l3.3 2.4M466.4 567.2l-5.2 1.4M466.4 567.2l3.8 -0.9M466.4 567.2l-1.6 -5.4M466.4 567.2l-1.4 -6.5M466.4 567.2l-4.0 0.4M466.4 567.2l-6.0 0.2M466.4 567.2l2.5 -4.7M466.4 567.2l2.4 -4.1M477.1 579.3l-3.6 -3.7M477.1 579.3l1.1 2.4M477.1 579.3l0.0 2.6M477.1 579.3l0.4 5.1M477.1 579.3l1.9 5.1M477.1 579.3l0.0 -5.3M477.1 579.3l-2.1 4.0M477.1 579.3l-4.6 -0.6M477.1 579.3l3.1 -2.8M474.1 597.5l3.3 -0.9M474.1 597.5l5.0 -0.2M474.1 597.5l-4.0 0.4M474.1 597.5l6.8 1.4M474.1 597.5l-4.7 -1.4M474.1 597.5l-3.7 -0.3M474.1 597.5l-2.7 -6.0M474.1 597.5l1.8 2.2M474.1 597.5l-2.3 -5.4M520.0 574.7l-3.3 4.4M520.0 574.7l3.9 -2.7M520.0 574.7l-2.3 2.1M520.0 574.7l2.6 0.1M520.0 574.7l4.5 -4.6M520.0 574.7l-5.2 4.5M520.0 574.7l-2.0 5.2M520.0 574.7l0.5 -5.8M520.0 574.7l-2.0 4.1M521.5 582.3l-0.8 -6.1M521.5 582.3l0.7 3.4M521.5 582.3l4.8 -0.4M521.5 582.3l-2.1 -3.2M521.5 582.3l-3.2 4.6M521.5 582.3l-3.2 -3.3M521.5 582.3l-2.6 6.4M521.5 582.3l-2.1 -2.4M521.5 582.3l-1.5 2.9M542.9 585.3l1.1 -4.8M542.9 585.3l-6.1 3.4M542.9 585.3l5.9 3.5M542.9 585.3l-1.5 -5.5M542.9 585.3l1.1 2.3M542.9 585.3l-6.4 0.0M542.9 585.3l6.5 1.8M542.9 585.3l-0.3 -6.1M542.9 585.3l5.5 -0.6M497.0 617.1l2.2 3.1M497.0 617.1l4.3 -3.0M497.0 617.1l2.4 -3.6M497.0 617.1l4.0 2.7M497.0 617.1l-3.1 0.9M497.0 617.1l-3.0 -3.8M497.0 617.1l2.8 -4.2M497.0 617.1l1.6 2.6M497.0 617.1l2.2 5.8M547.5 570.2l-4.1 -3.9M547.5 570.2l4.0 2.8M547.5 570.2l3.2 -2.3M547.5 570.2l1.8 3.4M547.5 570.2l1.4 2.7M547.5 570.2l3.6 0.4M547.5 570.2l4.8 2.9M547.5 570.2l4.6 5.2M547.5 570.2l1.7 2.1M458.8 597.5l0.4 3.5M458.8 597.5l-0.5 4.1M458.8 597.5l3.1 3.3M458.8 597.5l3.4 4.3M458.8 597.5l4.1 -0.5M458.8 597.5l0.6 6.9M458.8 597.5l2.8 -0.4M458.8 597.5l-1.9 -2.2M458.8 597.5l3.4 2.1M463.4 611.1l-3.2 3.4M463.4 611.1l-1.5 2.1M463.4 611.1l-4.8 -4.3M463.4 611.1l3.9 0.3M463.4 611.1l1.1 -5.5M463.4 611.1l-1.1 -4.6M463.4 611.1l-2.4 2.2M463.4 611.1l2.5 1.2M463.4 611.1l1.9 2.2" stroke="#b0b0b0" stroke-width="0.8" fill="none"/>
</g>
<path d="M502.6 619.2h1.2v1.2h-1.2zM461.8 601.4h1.0v1.0h-1.0zM551.8 610.3h1.2v1.2h-1.2zM539.4 616.0h1.2v1.2h-1.2zM540.4 615.2h0.8v0.8h-0.8zM496.3 561.8h1.0v1.0h-1.0zM538.1 591.0h1.2v1.2h-1.2zM505.8 563.6h1.0v1.0h-1.0zM471.5 598.2h0.8v0.8h-0.8zM554.0 608.3h1.2v1.2h-1.2zM522.7 582.6h1.0v1.0h-1.0zM491.9 553.9h1.2v1.2h-1.2zM488.3 624.9h0.8v0.8h-0.8zM546.9 569.8h1.2v1.2h-1.2zM461.1 568.7h1.2v1.2h-1.2zM484.2 579.7h0.8v0.8h-0.8zM462.7 619.3h1.2v1.2h-1.2zM508.4 568.4h1.2v1.2h-1.2zM455.9 595.4h0.8v0.8h-0.8z" fill="#8a8a8a"/>
<path d="M485.8 585.4h1.2v1.2h-1.2zM526.5 599.5h1.2v1.2h-1.2zM543.3 615.8h0.8v0.8h-0.8zM475.2 624.5h1.0v1.0h-1.0zM531.8 597.3h0.8v0.8h-0.8zM466.0 589.1h1.2v1.2h-1.2zM517.8 621.8h0.8v0.8h-0.8zM509.6 608.6h0.8v0.8h-0.8zM544.9 628.4h0.8v0.8h-0.8zM548.2 566.8h1.0v1.0h-1.0zM500.4 604.9h1.0v1.0h-1.0zM527.4 610.0h0.8v0.8h-0.8zM493.7 565.0h0.8v0.8h-0.8zM547.4 577.7h0.8v0.8h-0.8zM534.7 562.0h1.2v1.2h-1.2zM534.6 597.5h1.2v1.2h-1.2zM504.7 617.2h1.2v1.2h-1.2zM495.7 554.8h0.8v0.8h-0.8zM491.9 607.5h0.8v0.8h-0.8zM478.9 571.2h1.2v1.2h-1.2zM494.6 599.2h0.8v0.8h-0.8zM464.4 600.6h1.0v1.0h-1.0zM529.7 593.6h1.2v1.2h-1.2z" fill="#a5a5a5"/>
<path d="M505.3 559.0h1.2v1.2h-1.2zM470.9 574.3h1.2v1.2h-1.2zM537.5 614.9h1.2v1.2h-1.2zM540.5 564.6h1.0v1.0h-1.0zM495.9 598.5h0.8v0.8h-0.8zM509.5 607.1h0.8v0.8h-0.8zM543.1 622.7h0.8v0.8h-0.8zM486.5 559.7h1.2v1.2h-1.2zM553.8 592.7h0.8v0.8h-0.8zM534.9 606.0h0.8v0.8h-0.8zM476.3 562.9h1.2v1.2h-1.2zM530.0 553.6h1.0v1.0h-1.0zM472.1 594.6h1.0v1.0h-1.0zM533.8 569.2h1.2v1.2h-1.2zM454.8 586.3h1.2v1.2h-1.2zM496.5 581.0h1.2v1.2h-1.2zM542.5 558.5h1.0v1.0h-1.0zM494.9 567.4h1.2v1.2h-1.2zM515.6 567.2h1.0v1.0h-1.0zM505.7 594.0h1.0v1.0h-1.0zM473.7 611.7h1.2v1.2h-1.2zM531.3 619.7h0.8v0.8h-0.8zM472.2 571.2h1.2v1.2h-1.2zM523.5 608.1h1.0v1.0h-1.0zM482.9 567.2h1.0v1.0h-1.0zM556.8 567.3h1.0v1.0h-1.0zM472.0 615.2h1.2v1.2h-1.2z" fill="#6e6e6e"/>
<path d="M477.6 577.9h1.2v1.2h-1.2zM472.4 623.3h1.0v1.0h-1.0zM477.6 614.7h1.2v1.2h-1.2zM558.0 599.6h1.2v1.2h-1.2zM542.6 574.6h1.2v1.2h-1.2zM499.1 581.2h1.2v1.2h-1.2zM457.5 619.1h1.2v1.2h-1.2zM472.5 622.4h0.8v0.8h-0.8zM516.9 583.0h1.2v1.2h-1.2zM491.5 604.9h1.2v1.2h-1.2zM489.7 597.2h1.2v1.2h-1.2zM524.7 588.7h1.0v1.0h-1.0zM481.5 604.6h0.8v0.8h-0.8zM548.6 600.0h1.2v1.2h-1.2zM499.1 625.0h1.2v1.2h-1.2zM482.1 559.9h1.0v1.0h-1.0zM533.4 613.5h1.2v1.2h-1.2zM490.6 623.5h1.0v1.0h-1.0zM556.7 581.4h1.0v1.0h-1.0zM556.2 614.6h1.2v1.2h-1.2zM485.6 575.3h1.0v1.0h-1.0zM489.1 619.0h1.2v1.2h-1.2zM537.1 627.8h1.2v1.2h-1.2zM558.4 578.8h1.2v1.2h-1.2zM540.2 576.6h1.2v1.2h-1.2zM460.5 621.0h1.2v1.2h-1.2zM478.7 592.6h1.2v1.2h-1.2zM528.3 561.9h1.2v1.2h-1.2zM514.0 558.0h0.8v0.8h-0.8zM482.1 609.1h1.2v1.2h-1.2zM517.8 561.5h1.0v1.0h-1.0z" fill="#c0c0c0"/>
</g>
<line x1="530.50" y1="624.40" x2="553.50" y2="624.40" stroke="#e4e4e4" stroke-width="1.7"/>
<rect x="561.80" y="526.00" width="104.20" height="20.30" rx="1" fill="#fff" stroke="#1e1e1e" stroke-width="1.3"/>
<text x="613.90" y="539.85" font-size="10" text-anchor="middle" font-weight="bold" fill="#4a80c8" stroke="#4a80c8" stroke-width="0.22">A</text>
<clipPath id="cp6"><rect x="561.20" y="550.50" width="105.40" height="78.00"/></clipPath>
<g clip-path="url(#cp6)">
<rect x="561.20" y="550.50" width="105.40" height="78.00" fill="#292929"/>
<g filter="url(#blur2)"><path d="M590.4 611.1a5.1 5.1 0 1 0 10.2 0a5.1 5.1 0 1 0 -10.2 0M564.6 562.2a7.1 7.1 0 1 0 14.3 0a7.1 7.1 0 1 0 -14.3 0M642.2 609.4a7.3 7.3 0 1 0 14.5 0a7.3 7.3 0 1 0 -14.5 0M582.0 624.3a5.2 5.2 0 1 0 10.5 0a5.2 5.2 0 1 0 -10.5 0M635.1 583.7a5.6 5.6 0 1 0 11.3 0a5.6 5.6 0 1 0 -11.3 0M602.4 613.5a6.0 6.0 0 1 0 12.0 0a6.0 6.0 0 1 0 -12.0 0M594.2 621.7a6.4 6.4 0 1 0 12.8 0a6.4 6.4 0 1 0 -12.8 0M556.7 593.1a6.5 6.5 0 1 0 12.9 0a6.5 6.5 0 1 0 -12.9 0M600.8 562.0a6.5 6.5 0 1 0 13.1 0a6.5 6.5 0 1 0 -13.1 0M642.6 625.8a6.3 6.3 0 1 0 12.6 0a6.3 6.3 0 1 0 -12.6 0M661.5 551.5a4.1 4.1 0 1 0 8.2 0a4.1 4.1 0 1 0 -8.2 0M652.8 550.7a6.8 6.8 0 1 0 13.5 0a6.8 6.8 0 1 0 -13.5 0M574.3 579.5a6.8 6.8 0 1 0 13.7 0a6.8 6.8 0 1 0 -13.7 0" fill="#303030"/><path d="M647.0 564.9a4.5 4.5 0 1 0 9.0 0a4.5 4.5 0 1 0 -9.0 0M642.7 627.2a4.8 4.8 0 1 0 9.6 0a4.8 4.8 0 1 0 -9.6 0M559.4 601.9a6.9 6.9 0 1 0 13.9 0a6.9 6.9 0 1 0 -13.9 0M566.6 613.3a8.1 8.1 0 1 0 16.2 0a8.1 8.1 0 1 0 -16.2 0M620.7 587.8a7.8 7.8 0 1 0 15.6 0a7.8 7.8 0 1 0 -15.6 0M587.1 552.3a8.5 8.5 0 1 0 17.0 0a8.5 8.5 0 1 0 -17.0 0M641.1 617.6a6.4 6.4 0 1 0 12.8 0a6.4 6.4 0 1 0 -12.8 0M556.2 570.7a7.5 7.5 0 1 0 15.0 0a7.5 7.5 0 1 0 -15.0 0M580.5 572.2a3.6 3.6 0 1 0 7.2 0a3.6 3.6 0 1 0 -7.2 0" fill="#222222"/><path d="M590.0 556.7a4.6 4.6 0 1 0 9.1 0a4.6 4.6 0 1 0 -9.1 0M659.5 574.0a6.0 6.0 0 1 0 11.9 0a6.0 6.0 0 1 0 -11.9 0M569.7 616.9a7.4 7.4 0 1 0 14.7 0a7.4 7.4 0 1 0 -14.7 0M571.8 573.6a3.2 3.2 0 1 0 6.4 0a3.2 3.2 0 1 0 -6.4 0M610.7 610.8a7.4 7.4 0 1 0 14.8 0a7.4 7.4 0 1 0 -14.8 0M602.2 576.7a5.8 5.8 0 1 0 11.6 0a5.8 5.8 0 1 0 -11.6 0M576.4 580.1a4.1 4.1 0 1 0 8.2 0a4.1 4.1 0 1 0 -8.2 0M650.2 623.2a5.8 5.8 0 1 0 11.6 0a5.8 5.8 0 1 0 -11.6 0M566.7 604.6a3.9 3.9 0 1 0 7.8 0a3.9 3.9 0 1 0 -7.8 0M639.3 592.0a5.0 5.0 0 1 0 9.9 0a5.0 5.0 0 1 0 -9.9 0M657.3 614.7a5.1 5.1 0 1 0 10.2 0a5.1 5.1 0 1 0 -10.2 0M575.8 576.3a3.6 3.6 0 1 0 7.1 0a3.6 3.6 0 1 0 -7.1 0M615.5 572.7a3.8 3.8 0 1 0 7.6 0a3.8 3.8 0 1 0 -7.6 0" fill="#2e2e2e"/></g>
<g filter="url(#blur05)">
<path d="M576.6 586.8L592.0 586.8M586.6 580.8L586.6 600.5M653.5 580.8L651.2 591.4M570.4 603.5L568.9 618.7M607.4 608.1L615.1 612.6M604.3 561.1L618.1 567.2M612.0 553.5L610.4 564.1" fill="none" stroke="#7a7a7a" stroke-width="3.4" stroke-linejoin="round" stroke-linecap="round" opacity="0.35"/>
<path d="M576.6 586.8L592.0 586.8M586.6 580.8L586.6 600.5M653.5 580.8L651.2 591.4M570.4 603.5L568.9 618.7M607.4 608.1L615.1 612.6M604.3 561.1L618.1 567.2M612.0 553.5L610.4 564.1" fill="none" stroke="#cccccc" stroke-width="1.36" stroke-linejoin="round" stroke-linecap="round"/>
<path d="M588.9 585.8h0.9v0.9h-0.9zM584.3 587.6h0.9v0.9h-0.9zM580.6 586.9h0.9v0.9h-0.9zM577.5 588.1h0.9v0.9h-0.9zM580.0 587.5h0.9v0.9h-0.9zM589.6 586.5h0.9v0.9h-0.9zM581.5 585.7h0.9v0.9h-0.9zM586.9 586.7h0.9v0.9h-0.9zM580.6 588.4h0.9v0.9h-0.9zM585.0 591.8h0.9v0.9h-0.9zM586.0 594.4h0.9v0.9h-0.9zM587.5 585.1h0.9v0.9h-0.9zM586.5 601.2h0.9v0.9h-0.9zM586.3 583.1h0.9v0.9h-0.9zM587.9 600.6h0.9v0.9h-0.9zM585.7 596.2h0.9v0.9h-0.9zM585.3 582.4h0.9v0.9h-0.9zM586.9 589.1h0.9v0.9h-0.9zM586.3 598.9h0.9v0.9h-0.9zM587.0 598.3h0.9v0.9h-0.9zM586.1 592.8h0.9v0.9h-0.9zM651.1 588.0h0.9v0.9h-0.9zM650.4 592.6h0.9v0.9h-0.9zM651.5 585.8h0.9v0.9h-0.9zM651.9 587.6h0.9v0.9h-0.9zM653.8 584.6h0.9v0.9h-0.9zM651.1 590.0h0.9v0.9h-0.9zM569.7 618.3h0.9v0.9h-0.9zM570.8 608.5h0.9v0.9h-0.9zM568.7 611.8h0.9v0.9h-0.9zM570.3 609.0h0.9v0.9h-0.9zM569.8 612.5h0.9v0.9h-0.9zM570.3 616.9h0.9v0.9h-0.9zM567.8 615.5h0.9v0.9h-0.9zM570.0 611.3h0.9v0.9h-0.9zM569.4 615.3h0.9v0.9h-0.9zM607.1 609.9h0.9v0.9h-0.9zM610.1 611.0h0.9v0.9h-0.9zM610.0 607.9h0.9v0.9h-0.9zM615.5 611.5h0.9v0.9h-0.9zM613.2 609.2h0.9v0.9h-0.9zM612.9 563.1h0.9v0.9h-0.9zM606.1 563.5h0.9v0.9h-0.9zM604.6 560.6h0.9v0.9h-0.9zM616.2 565.8h0.9v0.9h-0.9zM608.7 563.6h0.9v0.9h-0.9zM612.7 564.2h0.9v0.9h-0.9zM609.6 563.1h0.9v0.9h-0.9zM611.1 565.8h0.9v0.9h-0.9zM617.1 566.1h0.9v0.9h-0.9zM612.1 554.6h0.9v0.9h-0.9zM610.6 559.6h0.9v0.9h-0.9zM613.0 557.2h0.9v0.9h-0.9zM610.1 560.0h0.9v0.9h-0.9zM611.4 555.3h0.9v0.9h-0.9zM612.5 555.8h0.9v0.9h-0.9z" fill="#b5b5b5"/>
<ellipse cx="630.4" cy="589.9" rx="2.2" ry="4.5" fill="#949494"/>
<ellipse cx="647.4" cy="574.7" rx="2.2" ry="1.8" fill="#949494"/>
<ellipse cx="608.9" cy="592.9" rx="1.5" ry="1.5" fill="#949494"/>
<ellipse cx="607.4" cy="620.2" rx="1.8" ry="1.8" fill="#949494"/>
<ellipse cx="625.8" cy="612.6" rx="1.5" ry="1.5" fill="#949494"/>
<ellipse cx="641.2" cy="606.5" rx="1.8" ry="1.5" fill="#949494"/>
<ellipse cx="653.5" cy="602.0" rx="1.5" ry="1.2" fill="#949494"/>
<ellipse cx="659.7" cy="594.4" rx="1.2" ry="1.5" fill="#949494"/>
<ellipse cx="632.0" cy="618.7" rx="1.2" ry="1.5" fill="#949494"/>
<ellipse cx="653.5" cy="556.6" rx="1.5" ry="1.2" fill="#949494"/>
<ellipse cx="570.4" cy="565.6" rx="3.4" ry="2.7" fill="#949494"/>
<ellipse cx="610.4" cy="559.6" rx="2.8" ry="2.4" fill="#949494"/>
<path d="M567.8 565.6a2.6 2.6 0 1 0 5.2 0a2.6 2.6 0 1 0 -5.2 0M607.8 559.6a2.6 2.6 0 1 0 5.2 0a2.6 2.6 0 1 0 -5.2 0M584.8 570.2a2.6 2.6 0 1 0 5.2 0a2.6 2.6 0 1 0 -5.2 0M584.0 586.8a2.6 2.6 0 1 0 5.2 0a2.6 2.6 0 1 0 -5.2 0M566.3 606.5a2.6 2.6 0 1 0 5.2 0a2.6 2.6 0 1 0 -5.2 0M577.1 618.7a2.6 2.6 0 1 0 5.2 0a2.6 2.6 0 1 0 -5.2 0M634.0 565.6a2.6 2.6 0 1 0 5.2 0a2.6 2.6 0 1 0 -5.2 0M600.1 588.4a2.6 2.6 0 1 0 5.2 0a2.6 2.6 0 1 0 -5.2 0" fill="#8a8a8a" opacity="0.8"/>
<path d="M570.4 565.6l-0.9 4.9M570.4 565.6l1.3 -2.4M570.4 565.6l-3.4 1.7M570.4 565.6l-3.6 2.4M570.4 565.6l-3.2 0.4M570.4 565.6l1.8 5.3M570.4 565.6l-2.6 -2.1M570.4 565.6l0.7 4.7M570.4 565.6l-4.3 -4.6M610.4 559.6l0.4 -4.1M610.4 559.6l0.2 4.2M610.4 559.6l2.4 4.1M610.4 559.6l-0.6 4.5M610.4 559.6l-2.0 6.1M610.4 559.6l-1.0 -3.8M610.4 559.6l0.1 3.9M610.4 559.6l0.8 -5.5M610.4 559.6l-2.1 -2.2M587.4 570.2l6.0 0.1M587.4 570.2l-3.4 0.6M587.4 570.2l-0.5 -4.6M587.4 570.2l-2.4 -3.7M587.4 570.2l-2.1 5.3M587.4 570.2l5.1 -3.8M587.4 570.2l-3.7 3.1M587.4 570.2l1.6 3.7M587.4 570.2l2.5 3.1M586.6 586.8l-5.6 -0.9M586.6 586.8l0.9 -3.3M586.6 586.8l-1.6 -2.4M586.6 586.8l-2.2 1.3M586.6 586.8l-1.4 3.6M586.6 586.8l-1.2 4.6M586.6 586.8l5.3 0.2M586.6 586.8l-1.9 2.2M586.6 586.8l0.5 6.9M568.9 606.5l-2.6 -3.9M568.9 606.5l4.0 3.8M568.9 606.5l-3.7 4.7M568.9 606.5l2.2 4.6M568.9 606.5l6.8 0.5M568.9 606.5l2.8 -1.4M568.9 606.5l-2.7 -5.3M568.9 606.5l6.1 1.1M568.9 606.5l-6.0 -2.1M579.7 618.7l0.5 6.0M579.7 618.7l-1.6 -4.2M579.7 618.7l-0.3 -3.9M579.7 618.7l-3.1 -3.6M579.7 618.7l2.3 5.1M579.7 618.7l4.5 -0.3M579.7 618.7l-2.1 3.7M579.7 618.7l2.9 -5.2M579.7 618.7l-2.9 4.0M636.6 565.6l5.1 2.7M636.6 565.6l-4.6 -5.2M636.6 565.6l-1.3 3.2M636.6 565.6l-2.7 -1.3M636.6 565.6l-1.8 -3.3M636.6 565.6l-2.3 2.3M636.6 565.6l-6.0 -0.5M636.6 565.6l-2.6 0.6M636.6 565.6l-4.2 -1.1M602.7 588.4l-0.3 3.2M602.7 588.4l4.1 0.0M602.7 588.4l1.2 2.3M602.7 588.4l3.1 0.5M602.7 588.4l2.4 -0.9M602.7 588.4l-3.3 -0.7M602.7 588.4l0.5 6.3M602.7 588.4l3.4 -1.8M602.7 588.4l-2.9 5.5" stroke="#b0b0b0" stroke-width="0.8" fill="none"/>
<path d="M630.4 589.9l7.3 2.3M630.4 589.9l7.3 -2.4M630.4 589.9l-3.6 -2.6M630.4 589.9l6.6 0.4M630.4 589.9l-1.7 -6.7M630.4 589.9l-0.3 5.6M630.4 589.9l5.5 -2.1M630.4 589.9l-3.6 -3.6M630.4 589.9l-4.1 4.8M630.4 589.9l7.0 0.9M630.4 589.9l1.5 -4.6M630.4 589.9l3.7 1.7M630.4 589.9l1.4 -4.7M630.4 589.9l-2.3 -5.1M647.4 574.7l-2.4 -2.4M647.4 574.7l0.6 2.0M647.4 574.7l3.7 0.4M647.4 574.7l-1.1 -3.5M647.4 574.7l1.4 2.2M647.4 574.7l-0.5 -2.5M647.4 574.7l-3.3 1.3M647.4 574.7l-3.1 0.5M647.4 574.7l-2.6 2.1M647.4 574.7l1.8 1.0M647.4 574.7l0.2 -3.1M608.9 592.9l-2.4 0.9M608.9 592.9l1.5 -1.8M608.9 592.9l2.3 -0.4M608.9 592.9l1.5 -2.0M608.9 592.9l0.8 -2.0M608.9 592.9l1.0 1.9M608.9 592.9l1.7 -1.3M608.9 592.9l-1.9 1.3M608.9 592.9l-1.5 0.8M608.9 592.9l0.1 -1.6M607.4 620.2l-0.6 -2.0M607.4 620.2l-0.2 2.3M607.4 620.2l2.3 -0.0M607.4 620.2l1.2 -2.1M607.4 620.2l0.8 2.4M607.4 620.2l-0.4 2.9M607.4 620.2l-2.8 1.1M607.4 620.2l2.3 1.0M607.4 620.2l-2.3 0.7M607.4 620.2l2.0 -2.0M625.8 612.6l1.3 -2.3M625.8 612.6l-0.1 1.6M625.8 612.6l2.0 0.3M625.8 612.6l1.9 -0.6M625.8 612.6l-1.7 0.4M625.8 612.6l2.0 -0.4M625.8 612.6l2.1 -0.4M625.8 612.6l0.9 -2.1M625.8 612.6l-0.6 -2.5M625.8 612.6l1.2 0.8M641.2 606.5l-1.7 0.8M641.2 606.5l1.5 -1.6M641.2 606.5l-1.1 -2.3M641.2 606.5l2.4 1.4M641.2 606.5l-1.4 1.2M641.2 606.5l0.1 1.8M641.2 606.5l1.8 2.5M641.2 606.5l-2.5 -1.1M641.2 606.5l1.3 1.1M641.2 606.5l-1.5 1.5M653.5 602.0l-0.3 -1.5M653.5 602.0l1.6 2.2M653.5 602.0l-2.1 0.3M653.5 602.0l1.9 1.8M653.5 602.0l-1.6 -0.2M653.5 602.0l2.1 -1.1M653.5 602.0l-0.3 -2.0M653.5 602.0l1.3 0.9M653.5 602.0l-1.3 1.3M659.7 594.4l1.4 0.6M659.7 594.4l-1.8 -0.1M659.7 594.4l-1.8 -1.2M659.7 594.4l2.3 1.4M659.7 594.4l2.0 -1.4M659.7 594.4l-1.0 -1.9M659.7 594.4l1.2 1.7M659.7 594.4l1.2 1.6M659.7 594.4l-1.3 1.4M632.0 618.7l-0.9 -1.9M632.0 618.7l0.6 -1.8M632.0 618.7l-0.2 -1.8M632.0 618.7l-0.6 2.4M632.0 618.7l0.5 -1.6M632.0 618.7l1.8 -0.4M632.0 618.7l2.0 1.2M632.0 618.7l-0.0 -2.6M632.0 618.7l1.9 -0.9M653.5 556.6l2.4 0.9M653.5 556.6l1.2 2.3M653.5 556.6l-1.0 0.9M653.5 556.6l0.7 2.5M653.5 556.6l1.6 -2.0M653.5 556.6l-1.3 0.8M653.5 556.6l1.2 2.0M653.5 556.6l0.7 2.3M653.5 556.6l-1.2 2.5M570.4 565.6l4.7 -0.1M570.4 565.6l-5.3 -0.6M570.4 565.6l4.5 -1.0M570.4 565.6l-1.1 -3.4M570.4 565.6l2.2 3.0M570.4 565.6l-3.5 -0.5M570.4 565.6l-5.6 1.6M570.4 565.6l4.8 -2.1M570.4 565.6l-0.1 -4.0M570.4 565.6l-2.0 -2.7M570.4 565.6l-1.7 3.7M570.4 565.6l-0.8 -6.0M570.4 565.6l-3.7 -1.5M570.4 565.6l1.6 3.0M610.4 559.6l0.5 4.3M610.4 559.6l1.0 -4.7M610.4 559.6l-2.5 2.6M610.4 559.6l3.2 3.1M610.4 559.6l-4.2 -0.3M610.4 559.6l2.4 -2.6M610.4 559.6l3.2 -0.7M610.4 559.6l-0.2 4.6M610.4 559.6l1.6 2.6M610.4 559.6l4.2 -0.5M610.4 559.6l-2.5 3.3M610.4 559.6l-3.3 0.8" stroke="#aaaaaa" stroke-width="1.0" fill="none"/>
</g>
<path d="M633.3 606.5h1.0v1.0h-1.0zM645.5 597.9h0.8v0.8h-0.8zM575.9 557.5h1.2v1.2h-1.2zM565.3 552.1h1.0v1.0h-1.0zM620.0 588.9h1.2v1.2h-1.2zM636.1 554.2h0.8v0.8h-0.8zM613.8 555.2h1.2v1.2h-1.2zM574.8 617.2h0.8v0.8h-0.8zM663.6 584.6h1.0v1.0h-1.0zM599.3 601.4h1.0v1.0h-1.0zM601.5 600.1h0.8v0.8h-0.8zM650.6 587.3h1.2v1.2h-1.2zM594.4 602.9h1.0v1.0h-1.0zM623.8 603.5h0.8v0.8h-0.8zM584.3 609.6h1.2v1.2h-1.2zM568.8 616.6h1.2v1.2h-1.2zM625.5 583.8h0.8v0.8h-0.8zM569.4 601.7h1.2v1.2h-1.2zM600.4 596.1h1.2v1.2h-1.2zM597.4 575.2h1.2v1.2h-1.2zM595.3 568.3h0.8v0.8h-0.8zM626.7 615.0h1.0v1.0h-1.0zM576.4 608.1h0.8v0.8h-0.8zM626.9 581.6h1.2v1.2h-1.2zM578.9 601.0h0.8v0.8h-0.8zM627.8 588.7h1.2v1.2h-1.2zM584.0 596.1h1.2v1.2h-1.2zM607.3 611.1h1.2v1.2h-1.2zM605.0 607.1h1.2v1.2h-1.2zM662.9 622.2h0.8v0.8h-0.8zM613.0 581.9h0.8v0.8h-0.8zM575.0 614.7h1.2v1.2h-1.2zM572.0 569.9h1.2v1.2h-1.2zM601.0 598.4h0.8v0.8h-0.8zM628.9 567.9h0.8v0.8h-0.8zM592.3 614.3h1.2v1.2h-1.2zM601.9 551.5h1.2v1.2h-1.2zM646.4 572.3h0.8v0.8h-0.8zM639.4 611.7h1.0v1.0h-1.0zM635.6 622.9h0.8v0.8h-0.8zM596.3 613.2h1.0v1.0h-1.0zM566.6 595.4h0.8v0.8h-0.8zM561.3 552.5h0.8v0.8h-0.8zM645.4 619.2h1.2v1.2h-1.2zM573.3 622.7h1.0v1.0h-1.0zM587.6 578.6h1.2v1.2h-1.2zM663.8 575.3h0.8v0.8h-0.8zM581.2 593.3h1.2v1.2h-1.2zM652.2 557.2h1.2v1.2h-1.2zM636.3 603.8h0.8v0.8h-0.8zM651.7 591.7h1.2v1.2h-1.2zM606.7 577.3h1.2v1.2h-1.2zM653.7 574.5h1.2v1.2h-1.2zM662.3 553.2h1.0v1.0h-1.0zM584.9 589.5h1.2v1.2h-1.2zM638.3 616.6h1.0v1.0h-1.0zM662.1 611.5h1.0v1.0h-1.0zM588.8 576.8h0.8v0.8h-0.8zM623.3 616.3h1.0v1.0h-1.0zM621.6 614.8h1.0v1.0h-1.0zM595.4 554.5h0.8v0.8h-0.8zM567.4 605.4h1.0v1.0h-1.0zM643.3 563.4h0.8v0.8h-0.8z" fill="#8a8a8a"/>
<path d="M598.5 565.4h0.8v0.8h-0.8zM570.0 585.4h0.8v0.8h-0.8zM651.7 622.7h0.8v0.8h-0.8zM590.9 557.2h0.8v0.8h-0.8zM646.3 587.9h0.8v0.8h-0.8zM653.5 574.5h1.0v1.0h-1.0zM640.0 583.2h1.2v1.2h-1.2zM640.0 570.1h0.8v0.8h-0.8zM602.5 561.2h1.0v1.0h-1.0zM642.4 571.8h1.0v1.0h-1.0zM578.1 591.4h1.0v1.0h-1.0zM606.2 590.0h1.2v1.2h-1.2zM569.2 607.1h0.8v0.8h-0.8zM569.2 615.1h1.0v1.0h-1.0zM581.9 602.5h1.0v1.0h-1.0zM583.3 610.8h0.8v0.8h-0.8zM663.5 560.9h1.0v1.0h-1.0zM589.2 605.9h1.0v1.0h-1.0zM563.9 627.5h1.2v1.2h-1.2zM658.5 626.6h0.8v0.8h-0.8zM587.3 593.3h1.0v1.0h-1.0zM643.9 620.5h1.0v1.0h-1.0zM583.5 574.1h1.0v1.0h-1.0zM567.6 593.1h0.8v0.8h-0.8zM627.5 567.3h1.2v1.2h-1.2zM613.7 589.7h1.2v1.2h-1.2zM604.9 587.9h0.8v0.8h-0.8zM663.1 590.1h0.8v0.8h-0.8zM658.2 594.7h1.0v1.0h-1.0zM642.1 592.0h1.0v1.0h-1.0zM646.8 574.2h0.8v0.8h-0.8zM665.0 595.8h1.2v1.2h-1.2zM578.0 556.3h1.0v1.0h-1.0zM662.8 579.0h0.8v0.8h-0.8zM612.8 579.5h0.8v0.8h-0.8zM586.9 620.4h1.0v1.0h-1.0zM576.1 568.4h1.0v1.0h-1.0zM657.6 583.9h1.2v1.2h-1.2zM586.8 554.3h1.0v1.0h-1.0zM603.2 560.5h0.8v0.8h-0.8zM663.8 590.5h0.8v0.8h-0.8zM662.8 573.0h0.8v0.8h-0.8zM635.4 607.7h0.8v0.8h-0.8zM644.7 584.1h1.0v1.0h-1.0zM567.7 582.0h1.2v1.2h-1.2zM600.6 585.0h0.8v0.8h-0.8zM623.7 568.6h0.8v0.8h-0.8zM572.7 617.7h1.0v1.0h-1.0zM599.6 602.9h0.8v0.8h-0.8zM598.1 609.9h0.8v0.8h-0.8z" fill="#a5a5a5"/>
<path d="M642.8 581.5h0.8v0.8h-0.8zM597.1 588.3h0.8v0.8h-0.8zM656.8 616.2h0.8v0.8h-0.8zM642.6 624.8h0.8v0.8h-0.8zM603.3 567.3h1.0v1.0h-1.0zM648.6 620.4h1.0v1.0h-1.0zM584.2 595.0h0.8v0.8h-0.8zM631.6 617.4h1.2v1.2h-1.2zM583.6 562.4h1.0v1.0h-1.0zM660.2 554.7h0.8v0.8h-0.8zM662.7 614.0h0.8v0.8h-0.8zM619.2 611.5h0.8v0.8h-0.8zM610.0 621.4h1.0v1.0h-1.0zM632.7 617.3h1.0v1.0h-1.0zM641.2 558.9h0.8v0.8h-0.8zM599.1 624.7h0.8v0.8h-0.8zM572.4 622.8h1.2v1.2h-1.2zM568.7 610.6h1.2v1.2h-1.2zM649.5 574.9h1.0v1.0h-1.0zM604.6 588.8h1.2v1.2h-1.2zM648.7 577.6h1.2v1.2h-1.2zM596.4 613.7h1.0v1.0h-1.0zM664.1 598.2h0.8v0.8h-0.8zM580.7 610.2h0.8v0.8h-0.8zM574.9 586.7h0.8v0.8h-0.8zM619.4 624.6h1.0v1.0h-1.0zM565.3 621.8h1.2v1.2h-1.2zM625.5 588.7h1.0v1.0h-1.0zM651.7 606.6h0.8v0.8h-0.8zM645.9 570.7h1.2v1.2h-1.2zM620.7 626.7h1.0v1.0h-1.0zM607.8 616.6h1.2v1.2h-1.2zM663.5 618.1h1.2v1.2h-1.2zM623.2 558.3h1.0v1.0h-1.0zM635.7 579.5h0.8v0.8h-0.8zM595.2 602.2h0.8v0.8h-0.8zM611.8 553.7h1.2v1.2h-1.2zM592.9 584.7h1.0v1.0h-1.0zM646.4 577.3h1.0v1.0h-1.0zM663.7 553.9h1.2v1.2h-1.2zM639.0 616.4h0.8v0.8h-0.8zM612.3 622.5h0.8v0.8h-0.8zM575.9 599.0h1.2v1.2h-1.2zM600.5 556.2h1.0v1.0h-1.0zM650.7 588.7h1.2v1.2h-1.2zM636.5 613.2h1.0v1.0h-1.0zM606.0 611.8h1.2v1.2h-1.2zM619.8 626.1h0.8v0.8h-0.8zM662.4 584.4h1.2v1.2h-1.2zM634.5 555.8h0.8v0.8h-0.8zM620.6 579.8h1.2v1.2h-1.2zM609.5 569.1h0.8v0.8h-0.8zM574.5 553.1h1.0v1.0h-1.0zM572.4 588.6h0.8v0.8h-0.8zM662.1 624.6h1.0v1.0h-1.0zM623.8 598.9h0.8v0.8h-0.8zM613.6 556.5h1.2v1.2h-1.2zM569.1 613.1h1.0v1.0h-1.0zM644.3 581.5h1.0v1.0h-1.0zM587.9 626.7h1.0v1.0h-1.0zM593.9 603.1h1.2v1.2h-1.2z" fill="#6e6e6e"/>
<path d="M663.1 562.3h0.8v0.8h-0.8zM581.0 561.6h0.8v0.8h-0.8zM659.9 578.1h1.2v1.2h-1.2zM573.9 608.3h1.0v1.0h-1.0zM584.6 552.1h1.0v1.0h-1.0zM567.2 559.0h1.2v1.2h-1.2zM588.2 624.4h1.0v1.0h-1.0zM635.2 587.3h0.8v0.8h-0.8zM649.0 603.1h1.2v1.2h-1.2zM585.1 612.6h0.8v0.8h-0.8zM616.8 586.3h1.0v1.0h-1.0zM637.0 554.0h1.0v1.0h-1.0zM571.9 575.7h0.8v0.8h-0.8zM609.7 625.6h1.0v1.0h-1.0zM599.2 565.8h1.0v1.0h-1.0zM625.2 582.3h0.8v0.8h-0.8zM571.1 574.2h1.2v1.2h-1.2zM577.3 601.5h1.2v1.2h-1.2zM583.2 552.6h1.2v1.2h-1.2zM567.6 610.9h1.2v1.2h-1.2zM635.0 572.3h1.2v1.2h-1.2zM644.0 610.0h0.8v0.8h-0.8zM590.0 552.7h1.0v1.0h-1.0zM602.6 562.9h1.2v1.2h-1.2zM592.0 600.0h1.0v1.0h-1.0zM596.4 602.9h1.2v1.2h-1.2zM634.2 568.4h1.0v1.0h-1.0zM632.7 619.3h1.2v1.2h-1.2zM605.1 628.3h0.8v0.8h-0.8zM664.9 562.2h1.0v1.0h-1.0zM598.2 589.1h0.8v0.8h-0.8zM593.4 565.6h0.8v0.8h-0.8zM629.2 591.3h1.0v1.0h-1.0zM563.9 612.7h0.8v0.8h-0.8zM607.7 592.8h0.8v0.8h-0.8zM628.3 570.0h1.2v1.2h-1.2zM650.8 623.3h1.2v1.2h-1.2zM617.6 594.6h0.8v0.8h-0.8zM595.7 598.9h1.2v1.2h-1.2zM612.5 621.7h1.2v1.2h-1.2zM583.8 566.2h1.0v1.0h-1.0zM633.4 627.8h1.0v1.0h-1.0zM563.9 584.1h1.0v1.0h-1.0zM659.3 575.7h1.2v1.2h-1.2zM640.4 617.8h1.2v1.2h-1.2zM599.1 620.0h1.0v1.0h-1.0zM626.5 556.3h1.2v1.2h-1.2zM633.3 608.3h1.2v1.2h-1.2zM624.0 615.1h1.2v1.2h-1.2zM659.6 587.5h1.2v1.2h-1.2zM659.9 602.6h1.0v1.0h-1.0zM621.5 568.5h1.2v1.2h-1.2zM640.2 597.1h0.8v0.8h-0.8zM631.1 570.3h1.0v1.0h-1.0zM634.4 571.5h0.8v0.8h-0.8zM610.6 617.9h0.8v0.8h-0.8z" fill="#c0c0c0"/>
</g>
<line x1="638.10" y1="624.40" x2="661.10" y2="624.40" stroke="#e4e4e4" stroke-width="1.7"/>
<text x="9.40" y="650.59" font-size="11" text-anchor="start" font-weight="bold" fill="#111" stroke="#111" stroke-width="0.22">M</text>
<line x1="36.40" y1="670.60" x2="36.40" y2="796.50" stroke="#222" stroke-width="1.1"/>
<line x1="33.40" y1="758.60" x2="36.40" y2="758.60" stroke="#222" stroke-width="1.1"/>
<text x="27.20" y="762.12" font-size="10.2" text-anchor="end" fill="#1a1a1a" stroke="#1a1a1a" stroke-width="0.22">0</text>
<line x1="33.40" y1="736.73" x2="36.40" y2="736.73" stroke="#222" stroke-width="1.1"/>
<text x="27.20" y="740.24" font-size="10.2" text-anchor="end" fill="#1a1a1a" stroke="#1a1a1a" stroke-width="0.22">20</text>
<line x1="33.40" y1="714.85" x2="36.40" y2="714.85" stroke="#222" stroke-width="1.1"/>
<text x="27.20" y="718.37" font-size="10.2" text-anchor="end" fill="#1a1a1a" stroke="#1a1a1a" stroke-width="0.22">40</text>
<line x1="33.40" y1="692.98" x2="36.40" y2="692.98" stroke="#222" stroke-width="1.1"/>
<text x="27.20" y="696.49" font-size="10.2" text-anchor="end" fill="#1a1a1a" stroke="#1a1a1a" stroke-width="0.22">60</text>
<line x1="33.40" y1="671.10" x2="36.40" y2="671.10" stroke="#222" stroke-width="1.1"/>
<text x="27.20" y="674.62" font-size="10.2" text-anchor="end" fill="#1a1a1a" stroke="#1a1a1a" stroke-width="0.22">80</text>
<line x1="35.90" y1="758.60" x2="152.50" y2="758.60" stroke="#222" stroke-width="1.1"/>
<line x1="55.75" y1="758.60" x2="55.75" y2="777.00" stroke="#222" stroke-width="1.1"/>
<line x1="75.10" y1="758.60" x2="75.10" y2="777.00" stroke="#222" stroke-width="1.1"/>
<line x1="94.45" y1="758.60" x2="94.45" y2="796.50" stroke="#222" stroke-width="1.1"/>
<line x1="113.80" y1="758.60" x2="113.80" y2="777.00" stroke="#222" stroke-width="1.1"/>
<line x1="133.15" y1="758.60" x2="133.15" y2="777.00" stroke="#222" stroke-width="1.1"/>
<line x1="152.50" y1="758.60" x2="152.50" y2="796.50" stroke="#222" stroke-width="1.1"/>
<rect x="38.80" y="742.19" width="14.55" height="16.41" fill="#e6717d" stroke="#1a1a1a" stroke-width="1"/>
<line x1="46.08" y1="742.19" x2="46.08" y2="738.37" stroke="#222" stroke-width="1.0"/>
<line x1="43.58" y1="738.37" x2="48.58" y2="738.37" stroke="#222" stroke-width="1.0"/>
<text x="46.08" y="774.92" font-size="10.5" text-anchor="middle" fill="#1a1a1a" stroke="#1a1a1a" stroke-width="0.22">V</text>
<rect x="58.15" y="723.60" width="14.55" height="35.00" fill="#3b47a1" stroke="#1a1a1a" stroke-width="1"/>
<line x1="65.42" y1="723.60" x2="65.42" y2="720.32" stroke="#222" stroke-width="1.0"/>
<line x1="62.92" y1="720.32" x2="67.92" y2="720.32" stroke="#222" stroke-width="1.0"/>
<text x="65.42" y="774.92" font-size="10.5" text-anchor="middle" fill="#1a1a1a" stroke="#1a1a1a" stroke-width="0.22">2:1</text>
<rect x="77.50" y="756.41" width="14.55" height="2.19" fill="#bcd4ea" stroke="#1a1a1a" stroke-width="1"/>
<line x1="84.77" y1="756.41" x2="84.77" y2="754.77" stroke="#222" stroke-width="1.0"/>
<line x1="82.27" y1="754.77" x2="87.27" y2="754.77" stroke="#222" stroke-width="1.0"/>
<text x="84.77" y="774.92" font-size="10.5" text-anchor="middle" fill="#1a1a1a" stroke="#1a1a1a" stroke-width="0.22">A</text>
<rect x="96.85" y="733.99" width="14.55" height="24.61" fill="#e6717d" stroke="#1a1a1a" stroke-width="1"/>
<line x1="104.12" y1="733.99" x2="104.12" y2="732.35" stroke="#222" stroke-width="1.0"/>
<line x1="101.62" y1="732.35" x2="106.62" y2="732.35" stroke="#222" stroke-width="1.0"/>
<text x="104.12" y="774.92" font-size="10.5" text-anchor="middle" fill="#1a1a1a" stroke="#1a1a1a" stroke-width="0.22">V</text>
<rect x="116.20" y="700.63" width="14.55" height="57.97" fill="#3b47a1" stroke="#1a1a1a" stroke-width="1"/>
<line x1="123.48" y1="700.63" x2="123.48" y2="694.07" stroke="#222" stroke-width="1.0"/>
<line x1="120.98" y1="694.07" x2="125.98" y2="694.07" stroke="#222" stroke-width="1.0"/>
<text x="123.48" y="774.92" font-size="10.5" text-anchor="middle" fill="#1a1a1a" stroke="#1a1a1a" stroke-width="0.22">2:1</text>
<rect x="135.55" y="757.29" width="14.55" height="1.31" fill="#bcd4ea" stroke="#1a1a1a" stroke-width="1"/>
<line x1="142.82" y1="757.29" x2="142.82" y2="756.19" stroke="#222" stroke-width="1.0"/>
<line x1="140.32" y1="756.19" x2="145.32" y2="756.19" stroke="#222" stroke-width="1.0"/>
<text x="142.83" y="774.92" font-size="10.5" text-anchor="middle" fill="#1a1a1a" stroke="#1a1a1a" stroke-width="0.22">A</text>
<text x="65.42" y="793.22" font-size="10.5" text-anchor="middle" fill="#1a1a1a" stroke="#1a1a1a" stroke-width="0.22">TNF-α (-)</text>
<text x="123.47" y="793.22" font-size="10.5" text-anchor="middle" fill="#1a1a1a" stroke="#1a1a1a" stroke-width="0.22">TNF-α (+)</text>
<text transform="translate(8.70,730.20) rotate(-90)" x="0" y="3.55" font-size="10.3" text-anchor="middle" fill="#1a1a1a" stroke="#1a1a1a" stroke-width="0.22">Number of meshes</text>
<polyline points="44.78,694.30 44.78,684.60 85.88,684.60 85.88,694.30" fill="none" stroke="#333" stroke-width="1.1"/>
<text x="65.33" y="683.48" font-size="10" text-anchor="middle" fill="#1a1a1a">***</text>
<polyline points="44.78,722.20 44.78,703.20 62.82,703.20 62.82,712.90" fill="none" stroke="#333" stroke-width="1.1"/>
<text x="53.80" y="702.08" font-size="10" text-anchor="middle" fill="#1a1a1a">***</text>
<polyline points="67.42,712.90 67.42,703.20 85.88,703.20 85.88,741.60" fill="none" stroke="#333" stroke-width="1.1"/>
<text x="76.65" y="702.08" font-size="10" text-anchor="middle" fill="#1a1a1a">***</text>
<text x="104.12" y="728.62" font-size="7.6" text-anchor="middle" fill="#1a1a1a" stroke="#1a1a1a" stroke-width="0.22">$$</text>
<text x="123.47" y="692.02" font-size="7.6" text-anchor="middle" fill="#1a1a1a" stroke="#1a1a1a" stroke-width="0.22">##</text>
<polyline points="102.62,662.60 102.62,657.60 143.93,657.60 143.93,662.60" fill="none" stroke="#333" stroke-width="1.1"/>
<text x="123.28" y="656.48" font-size="10" text-anchor="middle" fill="#1a1a1a">***</text>
<polyline points="102.62,719.00 102.62,673.00 121.47,673.00 121.47,681.00" fill="none" stroke="#333" stroke-width="1.1"/>
<text x="112.05" y="671.88" font-size="10" text-anchor="middle" fill="#1a1a1a">***</text>
<polyline points="125.17,681.00 125.17,673.00 143.93,673.00 143.93,737.00" fill="none" stroke="#333" stroke-width="1.1"/>
<text x="134.55" y="671.88" font-size="10" text-anchor="middle" fill="#1a1a1a">***</text>
<line x1="203.00" y1="670.50" x2="203.00" y2="796.50" stroke="#222" stroke-width="1.1"/>
<line x1="200.00" y1="758.50" x2="203.00" y2="758.50" stroke="#222" stroke-width="1.1"/>
<text x="193.80" y="762.02" font-size="10.2" text-anchor="end" fill="#1a1a1a" stroke="#1a1a1a" stroke-width="0.22">0</text>
<line x1="200.00" y1="736.62" x2="203.00" y2="736.62" stroke="#222" stroke-width="1.1"/>
<text x="193.80" y="740.14" font-size="10.2" text-anchor="end" fill="#1a1a1a" stroke="#1a1a1a" stroke-width="0.22">50</text>
<line x1="200.00" y1="714.75" x2="203.00" y2="714.75" stroke="#222" stroke-width="1.1"/>
<text x="193.80" y="718.27" font-size="10.2" text-anchor="end" fill="#1a1a1a" stroke="#1a1a1a" stroke-width="0.22">100</text>
<line x1="200.00" y1="692.88" x2="203.00" y2="692.88" stroke="#222" stroke-width="1.1"/>
<text x="193.80" y="696.39" font-size="10.2" text-anchor="end" fill="#1a1a1a" stroke="#1a1a1a" stroke-width="0.22">150</text>
<line x1="200.00" y1="671.00" x2="203.00" y2="671.00" stroke="#222" stroke-width="1.1"/>
<text x="193.80" y="674.52" font-size="10.2" text-anchor="end" fill="#1a1a1a" stroke="#1a1a1a" stroke-width="0.22">200</text>
<line x1="202.50" y1="758.50" x2="318.92" y2="758.50" stroke="#222" stroke-width="1.1"/>
<line x1="222.32" y1="758.50" x2="222.32" y2="777.00" stroke="#222" stroke-width="1.1"/>
<line x1="241.64" y1="758.50" x2="241.64" y2="777.00" stroke="#222" stroke-width="1.1"/>
<line x1="260.96" y1="758.50" x2="260.96" y2="796.50" stroke="#222" stroke-width="1.1"/>
<line x1="280.28" y1="758.50" x2="280.28" y2="777.00" stroke="#222" stroke-width="1.1"/>
<line x1="299.60" y1="758.50" x2="299.60" y2="777.00" stroke="#222" stroke-width="1.1"/>
<line x1="318.92" y1="758.50" x2="318.92" y2="796.50" stroke="#222" stroke-width="1.1"/>
<rect x="205.40" y="730.06" width="14.52" height="28.44" fill="#e6717d" stroke="#1a1a1a" stroke-width="1"/>
<line x1="212.66" y1="730.06" x2="212.66" y2="725.69" stroke="#222" stroke-width="1.0"/>
<line x1="210.16" y1="725.69" x2="215.16" y2="725.69" stroke="#222" stroke-width="1.0"/>
<text x="212.66" y="774.92" font-size="10.5" text-anchor="middle" fill="#1a1a1a" stroke="#1a1a1a" stroke-width="0.22">V</text>
<rect x="224.72" y="712.12" width="14.52" height="46.38" fill="#3b47a1" stroke="#1a1a1a" stroke-width="1"/>
<line x1="231.98" y1="712.12" x2="231.98" y2="707.31" stroke="#222" stroke-width="1.0"/>
<line x1="229.48" y1="707.31" x2="234.48" y2="707.31" stroke="#222" stroke-width="1.0"/>
<text x="231.98" y="774.92" font-size="10.5" text-anchor="middle" fill="#1a1a1a" stroke="#1a1a1a" stroke-width="0.22">2:1</text>
<rect x="244.04" y="752.81" width="14.52" height="5.69" fill="#bcd4ea" stroke="#1a1a1a" stroke-width="1"/>
<line x1="251.30" y1="752.81" x2="251.30" y2="751.06" stroke="#222" stroke-width="1.0"/>
<line x1="248.80" y1="751.06" x2="253.80" y2="751.06" stroke="#222" stroke-width="1.0"/>
<text x="251.30" y="774.92" font-size="10.5" text-anchor="middle" fill="#1a1a1a" stroke="#1a1a1a" stroke-width="0.22">A</text>
<rect x="263.36" y="720.88" width="14.52" height="37.62" fill="#e6717d" stroke="#1a1a1a" stroke-width="1"/>
<line x1="270.62" y1="720.88" x2="270.62" y2="717.81" stroke="#222" stroke-width="1.0"/>
<line x1="268.12" y1="717.81" x2="273.12" y2="717.81" stroke="#222" stroke-width="1.0"/>
<text x="270.62" y="774.92" font-size="10.5" text-anchor="middle" fill="#1a1a1a" stroke="#1a1a1a" stroke-width="0.22">V</text>
<rect x="282.68" y="697.25" width="14.52" height="61.25" fill="#3b47a1" stroke="#1a1a1a" stroke-width="1"/>
<line x1="289.94" y1="697.25" x2="289.94" y2="689.81" stroke="#222" stroke-width="1.0"/>
<line x1="287.44" y1="689.81" x2="292.44" y2="689.81" stroke="#222" stroke-width="1.0"/>
<text x="289.94" y="774.92" font-size="10.5" text-anchor="middle" fill="#1a1a1a" stroke="#1a1a1a" stroke-width="0.22">2:1</text>
<rect x="302.00" y="751.94" width="14.52" height="6.56" fill="#bcd4ea" stroke="#1a1a1a" stroke-width="1"/>
<line x1="309.26" y1="751.94" x2="309.26" y2="751.41" stroke="#222" stroke-width="1.0"/>
<line x1="306.76" y1="751.41" x2="311.76" y2="751.41" stroke="#222" stroke-width="1.0"/>
<text x="309.26" y="774.92" font-size="10.5" text-anchor="middle" fill="#1a1a1a" stroke="#1a1a1a" stroke-width="0.22">A</text>
<text x="231.98" y="793.22" font-size="10.5" text-anchor="middle" fill="#1a1a1a" stroke="#1a1a1a" stroke-width="0.22">TNF-α (-)</text>
<text x="289.94" y="793.22" font-size="10.5" text-anchor="middle" fill="#1a1a1a" stroke="#1a1a1a" stroke-width="0.22">TNF-α (+)</text>
<text transform="translate(169.30,730.30) rotate(-90)" x="0" y="3.55" font-size="10.3" text-anchor="middle" fill="#1a1a1a" stroke="#1a1a1a" stroke-width="0.22">Number of master segments</text>
<polyline points="210.66,682.00 210.66,672.60 252.00,672.60 252.00,682.00" fill="none" stroke="#333" stroke-width="1.1"/>
<text x="231.33" y="671.48" font-size="10" text-anchor="middle" fill="#1a1a1a">***</text>
<polyline points="210.66,715.60 210.66,691.00 229.98,691.00 229.98,700.00" fill="none" stroke="#333" stroke-width="1.1"/>
<text x="220.32" y="689.88" font-size="10" text-anchor="middle" fill="#1a1a1a">***</text>
<polyline points="233.58,700.00 233.58,691.00 252.00,691.00 252.00,741.00" fill="none" stroke="#333" stroke-width="1.1"/>
<text x="242.79" y="689.88" font-size="10" text-anchor="middle" fill="#1a1a1a">***</text>
<text x="270.82" y="714.06" font-size="8.3" text-anchor="middle" fill="#1a1a1a" stroke="#1a1a1a" stroke-width="0.22">$</text>
<text x="290.04" y="688.16" font-size="8.3" text-anchor="middle" fill="#1a1a1a" stroke="#1a1a1a" stroke-width="0.22">#</text>
<polyline points="269.02,663.00 269.02,653.60 309.96,653.60 309.96,663.00" fill="none" stroke="#333" stroke-width="1.1"/>
<text x="289.49" y="652.48" font-size="10" text-anchor="middle" fill="#1a1a1a">***</text>
<polyline points="269.02,702.00 269.02,669.60 288.04,669.60 288.04,679.00" fill="none" stroke="#333" stroke-width="1.1"/>
<text x="278.53" y="668.48" font-size="10" text-anchor="middle" fill="#1a1a1a">***</text>
<polyline points="291.64,679.00 291.64,669.60 309.96,669.60 309.96,730.00" fill="none" stroke="#333" stroke-width="1.1"/>
<text x="300.80" y="668.48" font-size="10" text-anchor="middle" fill="#1a1a1a">***</text>
<line x1="393.60" y1="670.90" x2="393.60" y2="796.50" stroke="#222" stroke-width="1.1"/>
<line x1="390.60" y1="758.60" x2="393.60" y2="758.60" stroke="#222" stroke-width="1.1"/>
<text x="384.40" y="762.12" font-size="10.2" text-anchor="end" fill="#1a1a1a" stroke="#1a1a1a" stroke-width="0.22">0</text>
<line x1="390.60" y1="741.16" x2="393.60" y2="741.16" stroke="#222" stroke-width="1.1"/>
<text x="384.40" y="744.68" font-size="10.2" text-anchor="end" fill="#1a1a1a" stroke="#1a1a1a" stroke-width="0.22">5000</text>
<line x1="390.60" y1="723.72" x2="393.60" y2="723.72" stroke="#222" stroke-width="1.1"/>
<text x="384.40" y="727.24" font-size="10.2" text-anchor="end" fill="#1a1a1a" stroke="#1a1a1a" stroke-width="0.22">10000</text>
<line x1="390.60" y1="706.28" x2="393.60" y2="706.28" stroke="#222" stroke-width="1.1"/>
<text x="384.40" y="709.80" font-size="10.2" text-anchor="end" fill="#1a1a1a" stroke="#1a1a1a" stroke-width="0.22">15000</text>
<line x1="390.60" y1="688.84" x2="393.60" y2="688.84" stroke="#222" stroke-width="1.1"/>
<text x="384.40" y="692.36" font-size="10.2" text-anchor="end" fill="#1a1a1a" stroke="#1a1a1a" stroke-width="0.22">20000</text>
<line x1="390.60" y1="671.40" x2="393.60" y2="671.40" stroke="#222" stroke-width="1.1"/>
<text x="384.40" y="674.92" font-size="10.2" text-anchor="end" fill="#1a1a1a" stroke="#1a1a1a" stroke-width="0.22">25000</text>
<line x1="393.10" y1="758.60" x2="510.42" y2="758.60" stroke="#222" stroke-width="1.1"/>
<line x1="413.07" y1="758.60" x2="413.07" y2="777.00" stroke="#222" stroke-width="1.1"/>
<line x1="432.54" y1="758.60" x2="432.54" y2="777.00" stroke="#222" stroke-width="1.1"/>
<line x1="452.01" y1="758.60" x2="452.01" y2="796.50" stroke="#222" stroke-width="1.1"/>
<line x1="471.48" y1="758.60" x2="471.48" y2="777.00" stroke="#222" stroke-width="1.1"/>
<line x1="490.95" y1="758.60" x2="490.95" y2="777.00" stroke="#222" stroke-width="1.1"/>
<line x1="510.42" y1="758.60" x2="510.42" y2="796.50" stroke="#222" stroke-width="1.1"/>
<rect x="396.00" y="719.88" width="14.67" height="38.72" fill="#e6717d" stroke="#1a1a1a" stroke-width="1"/>
<line x1="403.34" y1="719.88" x2="403.34" y2="716.74" stroke="#222" stroke-width="1.0"/>
<line x1="400.84" y1="716.74" x2="405.84" y2="716.74" stroke="#222" stroke-width="1.0"/>
<text x="403.34" y="774.92" font-size="10.5" text-anchor="middle" fill="#1a1a1a" stroke="#1a1a1a" stroke-width="0.22">V</text>
<rect x="415.47" y="698.61" width="14.67" height="59.99" fill="#3b47a1" stroke="#1a1a1a" stroke-width="1"/>
<line x1="422.81" y1="698.61" x2="422.81" y2="695.82" stroke="#222" stroke-width="1.0"/>
<line x1="420.31" y1="695.82" x2="425.31" y2="695.82" stroke="#222" stroke-width="1.0"/>
<text x="422.81" y="774.92" font-size="10.5" text-anchor="middle" fill="#1a1a1a" stroke="#1a1a1a" stroke-width="0.22">2:1</text>
<rect x="434.94" y="750.93" width="14.67" height="7.67" fill="#bcd4ea" stroke="#1a1a1a" stroke-width="1"/>
<line x1="442.27" y1="750.93" x2="442.27" y2="747.09" stroke="#222" stroke-width="1.0"/>
<line x1="439.77" y1="747.09" x2="444.77" y2="747.09" stroke="#222" stroke-width="1.0"/>
<text x="442.28" y="774.92" font-size="10.5" text-anchor="middle" fill="#1a1a1a" stroke="#1a1a1a" stroke-width="0.22">A</text>
<rect x="454.41" y="708.72" width="14.67" height="49.88" fill="#e6717d" stroke="#1a1a1a" stroke-width="1"/>
<line x1="461.75" y1="708.72" x2="461.75" y2="705.58" stroke="#222" stroke-width="1.0"/>
<line x1="459.25" y1="705.58" x2="464.25" y2="705.58" stroke="#222" stroke-width="1.0"/>
<text x="461.75" y="774.92" font-size="10.5" text-anchor="middle" fill="#1a1a1a" stroke="#1a1a1a" stroke-width="0.22">V</text>
<rect x="473.88" y="685.00" width="14.67" height="73.60" fill="#3b47a1" stroke="#1a1a1a" stroke-width="1"/>
<line x1="481.22" y1="685.00" x2="481.22" y2="676.98" stroke="#222" stroke-width="1.0"/>
<line x1="478.72" y1="676.98" x2="483.72" y2="676.98" stroke="#222" stroke-width="1.0"/>
<text x="481.22" y="774.92" font-size="10.5" text-anchor="middle" fill="#1a1a1a" stroke="#1a1a1a" stroke-width="0.22">2:1</text>
<rect x="493.35" y="751.62" width="14.67" height="6.98" fill="#bcd4ea" stroke="#1a1a1a" stroke-width="1"/>
<line x1="500.69" y1="751.62" x2="500.69" y2="750.23" stroke="#222" stroke-width="1.0"/>
<line x1="498.19" y1="750.23" x2="503.19" y2="750.23" stroke="#222" stroke-width="1.0"/>
<text x="500.69" y="774.92" font-size="10.5" text-anchor="middle" fill="#1a1a1a" stroke="#1a1a1a" stroke-width="0.22">A</text>
<text x="422.81" y="793.22" font-size="10.5" text-anchor="middle" fill="#1a1a1a" stroke="#1a1a1a" stroke-width="0.22">TNF-α (-)</text>
<text x="481.22" y="793.22" font-size="10.5" text-anchor="middle" fill="#1a1a1a" stroke="#1a1a1a" stroke-width="0.22">TNF-α (+)</text>
<text transform="translate(336.00,730.30) rotate(-90)" x="0" y="3.55" font-size="10.3" text-anchor="middle" fill="#1a1a1a" stroke="#1a1a1a" stroke-width="0.22">Total master segments</text>
<text transform="translate(348.00,730.30) rotate(-90)" x="0" y="3.55" font-size="10.3" text-anchor="middle" fill="#1a1a1a" stroke="#1a1a1a" stroke-width="0.22">length (µm)</text>
<polyline points="402.50,668.20 402.50,658.70 443.50,658.70 443.50,668.20" fill="none" stroke="#333" stroke-width="1.1"/>
<text x="423.00" y="657.58" font-size="10" text-anchor="middle" fill="#1a1a1a">***</text>
<polyline points="402.50,702.00 402.50,677.80 421.20,677.80 421.20,686.30" fill="none" stroke="#333" stroke-width="1.1"/>
<text x="411.85" y="676.67" font-size="10" text-anchor="middle" fill="#1a1a1a">***</text>
<polyline points="424.40,686.30 424.40,677.80 443.50,677.80 443.50,734.00" fill="none" stroke="#333" stroke-width="1.1"/>
<text x="433.95" y="676.67" font-size="10" text-anchor="middle" fill="#1a1a1a">***</text>
<text x="461.75" y="701.09" font-size="7.8" text-anchor="middle" fill="#1a1a1a" stroke="#1a1a1a" stroke-width="0.22">$$</text>
<text x="481.22" y="673.46" font-size="8.3" text-anchor="middle" fill="#1a1a1a" stroke="#1a1a1a" stroke-width="0.22">#</text>
<polyline points="460.10,650.20 460.10,640.60 501.30,640.60 501.30,650.20" fill="none" stroke="#333" stroke-width="1.1"/>
<text x="480.70" y="639.48" font-size="10" text-anchor="middle" fill="#1a1a1a">***</text>
<polyline points="460.10,683.10 460.10,655.00 479.20,655.00 479.20,664.00" fill="none" stroke="#333" stroke-width="1.1"/>
<text x="469.65" y="653.88" font-size="10" text-anchor="middle" fill="#1a1a1a">***</text>
<polyline points="483.30,664.00 483.30,655.00 501.30,655.00 501.30,729.80" fill="none" stroke="#333" stroke-width="1.1"/>
<text x="492.30" y="653.88" font-size="10" text-anchor="middle" fill="#1a1a1a">***</text>
<line x1="555.20" y1="670.90" x2="555.20" y2="796.50" stroke="#222" stroke-width="1.1"/>
<line x1="552.20" y1="758.70" x2="555.20" y2="758.70" stroke="#222" stroke-width="1.1"/>
<text x="546.00" y="762.22" font-size="10.2" text-anchor="end" fill="#1a1a1a" stroke="#1a1a1a" stroke-width="0.22">0</text>
<line x1="552.20" y1="736.88" x2="555.20" y2="736.88" stroke="#222" stroke-width="1.1"/>
<text x="546.00" y="740.39" font-size="10.2" text-anchor="end" fill="#1a1a1a" stroke="#1a1a1a" stroke-width="0.22">20</text>
<line x1="552.20" y1="715.05" x2="555.20" y2="715.05" stroke="#222" stroke-width="1.1"/>
<text x="546.00" y="718.57" font-size="10.2" text-anchor="end" fill="#1a1a1a" stroke="#1a1a1a" stroke-width="0.22">40</text>
<line x1="552.20" y1="693.23" x2="555.20" y2="693.23" stroke="#222" stroke-width="1.1"/>
<text x="546.00" y="696.74" font-size="10.2" text-anchor="end" fill="#1a1a1a" stroke="#1a1a1a" stroke-width="0.22">60</text>
<line x1="552.20" y1="671.40" x2="555.20" y2="671.40" stroke="#222" stroke-width="1.1"/>
<text x="546.00" y="674.92" font-size="10.2" text-anchor="end" fill="#1a1a1a" stroke="#1a1a1a" stroke-width="0.22">80</text>
<line x1="554.70" y1="758.70" x2="671.42" y2="758.70" stroke="#222" stroke-width="1.1"/>
<line x1="574.57" y1="758.70" x2="574.57" y2="777.00" stroke="#222" stroke-width="1.1"/>
<line x1="593.94" y1="758.70" x2="593.94" y2="777.00" stroke="#222" stroke-width="1.1"/>
<line x1="613.31" y1="758.70" x2="613.31" y2="796.50" stroke="#222" stroke-width="1.1"/>
<line x1="632.68" y1="758.70" x2="632.68" y2="777.00" stroke="#222" stroke-width="1.1"/>
<line x1="652.05" y1="758.70" x2="652.05" y2="777.00" stroke="#222" stroke-width="1.1"/>
<line x1="671.42" y1="758.70" x2="671.42" y2="796.50" stroke="#222" stroke-width="1.1"/>
<rect x="557.60" y="692.13" width="14.57" height="66.57" fill="#e6717d" stroke="#1a1a1a" stroke-width="1"/>
<line x1="564.88" y1="692.13" x2="564.88" y2="677.40" stroke="#222" stroke-width="1.0"/>
<line x1="562.38" y1="677.40" x2="567.38" y2="677.40" stroke="#222" stroke-width="1.0"/>
<text x="564.88" y="774.92" font-size="10.5" text-anchor="middle" fill="#1a1a1a" stroke="#1a1a1a" stroke-width="0.22">V</text>
<rect x="576.97" y="732.51" width="14.57" height="26.19" fill="#3b47a1" stroke="#1a1a1a" stroke-width="1"/>
<line x1="584.26" y1="732.51" x2="584.26" y2="730.33" stroke="#222" stroke-width="1.0"/>
<line x1="581.76" y1="730.33" x2="586.76" y2="730.33" stroke="#222" stroke-width="1.0"/>
<text x="584.25" y="774.92" font-size="10.5" text-anchor="middle" fill="#1a1a1a" stroke="#1a1a1a" stroke-width="0.22">2:1</text>
<rect x="596.34" y="718.32" width="14.57" height="40.38" fill="#bcd4ea" stroke="#1a1a1a" stroke-width="1"/>
<line x1="603.62" y1="718.32" x2="603.62" y2="706.32" stroke="#222" stroke-width="1.0"/>
<line x1="601.12" y1="706.32" x2="606.12" y2="706.32" stroke="#222" stroke-width="1.0"/>
<text x="603.62" y="774.92" font-size="10.5" text-anchor="middle" fill="#1a1a1a" stroke="#1a1a1a" stroke-width="0.22">A</text>
<rect x="615.71" y="708.50" width="14.57" height="50.20" fill="#e6717d" stroke="#1a1a1a" stroke-width="1"/>
<line x1="623.00" y1="708.50" x2="623.00" y2="686.68" stroke="#222" stroke-width="1.0"/>
<line x1="620.50" y1="686.68" x2="625.50" y2="686.68" stroke="#222" stroke-width="1.0"/>
<text x="623.00" y="774.92" font-size="10.5" text-anchor="middle" fill="#1a1a1a" stroke="#1a1a1a" stroke-width="0.22">V</text>
<rect x="635.08" y="733.60" width="14.57" height="25.10" fill="#3b47a1" stroke="#1a1a1a" stroke-width="1"/>
<line x1="642.37" y1="733.60" x2="642.37" y2="722.69" stroke="#222" stroke-width="1.0"/>
<line x1="639.87" y1="722.69" x2="644.87" y2="722.69" stroke="#222" stroke-width="1.0"/>
<text x="642.37" y="774.92" font-size="10.5" text-anchor="middle" fill="#1a1a1a" stroke="#1a1a1a" stroke-width="0.22">2:1</text>
<rect x="654.45" y="712.87" width="14.57" height="45.83" fill="#bcd4ea" stroke="#1a1a1a" stroke-width="1"/>
<line x1="661.74" y1="712.87" x2="661.74" y2="703.05" stroke="#222" stroke-width="1.0"/>
<line x1="659.24" y1="703.05" x2="664.24" y2="703.05" stroke="#222" stroke-width="1.0"/>
<text x="661.74" y="774.92" font-size="10.5" text-anchor="middle" fill="#1a1a1a" stroke="#1a1a1a" stroke-width="0.22">A</text>
<text x="584.25" y="793.22" font-size="10.5" text-anchor="middle" fill="#1a1a1a" stroke="#1a1a1a" stroke-width="0.22">TNF-α (-)</text>
<text x="642.37" y="793.22" font-size="10.5" text-anchor="middle" fill="#1a1a1a" stroke="#1a1a1a" stroke-width="0.22">TNF-α (+)</text>
<text transform="translate(528.00,732.00) rotate(-90)" x="0" y="3.55" font-size="10.3" text-anchor="middle" fill="#1a1a1a" stroke="#1a1a1a" stroke-width="0.22">Number of isolated segments</text>
<polyline points="563.70,653.40 563.70,644.40 604.50,644.40 604.50,673.50" fill="none" stroke="#333" stroke-width="1.1"/>
<text x="584.10" y="643.27" font-size="10" text-anchor="middle" fill="#1a1a1a">*</text>
<polyline points="563.70,669.30 563.70,659.70 582.90,659.70 582.90,718.10" fill="none" stroke="#333" stroke-width="1.1"/>
<text x="573.30" y="658.58" font-size="10" text-anchor="middle" fill="#1a1a1a">**</text>
</svg></body></html>
